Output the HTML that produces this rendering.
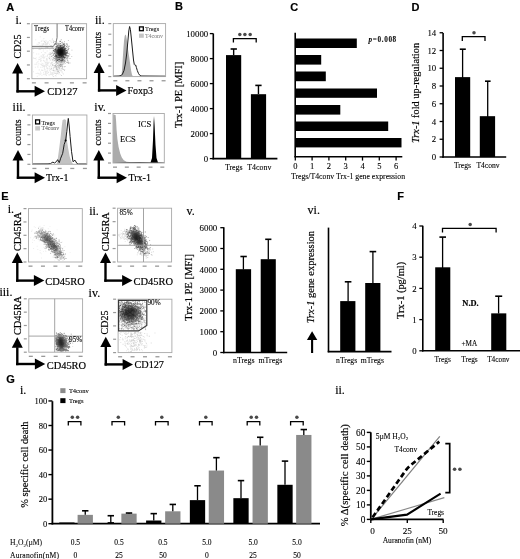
<!DOCTYPE html>
<html><head><meta charset="utf-8"><title>Figure</title>
<style>html,body{margin:0;padding:0;background:#fff;}body{width:520px;height:559px;overflow:hidden;font-family:"Liberation Serif",serif;}svg{display:block;will-change:transform;filter:blur(0.3px);}text{stroke:#000;stroke-width:0.18px;}</style>
</head><body>
<svg width="520" height="559" viewBox="0 0 520 559"><defs><filter id="b0_4" x="-50%" y="-50%" width="200%" height="200%"><feGaussianBlur stdDeviation="0.4"/></filter><filter id="b1_5" x="-50%" y="-50%" width="200%" height="200%"><feGaussianBlur stdDeviation="1.5"/></filter><filter id="b1_6" x="-50%" y="-50%" width="200%" height="200%"><feGaussianBlur stdDeviation="1.6"/></filter><filter id="b1_8" x="-50%" y="-50%" width="200%" height="200%"><feGaussianBlur stdDeviation="1.8"/></filter><filter id="b2_0" x="-50%" y="-50%" width="200%" height="200%"><feGaussianBlur stdDeviation="2.0"/></filter><filter id="b2_5" x="-50%" y="-50%" width="200%" height="200%"><feGaussianBlur stdDeviation="2.5"/></filter><filter id="b3" x="-50%" y="-50%" width="200%" height="200%"><feGaussianBlur stdDeviation="3"/></filter></defs><text x="6.3" y="10.8" font-family="Liberation Sans" font-size="11" text-anchor="start" font-weight="bold" font-style="normal" fill="#000">A</text>
<text x="15.4" y="24.4" font-family="Liberation Serif" font-size="12" text-anchor="start" font-weight="normal" font-style="normal" fill="#000">i.</text>
<text x="95" y="24.2" font-family="Liberation Serif" font-size="12" text-anchor="start" font-weight="normal" font-style="normal" fill="#000">ii.</text>
<text x="12.6" y="111" font-family="Liberation Serif" font-size="12" text-anchor="start" font-weight="normal" font-style="normal" fill="#000">iii.</text>
<text x="94.3" y="110.9" font-family="Liberation Serif" font-size="12" text-anchor="start" font-weight="normal" font-style="normal" fill="#000">iv.</text>
<rect x="26.9" y="23.1" width="3" height="1.2" fill="#999"/>
<rect x="26.9" y="36.85" width="3" height="1.2" fill="#999"/>
<rect x="26.9" y="50.6" width="3" height="1.2" fill="#999"/>
<rect x="26.9" y="64.35" width="3" height="1.2" fill="#999"/>
<rect x="26.9" y="78.1" width="3" height="1.2" fill="#999"/>
<rect x="31.9" y="82.2" width="4" height="1.3" fill="#999"/>
<rect x="44.57" y="82.2" width="4" height="1.3" fill="#999"/>
<rect x="57.25" y="82.2" width="4" height="1.3" fill="#999"/>
<rect x="69.92" y="82.2" width="4" height="1.3" fill="#999"/>
<rect x="82.6" y="82.2" width="4" height="1.3" fill="#999"/>
<path d="M59.98 53.44h0.9v0.9h-0.9zM60.07 50.79h0.9v0.9h-0.9zM58.1 51.12h0.9v0.9h-0.9zM63.81 53.16h0.9v0.9h-0.9zM63.6 52.6h0.9v0.9h-0.9zM61.81 52.39h0.9v0.9h-0.9zM56.04 54.54h0.9v0.9h-0.9zM62.12 53.4h0.9v0.9h-0.9zM55.96 46.22h0.9v0.9h-0.9zM58.21 50.3h0.9v0.9h-0.9zM61.56 51.65h0.9v0.9h-0.9zM62.16 49.74h0.9v0.9h-0.9zM61.56 53.06h0.9v0.9h-0.9zM58.85 57.3h0.9v0.9h-0.9zM62.26 55.63h0.9v0.9h-0.9zM58.96 49.43h0.9v0.9h-0.9zM59.74 51.46h0.9v0.9h-0.9zM62.47 52.59h0.9v0.9h-0.9zM59.45 48.74h0.9v0.9h-0.9zM59.24 55.71h0.9v0.9h-0.9zM58.44 52.58h0.9v0.9h-0.9zM61.89 47.03h0.9v0.9h-0.9zM60.84 55.98h0.9v0.9h-0.9zM55.06 50.77h0.9v0.9h-0.9zM60.4 49.18h0.9v0.9h-0.9zM62.09 51.6h0.9v0.9h-0.9zM56.6 54.45h0.9v0.9h-0.9zM62.57 54.83h0.9v0.9h-0.9zM64.73 52.96h0.9v0.9h-0.9zM61.03 47.64h0.9v0.9h-0.9zM62.42 49.84h0.9v0.9h-0.9zM59.43 47.75h0.9v0.9h-0.9zM57.99 50.1h0.9v0.9h-0.9zM64.31 45.3h0.9v0.9h-0.9zM56.62 52.57h0.9v0.9h-0.9zM64.74 53.65h0.9v0.9h-0.9zM55.38 43.74h0.9v0.9h-0.9zM61.7 49.44h0.9v0.9h-0.9zM57.56 54.93h0.9v0.9h-0.9zM63.79 52.3h0.9v0.9h-0.9zM61.39 53.19h0.9v0.9h-0.9zM65.16 53.78h0.9v0.9h-0.9zM62.15 53.55h0.9v0.9h-0.9zM56.31 55.9h0.9v0.9h-0.9zM63.37 53.49h0.9v0.9h-0.9zM55.17 49.77h0.9v0.9h-0.9zM63.06 46h0.9v0.9h-0.9zM60.18 55.06h0.9v0.9h-0.9zM57.03 56.95h0.9v0.9h-0.9zM62.25 51.32h0.9v0.9h-0.9zM61.61 53.88h0.9v0.9h-0.9zM61.04 55.47h0.9v0.9h-0.9zM58.85 50.47h0.9v0.9h-0.9zM63.62 51.89h0.9v0.9h-0.9zM58.23 54.83h0.9v0.9h-0.9zM64.8 50.38h0.9v0.9h-0.9zM56.84 51.37h0.9v0.9h-0.9zM60.28 50.85h0.9v0.9h-0.9zM64.63 48.51h0.9v0.9h-0.9zM64.23 47.74h0.9v0.9h-0.9zM58.5 53.82h0.9v0.9h-0.9zM63.86 54.55h0.9v0.9h-0.9zM61.67 52.26h0.9v0.9h-0.9zM61.13 53.64h0.9v0.9h-0.9zM60.21 52.69h0.9v0.9h-0.9zM62.3 51.8h0.9v0.9h-0.9zM62.84 53.61h0.9v0.9h-0.9zM66.33 52.84h0.9v0.9h-0.9zM59.5 50.61h0.9v0.9h-0.9zM60.66 54.76h0.9v0.9h-0.9zM59.76 53.03h0.9v0.9h-0.9zM65.84 43.59h0.9v0.9h-0.9zM57.55 52.58h0.9v0.9h-0.9zM61.82 52.56h0.9v0.9h-0.9zM59.49 53.9h0.9v0.9h-0.9zM61.49 50.13h0.9v0.9h-0.9zM67.5 52.94h0.9v0.9h-0.9zM59.15 51.48h0.9v0.9h-0.9zM60.07 51.6h0.9v0.9h-0.9zM53.06 50.24h0.9v0.9h-0.9zM63.52 48.06h0.9v0.9h-0.9zM60.51 54.85h0.9v0.9h-0.9zM63.1 56.57h0.9v0.9h-0.9zM55.94 50.67h0.9v0.9h-0.9zM59.75 53.79h0.9v0.9h-0.9zM63.76 43.21h0.9v0.9h-0.9zM63.75 47.17h0.9v0.9h-0.9zM62.61 47.03h0.9v0.9h-0.9zM61.19 55.62h0.9v0.9h-0.9zM60.28 52.41h0.9v0.9h-0.9zM62.93 52.25h0.9v0.9h-0.9zM60.45 56.71h0.9v0.9h-0.9zM63.64 50.86h0.9v0.9h-0.9zM68.39 48.13h0.9v0.9h-0.9zM63.26 50.95h0.9v0.9h-0.9zM61.07 54.06h0.9v0.9h-0.9zM61.32 53.84h0.9v0.9h-0.9zM56.42 46.97h0.9v0.9h-0.9zM62.42 48.72h0.9v0.9h-0.9zM57.83 47.1h0.9v0.9h-0.9zM64.25 54.19h0.9v0.9h-0.9zM64.82 48.8h0.9v0.9h-0.9zM60.7 48.15h0.9v0.9h-0.9zM62.84 56.89h0.9v0.9h-0.9zM58.21 56.79h0.9v0.9h-0.9zM63.47 51.23h0.9v0.9h-0.9zM55.18 56.3h0.9v0.9h-0.9zM60.43 49.87h0.9v0.9h-0.9zM61.82 53.11h0.9v0.9h-0.9zM64.89 48.54h0.9v0.9h-0.9zM63.88 56.56h0.9v0.9h-0.9zM64.77 51.22h0.9v0.9h-0.9zM58.62 55.06h0.9v0.9h-0.9zM61.02 52.2h0.9v0.9h-0.9zM64.69 50.96h0.9v0.9h-0.9zM54.27 50.56h0.9v0.9h-0.9zM55.51 54.42h0.9v0.9h-0.9zM61.59 49.84h0.9v0.9h-0.9zM60.67 54.46h0.9v0.9h-0.9zM60.92 56.04h0.9v0.9h-0.9zM60.53 55.13h0.9v0.9h-0.9zM64.88 56.95h0.9v0.9h-0.9zM58.82 54.62h0.9v0.9h-0.9zM55.45 48.33h0.9v0.9h-0.9zM55.2 55.22h0.9v0.9h-0.9zM57.25 51.76h0.9v0.9h-0.9zM60.16 51.71h0.9v0.9h-0.9zM59.04 52.55h0.9v0.9h-0.9zM65.72 51.94h0.9v0.9h-0.9zM62.19 55h0.9v0.9h-0.9zM60.15 47.77h0.9v0.9h-0.9zM59.14 55.24h0.9v0.9h-0.9zM56.09 49.89h0.9v0.9h-0.9zM63.52 54.34h0.9v0.9h-0.9zM60.72 54.38h0.9v0.9h-0.9zM61.16 48.03h0.9v0.9h-0.9zM56.32 49.76h0.9v0.9h-0.9zM63.28 49.99h0.9v0.9h-0.9zM58.17 49.33h0.9v0.9h-0.9zM56.41 51.42h0.9v0.9h-0.9zM57.4 52.97h0.9v0.9h-0.9zM54.09 52.85h0.9v0.9h-0.9zM58.9 45.59h0.9v0.9h-0.9zM62.73 50.92h0.9v0.9h-0.9zM54.46 49h0.9v0.9h-0.9zM61.51 50.33h0.9v0.9h-0.9zM62.88 54.19h0.9v0.9h-0.9zM62.57 52.85h0.9v0.9h-0.9zM64.43 53.91h0.9v0.9h-0.9zM61.96 45.13h0.9v0.9h-0.9zM63.21 55.99h0.9v0.9h-0.9zM59.87 50.3h0.9v0.9h-0.9zM66.13 46.17h0.9v0.9h-0.9zM62.01 59.56h0.9v0.9h-0.9zM58.1 54.01h0.9v0.9h-0.9zM65.98 51.42h0.9v0.9h-0.9zM62.27 54.69h0.9v0.9h-0.9zM58.16 51.51h0.9v0.9h-0.9zM61.52 54.44h0.9v0.9h-0.9zM60.6 51.17h0.9v0.9h-0.9zM57.85 50.65h0.9v0.9h-0.9zM63.2 52.13h0.9v0.9h-0.9zM58.31 49.11h0.9v0.9h-0.9zM68.17 55.45h0.9v0.9h-0.9zM62.48 43.5h0.9v0.9h-0.9zM62.44 53.34h0.9v0.9h-0.9zM65.42 53.17h0.9v0.9h-0.9zM60.51 53.47h0.9v0.9h-0.9zM55.26 55.11h0.9v0.9h-0.9zM61.61 49.55h0.9v0.9h-0.9zM64.41 57.59h0.9v0.9h-0.9zM56.77 49.67h0.9v0.9h-0.9zM61.52 52.39h0.9v0.9h-0.9zM59.58 48.68h0.9v0.9h-0.9zM66.64 55.12h0.9v0.9h-0.9zM57.36 47.5h0.9v0.9h-0.9zM65.47 54.97h0.9v0.9h-0.9zM65.8 54.39h0.9v0.9h-0.9zM58.26 52.63h0.9v0.9h-0.9zM54.65 49.41h0.9v0.9h-0.9zM60.54 53.47h0.9v0.9h-0.9zM58.66 51.4h0.9v0.9h-0.9zM61.98 53.01h0.9v0.9h-0.9zM62.49 52.47h0.9v0.9h-0.9zM59.79 54.33h0.9v0.9h-0.9zM60.84 49.16h0.9v0.9h-0.9zM58.95 51.8h0.9v0.9h-0.9zM60.39 52.3h0.9v0.9h-0.9zM60.7 52.36h0.9v0.9h-0.9zM60.32 47.77h0.9v0.9h-0.9zM61.88 55.17h0.9v0.9h-0.9zM61.92 51.19h0.9v0.9h-0.9zM61.95 48.71h0.9v0.9h-0.9zM55.39 51.99h0.9v0.9h-0.9zM58.09 54.17h0.9v0.9h-0.9zM57.66 43.39h0.9v0.9h-0.9zM57.79 56.85h0.9v0.9h-0.9zM59.63 47.42h0.9v0.9h-0.9zM58.56 53.47h0.9v0.9h-0.9zM62.09 52.37h0.9v0.9h-0.9zM64.85 54.06h0.9v0.9h-0.9zM60.64 53.71h0.9v0.9h-0.9zM65.33 54.91h0.9v0.9h-0.9zM63.57 48.33h0.9v0.9h-0.9zM60.28 54.14h0.9v0.9h-0.9zM59.87 55.22h0.9v0.9h-0.9zM62.37 54.71h0.9v0.9h-0.9zM60.11 59.95h0.9v0.9h-0.9zM64.17 51.11h0.9v0.9h-0.9zM60.95 60.1h0.9v0.9h-0.9zM59.74 54.6h0.9v0.9h-0.9zM63.45 51.82h0.9v0.9h-0.9zM57.43 52.4h0.9v0.9h-0.9zM61.71 55.41h0.9v0.9h-0.9zM62.89 51.88h0.9v0.9h-0.9zM63.09 53.53h0.9v0.9h-0.9zM61.28 51.98h0.9v0.9h-0.9zM60.02 54h0.9v0.9h-0.9zM57.75 49.79h0.9v0.9h-0.9zM60.71 47.12h0.9v0.9h-0.9zM59.48 45.37h0.9v0.9h-0.9zM58.79 53.62h0.9v0.9h-0.9zM62.29 51.63h0.9v0.9h-0.9zM60.05 47.27h0.9v0.9h-0.9zM65.82 53.45h0.9v0.9h-0.9zM63.76 48.98h0.9v0.9h-0.9zM60.18 45.98h0.9v0.9h-0.9zM62.89 54.79h0.9v0.9h-0.9zM55.39 51.63h0.9v0.9h-0.9zM62.46 46.16h0.9v0.9h-0.9zM55.59 48.39h0.9v0.9h-0.9zM58.94 47.31h0.9v0.9h-0.9zM60.79 52.6h0.9v0.9h-0.9zM62.48 54.05h0.9v0.9h-0.9zM64.91 55.53h0.9v0.9h-0.9zM57.03 50.18h0.9v0.9h-0.9zM57.73 48.35h0.9v0.9h-0.9zM60.47 51.82h0.9v0.9h-0.9zM62.07 46.72h0.9v0.9h-0.9zM57.23 51.73h0.9v0.9h-0.9zM60.14 50.8h0.9v0.9h-0.9zM60.52 49.37h0.9v0.9h-0.9zM62.66 52.93h0.9v0.9h-0.9zM60.45 49.65h0.9v0.9h-0.9zM60.21 43.09h0.9v0.9h-0.9zM57.95 51.92h0.9v0.9h-0.9zM56.49 52.44h0.9v0.9h-0.9zM61.11 47.39h0.9v0.9h-0.9zM60 50.8h0.9v0.9h-0.9zM61.99 53.76h0.9v0.9h-0.9zM60.6 49.08h0.9v0.9h-0.9zM60.3 51.59h0.9v0.9h-0.9zM62.76 52.74h0.9v0.9h-0.9zM58.68 47.47h0.9v0.9h-0.9zM59.66 49.43h0.9v0.9h-0.9zM57.59 51.43h0.9v0.9h-0.9zM59.33 52.14h0.9v0.9h-0.9zM62.17 50.48h0.9v0.9h-0.9zM67.21 50.77h0.9v0.9h-0.9zM63.78 52.19h0.9v0.9h-0.9zM63.83 44.2h0.9v0.9h-0.9zM58.6 52.59h0.9v0.9h-0.9zM62.39 59.28h0.9v0.9h-0.9zM61.6 55.9h0.9v0.9h-0.9zM62.85 54.83h0.9v0.9h-0.9zM62.13 51.3h0.9v0.9h-0.9zM62.13 48.35h0.9v0.9h-0.9zM64.01 48.54h0.9v0.9h-0.9zM61.4 58.59h0.9v0.9h-0.9zM60.07 51.86h0.9v0.9h-0.9zM63.96 51.88h0.9v0.9h-0.9zM58.44 52.63h0.9v0.9h-0.9zM62.33 54.07h0.9v0.9h-0.9zM58.54 57.41h0.9v0.9h-0.9zM65.37 51.86h0.9v0.9h-0.9zM61.45 50.43h0.9v0.9h-0.9zM64.66 49.54h0.9v0.9h-0.9zM62.59 50.26h0.9v0.9h-0.9zM58.76 54.1h0.9v0.9h-0.9zM64.43 51.77h0.9v0.9h-0.9zM58.8 54.4h0.9v0.9h-0.9zM60.56 52.79h0.9v0.9h-0.9zM64.96 55.42h0.9v0.9h-0.9zM59.24 59.11h0.9v0.9h-0.9zM60.71 54.32h0.9v0.9h-0.9zM58.89 51.66h0.9v0.9h-0.9zM55.8 57.52h0.9v0.9h-0.9zM64.52 47.91h0.9v0.9h-0.9zM56.49 46.61h0.9v0.9h-0.9zM63.99 50.33h0.9v0.9h-0.9zM60.53 50.8h0.9v0.9h-0.9zM60.36 48.32h0.9v0.9h-0.9zM60.77 47.2h0.9v0.9h-0.9zM60.5 52.79h0.9v0.9h-0.9zM62.01 51.06h0.9v0.9h-0.9zM58.17 52.31h0.9v0.9h-0.9zM59.34 56.81h0.9v0.9h-0.9zM62.85 51.43h0.9v0.9h-0.9zM59.38 49.55h0.9v0.9h-0.9zM58.08 50.67h0.9v0.9h-0.9zM61.53 53.45h0.9v0.9h-0.9zM62.29 58.52h0.9v0.9h-0.9zM58.73 51.84h0.9v0.9h-0.9zM68.52 45.83h0.9v0.9h-0.9zM59.24 52.34h0.9v0.9h-0.9zM61.13 53.11h0.9v0.9h-0.9zM60.03 52.97h0.9v0.9h-0.9zM60.85 54.27h0.9v0.9h-0.9zM55.4 48.97h0.9v0.9h-0.9zM60.69 48.5h0.9v0.9h-0.9zM57.77 53.81h0.9v0.9h-0.9zM58.88 53.83h0.9v0.9h-0.9zM62.79 52.78h0.9v0.9h-0.9zM62.12 51.47h0.9v0.9h-0.9zM56.75 51.7h0.9v0.9h-0.9zM61.97 50.11h0.9v0.9h-0.9zM60.42 54.2h0.9v0.9h-0.9zM58.24 53.85h0.9v0.9h-0.9zM65.92 50.03h0.9v0.9h-0.9zM61.11 51.32h0.9v0.9h-0.9zM65.01 52.81h0.9v0.9h-0.9zM63.21 49.59h0.9v0.9h-0.9zM60.65 51.77h0.9v0.9h-0.9zM55.73 56.41h0.9v0.9h-0.9zM63.22 46.2h0.9v0.9h-0.9zM62.78 51.38h0.9v0.9h-0.9zM61.96 52.97h0.9v0.9h-0.9zM56.5 51.12h0.9v0.9h-0.9zM64.88 49.96h0.9v0.9h-0.9zM57.84 47.45h0.9v0.9h-0.9zM57.28 52.87h0.9v0.9h-0.9zM65.44 53.17h0.9v0.9h-0.9zM61.39 58.95h0.9v0.9h-0.9zM59.25 49.64h0.9v0.9h-0.9zM62.18 53.56h0.9v0.9h-0.9zM57.86 48.06h0.9v0.9h-0.9zM61.51 52.59h0.9v0.9h-0.9zM57.04 51.15h0.9v0.9h-0.9zM59.18 53.27h0.9v0.9h-0.9zM60.37 51.52h0.9v0.9h-0.9zM59.71 55.17h0.9v0.9h-0.9zM64.59 50.63h0.9v0.9h-0.9zM63.07 49.38h0.9v0.9h-0.9zM60.9 54.2h0.9v0.9h-0.9zM64.94 50.58h0.9v0.9h-0.9zM60.49 52.43h0.9v0.9h-0.9zM56.51 51.85h0.9v0.9h-0.9zM58.81 52.99h0.9v0.9h-0.9zM57.54 45.47h0.9v0.9h-0.9zM60.81 52.63h0.9v0.9h-0.9zM59.16 54.64h0.9v0.9h-0.9zM59.94 49.86h0.9v0.9h-0.9zM62.04 46.78h0.9v0.9h-0.9zM58.8 51.73h0.9v0.9h-0.9zM63.08 51.28h0.9v0.9h-0.9zM61.56 49.7h0.9v0.9h-0.9zM61.54 57.12h0.9v0.9h-0.9zM58.78 59.37h0.9v0.9h-0.9zM58.9 51.85h0.9v0.9h-0.9zM61.19 55.08h0.9v0.9h-0.9zM57.24 45.08h0.9v0.9h-0.9zM62.4 54.35h0.9v0.9h-0.9zM62.45 60.22h0.9v0.9h-0.9zM61.27 52.61h0.9v0.9h-0.9zM63.3 52.98h0.9v0.9h-0.9zM65.36 47.84h0.9v0.9h-0.9zM59.65 40.78h0.9v0.9h-0.9zM62.97 50.61h0.9v0.9h-0.9zM63.29 58.69h0.9v0.9h-0.9zM60.68 50.99h0.9v0.9h-0.9zM59.3 49.12h0.9v0.9h-0.9zM58.93 53.85h0.9v0.9h-0.9zM60.8 52.01h0.9v0.9h-0.9zM60.21 54.73h0.9v0.9h-0.9zM62.08 51.35h0.9v0.9h-0.9zM62.56 51.31h0.9v0.9h-0.9zM57.47 56.46h0.9v0.9h-0.9zM62 48.74h0.9v0.9h-0.9zM63.72 52.9h0.9v0.9h-0.9zM56.32 56.95h0.9v0.9h-0.9zM61.63 54.65h0.9v0.9h-0.9zM61.25 51.32h0.9v0.9h-0.9zM56.37 54.91h0.9v0.9h-0.9zM60.78 50.88h0.9v0.9h-0.9zM61.68 52.05h0.9v0.9h-0.9zM62.59 50.61h0.9v0.9h-0.9zM60.6 44.96h0.9v0.9h-0.9zM59.51 53.96h0.9v0.9h-0.9zM64.44 50.64h0.9v0.9h-0.9zM60.36 56.87h0.9v0.9h-0.9zM59.79 54.15h0.9v0.9h-0.9zM65.4 51.93h0.9v0.9h-0.9zM64.14 49.53h0.9v0.9h-0.9zM61.28 51.55h0.9v0.9h-0.9zM61.02 55.42h0.9v0.9h-0.9zM67.39 49.67h0.9v0.9h-0.9zM59.09 53.39h0.9v0.9h-0.9zM57.75 53.39h0.9v0.9h-0.9zM62.3 50.91h0.9v0.9h-0.9zM62.19 46.84h0.9v0.9h-0.9zM62.83 46.86h0.9v0.9h-0.9zM58.75 50.02h0.9v0.9h-0.9zM59.58 54.55h0.9v0.9h-0.9zM60.93 50.53h0.9v0.9h-0.9zM62.22 56.86h0.9v0.9h-0.9zM60.72 52.97h0.9v0.9h-0.9zM64.17 52.66h0.9v0.9h-0.9zM57.11 59.77h0.9v0.9h-0.9zM66.88 45.45h0.9v0.9h-0.9zM60.59 53.14h0.9v0.9h-0.9zM63.4 53.94h0.9v0.9h-0.9zM59.94 48.43h0.9v0.9h-0.9zM60.99 55.11h0.9v0.9h-0.9zM57.65 48.51h0.9v0.9h-0.9zM60.63 45.6h0.9v0.9h-0.9zM59.97 50.4h0.9v0.9h-0.9zM61.96 49.55h0.9v0.9h-0.9zM58.23 50.54h0.9v0.9h-0.9zM60.56 49.67h0.9v0.9h-0.9zM60.73 54.2h0.9v0.9h-0.9zM64.02 57.26h0.9v0.9h-0.9zM58.51 50.46h0.9v0.9h-0.9zM53.75 57.88h0.9v0.9h-0.9zM58.67 51.69h0.9v0.9h-0.9zM62.16 47.45h0.9v0.9h-0.9zM62 51.72h0.9v0.9h-0.9zM55.59 52.73h0.9v0.9h-0.9zM64.04 45.82h0.9v0.9h-0.9zM62.96 52.47h0.9v0.9h-0.9zM62.03 53.21h0.9v0.9h-0.9zM64.35 51.08h0.9v0.9h-0.9zM63.15 50.49h0.9v0.9h-0.9zM62.74 49.2h0.9v0.9h-0.9zM60.4 57.34h0.9v0.9h-0.9zM61.95 51.29h0.9v0.9h-0.9zM57.49 49.27h0.9v0.9h-0.9zM61.24 54.81h0.9v0.9h-0.9zM61.89 53.48h0.9v0.9h-0.9zM60.58 56.13h0.9v0.9h-0.9zM59.61 50.04h0.9v0.9h-0.9zM63.19 52h0.9v0.9h-0.9zM59.92 49.96h0.9v0.9h-0.9zM59.98 53.8h0.9v0.9h-0.9zM61.69 47.93h0.9v0.9h-0.9zM61.89 52.37h0.9v0.9h-0.9zM57.9 54.27h0.9v0.9h-0.9zM59.91 50.73h0.9v0.9h-0.9zM62.93 56.03h0.9v0.9h-0.9zM58.77 53.2h0.9v0.9h-0.9zM58.25 59.21h0.9v0.9h-0.9zM59.32 55.62h0.9v0.9h-0.9zM58.89 54.4h0.9v0.9h-0.9zM66.91 43.67h0.9v0.9h-0.9zM59.48 53.4h0.9v0.9h-0.9zM60.44 49.66h0.9v0.9h-0.9zM66.73 52.05h0.9v0.9h-0.9zM56.1 54.53h0.9v0.9h-0.9zM55.88 55.48h0.9v0.9h-0.9zM59.08 52.26h0.9v0.9h-0.9zM64.23 52.18h0.9v0.9h-0.9zM56.8 46.37h0.9v0.9h-0.9zM64.01 54.17h0.9v0.9h-0.9zM58.42 54.55h0.9v0.9h-0.9zM62.09 53.87h0.9v0.9h-0.9zM54.38 50.83h0.9v0.9h-0.9zM63.22 54.15h0.9v0.9h-0.9zM63.17 43.94h0.9v0.9h-0.9zM61.17 53.38h0.9v0.9h-0.9zM67.85 48.75h0.9v0.9h-0.9zM59.78 51.91h0.9v0.9h-0.9zM63.18 50.38h0.9v0.9h-0.9zM63.91 49.28h0.9v0.9h-0.9zM61.45 50.11h0.9v0.9h-0.9zM61.14 49.59h0.9v0.9h-0.9zM56.23 55.3h0.9v0.9h-0.9zM61.55 50.01h0.9v0.9h-0.9zM61.26 54.97h0.9v0.9h-0.9zM57.96 51.45h0.9v0.9h-0.9zM62.21 53.48h0.9v0.9h-0.9zM59.76 45.06h0.9v0.9h-0.9z" fill="#000" fill-opacity="0.55"/>
<path d="M64.72 54.64h0.9v0.9h-0.9zM60.05 51.61h0.9v0.9h-0.9zM61 50.87h0.9v0.9h-0.9zM56.11 49.3h0.9v0.9h-0.9zM57.73 49.94h0.9v0.9h-0.9zM55.6 56.18h0.9v0.9h-0.9zM55.02 56.3h0.9v0.9h-0.9zM56.14 54.76h0.9v0.9h-0.9zM65.22 54.02h0.9v0.9h-0.9zM57.22 53.24h0.9v0.9h-0.9zM60.56 44.33h0.9v0.9h-0.9zM57.69 53.82h0.9v0.9h-0.9zM58.22 53.4h0.9v0.9h-0.9zM62.79 56.83h0.9v0.9h-0.9zM63.44 55.94h0.9v0.9h-0.9zM58.91 52.91h0.9v0.9h-0.9zM58.97 51.43h0.9v0.9h-0.9zM59.32 44.38h0.9v0.9h-0.9zM58.73 52.88h0.9v0.9h-0.9zM56.3 52.88h0.9v0.9h-0.9zM61.96 52.18h0.9v0.9h-0.9zM67.89 39.97h0.9v0.9h-0.9zM59.22 43.87h0.9v0.9h-0.9zM63.72 66.27h0.9v0.9h-0.9zM50.49 53.64h0.9v0.9h-0.9zM61.97 51.49h0.9v0.9h-0.9zM62.1 41.79h0.9v0.9h-0.9zM63.24 54.86h0.9v0.9h-0.9zM60.09 50.06h0.9v0.9h-0.9zM62.43 50.57h0.9v0.9h-0.9zM60.85 50.45h0.9v0.9h-0.9zM51.46 52.84h0.9v0.9h-0.9zM60.77 56.77h0.9v0.9h-0.9zM56.67 52.83h0.9v0.9h-0.9zM62.35 53.73h0.9v0.9h-0.9zM64.72 62.96h0.9v0.9h-0.9zM56.55 43.4h0.9v0.9h-0.9zM63.26 60.65h0.9v0.9h-0.9zM63.5 57.07h0.9v0.9h-0.9zM57.65 49.43h0.9v0.9h-0.9zM63.38 48.44h0.9v0.9h-0.9zM53.11 48.01h0.9v0.9h-0.9zM69.47 62.62h0.9v0.9h-0.9zM57.39 49.36h0.9v0.9h-0.9zM60.88 49.25h0.9v0.9h-0.9zM64.98 52.61h0.9v0.9h-0.9zM55.87 59.54h0.9v0.9h-0.9zM57.78 54.11h0.9v0.9h-0.9zM59.95 51.43h0.9v0.9h-0.9zM61.23 49.54h0.9v0.9h-0.9zM52.99 41.96h0.9v0.9h-0.9zM55.19 49.21h0.9v0.9h-0.9zM59.91 53.28h0.9v0.9h-0.9zM62.11 53.6h0.9v0.9h-0.9zM56.98 49.46h0.9v0.9h-0.9zM51.95 52.15h0.9v0.9h-0.9zM61.84 55.65h0.9v0.9h-0.9zM59.54 52.13h0.9v0.9h-0.9zM63.56 53.08h0.9v0.9h-0.9zM62.8 55.91h0.9v0.9h-0.9zM60.81 59.53h0.9v0.9h-0.9zM57.82 51.21h0.9v0.9h-0.9zM56.93 49.01h0.9v0.9h-0.9zM65.91 61.8h0.9v0.9h-0.9zM60.09 55.84h0.9v0.9h-0.9zM64.47 57.04h0.9v0.9h-0.9zM64.58 46.69h0.9v0.9h-0.9zM57.57 55.26h0.9v0.9h-0.9zM65.45 53.52h0.9v0.9h-0.9zM56.74 51.23h0.9v0.9h-0.9zM57.49 48.71h0.9v0.9h-0.9zM65.7 49.87h0.9v0.9h-0.9zM60.08 63.81h0.9v0.9h-0.9zM64.5 54.68h0.9v0.9h-0.9zM57.67 55.05h0.9v0.9h-0.9zM66.16 56.12h0.9v0.9h-0.9zM64.79 53.49h0.9v0.9h-0.9zM61.96 52h0.9v0.9h-0.9zM61.62 59.5h0.9v0.9h-0.9zM54.56 52.69h0.9v0.9h-0.9zM60.91 50.14h0.9v0.9h-0.9zM58.83 56.93h0.9v0.9h-0.9zM67.61 56.15h0.9v0.9h-0.9zM61.24 45.24h0.9v0.9h-0.9zM67.32 53.38h0.9v0.9h-0.9zM59.87 47.41h0.9v0.9h-0.9zM59.78 47.52h0.9v0.9h-0.9zM60.27 55.33h0.9v0.9h-0.9zM60.12 54.4h0.9v0.9h-0.9zM56.76 60.15h0.9v0.9h-0.9zM57.52 43.91h0.9v0.9h-0.9zM59.29 49.18h0.9v0.9h-0.9zM56.16 51.23h0.9v0.9h-0.9zM61.11 47.09h0.9v0.9h-0.9zM59.48 60.13h0.9v0.9h-0.9zM62.59 52.24h0.9v0.9h-0.9zM60.49 52.4h0.9v0.9h-0.9zM59.82 56.66h0.9v0.9h-0.9zM59.65 40.98h0.9v0.9h-0.9zM59.92 48.55h0.9v0.9h-0.9zM62.47 49.95h0.9v0.9h-0.9zM60.56 63.89h0.9v0.9h-0.9zM56.02 47.38h0.9v0.9h-0.9zM54.64 41.03h0.9v0.9h-0.9zM52.86 54.82h0.9v0.9h-0.9zM57.58 43.66h0.9v0.9h-0.9zM54.37 56.09h0.9v0.9h-0.9zM57.05 51.17h0.9v0.9h-0.9zM61.26 59.78h0.9v0.9h-0.9zM67.38 58.16h0.9v0.9h-0.9zM60.55 53.92h0.9v0.9h-0.9zM66.85 60.14h0.9v0.9h-0.9zM58.82 55.29h0.9v0.9h-0.9zM61.09 53.26h0.9v0.9h-0.9zM58.1 46.37h0.9v0.9h-0.9zM57.97 45.28h0.9v0.9h-0.9zM64.65 55.68h0.9v0.9h-0.9zM55.42 59.98h0.9v0.9h-0.9zM63.39 43.46h0.9v0.9h-0.9zM67 57.05h0.9v0.9h-0.9zM67.84 46.84h0.9v0.9h-0.9zM62.02 55.12h0.9v0.9h-0.9zM60.77 53.86h0.9v0.9h-0.9zM64 45.53h0.9v0.9h-0.9zM55.28 46.03h0.9v0.9h-0.9zM57.88 49.97h0.9v0.9h-0.9zM61.4 54.33h0.9v0.9h-0.9zM60.12 49.62h0.9v0.9h-0.9zM58.32 57.76h0.9v0.9h-0.9zM62.9 53.5h0.9v0.9h-0.9zM58.77 60.77h0.9v0.9h-0.9zM57.74 56.24h0.9v0.9h-0.9zM64.38 51.67h0.9v0.9h-0.9zM63.14 47.42h0.9v0.9h-0.9zM63.85 54h0.9v0.9h-0.9zM53.97 56.35h0.9v0.9h-0.9zM56.61 59.41h0.9v0.9h-0.9zM57.42 52.18h0.9v0.9h-0.9zM61.08 51.34h0.9v0.9h-0.9zM60.99 50.23h0.9v0.9h-0.9zM62.55 53.03h0.9v0.9h-0.9zM60.8 39.24h0.9v0.9h-0.9zM64.41 53.16h0.9v0.9h-0.9zM53.23 53.48h0.9v0.9h-0.9zM61.78 58.35h0.9v0.9h-0.9zM55.89 60.74h0.9v0.9h-0.9zM59.39 64.97h0.9v0.9h-0.9zM59.44 56.4h0.9v0.9h-0.9zM58.61 47.42h0.9v0.9h-0.9zM64.17 57.53h0.9v0.9h-0.9zM65.85 57.28h0.9v0.9h-0.9zM57.82 44.69h0.9v0.9h-0.9zM57.53 49.62h0.9v0.9h-0.9zM56.9 55.91h0.9v0.9h-0.9zM61.25 51.65h0.9v0.9h-0.9zM60.66 52.27h0.9v0.9h-0.9zM60.81 56.76h0.9v0.9h-0.9zM63.65 49.57h0.9v0.9h-0.9zM54.27 60.14h0.9v0.9h-0.9zM60.44 58.53h0.9v0.9h-0.9zM53.76 51.35h0.9v0.9h-0.9zM60.1 45.79h0.9v0.9h-0.9zM58.04 56.62h0.9v0.9h-0.9zM64.1 60.97h0.9v0.9h-0.9zM56.72 45.99h0.9v0.9h-0.9zM61.98 57.7h0.9v0.9h-0.9zM60.73 46.49h0.9v0.9h-0.9zM62.97 56.96h0.9v0.9h-0.9zM62.1 50.56h0.9v0.9h-0.9zM61.16 56.95h0.9v0.9h-0.9zM57.88 43.78h0.9v0.9h-0.9zM61.25 55.4h0.9v0.9h-0.9zM60.05 57.45h0.9v0.9h-0.9zM57.77 52.59h0.9v0.9h-0.9zM58.84 55.86h0.9v0.9h-0.9zM66.06 51.74h0.9v0.9h-0.9zM67.81 60.64h0.9v0.9h-0.9zM63 55.94h0.9v0.9h-0.9zM66.73 52.1h0.9v0.9h-0.9zM59.57 47.69h0.9v0.9h-0.9zM61.8 59.72h0.9v0.9h-0.9zM62.02 55.12h0.9v0.9h-0.9zM59.24 53.85h0.9v0.9h-0.9zM54.58 58.24h0.9v0.9h-0.9zM58.44 47.48h0.9v0.9h-0.9zM57.14 48.88h0.9v0.9h-0.9zM63.25 58.29h0.9v0.9h-0.9zM54.84 57.63h0.9v0.9h-0.9zM63.37 50.1h0.9v0.9h-0.9zM54.35 49.27h0.9v0.9h-0.9zM57.59 54.71h0.9v0.9h-0.9zM58.64 42.86h0.9v0.9h-0.9zM60.89 45.33h0.9v0.9h-0.9zM63.44 46.97h0.9v0.9h-0.9zM57.37 48.73h0.9v0.9h-0.9zM57.94 59.49h0.9v0.9h-0.9zM63.24 56.01h0.9v0.9h-0.9zM61.21 45.26h0.9v0.9h-0.9zM58.02 50.24h0.9v0.9h-0.9zM56.29 55.55h0.9v0.9h-0.9zM57.18 49.45h0.9v0.9h-0.9zM56.03 42.71h0.9v0.9h-0.9zM62.26 59.65h0.9v0.9h-0.9zM60.66 48.12h0.9v0.9h-0.9zM49.72 53.86h0.9v0.9h-0.9zM64.62 54.49h0.9v0.9h-0.9zM63.52 60.39h0.9v0.9h-0.9zM64.28 50.79h0.9v0.9h-0.9zM64 56.88h0.9v0.9h-0.9zM54.16 50.97h0.9v0.9h-0.9zM54.59 52.45h0.9v0.9h-0.9zM62.2 47.66h0.9v0.9h-0.9zM52.19 59.49h0.9v0.9h-0.9zM61.43 60.36h0.9v0.9h-0.9zM54.97 58.3h0.9v0.9h-0.9zM67.88 63.04h0.9v0.9h-0.9zM59.2 54.35h0.9v0.9h-0.9zM59.41 57.99h0.9v0.9h-0.9zM63.94 53.43h0.9v0.9h-0.9zM54.84 56.71h0.9v0.9h-0.9zM58.21 56.14h0.9v0.9h-0.9zM61 61.12h0.9v0.9h-0.9zM64.32 50.75h0.9v0.9h-0.9zM61.33 61.82h0.9v0.9h-0.9zM57.96 55.17h0.9v0.9h-0.9zM64.52 59.28h0.9v0.9h-0.9zM61.97 46.4h0.9v0.9h-0.9zM55.21 54.24h0.9v0.9h-0.9zM61.47 65.74h0.9v0.9h-0.9zM56.73 58.69h0.9v0.9h-0.9zM62.93 44.64h0.9v0.9h-0.9zM56.89 53.83h0.9v0.9h-0.9zM58.12 52.23h0.9v0.9h-0.9zM61.79 48.95h0.9v0.9h-0.9zM61.77 49.82h0.9v0.9h-0.9zM57.93 55.68h0.9v0.9h-0.9zM57.82 54.44h0.9v0.9h-0.9zM66.08 53.14h0.9v0.9h-0.9zM59.44 56.68h0.9v0.9h-0.9zM58.61 58.41h0.9v0.9h-0.9zM55.13 56.09h0.9v0.9h-0.9zM58.05 49.01h0.9v0.9h-0.9zM66.72 48.75h0.9v0.9h-0.9zM66.68 56.29h0.9v0.9h-0.9zM65.52 48.12h0.9v0.9h-0.9zM64.56 60.28h0.9v0.9h-0.9zM59.56 52.35h0.9v0.9h-0.9zM69.33 53.89h0.9v0.9h-0.9zM58.39 49.85h0.9v0.9h-0.9zM61.69 54.65h0.9v0.9h-0.9zM60.67 61.61h0.9v0.9h-0.9zM58.75 55.37h0.9v0.9h-0.9zM65.55 47.98h0.9v0.9h-0.9zM63.95 62.16h0.9v0.9h-0.9zM54.85 47.51h0.9v0.9h-0.9zM56.05 43.77h0.9v0.9h-0.9zM61.72 43.72h0.9v0.9h-0.9zM61.9 60.27h0.9v0.9h-0.9zM53.86 51.42h0.9v0.9h-0.9zM52.71 56.9h0.9v0.9h-0.9zM57.2 51.67h0.9v0.9h-0.9zM60.21 55.73h0.9v0.9h-0.9zM58.68 53.08h0.9v0.9h-0.9zM57.92 53.57h0.9v0.9h-0.9zM55.54 53.32h0.9v0.9h-0.9zM52.66 50.55h0.9v0.9h-0.9zM67.28 53.4h0.9v0.9h-0.9zM55.21 54.29h0.9v0.9h-0.9zM56.31 44.74h0.9v0.9h-0.9zM57.2 56.68h0.9v0.9h-0.9zM61.46 52.52h0.9v0.9h-0.9zM56.48 47.61h0.9v0.9h-0.9zM65.13 54.22h0.9v0.9h-0.9zM56.38 42.45h0.9v0.9h-0.9zM54.79 65.38h0.9v0.9h-0.9zM55.63 52.62h0.9v0.9h-0.9zM60.8 52.21h0.9v0.9h-0.9zM58.94 46.13h0.9v0.9h-0.9zM56.01 61.44h0.9v0.9h-0.9zM57.13 57.23h0.9v0.9h-0.9zM53.56 51.63h0.9v0.9h-0.9zM60.99 58.18h0.9v0.9h-0.9zM55.73 55.98h0.9v0.9h-0.9zM61.47 49.31h0.9v0.9h-0.9zM61.81 48.51h0.9v0.9h-0.9zM56.97 52.91h0.9v0.9h-0.9zM49.69 52.45h0.9v0.9h-0.9zM56.2 45.69h0.9v0.9h-0.9zM58.38 56.81h0.9v0.9h-0.9zM58.46 59.33h0.9v0.9h-0.9zM55.59 46.44h0.9v0.9h-0.9zM65.89 54.99h0.9v0.9h-0.9zM63.59 48.87h0.9v0.9h-0.9zM63.06 54.3h0.9v0.9h-0.9zM62.46 53.13h0.9v0.9h-0.9zM64.58 49.75h0.9v0.9h-0.9zM56.34 45.61h0.9v0.9h-0.9zM64.41 49.31h0.9v0.9h-0.9zM56.04 48.3h0.9v0.9h-0.9zM58.31 46.64h0.9v0.9h-0.9zM58.9 49.86h0.9v0.9h-0.9zM57.91 48.2h0.9v0.9h-0.9zM60.14 50.7h0.9v0.9h-0.9zM60.44 54.25h0.9v0.9h-0.9zM61.29 42.05h0.9v0.9h-0.9zM57.96 49.02h0.9v0.9h-0.9zM62.94 45.11h0.9v0.9h-0.9zM57.29 51.53h0.9v0.9h-0.9zM58.72 57.96h0.9v0.9h-0.9zM58.32 57.82h0.9v0.9h-0.9zM54.43 43.94h0.9v0.9h-0.9zM64.63 55.18h0.9v0.9h-0.9zM61.85 53.62h0.9v0.9h-0.9zM61.84 46.92h0.9v0.9h-0.9zM63.6 50.34h0.9v0.9h-0.9zM63.75 53.44h0.9v0.9h-0.9zM52.5 46.56h0.9v0.9h-0.9zM64.29 52.32h0.9v0.9h-0.9zM58.5 54.21h0.9v0.9h-0.9zM58.38 50.28h0.9v0.9h-0.9zM60.39 53.72h0.9v0.9h-0.9zM65.76 53.23h0.9v0.9h-0.9zM67.14 62.01h0.9v0.9h-0.9zM66.52 58.31h0.9v0.9h-0.9zM60.5 53.69h0.9v0.9h-0.9zM59.46 49.34h0.9v0.9h-0.9zM59.75 49.8h0.9v0.9h-0.9zM66.23 55.67h0.9v0.9h-0.9zM58.3 43.42h0.9v0.9h-0.9zM59.8 50.92h0.9v0.9h-0.9zM55.87 47.32h0.9v0.9h-0.9zM51.45 55.84h0.9v0.9h-0.9zM59.75 65.91h0.9v0.9h-0.9zM59.88 52.26h0.9v0.9h-0.9zM65.49 53.67h0.9v0.9h-0.9zM60.64 51.14h0.9v0.9h-0.9zM57.7 60.5h0.9v0.9h-0.9zM63.8 61.58h0.9v0.9h-0.9zM58.67 53.15h0.9v0.9h-0.9zM56.65 57.84h0.9v0.9h-0.9zM54.71 55.82h0.9v0.9h-0.9zM64.16 60.06h0.9v0.9h-0.9zM56.43 58.45h0.9v0.9h-0.9zM57.29 49.21h0.9v0.9h-0.9zM54.97 58.78h0.9v0.9h-0.9zM66.26 50.03h0.9v0.9h-0.9zM57.11 51.31h0.9v0.9h-0.9zM69.53 58.02h0.9v0.9h-0.9zM57.94 44.03h0.9v0.9h-0.9zM57.44 58.94h0.9v0.9h-0.9zM67.1 51.67h0.9v0.9h-0.9zM57.37 50.45h0.9v0.9h-0.9zM52.83 57.54h0.9v0.9h-0.9zM55.87 58.32h0.9v0.9h-0.9zM53.51 46.65h0.9v0.9h-0.9zM61.1 49.18h0.9v0.9h-0.9zM62.97 53.04h0.9v0.9h-0.9zM55.54 56.11h0.9v0.9h-0.9zM63.2 43.43h0.9v0.9h-0.9zM66.94 55.49h0.9v0.9h-0.9zM62.89 43.7h0.9v0.9h-0.9zM57.27 51.25h0.9v0.9h-0.9zM64.09 45.7h0.9v0.9h-0.9zM56.64 42.85h0.9v0.9h-0.9zM59.08 54.73h0.9v0.9h-0.9zM53.59 50.04h0.9v0.9h-0.9zM61.94 60.93h0.9v0.9h-0.9zM62.52 51.48h0.9v0.9h-0.9zM55.52 48.32h0.9v0.9h-0.9zM57.48 53.74h0.9v0.9h-0.9zM59.81 61.34h0.9v0.9h-0.9zM61.09 47.64h0.9v0.9h-0.9zM65.87 57.75h0.9v0.9h-0.9zM60.38 49.39h0.9v0.9h-0.9zM52.89 47.89h0.9v0.9h-0.9zM63.46 48.99h0.9v0.9h-0.9zM54.99 53.98h0.9v0.9h-0.9zM60.93 56.03h0.9v0.9h-0.9zM62.49 60.05h0.9v0.9h-0.9zM56.81 57.89h0.9v0.9h-0.9zM56.25 56.47h0.9v0.9h-0.9zM60.68 54.22h0.9v0.9h-0.9zM63.68 52.91h0.9v0.9h-0.9zM64.23 57.38h0.9v0.9h-0.9zM60.51 50.17h0.9v0.9h-0.9zM57.14 50.36h0.9v0.9h-0.9zM59.23 52.88h0.9v0.9h-0.9zM71.33 56.19h0.9v0.9h-0.9zM62.92 48.7h0.9v0.9h-0.9zM57.3 51.4h0.9v0.9h-0.9zM60.73 47.82h0.9v0.9h-0.9zM66.13 50.18h0.9v0.9h-0.9zM64.1 41.32h0.9v0.9h-0.9zM59.97 54.39h0.9v0.9h-0.9zM60.73 56.01h0.9v0.9h-0.9zM61.06 53.81h0.9v0.9h-0.9zM52.81 49.43h0.9v0.9h-0.9zM51.1 56.14h0.9v0.9h-0.9zM61.17 52.02h0.9v0.9h-0.9zM56.88 50.09h0.9v0.9h-0.9zM67.01 61.66h0.9v0.9h-0.9zM59.78 59.44h0.9v0.9h-0.9zM53.97 43.32h0.9v0.9h-0.9zM58.16 48.63h0.9v0.9h-0.9zM57.88 53.94h0.9v0.9h-0.9zM71.49 49.7h0.9v0.9h-0.9zM60.19 54.38h0.9v0.9h-0.9zM59.87 57.65h0.9v0.9h-0.9zM66.75 46.78h0.9v0.9h-0.9zM60.61 51.68h0.9v0.9h-0.9zM61.35 45.34h0.9v0.9h-0.9zM53.32 41.42h0.9v0.9h-0.9zM62 53.96h0.9v0.9h-0.9zM60.28 41.17h0.9v0.9h-0.9zM58.58 49.22h0.9v0.9h-0.9zM54.63 48.42h0.9v0.9h-0.9zM62.65 55.72h0.9v0.9h-0.9zM59.91 55.57h0.9v0.9h-0.9zM57.71 53.36h0.9v0.9h-0.9zM60.15 55.77h0.9v0.9h-0.9zM59.73 52.28h0.9v0.9h-0.9zM59.49 49.78h0.9v0.9h-0.9zM68.49 55.57h0.9v0.9h-0.9zM61.63 64.46h0.9v0.9h-0.9zM65.33 45.22h0.9v0.9h-0.9zM62.64 57.19h0.9v0.9h-0.9zM67.16 59.58h0.9v0.9h-0.9zM62.93 47.11h0.9v0.9h-0.9zM56.69 54.34h0.9v0.9h-0.9zM61.92 47.89h0.9v0.9h-0.9zM58.54 51h0.9v0.9h-0.9zM60.23 54.68h0.9v0.9h-0.9zM58.91 46.82h0.9v0.9h-0.9zM64.72 60.98h0.9v0.9h-0.9zM59.6 58.12h0.9v0.9h-0.9zM61.69 56.3h0.9v0.9h-0.9zM61.83 49.18h0.9v0.9h-0.9zM62.18 58.05h0.9v0.9h-0.9zM56.59 62.83h0.9v0.9h-0.9zM67.94 62.12h0.9v0.9h-0.9zM67.56 56.71h0.9v0.9h-0.9zM58.71 50h0.9v0.9h-0.9zM56.91 53.58h0.9v0.9h-0.9zM59.88 56.35h0.9v0.9h-0.9zM52.32 64.56h0.9v0.9h-0.9zM68.65 52.86h0.9v0.9h-0.9zM62.57 55.38h0.9v0.9h-0.9zM61.04 51.96h0.9v0.9h-0.9zM59.53 48.88h0.9v0.9h-0.9zM60.68 52.88h0.9v0.9h-0.9zM61.22 48.72h0.9v0.9h-0.9zM60.15 53.24h0.9v0.9h-0.9zM62.3 47.68h0.9v0.9h-0.9zM61.59 57.92h0.9v0.9h-0.9zM62.27 51.16h0.9v0.9h-0.9zM58.13 51.82h0.9v0.9h-0.9zM62.77 60.76h0.9v0.9h-0.9zM59.4 49.79h0.9v0.9h-0.9zM61.43 54.02h0.9v0.9h-0.9zM56.55 49.31h0.9v0.9h-0.9zM59.61 56.36h0.9v0.9h-0.9zM55.47 47.91h0.9v0.9h-0.9zM61.9 46.88h0.9v0.9h-0.9zM60.41 54.76h0.9v0.9h-0.9zM59.58 47.91h0.9v0.9h-0.9zM59.77 51.34h0.9v0.9h-0.9zM61.28 48.81h0.9v0.9h-0.9zM64.15 44.62h0.9v0.9h-0.9zM59.33 53.04h0.9v0.9h-0.9zM63.65 49.96h0.9v0.9h-0.9zM62.07 50.17h0.9v0.9h-0.9zM62.81 61.69h0.9v0.9h-0.9zM58.48 55.21h0.9v0.9h-0.9zM56.48 57.87h0.9v0.9h-0.9zM64.6 53.18h0.9v0.9h-0.9zM55.69 55.01h0.9v0.9h-0.9zM64.37 58.45h0.9v0.9h-0.9zM63.09 43.85h0.9v0.9h-0.9zM57.42 60.11h0.9v0.9h-0.9zM55.34 58.66h0.9v0.9h-0.9z" fill="#000" fill-opacity="0.3"/>
<path d="M64.65 66.19h0.9v0.9h-0.9zM62.36 60.17h0.9v0.9h-0.9zM55.32 61.43h0.9v0.9h-0.9zM58.4 61.74h0.9v0.9h-0.9zM61.09 61.2h0.9v0.9h-0.9zM59.58 64.33h0.9v0.9h-0.9zM58.98 72.14h0.9v0.9h-0.9zM60.33 62.47h0.9v0.9h-0.9zM58.38 58.56h0.9v0.9h-0.9zM63.03 62.83h0.9v0.9h-0.9zM55.76 58.91h0.9v0.9h-0.9zM58.59 59.55h0.9v0.9h-0.9zM62.25 55.61h0.9v0.9h-0.9zM60.48 62.79h0.9v0.9h-0.9zM55.47 62.26h0.9v0.9h-0.9zM58.72 64.76h0.9v0.9h-0.9zM57.65 63.67h0.9v0.9h-0.9zM54 56.04h0.9v0.9h-0.9zM61.35 67.73h0.9v0.9h-0.9zM58.96 58.71h0.9v0.9h-0.9zM62.25 50.5h0.9v0.9h-0.9zM56.6 65.7h0.9v0.9h-0.9zM60.96 56.32h0.9v0.9h-0.9zM53.34 69.99h0.9v0.9h-0.9zM59.46 57.07h0.9v0.9h-0.9zM59.16 66.96h0.9v0.9h-0.9zM51.22 68.11h0.9v0.9h-0.9zM61.22 50.55h0.9v0.9h-0.9zM61.31 52.21h0.9v0.9h-0.9zM62.42 64.19h0.9v0.9h-0.9zM65.76 58.64h0.9v0.9h-0.9zM59.01 67.76h0.9v0.9h-0.9zM57.08 58.12h0.9v0.9h-0.9zM57.88 61.6h0.9v0.9h-0.9zM55.75 64.66h0.9v0.9h-0.9zM60.63 62.39h0.9v0.9h-0.9zM64.1 60.2h0.9v0.9h-0.9zM62.92 58.99h0.9v0.9h-0.9zM61.27 51.36h0.9v0.9h-0.9zM59.59 61.04h0.9v0.9h-0.9zM57.51 58.64h0.9v0.9h-0.9zM57.96 58.04h0.9v0.9h-0.9zM52.42 58.72h0.9v0.9h-0.9zM57.35 59.12h0.9v0.9h-0.9zM55.83 61.25h0.9v0.9h-0.9zM61.35 60.62h0.9v0.9h-0.9zM57.52 69.47h0.9v0.9h-0.9zM61.93 67.07h0.9v0.9h-0.9zM62.47 60.2h0.9v0.9h-0.9zM58.61 68.12h0.9v0.9h-0.9zM57.34 61.34h0.9v0.9h-0.9zM60.13 64.05h0.9v0.9h-0.9zM58.17 67.41h0.9v0.9h-0.9zM58.47 65.99h0.9v0.9h-0.9zM62.21 65.63h0.9v0.9h-0.9zM61.2 55.62h0.9v0.9h-0.9zM55.07 58.6h0.9v0.9h-0.9zM60.43 70.25h0.9v0.9h-0.9zM55.33 63.69h0.9v0.9h-0.9zM56.44 57.97h0.9v0.9h-0.9zM58.17 65.8h0.9v0.9h-0.9zM59.64 68.49h0.9v0.9h-0.9zM56.04 66.89h0.9v0.9h-0.9zM61.79 62.38h0.9v0.9h-0.9zM60.43 58.9h0.9v0.9h-0.9zM55.73 59.77h0.9v0.9h-0.9zM57.54 71.08h0.9v0.9h-0.9zM59.61 63.72h0.9v0.9h-0.9zM61.23 57.72h0.9v0.9h-0.9zM61.75 64.07h0.9v0.9h-0.9zM54.45 65.31h0.9v0.9h-0.9zM60.66 64.49h0.9v0.9h-0.9zM63.75 59.72h0.9v0.9h-0.9zM60.54 66.12h0.9v0.9h-0.9zM56.3 68.6h0.9v0.9h-0.9zM54.65 54.85h0.9v0.9h-0.9zM60.57 56.01h0.9v0.9h-0.9zM58.65 52.95h0.9v0.9h-0.9zM59.21 55.77h0.9v0.9h-0.9zM60.03 53.57h0.9v0.9h-0.9zM60.35 60.53h0.9v0.9h-0.9zM59.19 61.63h0.9v0.9h-0.9zM59.39 54.73h0.9v0.9h-0.9zM51.31 62.19h0.9v0.9h-0.9zM56.19 59.5h0.9v0.9h-0.9zM60.28 51.08h0.9v0.9h-0.9zM56.71 58.64h0.9v0.9h-0.9zM55.83 63.8h0.9v0.9h-0.9zM58.58 57.49h0.9v0.9h-0.9zM56.05 66.44h0.9v0.9h-0.9zM57.02 65.22h0.9v0.9h-0.9zM60.35 51.58h0.9v0.9h-0.9zM55.75 62.02h0.9v0.9h-0.9zM60.03 66.29h0.9v0.9h-0.9zM61.41 67.69h0.9v0.9h-0.9zM57.88 60.84h0.9v0.9h-0.9zM61.33 59.66h0.9v0.9h-0.9zM62.17 53.26h0.9v0.9h-0.9zM60.96 61.05h0.9v0.9h-0.9zM53.1 67.39h0.9v0.9h-0.9zM59.93 62.12h0.9v0.9h-0.9zM55.77 59.44h0.9v0.9h-0.9zM63.54 57.45h0.9v0.9h-0.9zM48.58 57.29h0.9v0.9h-0.9zM55.4 61.27h0.9v0.9h-0.9zM57.82 56.98h0.9v0.9h-0.9zM56.47 67.76h0.9v0.9h-0.9zM54.67 72.76h0.9v0.9h-0.9zM57.37 55.99h0.9v0.9h-0.9zM61.36 65.1h0.9v0.9h-0.9zM55.87 66.12h0.9v0.9h-0.9zM53.48 56.92h0.9v0.9h-0.9zM62.38 60.59h0.9v0.9h-0.9zM55.09 64.83h0.9v0.9h-0.9zM61.75 61.88h0.9v0.9h-0.9zM53.58 60.1h0.9v0.9h-0.9zM60.25 66.23h0.9v0.9h-0.9zM64.56 60.61h0.9v0.9h-0.9zM57.55 61.79h0.9v0.9h-0.9zM62.62 56.82h0.9v0.9h-0.9zM62.92 46.88h0.9v0.9h-0.9zM61.39 58.28h0.9v0.9h-0.9zM60.38 65.79h0.9v0.9h-0.9zM55.45 61.52h0.9v0.9h-0.9zM59.72 65.23h0.9v0.9h-0.9zM56.21 56.55h0.9v0.9h-0.9zM53.23 75.97h0.9v0.9h-0.9zM58.42 60.78h0.9v0.9h-0.9zM54.52 67.11h0.9v0.9h-0.9zM57.4 69.9h0.9v0.9h-0.9zM61.56 62.12h0.9v0.9h-0.9zM61.18 55.88h0.9v0.9h-0.9zM58.02 58.83h0.9v0.9h-0.9zM55.19 62.09h0.9v0.9h-0.9zM58.57 69.89h0.9v0.9h-0.9zM48.94 58.3h0.9v0.9h-0.9zM56.24 59.45h0.9v0.9h-0.9zM60.27 64.22h0.9v0.9h-0.9zM59.08 59.39h0.9v0.9h-0.9zM60.48 63.98h0.9v0.9h-0.9zM53.47 60.56h0.9v0.9h-0.9zM54.88 55.5h0.9v0.9h-0.9zM59.44 62.33h0.9v0.9h-0.9zM59.34 57.18h0.9v0.9h-0.9zM58.4 56.98h0.9v0.9h-0.9zM60.15 65.79h0.9v0.9h-0.9zM64.27 68.96h0.9v0.9h-0.9zM56.58 59.48h0.9v0.9h-0.9zM56.18 63.68h0.9v0.9h-0.9zM64.94 65.9h0.9v0.9h-0.9zM52.4 55.08h0.9v0.9h-0.9zM55.12 64.83h0.9v0.9h-0.9zM59 63.65h0.9v0.9h-0.9zM64.34 57.45h0.9v0.9h-0.9zM56.46 72.81h0.9v0.9h-0.9zM60.03 57.72h0.9v0.9h-0.9zM52.91 53.62h0.9v0.9h-0.9zM51.67 62.38h0.9v0.9h-0.9zM59.13 67.46h0.9v0.9h-0.9zM58.58 58.19h0.9v0.9h-0.9zM56.78 72.46h0.9v0.9h-0.9zM53.7 62.96h0.9v0.9h-0.9zM59.08 65.39h0.9v0.9h-0.9zM57.79 64.75h0.9v0.9h-0.9zM61.45 61.19h0.9v0.9h-0.9zM57.63 60.98h0.9v0.9h-0.9zM56.11 60.86h0.9v0.9h-0.9zM58.09 63.16h0.9v0.9h-0.9zM63.01 69.19h0.9v0.9h-0.9zM57.66 65.32h0.9v0.9h-0.9zM59.88 66.19h0.9v0.9h-0.9zM59.06 63.46h0.9v0.9h-0.9zM57.59 57.68h0.9v0.9h-0.9zM61.62 69.14h0.9v0.9h-0.9zM60.99 64.4h0.9v0.9h-0.9zM59.8 59.52h0.9v0.9h-0.9zM53.65 65.65h0.9v0.9h-0.9zM59.6 58.95h0.9v0.9h-0.9zM56.11 69.03h0.9v0.9h-0.9zM53.59 71.69h0.9v0.9h-0.9zM60.92 75.04h0.9v0.9h-0.9zM56.85 61.88h0.9v0.9h-0.9zM57.48 62.85h0.9v0.9h-0.9zM58.37 57.88h0.9v0.9h-0.9zM62.22 57.68h0.9v0.9h-0.9zM57.48 65.05h0.9v0.9h-0.9zM57.39 59.61h0.9v0.9h-0.9zM60.07 59.98h0.9v0.9h-0.9zM55.26 61.44h0.9v0.9h-0.9zM58.34 71.38h0.9v0.9h-0.9zM55.71 67.33h0.9v0.9h-0.9zM56.64 60.04h0.9v0.9h-0.9zM58.02 63.49h0.9v0.9h-0.9zM61.59 71.62h0.9v0.9h-0.9zM57.09 69.31h0.9v0.9h-0.9zM61.99 66.47h0.9v0.9h-0.9zM56.72 66.95h0.9v0.9h-0.9zM58.68 63.94h0.9v0.9h-0.9zM58.19 65.65h0.9v0.9h-0.9zM62.35 68.22h0.9v0.9h-0.9zM58.38 67.47h0.9v0.9h-0.9zM63.36 56.86h0.9v0.9h-0.9zM63.42 54.66h0.9v0.9h-0.9zM60.63 65.27h0.9v0.9h-0.9zM63.45 63.53h0.9v0.9h-0.9zM57.56 57.62h0.9v0.9h-0.9zM55.25 66.21h0.9v0.9h-0.9zM58.29 58.05h0.9v0.9h-0.9zM60.6 57.79h0.9v0.9h-0.9zM57.69 59.48h0.9v0.9h-0.9zM63.96 70.05h0.9v0.9h-0.9zM58.53 53.36h0.9v0.9h-0.9zM59.83 62.4h0.9v0.9h-0.9zM60.05 65.11h0.9v0.9h-0.9zM58.04 67.09h0.9v0.9h-0.9zM61.51 63.16h0.9v0.9h-0.9zM57.78 59.36h0.9v0.9h-0.9zM61.08 55.95h0.9v0.9h-0.9zM58.52 57.88h0.9v0.9h-0.9z" fill="#000" fill-opacity="0.2"/>
<path d="M34.85 66.83h0.9v0.9h-0.9zM45.79 62.29h0.9v0.9h-0.9zM52.99 50.05h0.9v0.9h-0.9zM45.46 64.31h0.9v0.9h-0.9zM52.66 53.32h0.9v0.9h-0.9zM51.73 63.76h0.9v0.9h-0.9zM56.85 71.11h0.9v0.9h-0.9zM45.99 58.6h0.9v0.9h-0.9zM43.27 54.48h0.9v0.9h-0.9zM45.77 46.97h0.9v0.9h-0.9zM45.32 65.41h0.9v0.9h-0.9zM53.93 59.22h0.9v0.9h-0.9zM57.11 56.79h0.9v0.9h-0.9zM44.92 46.98h0.9v0.9h-0.9zM39.91 55.67h0.9v0.9h-0.9zM57.67 66.14h0.9v0.9h-0.9zM37.37 66.17h0.9v0.9h-0.9zM49.76 60.18h0.9v0.9h-0.9zM46.18 59.62h0.9v0.9h-0.9zM41.76 48.15h0.9v0.9h-0.9zM45.29 72.03h0.9v0.9h-0.9zM57.19 59.82h0.9v0.9h-0.9zM40.17 60.35h0.9v0.9h-0.9zM53.01 64.74h0.9v0.9h-0.9zM41.44 64.83h0.9v0.9h-0.9zM44.39 66.03h0.9v0.9h-0.9zM42.82 50.51h0.9v0.9h-0.9zM46.45 67.93h0.9v0.9h-0.9zM37.36 61.16h0.9v0.9h-0.9zM52.85 59.08h0.9v0.9h-0.9zM52.47 70.01h0.9v0.9h-0.9zM38.63 74.72h0.9v0.9h-0.9zM33.09 57.96h0.9v0.9h-0.9zM51.76 72.36h0.9v0.9h-0.9zM38.76 56.83h0.9v0.9h-0.9zM47.53 46.99h0.9v0.9h-0.9zM50.97 66.36h0.9v0.9h-0.9zM42.52 66.18h0.9v0.9h-0.9zM52.04 64.4h0.9v0.9h-0.9zM50.06 73.76h0.9v0.9h-0.9zM42.29 63.26h0.9v0.9h-0.9zM41.94 70.03h0.9v0.9h-0.9zM42.84 65.68h0.9v0.9h-0.9zM47.06 62.51h0.9v0.9h-0.9zM59.31 61.34h0.9v0.9h-0.9zM56.98 68.4h0.9v0.9h-0.9zM56.22 60.72h0.9v0.9h-0.9zM53.19 67.85h0.9v0.9h-0.9zM41.25 64.08h0.9v0.9h-0.9zM45 61.72h0.9v0.9h-0.9zM56.07 56.43h0.9v0.9h-0.9zM32.99 48.54h0.9v0.9h-0.9zM42.5 57.02h0.9v0.9h-0.9zM46.11 66.37h0.9v0.9h-0.9zM59.6 64.39h0.9v0.9h-0.9zM49.58 56.33h0.9v0.9h-0.9zM50.48 72.49h0.9v0.9h-0.9zM56.35 46.92h0.9v0.9h-0.9zM52.87 74.22h0.9v0.9h-0.9zM52.38 50.47h0.9v0.9h-0.9zM43.63 66.53h0.9v0.9h-0.9zM49.2 55.74h0.9v0.9h-0.9zM39.14 69.45h0.9v0.9h-0.9zM35.72 73.05h0.9v0.9h-0.9zM46.15 64.32h0.9v0.9h-0.9zM35.73 57.41h0.9v0.9h-0.9zM51.31 50.67h0.9v0.9h-0.9zM61.95 51.19h0.9v0.9h-0.9zM36.59 62.33h0.9v0.9h-0.9zM49.71 67.64h0.9v0.9h-0.9zM43.14 60.4h0.9v0.9h-0.9zM44.18 57.58h0.9v0.9h-0.9zM47.93 63.22h0.9v0.9h-0.9zM41.17 63.93h0.9v0.9h-0.9zM45.9 61.41h0.9v0.9h-0.9zM54.5 48.76h0.9v0.9h-0.9zM47.94 53.8h0.9v0.9h-0.9zM43.56 73.52h0.9v0.9h-0.9zM37.67 61.23h0.9v0.9h-0.9zM41.45 69.3h0.9v0.9h-0.9zM38.47 49.07h0.9v0.9h-0.9zM49.95 59.28h0.9v0.9h-0.9zM43.55 70.3h0.9v0.9h-0.9zM39.18 59.13h0.9v0.9h-0.9zM47.13 65.18h0.9v0.9h-0.9zM42.03 69.95h0.9v0.9h-0.9zM60.36 45.79h0.9v0.9h-0.9zM56.81 59.36h0.9v0.9h-0.9zM47.05 59.39h0.9v0.9h-0.9zM41.11 52.18h0.9v0.9h-0.9zM42.97 71.96h0.9v0.9h-0.9zM54.76 59.32h0.9v0.9h-0.9zM41.94 56.61h0.9v0.9h-0.9zM36.78 75.86h0.9v0.9h-0.9zM51.1 62.9h0.9v0.9h-0.9zM42.23 54.15h0.9v0.9h-0.9zM56.11 68h0.9v0.9h-0.9zM38.68 69.6h0.9v0.9h-0.9zM37.5 66.93h0.9v0.9h-0.9zM38.62 58.82h0.9v0.9h-0.9zM49.8 65.32h0.9v0.9h-0.9zM53.77 55.57h0.9v0.9h-0.9zM58.13 72.33h0.9v0.9h-0.9zM45.92 65.57h0.9v0.9h-0.9zM40.02 60.83h0.9v0.9h-0.9zM35.86 62.68h0.9v0.9h-0.9zM47.53 72.32h0.9v0.9h-0.9zM53.28 68.26h0.9v0.9h-0.9zM43.22 60.27h0.9v0.9h-0.9zM43.38 63.71h0.9v0.9h-0.9zM33.97 58.04h0.9v0.9h-0.9zM46.17 58.06h0.9v0.9h-0.9zM58.77 61.25h0.9v0.9h-0.9zM58.07 71.01h0.9v0.9h-0.9zM42.18 65.08h0.9v0.9h-0.9zM55.97 59.44h0.9v0.9h-0.9zM46.68 57.71h0.9v0.9h-0.9zM46.45 59.28h0.9v0.9h-0.9zM46.63 69.7h0.9v0.9h-0.9zM56.7 63.02h0.9v0.9h-0.9zM47.55 68.58h0.9v0.9h-0.9zM43.77 53.87h0.9v0.9h-0.9zM54.53 54.82h0.9v0.9h-0.9zM53.15 54.59h0.9v0.9h-0.9zM60.06 53.98h0.9v0.9h-0.9zM52.52 73.52h0.9v0.9h-0.9zM38.62 73.41h0.9v0.9h-0.9zM39.68 48.45h0.9v0.9h-0.9zM51.54 67.39h0.9v0.9h-0.9zM44.44 42.61h0.9v0.9h-0.9zM45.58 59.65h0.9v0.9h-0.9zM43.09 59.78h0.9v0.9h-0.9zM59.82 73.88h0.9v0.9h-0.9zM43.22 56.53h0.9v0.9h-0.9zM49.04 70.16h0.9v0.9h-0.9zM51.55 53.02h0.9v0.9h-0.9zM47.24 63.08h0.9v0.9h-0.9zM57.05 71.19h0.9v0.9h-0.9zM50.02 71.34h0.9v0.9h-0.9zM42.96 73.81h0.9v0.9h-0.9zM42.73 65.04h0.9v0.9h-0.9zM53.05 54.98h0.9v0.9h-0.9zM40.61 48.5h0.9v0.9h-0.9zM47.27 61.58h0.9v0.9h-0.9zM43.49 65.83h0.9v0.9h-0.9zM46.67 59.96h0.9v0.9h-0.9zM52.1 75.46h0.9v0.9h-0.9zM42.58 54.78h0.9v0.9h-0.9zM41.36 62.71h0.9v0.9h-0.9zM50.5 55.39h0.9v0.9h-0.9zM53.67 54.13h0.9v0.9h-0.9zM52.35 65.28h0.9v0.9h-0.9zM43.98 60.73h0.9v0.9h-0.9zM49.66 68.63h0.9v0.9h-0.9zM35.72 64.11h0.9v0.9h-0.9zM40.3 66.84h0.9v0.9h-0.9zM56.52 62.4h0.9v0.9h-0.9zM45.18 63.41h0.9v0.9h-0.9zM50.31 63.26h0.9v0.9h-0.9zM42.96 56.39h0.9v0.9h-0.9zM44.62 71.32h0.9v0.9h-0.9zM45.21 72.35h0.9v0.9h-0.9zM48.11 61.9h0.9v0.9h-0.9zM33.25 56.89h0.9v0.9h-0.9zM55.6 52.08h0.9v0.9h-0.9zM38.39 53.57h0.9v0.9h-0.9zM41.76 66.94h0.9v0.9h-0.9zM50.56 46.41h0.9v0.9h-0.9zM57.21 57.45h0.9v0.9h-0.9zM41.48 74.81h0.9v0.9h-0.9zM45.37 52.48h0.9v0.9h-0.9zM41.09 56.42h0.9v0.9h-0.9zM38.25 59.44h0.9v0.9h-0.9zM52.74 64.69h0.9v0.9h-0.9zM38.4 62.89h0.9v0.9h-0.9zM46.24 67.85h0.9v0.9h-0.9zM43.48 65.51h0.9v0.9h-0.9zM62.17 62.74h0.9v0.9h-0.9zM37.69 64.52h0.9v0.9h-0.9zM39.83 59.16h0.9v0.9h-0.9zM47.45 64.59h0.9v0.9h-0.9zM43.82 68.52h0.9v0.9h-0.9zM44.52 51.98h0.9v0.9h-0.9zM52.74 59.2h0.9v0.9h-0.9zM55.32 56.97h0.9v0.9h-0.9zM50.4 64.42h0.9v0.9h-0.9zM37.4 72.8h0.9v0.9h-0.9zM54.39 65.8h0.9v0.9h-0.9zM51.18 58.19h0.9v0.9h-0.9zM45.92 63.73h0.9v0.9h-0.9zM49.23 67.43h0.9v0.9h-0.9zM44.41 56.61h0.9v0.9h-0.9zM41.68 65.16h0.9v0.9h-0.9zM33.24 52.37h0.9v0.9h-0.9zM42.84 57.75h0.9v0.9h-0.9zM43.92 41.55h0.9v0.9h-0.9zM43.38 60.07h0.9v0.9h-0.9zM51.96 46.8h0.9v0.9h-0.9zM43.65 65.64h0.9v0.9h-0.9zM49.76 71.19h0.9v0.9h-0.9zM54.11 53.94h0.9v0.9h-0.9zM50.89 59.43h0.9v0.9h-0.9zM39.83 73.79h0.9v0.9h-0.9zM41.16 55.43h0.9v0.9h-0.9zM42.86 55.45h0.9v0.9h-0.9zM53.74 64.92h0.9v0.9h-0.9zM56.77 65.16h0.9v0.9h-0.9zM41.27 70.06h0.9v0.9h-0.9zM40.96 58.44h0.9v0.9h-0.9zM44.71 62.3h0.9v0.9h-0.9zM55.19 57.34h0.9v0.9h-0.9zM48.71 61.79h0.9v0.9h-0.9zM36.31 53.57h0.9v0.9h-0.9zM44.31 65.11h0.9v0.9h-0.9zM48.47 65.69h0.9v0.9h-0.9zM46.37 58.55h0.9v0.9h-0.9zM49.29 54.28h0.9v0.9h-0.9zM35.65 59.44h0.9v0.9h-0.9zM34.98 58.03h0.9v0.9h-0.9zM40.24 57.73h0.9v0.9h-0.9zM45.65 55.83h0.9v0.9h-0.9zM42.74 48.82h0.9v0.9h-0.9zM47.12 55.21h0.9v0.9h-0.9zM49.12 40.2h0.9v0.9h-0.9zM39.82 63.87h0.9v0.9h-0.9zM46.73 62.79h0.9v0.9h-0.9zM34.46 63.77h0.9v0.9h-0.9zM47.15 54.5h0.9v0.9h-0.9zM51.75 61.62h0.9v0.9h-0.9zM46.14 58.53h0.9v0.9h-0.9zM50.23 62.75h0.9v0.9h-0.9zM54.78 65.49h0.9v0.9h-0.9zM41.23 60.28h0.9v0.9h-0.9zM53.09 59.18h0.9v0.9h-0.9zM48.96 66.03h0.9v0.9h-0.9zM44.61 44.01h0.9v0.9h-0.9zM47.02 63.65h0.9v0.9h-0.9zM47.05 56.13h0.9v0.9h-0.9zM55.35 60.96h0.9v0.9h-0.9zM41.18 56.45h0.9v0.9h-0.9zM48.77 53.56h0.9v0.9h-0.9zM56.14 70.15h0.9v0.9h-0.9zM56.56 66.6h0.9v0.9h-0.9zM32.96 71.24h0.9v0.9h-0.9zM55.59 65.79h0.9v0.9h-0.9zM56.57 58.19h0.9v0.9h-0.9zM46.99 68.01h0.9v0.9h-0.9zM45.34 70.51h0.9v0.9h-0.9zM46.63 67.36h0.9v0.9h-0.9zM46.66 50.54h0.9v0.9h-0.9zM48.16 72.16h0.9v0.9h-0.9zM54.82 75.29h0.9v0.9h-0.9zM50.3 57.38h0.9v0.9h-0.9zM46.14 47.12h0.9v0.9h-0.9zM44.54 69.03h0.9v0.9h-0.9zM52.39 72.3h0.9v0.9h-0.9zM38.81 56.94h0.9v0.9h-0.9zM37.1 72.7h0.9v0.9h-0.9zM49.32 58.16h0.9v0.9h-0.9zM63.04 42.42h0.9v0.9h-0.9zM56.03 73.88h0.9v0.9h-0.9zM58.25 73.7h0.9v0.9h-0.9zM55.79 68.56h0.9v0.9h-0.9zM50.13 72.38h0.9v0.9h-0.9zM50.41 68.92h0.9v0.9h-0.9zM40.59 72.73h0.9v0.9h-0.9zM53.22 70.29h0.9v0.9h-0.9zM50.16 69.4h0.9v0.9h-0.9zM47.89 71.71h0.9v0.9h-0.9zM48.61 73.98h0.9v0.9h-0.9zM52.03 72.39h0.9v0.9h-0.9zM55.77 75.72h0.9v0.9h-0.9zM57.1 72.67h0.9v0.9h-0.9zM51.89 69.64h0.9v0.9h-0.9zM50.66 74h0.9v0.9h-0.9zM54.55 70.87h0.9v0.9h-0.9zM43.91 67.52h0.9v0.9h-0.9zM55.2 75h0.9v0.9h-0.9zM55.55 67.99h0.9v0.9h-0.9zM51.55 72.65h0.9v0.9h-0.9zM46.74 73.01h0.9v0.9h-0.9zM51.63 69.56h0.9v0.9h-0.9zM44.53 74.37h0.9v0.9h-0.9zM55.43 69.41h0.9v0.9h-0.9zM46.08 74.6h0.9v0.9h-0.9zM57.07 71.11h0.9v0.9h-0.9zM45.8 75.19h0.9v0.9h-0.9zM51.72 73.01h0.9v0.9h-0.9zM53.26 69.07h0.9v0.9h-0.9zM44.91 71.43h0.9v0.9h-0.9zM62.58 69.07h0.9v0.9h-0.9zM62.26 72.64h0.9v0.9h-0.9zM45.42 72.78h0.9v0.9h-0.9zM56.87 69.37h0.9v0.9h-0.9zM38.48 73.04h0.9v0.9h-0.9zM45.44 73.29h0.9v0.9h-0.9zM39.97 71.59h0.9v0.9h-0.9zM47.49 67.68h0.9v0.9h-0.9zM51.36 72.5h0.9v0.9h-0.9zM49.21 68.55h0.9v0.9h-0.9zM54.45 66.9h0.9v0.9h-0.9zM56.64 73.43h0.9v0.9h-0.9zM55.42 72.77h0.9v0.9h-0.9zM53.19 68.13h0.9v0.9h-0.9zM62.96 73.54h0.9v0.9h-0.9zM51.05 68.66h0.9v0.9h-0.9zM63.1 73.55h0.9v0.9h-0.9zM44.94 73.96h0.9v0.9h-0.9zM55.72 70.79h0.9v0.9h-0.9zM48.72 75.13h0.9v0.9h-0.9zM52.16 74.31h0.9v0.9h-0.9zM50.93 74.12h0.9v0.9h-0.9zM58.63 69.04h0.9v0.9h-0.9zM45.71 71.78h0.9v0.9h-0.9zM58.66 72.81h0.9v0.9h-0.9zM61.44 67.99h0.9v0.9h-0.9zM56.35 70.19h0.9v0.9h-0.9zM53.68 72.94h0.9v0.9h-0.9zM46.41 71.33h0.9v0.9h-0.9zM45.09 72.77h0.9v0.9h-0.9zM47.22 70.56h0.9v0.9h-0.9zM54.49 70.1h0.9v0.9h-0.9zM60.8 70.14h0.9v0.9h-0.9zM58.77 72.82h0.9v0.9h-0.9zM45.98 71.37h0.9v0.9h-0.9z" fill="#000" fill-opacity="0.1"/>
<path d="M45.61 43.53h0.9v0.9h-0.9zM58.41 47.36h0.9v0.9h-0.9zM59.19 43.33h0.9v0.9h-0.9zM51.72 46.31h0.9v0.9h-0.9zM48.98 43.87h0.9v0.9h-0.9zM44.93 42.01h0.9v0.9h-0.9zM38.83 47.74h0.9v0.9h-0.9zM43.4 37.95h0.9v0.9h-0.9zM47.54 42.92h0.9v0.9h-0.9zM47.03 47.41h0.9v0.9h-0.9zM45.38 42.35h0.9v0.9h-0.9zM41.65 42.95h0.9v0.9h-0.9zM43.44 43.5h0.9v0.9h-0.9zM41 47.69h0.9v0.9h-0.9zM51.04 44.98h0.9v0.9h-0.9zM50.17 44.99h0.9v0.9h-0.9zM49.94 46.43h0.9v0.9h-0.9zM51.88 46.28h0.9v0.9h-0.9zM43.07 42.99h0.9v0.9h-0.9zM41.74 45.33h0.9v0.9h-0.9zM50.85 41.87h0.9v0.9h-0.9zM49.41 49.39h0.9v0.9h-0.9zM53.22 40.28h0.9v0.9h-0.9zM45.46 44.55h0.9v0.9h-0.9zM45.79 43.94h0.9v0.9h-0.9zM52.89 43.8h0.9v0.9h-0.9zM39.59 44.74h0.9v0.9h-0.9zM45.43 43.28h0.9v0.9h-0.9zM42.69 39.63h0.9v0.9h-0.9zM38.72 42.14h0.9v0.9h-0.9zM39.75 36.39h0.9v0.9h-0.9zM52.71 40.17h0.9v0.9h-0.9zM41.76 44.29h0.9v0.9h-0.9zM41.51 44.61h0.9v0.9h-0.9zM43.19 43.74h0.9v0.9h-0.9zM46.62 43h0.9v0.9h-0.9zM35.32 39.42h0.9v0.9h-0.9zM45.76 46.43h0.9v0.9h-0.9zM42.81 44.3h0.9v0.9h-0.9zM46.95 44.18h0.9v0.9h-0.9zM51.8 39.35h0.9v0.9h-0.9zM47.6 42.57h0.9v0.9h-0.9zM44.17 40.92h0.9v0.9h-0.9zM41.41 40.49h0.9v0.9h-0.9zM39.58 49.11h0.9v0.9h-0.9zM55.94 43.02h0.9v0.9h-0.9zM50.34 40.62h0.9v0.9h-0.9zM46.83 46.51h0.9v0.9h-0.9zM45.75 40.56h0.9v0.9h-0.9zM44.59 40.57h0.9v0.9h-0.9zM37.85 42.43h0.9v0.9h-0.9zM43.66 41.02h0.9v0.9h-0.9zM40.82 40.73h0.9v0.9h-0.9zM47.38 46.39h0.9v0.9h-0.9zM44.77 48.45h0.9v0.9h-0.9zM36.54 43.67h0.9v0.9h-0.9zM39.24 42.61h0.9v0.9h-0.9zM46.6 44.36h0.9v0.9h-0.9zM52.61 41.65h0.9v0.9h-0.9zM38.74 42.54h0.9v0.9h-0.9zM47.72 41.3h0.9v0.9h-0.9zM51.22 47.1h0.9v0.9h-0.9zM37.68 43.88h0.9v0.9h-0.9zM51.94 38.32h0.9v0.9h-0.9zM47.2 42.45h0.9v0.9h-0.9zM37.68 46.21h0.9v0.9h-0.9zM47.27 41.83h0.9v0.9h-0.9z" fill="#000" fill-opacity="0.12"/>
<ellipse cx="60.7" cy="52" rx="4" ry="4.5" fill="#000" fill-opacity="0.85" transform="rotate(0 60.7 52)" filter="url(#b1_5)"/>
<rect x="31.9" y="23.7" width="54.7" height="55" fill="none" stroke="#a8a8a8" stroke-width="0.9"/>
<path d="M57.1 23.7 L57.1 37.5 Q56.8 43.5 53.3 46.4 L32 46.4" fill="none" stroke="#6a6a6a" stroke-width="0.9"/>
<path d="M32 48.2 L53 48.2" fill="none" stroke="#888" stroke-width="0.8"/>
<text x="34.1" y="31.4" font-family="Liberation Serif" font-size="7.6" text-anchor="start" font-weight="normal" font-style="normal" fill="#000" textLength="15" lengthAdjust="spacingAndGlyphs" style="stroke-width:0.1px">Tregs</text>
<text x="65.1" y="31.2" font-family="Liberation Serif" font-size="7.4" text-anchor="start" font-weight="normal" font-style="normal" fill="#000" textLength="19.2" lengthAdjust="spacingAndGlyphs" style="stroke-width:0.1px">T4conv</text>
<text x="20.7" y="46.5" font-family="Liberation Serif" font-size="10" text-anchor="middle" font-weight="normal" font-style="normal" fill="#000" transform="rotate(-90 20.7 46.5)">CD25</text>
<line x1="17.6" y1="92.5" x2="17.6" y2="73" stroke="#000" stroke-width="2.4"/>
<line x1="16.4" y1="91.3" x2="35.1" y2="91.3" stroke="#000" stroke-width="2.4"/>
<path d="M17.6 63.1 L12.1 73.5 L23.1 73.5 Z" fill="#000" stroke="none" stroke-width="1"/>
<path d="M45 91.3 L34.6 85.8 L34.6 96.8 Z" fill="#000" stroke="none" stroke-width="1"/>
<text x="47.2" y="94.5" font-family="Liberation Serif" font-size="10.5" text-anchor="start" font-weight="normal" font-style="normal" fill="#000">CD127</text>
<rect x="108.3" y="23" width="3" height="1.2" fill="#999"/>
<rect x="108.3" y="33.6" width="3" height="1.2" fill="#999"/>
<rect x="108.3" y="44.2" width="3" height="1.2" fill="#999"/>
<rect x="108.3" y="54.8" width="3" height="1.2" fill="#999"/>
<rect x="108.3" y="65.4" width="3" height="1.2" fill="#999"/>
<rect x="108.3" y="76" width="3" height="1.2" fill="#999"/>
<rect x="113.3" y="80.1" width="4" height="1.3" fill="#999"/>
<rect x="125.38" y="80.1" width="4" height="1.3" fill="#999"/>
<rect x="137.45" y="80.1" width="4" height="1.3" fill="#999"/>
<rect x="149.52" y="80.1" width="4" height="1.3" fill="#999"/>
<rect x="161.6" y="80.1" width="4" height="1.3" fill="#999"/>
<path d="M113.3 76.3 L120.8 76.2 L121.6 74.5 L122.2 68 L122.8 58 L123.4 49 L124 41 L124.7 36 L125.4 34.4 L126.1 35.5 L126.8 39.5 L127.5 45 L128.1 50 L129.2 57 L130.3 65 L131.2 71 L132.1 75.3 L133.2 76.2 L165.6 76.3 Z" fill="#adadad" stroke="none" stroke-width="1"/>
<path d="M113.3 76.2 L119 76 L121.2 75.5 L122.5 74 L124 70.5 L125.5 63 L126.8 53 L127.8 42 L128.8 31 L129.6 26.5 L130.4 29.5 L131.3 38 L132.4 49 L133.5 60 L134.3 64.5 L135 65.3 L135.7 65 L136.4 67.5 L137.3 70.5 L138.5 73.5 L139.8 75.3 L141 76 L165.6 76.2" fill="none" stroke="#1a1a1a" stroke-width="1"/>
<rect x="113.3" y="23.6" width="52.3" height="53" fill="none" stroke="#a8a8a8" stroke-width="0.9"/>
<rect x="139.5" y="26.9" width="3.8" height="3.8" fill="none" stroke="#000" stroke-width="1.3"/>
<rect x="139" y="33.6" width="4.8" height="4.2" fill="#c4c4c4"/>
<text x="145" y="31.2" font-family="Liberation Serif" font-size="7" text-anchor="start" font-weight="normal" font-style="normal" fill="#222" textLength="14.2" lengthAdjust="spacingAndGlyphs" style="stroke:#222;stroke-width:0.1px">Tregs</text>
<text x="145" y="37.9" font-family="Liberation Serif" font-size="7" text-anchor="start" font-weight="normal" font-style="normal" fill="#8a8a8a" textLength="18" lengthAdjust="spacingAndGlyphs" style="stroke:#8a8a8a;stroke-width:0.1px">T4conv</text>
<text x="101.2" y="45" font-family="Liberation Serif" font-size="10" text-anchor="middle" font-weight="normal" font-style="normal" fill="#000" transform="rotate(-90 101.2 45)">counts</text>
<line x1="99.1" y1="91.6" x2="99.1" y2="72.4" stroke="#000" stroke-width="2.4"/>
<line x1="97.9" y1="90.4" x2="116.6" y2="90.4" stroke="#000" stroke-width="2.4"/>
<path d="M99.1 62.5 L93.6 72.9 L104.6 72.9 Z" fill="#000" stroke="none" stroke-width="1"/>
<path d="M126.5 90.4 L116.1 84.9 L116.1 95.9 Z" fill="#000" stroke="none" stroke-width="1"/>
<text x="127.5" y="94.3" font-family="Liberation Serif" font-size="10" text-anchor="start" font-weight="normal" font-style="normal" fill="#000">Foxp3</text>
<rect x="27.4" y="114.4" width="3" height="1.2" fill="#999"/>
<rect x="27.4" y="124.26" width="3" height="1.2" fill="#999"/>
<rect x="27.4" y="134.12" width="3" height="1.2" fill="#999"/>
<rect x="27.4" y="143.98" width="3" height="1.2" fill="#999"/>
<rect x="27.4" y="153.84" width="3" height="1.2" fill="#999"/>
<rect x="27.4" y="163.7" width="3" height="1.2" fill="#999"/>
<rect x="32.4" y="167.8" width="4" height="1.3" fill="#999"/>
<rect x="45.02" y="167.8" width="4" height="1.3" fill="#999"/>
<rect x="57.65" y="167.8" width="4" height="1.3" fill="#999"/>
<rect x="70.28" y="167.8" width="4" height="1.3" fill="#999"/>
<rect x="82.9" y="167.8" width="4" height="1.3" fill="#999"/>
<path d="M32.4 164.1 L56.5 164 L57.3 162.1 L58.8 151.3 L60.7 136.6 L61.8 126 L62.6 120 L64.5 119.2 L66.1 120 L66.6 130 L67.1 141.5 L68.3 149 L69.6 156.2 L71 160.5 L72 162.6 L73 164 L86.9 164.1 Z" fill="#c2c2c2" stroke="none" stroke-width="1"/>
<path d="M32.4 164 L48 163.9 L50.4 163.6 L52.9 162.1 L54.5 163 L56.3 161.7 L57.6 159.7 L59.3 162.6 L60.7 158.2 L62.7 153.3 L64.2 144.4 L65.6 140.5 L66.8 131.7 L67.6 124 L68.3 118.4 L69.2 126 L70.1 136.6 L71.5 151.3 L73 161.7 L75 160.2 L77 163.6 L78.5 164 L86.9 164" fill="none" stroke="#1a1a1a" stroke-width="1"/>
<circle cx="65.6" cy="140.5" r="1" fill="#000"/>
<rect x="32.4" y="115" width="54.5" height="49.3" fill="none" stroke="#a8a8a8" stroke-width="0.9"/>
<rect x="35.6" y="119.9" width="4" height="4" fill="none" stroke="#000" stroke-width="1.3"/>
<rect x="35.2" y="126.2" width="4.8" height="4.3" fill="#c8c8c8"/>
<text x="41.4" y="124.7" font-family="Liberation Serif" font-size="7" text-anchor="start" font-weight="normal" font-style="normal" fill="#222" textLength="13.5" lengthAdjust="spacingAndGlyphs" style="stroke:#222;stroke-width:0.1px">Tregs</text>
<text x="41.4" y="130.1" font-family="Liberation Serif" font-size="7" text-anchor="start" font-weight="normal" font-style="normal" fill="#666" textLength="17.7" lengthAdjust="spacingAndGlyphs" style="stroke:#666;stroke-width:0.1px">T4conv</text>
<text x="20.7" y="132.5" font-family="Liberation Serif" font-size="10" text-anchor="middle" font-weight="normal" font-style="normal" fill="#000" transform="rotate(-90 20.7 132.5)">counts</text>
<line x1="18" y1="178.9" x2="18" y2="159.9" stroke="#000" stroke-width="2.4"/>
<line x1="16.8" y1="177.7" x2="35.1" y2="177.7" stroke="#000" stroke-width="2.4"/>
<path d="M18 150 L12.5 160.4 L23.5 160.4 Z" fill="#000" stroke="none" stroke-width="1"/>
<path d="M45 177.7 L34.6 172.2 L34.6 183.2 Z" fill="#000" stroke="none" stroke-width="1"/>
<text x="46" y="181" font-family="Liberation Serif" font-size="10" text-anchor="start" font-weight="normal" font-style="normal" fill="#000">Trx-1</text>
<rect x="108" y="112.9" width="3" height="1.2" fill="#999"/>
<rect x="108" y="122.8" width="3" height="1.2" fill="#999"/>
<rect x="108" y="132.7" width="3" height="1.2" fill="#999"/>
<rect x="108" y="142.6" width="3" height="1.2" fill="#999"/>
<rect x="108" y="152.5" width="3" height="1.2" fill="#999"/>
<rect x="108" y="162.4" width="3" height="1.2" fill="#999"/>
<rect x="113" y="166.5" width="4" height="1.3" fill="#999"/>
<rect x="124.83" y="166.5" width="4" height="1.3" fill="#999"/>
<rect x="136.65" y="166.5" width="4" height="1.3" fill="#999"/>
<rect x="148.48" y="166.5" width="4" height="1.3" fill="#999"/>
<rect x="160.3" y="166.5" width="4" height="1.3" fill="#999"/>
<path d="M113 163 L113.2 114.5 L115.6 115 L116.1 121 L116.6 130 L117.4 139 L118.6 147 L120.2 153.5 L121.8 157.5 L123.8 160.3 L126.5 161.8 L132 162.3 L164.3 162.6 L164.3 163 Z" fill="#ababab" stroke="none" stroke-width="1"/>
<path d="M113 163 L126 162.5 L140 162.3 L150.5 162.5 L152 158 L153 140 L153.6 122 L154 116 L154.6 125 L155.5 145 L156.5 158 L158 162.5 L164.3 162.8 L164.3 163 Z" fill="#000" stroke="none" stroke-width="1"/>
<rect x="113" y="113.5" width="51.3" height="49.5" fill="none" stroke="#a8a8a8" stroke-width="0.9"/>
<text x="120" y="141.9" font-family="Liberation Serif" font-size="8.6" text-anchor="start" font-weight="normal" font-style="normal" fill="#000" style="stroke-width:0.1px">ECS</text>
<text x="138" y="127.1" font-family="Liberation Serif" font-size="8.6" text-anchor="start" font-weight="normal" font-style="normal" fill="#000" style="stroke-width:0.1px">ICS</text>
<text x="101.2" y="132.5" font-family="Liberation Serif" font-size="10" text-anchor="middle" font-weight="normal" font-style="normal" fill="#000" transform="rotate(-90 101.2 132.5)">counts</text>
<line x1="98.8" y1="178.9" x2="98.8" y2="159.9" stroke="#000" stroke-width="2.4"/>
<line x1="97.6" y1="177.7" x2="117.1" y2="177.7" stroke="#000" stroke-width="2.4"/>
<path d="M98.8 150 L93.3 160.4 L104.3 160.4 Z" fill="#000" stroke="none" stroke-width="1"/>
<path d="M127 177.7 L116.6 172.2 L116.6 183.2 Z" fill="#000" stroke="none" stroke-width="1"/>
<text x="128.5" y="181" font-family="Liberation Serif" font-size="10" text-anchor="start" font-weight="normal" font-style="normal" fill="#000">Trx-1</text>
<text x="175.1" y="9.8" font-family="Liberation Sans" font-size="11" text-anchor="start" font-weight="bold" font-style="normal" fill="#000">B</text>
<line x1="213.3" y1="33.5" x2="213.3" y2="159.4" stroke="#000" stroke-width="1.6"/>
<line x1="212.5" y1="158.6" x2="277.4" y2="158.6" stroke="#000" stroke-width="1.6"/>
<line x1="209.8" y1="158.6" x2="213.3" y2="158.6" stroke="#000" stroke-width="1.3"/>
<text x="208.2" y="161.7" font-family="Liberation Serif" font-size="8.8" text-anchor="end" font-weight="normal" font-style="normal" fill="#000" style="stroke-width:0.1px">0</text>
<line x1="209.8" y1="133.6" x2="213.3" y2="133.6" stroke="#000" stroke-width="1.3"/>
<text x="208.2" y="136.7" font-family="Liberation Serif" font-size="8.8" text-anchor="end" font-weight="normal" font-style="normal" fill="#000" style="stroke-width:0.1px">2000</text>
<line x1="209.8" y1="108.6" x2="213.3" y2="108.6" stroke="#000" stroke-width="1.3"/>
<text x="208.2" y="111.7" font-family="Liberation Serif" font-size="8.8" text-anchor="end" font-weight="normal" font-style="normal" fill="#000" style="stroke-width:0.1px">4000</text>
<line x1="209.8" y1="83.6" x2="213.3" y2="83.6" stroke="#000" stroke-width="1.3"/>
<text x="208.2" y="86.7" font-family="Liberation Serif" font-size="8.8" text-anchor="end" font-weight="normal" font-style="normal" fill="#000" style="stroke-width:0.1px">6000</text>
<line x1="209.8" y1="58.6" x2="213.3" y2="58.6" stroke="#000" stroke-width="1.3"/>
<text x="208.2" y="61.7" font-family="Liberation Serif" font-size="8.8" text-anchor="end" font-weight="normal" font-style="normal" fill="#000" style="stroke-width:0.1px">8000</text>
<line x1="209.8" y1="33.6" x2="213.3" y2="33.6" stroke="#000" stroke-width="1.3"/>
<text x="208.2" y="36.7" font-family="Liberation Serif" font-size="8.8" text-anchor="end" font-weight="normal" font-style="normal" fill="#000" style="stroke-width:0.1px">10000</text>
<rect x="226" y="55.1" width="15.2" height="103.5" fill="#000"/>
<rect x="250.9" y="94.2" width="15.2" height="64.4" fill="#000"/>
<line x1="233.65" y1="55" x2="233.65" y2="49" stroke="#000" stroke-width="1.4"/>
<line x1="230.6" y1="49" x2="236.9" y2="49" stroke="#000" stroke-width="1.6"/>
<line x1="258.45" y1="94" x2="258.45" y2="85.4" stroke="#000" stroke-width="1.4"/>
<line x1="255.3" y1="85.4" x2="261.6" y2="85.4" stroke="#000" stroke-width="1.6"/>
<path d="M233.4 42.6 L233.4 38.6 L256.2 38.6 L256.2 42.6" fill="none" stroke="#000" stroke-width="1.3"/>
<circle cx="239.8" cy="34.5" r="1.75" fill="#4a4a4a" filter="url(#b0_4)"/>
<circle cx="244.9" cy="34.5" r="1.75" fill="#4a4a4a" filter="url(#b0_4)"/>
<circle cx="250.2" cy="34.5" r="1.75" fill="#4a4a4a" filter="url(#b0_4)"/>
<text x="233.8" y="170" font-family="Liberation Serif" font-size="7.9" text-anchor="middle" font-weight="normal" font-style="normal" fill="#000" style="stroke-width:0.1px">Tregs</text>
<text x="259.3" y="170" font-family="Liberation Serif" font-size="7.9" text-anchor="middle" font-weight="normal" font-style="normal" fill="#000" style="stroke-width:0.1px">T4conv</text>
<text x="181.9" y="94.9" font-family="Liberation Serif" font-size="10.45" text-anchor="middle" font-weight="normal" font-style="normal" fill="#000" transform="rotate(-90 181.9 94.9)">Trx-1 PE [MFI]</text>
<text x="290.3" y="10.5" font-family="Liberation Sans" font-size="11" text-anchor="start" font-weight="bold" font-style="normal" fill="#000">C</text>
<line x1="295.2" y1="32.8" x2="295.2" y2="157.2" stroke="#000" stroke-width="1.6"/>
<line x1="294.4" y1="156.8" x2="402.3" y2="156.8" stroke="#000" stroke-width="1.6"/>
<rect x="295.2" y="38.5" width="61.6" height="9.5" fill="#000"/>
<rect x="295.2" y="55" width="26" height="9.6" fill="#000"/>
<rect x="295.2" y="71.5" width="30.6" height="9.7" fill="#000"/>
<rect x="295.2" y="88.5" width="81.8" height="9.3" fill="#000"/>
<rect x="295.2" y="105" width="45.1" height="9.6" fill="#000"/>
<rect x="295.2" y="121.5" width="93" height="9.5" fill="#000"/>
<rect x="295.2" y="138" width="106.3" height="9.4" fill="#000"/>
<line x1="295.3" y1="156.8" x2="295.3" y2="160.6" stroke="#000" stroke-width="1.3"/>
<text x="295.3" y="169.2" font-family="Liberation Serif" font-size="8.5" text-anchor="middle" font-weight="normal" font-style="normal" fill="#000" style="stroke-width:0.1px">0</text>
<line x1="312.1" y1="156.8" x2="312.1" y2="160.6" stroke="#000" stroke-width="1.3"/>
<text x="312.1" y="169.2" font-family="Liberation Serif" font-size="8.5" text-anchor="middle" font-weight="normal" font-style="normal" fill="#000" style="stroke-width:0.1px">1</text>
<line x1="328.9" y1="156.8" x2="328.9" y2="160.6" stroke="#000" stroke-width="1.3"/>
<text x="328.9" y="169.2" font-family="Liberation Serif" font-size="8.5" text-anchor="middle" font-weight="normal" font-style="normal" fill="#000" style="stroke-width:0.1px">2</text>
<line x1="345.7" y1="156.8" x2="345.7" y2="160.6" stroke="#000" stroke-width="1.3"/>
<text x="345.7" y="169.2" font-family="Liberation Serif" font-size="8.5" text-anchor="middle" font-weight="normal" font-style="normal" fill="#000" style="stroke-width:0.1px">3</text>
<line x1="362.5" y1="156.8" x2="362.5" y2="160.6" stroke="#000" stroke-width="1.3"/>
<text x="362.5" y="169.2" font-family="Liberation Serif" font-size="8.5" text-anchor="middle" font-weight="normal" font-style="normal" fill="#000" style="stroke-width:0.1px">4</text>
<line x1="379.3" y1="156.8" x2="379.3" y2="160.6" stroke="#000" stroke-width="1.3"/>
<text x="379.3" y="169.2" font-family="Liberation Serif" font-size="8.5" text-anchor="middle" font-weight="normal" font-style="normal" fill="#000" style="stroke-width:0.1px">5</text>
<line x1="396.1" y1="156.8" x2="396.1" y2="160.6" stroke="#000" stroke-width="1.3"/>
<text x="396.1" y="169.2" font-family="Liberation Serif" font-size="8.5" text-anchor="middle" font-weight="normal" font-style="normal" fill="#000" style="stroke-width:0.1px">6</text>
<text x="348" y="178.6" font-family="Liberation Serif" font-size="7.75" text-anchor="middle" font-weight="normal" font-style="normal" fill="#000" style="stroke-width:0.1px">Tregs/T4conv Trx-1 gene expression</text>
<text x="368.6" y="42" font-family="Liberation Serif" font-size="7.2" font-weight="bold" textLength="27.6" lengthAdjust="spacing" style="stroke-width:0.05px"><tspan font-style="italic">p</tspan>=0.008</text>
<text x="411.5" y="10.5" font-family="Liberation Sans" font-size="11" text-anchor="start" font-weight="bold" font-style="normal" fill="#000">D</text>
<line x1="443.1" y1="33" x2="443.1" y2="157.8" stroke="#000" stroke-width="1.6"/>
<line x1="442.3" y1="157" x2="506.2" y2="157" stroke="#000" stroke-width="1.6"/>
<line x1="439.6" y1="157" x2="443.1" y2="157" stroke="#000" stroke-width="1.3"/>
<text x="436.2" y="160.1" font-family="Liberation Serif" font-size="8.8" text-anchor="end" font-weight="normal" font-style="normal" fill="#000" style="stroke-width:0.1px">0</text>
<line x1="439.6" y1="139.25" x2="443.1" y2="139.25" stroke="#000" stroke-width="1.3"/>
<text x="436.2" y="142.35" font-family="Liberation Serif" font-size="8.8" text-anchor="end" font-weight="normal" font-style="normal" fill="#000" style="stroke-width:0.1px">2</text>
<line x1="439.6" y1="121.5" x2="443.1" y2="121.5" stroke="#000" stroke-width="1.3"/>
<text x="436.2" y="124.6" font-family="Liberation Serif" font-size="8.8" text-anchor="end" font-weight="normal" font-style="normal" fill="#000" style="stroke-width:0.1px">4</text>
<line x1="439.6" y1="103.75" x2="443.1" y2="103.75" stroke="#000" stroke-width="1.3"/>
<text x="436.2" y="106.85" font-family="Liberation Serif" font-size="8.8" text-anchor="end" font-weight="normal" font-style="normal" fill="#000" style="stroke-width:0.1px">6</text>
<line x1="439.6" y1="86" x2="443.1" y2="86" stroke="#000" stroke-width="1.3"/>
<text x="436.2" y="89.1" font-family="Liberation Serif" font-size="8.8" text-anchor="end" font-weight="normal" font-style="normal" fill="#000" style="stroke-width:0.1px">8</text>
<line x1="439.6" y1="68.25" x2="443.1" y2="68.25" stroke="#000" stroke-width="1.3"/>
<text x="436.2" y="71.35" font-family="Liberation Serif" font-size="8.8" text-anchor="end" font-weight="normal" font-style="normal" fill="#000" style="stroke-width:0.1px">10</text>
<line x1="439.6" y1="50.5" x2="443.1" y2="50.5" stroke="#000" stroke-width="1.3"/>
<text x="436.2" y="53.6" font-family="Liberation Serif" font-size="8.8" text-anchor="end" font-weight="normal" font-style="normal" fill="#000" style="stroke-width:0.1px">12</text>
<line x1="439.6" y1="32.75" x2="443.1" y2="32.75" stroke="#000" stroke-width="1.3"/>
<text x="436.2" y="35.85" font-family="Liberation Serif" font-size="8.8" text-anchor="end" font-weight="normal" font-style="normal" fill="#000" style="stroke-width:0.1px">14</text>
<rect x="455" y="77.12" width="15.2" height="79.88" fill="#000"/>
<rect x="479.8" y="116.18" width="15.3" height="40.82" fill="#000"/>
<line x1="462.6" y1="78" x2="462.6" y2="49.2" stroke="#000" stroke-width="1.3"/>
<line x1="459.8" y1="49.2" x2="465.8" y2="49.2" stroke="#000" stroke-width="1.6"/>
<line x1="487.7" y1="117" x2="487.7" y2="81.2" stroke="#000" stroke-width="1.3"/>
<line x1="485" y1="81.2" x2="490.6" y2="81.2" stroke="#000" stroke-width="1.6"/>
<path d="M462.3 41 L462.3 36.7 L485 36.7 L485 41" fill="none" stroke="#000" stroke-width="1.3"/>
<circle cx="474" cy="32.7" r="1.75" fill="#4a4a4a" filter="url(#b0_4)"/>
<text x="462.4" y="167.7" font-family="Liberation Serif" font-size="7.6" text-anchor="middle" font-weight="normal" font-style="normal" fill="#000" style="stroke-width:0.1px">Tregs</text>
<text x="488" y="167.7" font-family="Liberation Serif" font-size="7.6" text-anchor="middle" font-weight="normal" font-style="normal" fill="#000" style="stroke-width:0.1px">T4conv</text>
<text x="419.5" y="92.9" font-family="Liberation Serif" font-size="10.35" text-anchor="middle" transform="rotate(-90 419.5 92.9)"><tspan font-style="italic">Trx-1</tspan> fold up-regulation</text>
<text x="1.3" y="199.7" font-family="Liberation Sans" font-size="11" text-anchor="start" font-weight="bold" font-style="normal" fill="#000">E</text>
<text x="7.7" y="213" font-family="Liberation Serif" font-size="12" text-anchor="start" font-weight="normal" font-style="normal" fill="#000">i.</text>
<text x="89.2" y="214.9" font-family="Liberation Serif" font-size="12" text-anchor="start" font-weight="normal" font-style="normal" fill="#000">ii.</text>
<text x="-0.6" y="295.8" font-family="Liberation Serif" font-size="12" text-anchor="start" font-weight="normal" font-style="normal" fill="#000">iii.</text>
<text x="88.6" y="297" font-family="Liberation Serif" font-size="12" text-anchor="start" font-weight="normal" font-style="normal" fill="#000">iv.</text>
<rect x="23.5" y="208" width="3" height="1.2" fill="#999"/>
<rect x="23.5" y="221.35" width="3" height="1.2" fill="#999"/>
<rect x="23.5" y="234.7" width="3" height="1.2" fill="#999"/>
<rect x="23.5" y="248.05" width="3" height="1.2" fill="#999"/>
<rect x="23.5" y="261.4" width="3" height="1.2" fill="#999"/>
<rect x="28.5" y="265.5" width="4" height="1.3" fill="#999"/>
<rect x="40.95" y="265.5" width="4" height="1.3" fill="#999"/>
<rect x="53.4" y="265.5" width="4" height="1.3" fill="#999"/>
<rect x="65.85" y="265.5" width="4" height="1.3" fill="#999"/>
<rect x="78.3" y="265.5" width="4" height="1.3" fill="#999"/>
<path d="M41.14 233.09h0.9v0.9h-0.9zM40.3 238.95h0.9v0.9h-0.9zM40.11 238.11h0.9v0.9h-0.9zM46.65 233.51h0.9v0.9h-0.9zM34.88 232.49h0.9v0.9h-0.9zM35.91 233.21h0.9v0.9h-0.9zM46.46 238.35h0.9v0.9h-0.9zM43.11 234.55h0.9v0.9h-0.9zM44.75 235.34h0.9v0.9h-0.9zM42.17 233.66h0.9v0.9h-0.9zM48.21 236.41h0.9v0.9h-0.9zM46.22 233.72h0.9v0.9h-0.9zM42.84 231.12h0.9v0.9h-0.9zM41.98 236.61h0.9v0.9h-0.9zM45.14 235.02h0.9v0.9h-0.9zM45.99 235.93h0.9v0.9h-0.9zM44.4 236.82h0.9v0.9h-0.9zM48.43 231.15h0.9v0.9h-0.9zM38.16 234.66h0.9v0.9h-0.9zM40.32 240.18h0.9v0.9h-0.9zM43.41 233.84h0.9v0.9h-0.9zM47.81 239.6h0.9v0.9h-0.9zM49.22 240.28h0.9v0.9h-0.9zM41.91 236.68h0.9v0.9h-0.9zM41.42 233h0.9v0.9h-0.9zM41.92 233.94h0.9v0.9h-0.9zM46.71 235.96h0.9v0.9h-0.9zM45.21 235.04h0.9v0.9h-0.9zM49.92 231.21h0.9v0.9h-0.9zM42.59 235.47h0.9v0.9h-0.9zM38.61 235.62h0.9v0.9h-0.9zM42.61 238.71h0.9v0.9h-0.9zM45.92 238.76h0.9v0.9h-0.9zM44.36 232.85h0.9v0.9h-0.9zM43.34 234.07h0.9v0.9h-0.9zM44.92 234.97h0.9v0.9h-0.9zM55.74 237.93h0.9v0.9h-0.9zM48.02 236.75h0.9v0.9h-0.9zM41.53 237.05h0.9v0.9h-0.9zM45.03 232.87h0.9v0.9h-0.9zM45.13 235.87h0.9v0.9h-0.9zM36.36 231.95h0.9v0.9h-0.9zM40.9 231.84h0.9v0.9h-0.9zM44.74 237.08h0.9v0.9h-0.9zM39.8 239.66h0.9v0.9h-0.9zM45.67 234.98h0.9v0.9h-0.9zM44.44 235.69h0.9v0.9h-0.9zM38.11 227.82h0.9v0.9h-0.9zM36.26 237.31h0.9v0.9h-0.9zM43.23 234.54h0.9v0.9h-0.9zM40.38 236.54h0.9v0.9h-0.9zM41.45 239.26h0.9v0.9h-0.9zM44.07 240.6h0.9v0.9h-0.9zM42.64 236.09h0.9v0.9h-0.9zM42.26 234.3h0.9v0.9h-0.9zM38.45 230.9h0.9v0.9h-0.9zM41.14 232.25h0.9v0.9h-0.9zM47.24 238.42h0.9v0.9h-0.9zM46.52 239.73h0.9v0.9h-0.9zM45.31 239.46h0.9v0.9h-0.9zM40.47 236.07h0.9v0.9h-0.9zM43.09 233.73h0.9v0.9h-0.9zM44.78 242.5h0.9v0.9h-0.9zM38.06 237.38h0.9v0.9h-0.9zM47.34 235.26h0.9v0.9h-0.9zM43.95 236.83h0.9v0.9h-0.9zM45.2 235.45h0.9v0.9h-0.9zM39.17 233.09h0.9v0.9h-0.9zM45.39 238.86h0.9v0.9h-0.9zM44.33 239.17h0.9v0.9h-0.9zM40.24 233.5h0.9v0.9h-0.9zM43.39 238.32h0.9v0.9h-0.9zM43.37 236.92h0.9v0.9h-0.9zM41.32 240.31h0.9v0.9h-0.9zM36.24 231.24h0.9v0.9h-0.9zM51.47 240.78h0.9v0.9h-0.9zM37.22 232.26h0.9v0.9h-0.9zM39.57 231.26h0.9v0.9h-0.9zM42.1 239.65h0.9v0.9h-0.9zM44.21 237.84h0.9v0.9h-0.9zM46.65 237.9h0.9v0.9h-0.9zM40.76 233.64h0.9v0.9h-0.9zM44.97 235.55h0.9v0.9h-0.9zM41.72 233.44h0.9v0.9h-0.9zM39.77 230.39h0.9v0.9h-0.9zM43.65 234.54h0.9v0.9h-0.9zM41.87 238.62h0.9v0.9h-0.9zM44.54 236.01h0.9v0.9h-0.9zM40.93 230.9h0.9v0.9h-0.9zM45.85 234.33h0.9v0.9h-0.9zM46.28 234h0.9v0.9h-0.9zM44.04 235.6h0.9v0.9h-0.9zM47.31 236.57h0.9v0.9h-0.9zM41.95 235.32h0.9v0.9h-0.9zM41.57 239.27h0.9v0.9h-0.9zM43.31 233.84h0.9v0.9h-0.9zM41.84 235.91h0.9v0.9h-0.9zM43.41 237.45h0.9v0.9h-0.9zM35.79 238.21h0.9v0.9h-0.9zM49.67 238.97h0.9v0.9h-0.9zM39.28 233.51h0.9v0.9h-0.9zM47.68 231.46h0.9v0.9h-0.9zM45.39 232.32h0.9v0.9h-0.9zM43.3 239.38h0.9v0.9h-0.9zM48.83 234.23h0.9v0.9h-0.9zM46.97 240.12h0.9v0.9h-0.9zM41.67 235.89h0.9v0.9h-0.9zM48.97 237.7h0.9v0.9h-0.9zM44.15 234.26h0.9v0.9h-0.9zM50.05 233.06h0.9v0.9h-0.9zM49.44 236.14h0.9v0.9h-0.9zM48.62 233.76h0.9v0.9h-0.9zM41.13 232.4h0.9v0.9h-0.9zM48.29 233.58h0.9v0.9h-0.9zM46.3 235.28h0.9v0.9h-0.9zM48.03 237.22h0.9v0.9h-0.9zM45.34 236.06h0.9v0.9h-0.9zM49.93 238.17h0.9v0.9h-0.9zM40.93 239.75h0.9v0.9h-0.9zM42.9 237.14h0.9v0.9h-0.9zM40.79 234.51h0.9v0.9h-0.9zM35.81 231.36h0.9v0.9h-0.9zM43.22 231h0.9v0.9h-0.9zM37.35 235.25h0.9v0.9h-0.9zM46.82 233.04h0.9v0.9h-0.9zM50.42 237.48h0.9v0.9h-0.9zM41.96 235.32h0.9v0.9h-0.9zM41.73 229.81h0.9v0.9h-0.9zM39.54 236.63h0.9v0.9h-0.9zM48.65 233.91h0.9v0.9h-0.9zM47.47 237.89h0.9v0.9h-0.9zM45.1 236.58h0.9v0.9h-0.9zM46.13 234.13h0.9v0.9h-0.9zM41.35 232.23h0.9v0.9h-0.9zM41.5 236.13h0.9v0.9h-0.9zM37.45 236.61h0.9v0.9h-0.9zM42.13 233.01h0.9v0.9h-0.9zM45.3 237.79h0.9v0.9h-0.9zM43.71 232.53h0.9v0.9h-0.9zM42.17 230.11h0.9v0.9h-0.9zM45.96 240.05h0.9v0.9h-0.9zM49.1 240.18h0.9v0.9h-0.9zM43.66 237.78h0.9v0.9h-0.9zM46.99 236.77h0.9v0.9h-0.9zM41.98 240.85h0.9v0.9h-0.9zM39.61 229.19h0.9v0.9h-0.9zM39.35 235.28h0.9v0.9h-0.9zM47.88 237.05h0.9v0.9h-0.9zM45.8 236.69h0.9v0.9h-0.9zM45.18 234.91h0.9v0.9h-0.9zM43.42 235.44h0.9v0.9h-0.9zM44.48 242.52h0.9v0.9h-0.9zM36.78 233.16h0.9v0.9h-0.9zM42.27 237.59h0.9v0.9h-0.9zM46.06 239.24h0.9v0.9h-0.9zM47.39 235h0.9v0.9h-0.9zM35.72 235.84h0.9v0.9h-0.9zM48.72 235.76h0.9v0.9h-0.9zM46.97 239.43h0.9v0.9h-0.9zM34.19 232.72h0.9v0.9h-0.9zM38.75 236.13h0.9v0.9h-0.9zM42.16 232.58h0.9v0.9h-0.9zM38.62 232.05h0.9v0.9h-0.9zM47.74 236h0.9v0.9h-0.9zM34.61 236.57h0.9v0.9h-0.9zM48.79 240.55h0.9v0.9h-0.9zM43.22 231.84h0.9v0.9h-0.9zM37.33 233.55h0.9v0.9h-0.9zM49.16 235.7h0.9v0.9h-0.9zM43.85 234.9h0.9v0.9h-0.9zM42.02 236.09h0.9v0.9h-0.9zM51.28 238.15h0.9v0.9h-0.9zM44.97 239.5h0.9v0.9h-0.9zM42.74 234.63h0.9v0.9h-0.9zM37.67 235.25h0.9v0.9h-0.9zM42.55 233.06h0.9v0.9h-0.9zM44.8 233.77h0.9v0.9h-0.9zM40.39 232.84h0.9v0.9h-0.9zM48.72 237.92h0.9v0.9h-0.9zM47.1 233.33h0.9v0.9h-0.9zM34.72 235.69h0.9v0.9h-0.9zM44.1 231.39h0.9v0.9h-0.9zM42.39 236.61h0.9v0.9h-0.9zM38.84 230.25h0.9v0.9h-0.9zM45.52 234h0.9v0.9h-0.9zM44.96 239.13h0.9v0.9h-0.9zM45.52 235.42h0.9v0.9h-0.9zM44.14 234.04h0.9v0.9h-0.9zM42.67 235.94h0.9v0.9h-0.9zM41.28 237.03h0.9v0.9h-0.9zM52.86 239.32h0.9v0.9h-0.9zM43.61 237.95h0.9v0.9h-0.9zM45.95 236.23h0.9v0.9h-0.9zM40.64 236.76h0.9v0.9h-0.9zM44.95 237.81h0.9v0.9h-0.9zM40.02 235.32h0.9v0.9h-0.9zM46.39 236.63h0.9v0.9h-0.9zM42.94 241.47h0.9v0.9h-0.9zM36.46 233.19h0.9v0.9h-0.9zM41.29 230.27h0.9v0.9h-0.9zM42.03 236.23h0.9v0.9h-0.9zM45.14 233.06h0.9v0.9h-0.9zM39.38 231.51h0.9v0.9h-0.9zM44.59 233.72h0.9v0.9h-0.9zM36.26 236.41h0.9v0.9h-0.9zM40.89 233.54h0.9v0.9h-0.9zM42.4 233.17h0.9v0.9h-0.9zM44.01 234.93h0.9v0.9h-0.9zM47.06 234.12h0.9v0.9h-0.9zM36.07 236.87h0.9v0.9h-0.9zM42.28 237.03h0.9v0.9h-0.9zM46.76 238.99h0.9v0.9h-0.9zM45.58 232.18h0.9v0.9h-0.9zM36.9 234.53h0.9v0.9h-0.9zM45.05 238.05h0.9v0.9h-0.9zM40.62 227.64h0.9v0.9h-0.9zM41.44 230.88h0.9v0.9h-0.9zM45.32 233.58h0.9v0.9h-0.9zM49.59 237.21h0.9v0.9h-0.9zM40.53 236.3h0.9v0.9h-0.9zM45.74 234.17h0.9v0.9h-0.9zM43.84 241.29h0.9v0.9h-0.9zM39.69 232.58h0.9v0.9h-0.9zM42.33 229.17h0.9v0.9h-0.9zM44.72 238.24h0.9v0.9h-0.9zM46.23 238.33h0.9v0.9h-0.9zM36.76 231.53h0.9v0.9h-0.9zM42.74 231.63h0.9v0.9h-0.9zM38.81 235.02h0.9v0.9h-0.9zM40.02 239.22h0.9v0.9h-0.9zM47.49 232.24h0.9v0.9h-0.9zM44.93 239.97h0.9v0.9h-0.9zM45.14 232.91h0.9v0.9h-0.9zM51.11 236.06h0.9v0.9h-0.9zM45.63 231.16h0.9v0.9h-0.9zM41.42 229.34h0.9v0.9h-0.9zM45.68 240.2h0.9v0.9h-0.9zM43.85 231.74h0.9v0.9h-0.9zM42.82 236.21h0.9v0.9h-0.9zM39.82 229.99h0.9v0.9h-0.9zM42.26 236.84h0.9v0.9h-0.9zM43.18 236.63h0.9v0.9h-0.9zM42.44 227.61h0.9v0.9h-0.9zM45.71 234.09h0.9v0.9h-0.9zM43.56 234.43h0.9v0.9h-0.9zM46.1 234.74h0.9v0.9h-0.9zM48.34 238.39h0.9v0.9h-0.9zM44.49 237.91h0.9v0.9h-0.9zM46.49 238.41h0.9v0.9h-0.9zM38.38 230.7h0.9v0.9h-0.9zM49.19 240.17h0.9v0.9h-0.9zM44.8 237.62h0.9v0.9h-0.9zM42.19 232.76h0.9v0.9h-0.9zM39.84 236.78h0.9v0.9h-0.9zM42.47 240.13h0.9v0.9h-0.9zM42.78 240.64h0.9v0.9h-0.9zM46.56 233.79h0.9v0.9h-0.9zM48.97 239.65h0.9v0.9h-0.9zM47.27 238.31h0.9v0.9h-0.9zM42.17 235.23h0.9v0.9h-0.9zM41.21 230.67h0.9v0.9h-0.9zM41.15 232.6h0.9v0.9h-0.9zM39.03 232.61h0.9v0.9h-0.9zM41.95 240.58h0.9v0.9h-0.9zM49.82 239h0.9v0.9h-0.9zM46.79 236.75h0.9v0.9h-0.9zM44.87 236.19h0.9v0.9h-0.9zM41.57 234.61h0.9v0.9h-0.9zM37.91 233.57h0.9v0.9h-0.9zM43.9 232.54h0.9v0.9h-0.9zM41.57 236.02h0.9v0.9h-0.9zM40.58 235.22h0.9v0.9h-0.9zM43.45 240.07h0.9v0.9h-0.9zM39.94 233.12h0.9v0.9h-0.9zM43.32 239.83h0.9v0.9h-0.9zM43.43 237.69h0.9v0.9h-0.9zM39.24 231.32h0.9v0.9h-0.9zM49.53 238.14h0.9v0.9h-0.9zM51.81 238.14h0.9v0.9h-0.9zM44.59 231.42h0.9v0.9h-0.9z" fill="#000" fill-opacity="0.3"/>
<path d="M51.22 244.21h0.9v0.9h-0.9zM56.22 248.84h0.9v0.9h-0.9zM51.28 237.98h0.9v0.9h-0.9zM47.43 243h0.9v0.9h-0.9zM49.77 246.39h0.9v0.9h-0.9zM52.6 244.43h0.9v0.9h-0.9zM51.28 243.94h0.9v0.9h-0.9zM41.62 240.08h0.9v0.9h-0.9zM52.79 240.83h0.9v0.9h-0.9zM50.3 243.39h0.9v0.9h-0.9zM50.26 247.71h0.9v0.9h-0.9zM37.83 231.92h0.9v0.9h-0.9zM56.64 245.06h0.9v0.9h-0.9zM42.48 235.53h0.9v0.9h-0.9zM50.01 243.34h0.9v0.9h-0.9zM46.5 236.74h0.9v0.9h-0.9zM48.77 243.59h0.9v0.9h-0.9zM56.61 249.73h0.9v0.9h-0.9zM51.85 234.93h0.9v0.9h-0.9zM53.51 245.01h0.9v0.9h-0.9zM50.98 239.25h0.9v0.9h-0.9zM55.46 240.68h0.9v0.9h-0.9zM49.65 242.11h0.9v0.9h-0.9zM48.08 245.02h0.9v0.9h-0.9zM48.98 241.33h0.9v0.9h-0.9zM55.44 241.57h0.9v0.9h-0.9zM48.35 240.6h0.9v0.9h-0.9zM54.37 243.33h0.9v0.9h-0.9zM51.59 245.05h0.9v0.9h-0.9zM47.09 233.48h0.9v0.9h-0.9zM44.21 236.74h0.9v0.9h-0.9zM48.85 243.6h0.9v0.9h-0.9zM53.43 243.34h0.9v0.9h-0.9zM51.7 246.81h0.9v0.9h-0.9zM50.25 244.07h0.9v0.9h-0.9zM44.3 237.67h0.9v0.9h-0.9zM48.13 235.61h0.9v0.9h-0.9zM48.01 240.54h0.9v0.9h-0.9zM49.94 240.69h0.9v0.9h-0.9zM45.63 238.34h0.9v0.9h-0.9zM49.57 236.22h0.9v0.9h-0.9zM47.07 244.59h0.9v0.9h-0.9zM50.09 238.06h0.9v0.9h-0.9zM51.12 249.62h0.9v0.9h-0.9zM48.87 240.07h0.9v0.9h-0.9zM44.64 247.85h0.9v0.9h-0.9zM48.08 243.86h0.9v0.9h-0.9zM54.52 239.6h0.9v0.9h-0.9zM47.96 235.28h0.9v0.9h-0.9zM50.82 243.23h0.9v0.9h-0.9zM56.31 247.29h0.9v0.9h-0.9zM50.44 242.73h0.9v0.9h-0.9zM45.59 246.39h0.9v0.9h-0.9zM47.7 245.3h0.9v0.9h-0.9zM55.22 244.91h0.9v0.9h-0.9zM52.64 243.19h0.9v0.9h-0.9zM49.59 242.19h0.9v0.9h-0.9zM50.47 240.68h0.9v0.9h-0.9zM55.49 246.48h0.9v0.9h-0.9zM48.78 247.17h0.9v0.9h-0.9zM49.75 245.66h0.9v0.9h-0.9zM52.32 248.46h0.9v0.9h-0.9zM58.28 244.84h0.9v0.9h-0.9zM56.35 248.46h0.9v0.9h-0.9zM44.56 234.12h0.9v0.9h-0.9zM44.62 236.54h0.9v0.9h-0.9zM46.16 234.33h0.9v0.9h-0.9zM50.24 242.84h0.9v0.9h-0.9zM47.13 238.24h0.9v0.9h-0.9zM49.01 241.29h0.9v0.9h-0.9zM49.9 241.05h0.9v0.9h-0.9zM55.66 241.54h0.9v0.9h-0.9zM47.5 240.01h0.9v0.9h-0.9zM49.14 239.03h0.9v0.9h-0.9zM47.56 240.36h0.9v0.9h-0.9zM54.25 245.54h0.9v0.9h-0.9zM47.88 241.23h0.9v0.9h-0.9zM52.33 236.96h0.9v0.9h-0.9zM51.17 241.73h0.9v0.9h-0.9zM46.28 240.68h0.9v0.9h-0.9zM50.73 240.58h0.9v0.9h-0.9zM45.09 230.53h0.9v0.9h-0.9zM49.77 241.33h0.9v0.9h-0.9zM50.62 243.47h0.9v0.9h-0.9zM50.22 237.4h0.9v0.9h-0.9zM45.9 237.37h0.9v0.9h-0.9zM44 238.88h0.9v0.9h-0.9zM48.23 233.39h0.9v0.9h-0.9zM52.2 237.43h0.9v0.9h-0.9zM57.15 245.36h0.9v0.9h-0.9zM49.78 240.85h0.9v0.9h-0.9zM49.98 235.23h0.9v0.9h-0.9zM41.27 236.57h0.9v0.9h-0.9zM48.98 249.24h0.9v0.9h-0.9zM43.26 237.4h0.9v0.9h-0.9zM47.84 243.06h0.9v0.9h-0.9zM46.31 241.06h0.9v0.9h-0.9zM51.51 245.82h0.9v0.9h-0.9zM54.95 246.28h0.9v0.9h-0.9zM56.3 245.62h0.9v0.9h-0.9zM60.64 242.15h0.9v0.9h-0.9zM51.08 240.02h0.9v0.9h-0.9zM47.54 243.47h0.9v0.9h-0.9zM51.86 244.22h0.9v0.9h-0.9zM58.33 244.7h0.9v0.9h-0.9zM43.74 241.5h0.9v0.9h-0.9zM54.62 238.7h0.9v0.9h-0.9zM52.97 240.44h0.9v0.9h-0.9zM52.54 248.91h0.9v0.9h-0.9zM45.1 242.04h0.9v0.9h-0.9zM44.8 240.31h0.9v0.9h-0.9zM51.79 243.3h0.9v0.9h-0.9zM45.01 235.94h0.9v0.9h-0.9zM42.48 232.33h0.9v0.9h-0.9zM40.64 237.28h0.9v0.9h-0.9zM50.73 233.44h0.9v0.9h-0.9zM50.86 244.27h0.9v0.9h-0.9zM43.67 243.75h0.9v0.9h-0.9zM52.11 244.36h0.9v0.9h-0.9zM52.86 233.58h0.9v0.9h-0.9zM49.36 245.03h0.9v0.9h-0.9zM50.11 236.71h0.9v0.9h-0.9zM52.54 238.16h0.9v0.9h-0.9zM48.05 243h0.9v0.9h-0.9zM54.33 247.34h0.9v0.9h-0.9zM48.76 243.63h0.9v0.9h-0.9zM55.06 245.84h0.9v0.9h-0.9zM46.67 235.65h0.9v0.9h-0.9zM46.75 235.35h0.9v0.9h-0.9zM48.42 241.73h0.9v0.9h-0.9zM49.92 242.19h0.9v0.9h-0.9zM47.43 241.05h0.9v0.9h-0.9zM51.18 246.08h0.9v0.9h-0.9zM55.35 246.24h0.9v0.9h-0.9zM45.38 243.85h0.9v0.9h-0.9zM49.42 243h0.9v0.9h-0.9zM46.46 242.16h0.9v0.9h-0.9zM50 238.15h0.9v0.9h-0.9zM50.13 240.44h0.9v0.9h-0.9zM53.17 243.73h0.9v0.9h-0.9zM50.35 241.52h0.9v0.9h-0.9zM51.91 241.5h0.9v0.9h-0.9zM56.12 242.69h0.9v0.9h-0.9zM49.49 238.78h0.9v0.9h-0.9zM51.71 243.87h0.9v0.9h-0.9zM51.84 242.58h0.9v0.9h-0.9zM49.1 236.82h0.9v0.9h-0.9zM49.34 239.3h0.9v0.9h-0.9zM49.81 243.17h0.9v0.9h-0.9zM53.16 244.75h0.9v0.9h-0.9zM48.88 236.83h0.9v0.9h-0.9zM49.03 242.41h0.9v0.9h-0.9zM56.04 248.74h0.9v0.9h-0.9zM52.14 251.29h0.9v0.9h-0.9zM43.48 240.1h0.9v0.9h-0.9zM50.95 248.09h0.9v0.9h-0.9zM47.64 243.29h0.9v0.9h-0.9zM47.93 239.67h0.9v0.9h-0.9zM46.16 244.97h0.9v0.9h-0.9zM46.92 242.56h0.9v0.9h-0.9zM51.09 240.38h0.9v0.9h-0.9zM49.1 243.62h0.9v0.9h-0.9zM45.77 240.19h0.9v0.9h-0.9zM48.66 237.31h0.9v0.9h-0.9zM50.73 241.83h0.9v0.9h-0.9zM49.14 234.91h0.9v0.9h-0.9zM49.12 242.05h0.9v0.9h-0.9zM47.52 240.23h0.9v0.9h-0.9zM43.35 236.85h0.9v0.9h-0.9zM50.44 243.5h0.9v0.9h-0.9zM47.18 239.48h0.9v0.9h-0.9zM47.92 244h0.9v0.9h-0.9zM49.99 242.96h0.9v0.9h-0.9zM45.3 240.59h0.9v0.9h-0.9zM54.59 244.7h0.9v0.9h-0.9zM51.17 244.35h0.9v0.9h-0.9zM51.79 238.88h0.9v0.9h-0.9zM59.27 244.15h0.9v0.9h-0.9zM51.29 241.85h0.9v0.9h-0.9zM54.35 244.74h0.9v0.9h-0.9zM48.47 242.8h0.9v0.9h-0.9zM52.1 242.12h0.9v0.9h-0.9zM51.16 244.65h0.9v0.9h-0.9zM53.97 244.02h0.9v0.9h-0.9zM50.08 240.59h0.9v0.9h-0.9zM46.06 239.03h0.9v0.9h-0.9zM48.24 245.65h0.9v0.9h-0.9zM47.61 241.09h0.9v0.9h-0.9zM53.75 245.32h0.9v0.9h-0.9zM49.47 241.98h0.9v0.9h-0.9zM48.95 237.18h0.9v0.9h-0.9zM53.11 245.77h0.9v0.9h-0.9zM51.6 238.87h0.9v0.9h-0.9zM47.68 244.15h0.9v0.9h-0.9zM47.14 235.75h0.9v0.9h-0.9zM50.69 248.13h0.9v0.9h-0.9zM56.02 245.92h0.9v0.9h-0.9zM53.04 242.19h0.9v0.9h-0.9zM52.03 242.64h0.9v0.9h-0.9zM47.64 244.74h0.9v0.9h-0.9zM51.15 242.23h0.9v0.9h-0.9zM49.19 242.2h0.9v0.9h-0.9zM47.3 240.09h0.9v0.9h-0.9zM48.65 246.57h0.9v0.9h-0.9zM44.51 231.99h0.9v0.9h-0.9zM43.49 238.81h0.9v0.9h-0.9zM57.71 250.45h0.9v0.9h-0.9zM47.76 244.09h0.9v0.9h-0.9zM41.26 232.58h0.9v0.9h-0.9zM38.25 230.84h0.9v0.9h-0.9zM48.63 238.79h0.9v0.9h-0.9zM51.8 241.59h0.9v0.9h-0.9zM53.41 245.4h0.9v0.9h-0.9zM46.02 247.65h0.9v0.9h-0.9zM46.17 241.68h0.9v0.9h-0.9zM44.23 240.96h0.9v0.9h-0.9zM52.62 245.15h0.9v0.9h-0.9zM49.93 248.03h0.9v0.9h-0.9zM54.33 246.34h0.9v0.9h-0.9zM47.21 243.41h0.9v0.9h-0.9zM45.48 235.2h0.9v0.9h-0.9zM50.12 244.28h0.9v0.9h-0.9zM52.69 251.36h0.9v0.9h-0.9zM49.8 243.47h0.9v0.9h-0.9zM45.23 236.53h0.9v0.9h-0.9zM50.84 241.99h0.9v0.9h-0.9zM48.56 242.86h0.9v0.9h-0.9zM47.24 237.09h0.9v0.9h-0.9zM41.11 237.44h0.9v0.9h-0.9zM49.02 234.59h0.9v0.9h-0.9zM52.6 243.79h0.9v0.9h-0.9zM53.58 244.18h0.9v0.9h-0.9zM55.59 250.29h0.9v0.9h-0.9zM49.81 242.25h0.9v0.9h-0.9zM47.25 242.31h0.9v0.9h-0.9zM57.29 247.7h0.9v0.9h-0.9zM44.57 238.82h0.9v0.9h-0.9zM56.05 242.41h0.9v0.9h-0.9zM48.96 237.2h0.9v0.9h-0.9zM50.51 244.42h0.9v0.9h-0.9zM49.06 236.81h0.9v0.9h-0.9zM55.76 240.01h0.9v0.9h-0.9zM52.04 243.46h0.9v0.9h-0.9zM54.33 250.08h0.9v0.9h-0.9zM47.99 238.96h0.9v0.9h-0.9zM49.9 239.16h0.9v0.9h-0.9zM47.97 243.6h0.9v0.9h-0.9zM44.67 235.81h0.9v0.9h-0.9zM53.31 248.1h0.9v0.9h-0.9zM48.18 237.14h0.9v0.9h-0.9zM49.54 235.5h0.9v0.9h-0.9zM53.38 245.64h0.9v0.9h-0.9zM49.77 236.37h0.9v0.9h-0.9zM49.12 239.2h0.9v0.9h-0.9zM56.36 246.63h0.9v0.9h-0.9zM47.89 243.92h0.9v0.9h-0.9zM52.17 243.49h0.9v0.9h-0.9zM39.27 236.54h0.9v0.9h-0.9zM52.4 242.77h0.9v0.9h-0.9zM50.99 239.4h0.9v0.9h-0.9zM49.16 235.59h0.9v0.9h-0.9zM50.27 244.22h0.9v0.9h-0.9zM48.64 243.57h0.9v0.9h-0.9zM51.13 243.59h0.9v0.9h-0.9zM45.32 239.54h0.9v0.9h-0.9zM52.44 246.81h0.9v0.9h-0.9zM54.72 244.95h0.9v0.9h-0.9zM43.75 240.45h0.9v0.9h-0.9zM47.02 239.93h0.9v0.9h-0.9zM48.8 240.88h0.9v0.9h-0.9zM49.57 239.55h0.9v0.9h-0.9zM39.74 238.88h0.9v0.9h-0.9zM53.81 238.6h0.9v0.9h-0.9zM48.46 236.24h0.9v0.9h-0.9zM51.7 234.15h0.9v0.9h-0.9zM48.42 246.57h0.9v0.9h-0.9zM47.25 242.04h0.9v0.9h-0.9zM53.91 241.25h0.9v0.9h-0.9zM56.88 242.57h0.9v0.9h-0.9zM48.18 238.83h0.9v0.9h-0.9zM53.63 246.08h0.9v0.9h-0.9zM50.57 239.56h0.9v0.9h-0.9zM49.73 241.89h0.9v0.9h-0.9zM49.42 246.64h0.9v0.9h-0.9zM52.02 244.09h0.9v0.9h-0.9zM45.98 243.97h0.9v0.9h-0.9zM50.23 242.17h0.9v0.9h-0.9zM52.79 250.65h0.9v0.9h-0.9zM51.67 243.27h0.9v0.9h-0.9zM45.31 241.3h0.9v0.9h-0.9zM46.14 241.73h0.9v0.9h-0.9zM46.59 238.99h0.9v0.9h-0.9zM50.62 243.16h0.9v0.9h-0.9zM49.6 243.02h0.9v0.9h-0.9zM47.69 235.54h0.9v0.9h-0.9zM45.62 244.36h0.9v0.9h-0.9zM50.8 239.34h0.9v0.9h-0.9zM47.16 239.28h0.9v0.9h-0.9zM54.65 244.53h0.9v0.9h-0.9zM51.09 243.79h0.9v0.9h-0.9zM50.03 238.51h0.9v0.9h-0.9zM50.32 239.63h0.9v0.9h-0.9zM54.64 240.07h0.9v0.9h-0.9zM51.98 246.81h0.9v0.9h-0.9zM48.71 246.29h0.9v0.9h-0.9zM54.77 240.4h0.9v0.9h-0.9zM48.84 242.52h0.9v0.9h-0.9zM49.25 237.03h0.9v0.9h-0.9zM50.04 243.95h0.9v0.9h-0.9zM48.48 239.58h0.9v0.9h-0.9zM48.81 238.69h0.9v0.9h-0.9zM47.3 243.3h0.9v0.9h-0.9zM44.58 235.31h0.9v0.9h-0.9zM54.48 247.66h0.9v0.9h-0.9zM48.47 243.59h0.9v0.9h-0.9zM48.29 235.79h0.9v0.9h-0.9zM46.49 233.06h0.9v0.9h-0.9zM48.78 243.94h0.9v0.9h-0.9zM49.33 238.8h0.9v0.9h-0.9zM49.75 244.03h0.9v0.9h-0.9zM53.93 238.84h0.9v0.9h-0.9zM52.34 234.91h0.9v0.9h-0.9zM51.92 240.76h0.9v0.9h-0.9zM44.44 242.04h0.9v0.9h-0.9zM53.16 246.95h0.9v0.9h-0.9zM50.13 242.77h0.9v0.9h-0.9zM47.58 239.39h0.9v0.9h-0.9zM57.71 246.46h0.9v0.9h-0.9zM46.92 239.52h0.9v0.9h-0.9zM51.02 246.12h0.9v0.9h-0.9zM46.41 237.93h0.9v0.9h-0.9zM50.88 238.3h0.9v0.9h-0.9zM50.66 240.87h0.9v0.9h-0.9zM51.86 245.47h0.9v0.9h-0.9zM46.67 238.97h0.9v0.9h-0.9zM49.45 239.09h0.9v0.9h-0.9zM45.85 241.8h0.9v0.9h-0.9zM51.26 236.89h0.9v0.9h-0.9zM45.34 240.34h0.9v0.9h-0.9zM58.86 246.95h0.9v0.9h-0.9zM48.89 239.67h0.9v0.9h-0.9zM43.92 237.41h0.9v0.9h-0.9zM48.81 241.84h0.9v0.9h-0.9zM57.69 248.7h0.9v0.9h-0.9zM50.68 245.78h0.9v0.9h-0.9zM48.41 238.22h0.9v0.9h-0.9zM53.53 248.18h0.9v0.9h-0.9zM52.02 239.96h0.9v0.9h-0.9zM51.56 245.52h0.9v0.9h-0.9zM54.32 251.79h0.9v0.9h-0.9zM51.77 244.76h0.9v0.9h-0.9zM50.74 240.69h0.9v0.9h-0.9zM50.11 243.01h0.9v0.9h-0.9zM49.72 245.76h0.9v0.9h-0.9zM51.58 241.57h0.9v0.9h-0.9zM49.39 247.16h0.9v0.9h-0.9zM45.85 239.41h0.9v0.9h-0.9zM50.39 244.38h0.9v0.9h-0.9zM51.4 243.07h0.9v0.9h-0.9zM46.02 244.28h0.9v0.9h-0.9zM58.06 244.85h0.9v0.9h-0.9zM39.97 233.59h0.9v0.9h-0.9zM48.14 238.22h0.9v0.9h-0.9zM43.37 236.68h0.9v0.9h-0.9zM50.31 240.31h0.9v0.9h-0.9zM48.08 249.1h0.9v0.9h-0.9zM52.39 248.75h0.9v0.9h-0.9zM46.86 241.31h0.9v0.9h-0.9zM47.22 243.52h0.9v0.9h-0.9zM51.57 243.44h0.9v0.9h-0.9zM52.73 242.07h0.9v0.9h-0.9zM49.43 247.02h0.9v0.9h-0.9zM47.23 241.29h0.9v0.9h-0.9zM42.04 237.52h0.9v0.9h-0.9zM54.41 242.62h0.9v0.9h-0.9zM55.28 247.7h0.9v0.9h-0.9zM46.1 233.02h0.9v0.9h-0.9zM53.01 244h0.9v0.9h-0.9zM56.17 242.42h0.9v0.9h-0.9zM47.35 242.97h0.9v0.9h-0.9zM45.91 240.43h0.9v0.9h-0.9zM47.63 240.91h0.9v0.9h-0.9zM46.47 246.75h0.9v0.9h-0.9zM43.8 238.69h0.9v0.9h-0.9zM56.09 243.92h0.9v0.9h-0.9zM45.5 246.06h0.9v0.9h-0.9zM58.61 239.61h0.9v0.9h-0.9zM51.86 237.51h0.9v0.9h-0.9zM51.89 241.2h0.9v0.9h-0.9zM49.12 238.02h0.9v0.9h-0.9zM51.38 241.65h0.9v0.9h-0.9zM46.82 237.97h0.9v0.9h-0.9zM52.48 241.31h0.9v0.9h-0.9zM56.4 242.24h0.9v0.9h-0.9zM51.62 242.18h0.9v0.9h-0.9zM56.1 245.71h0.9v0.9h-0.9zM49.71 236.73h0.9v0.9h-0.9zM55.18 249.47h0.9v0.9h-0.9zM46.4 237.15h0.9v0.9h-0.9zM43.39 241.04h0.9v0.9h-0.9z" fill="#000" fill-opacity="0.36"/>
<path d="M60.48 247.49h0.9v0.9h-0.9zM54.15 250.94h0.9v0.9h-0.9zM54.56 249.67h0.9v0.9h-0.9zM54.84 248.94h0.9v0.9h-0.9zM57.38 248.69h0.9v0.9h-0.9zM55.95 250.34h0.9v0.9h-0.9zM56.77 247.93h0.9v0.9h-0.9zM52.75 246.12h0.9v0.9h-0.9zM62.15 248.26h0.9v0.9h-0.9zM51.61 249.18h0.9v0.9h-0.9zM58.96 250.92h0.9v0.9h-0.9zM60.48 251.93h0.9v0.9h-0.9zM49.88 249.19h0.9v0.9h-0.9zM54.96 247.31h0.9v0.9h-0.9zM53.83 242.34h0.9v0.9h-0.9zM53.15 245.06h0.9v0.9h-0.9zM49.29 244.64h0.9v0.9h-0.9zM55.91 247.02h0.9v0.9h-0.9zM52.6 248.02h0.9v0.9h-0.9zM59.73 253.32h0.9v0.9h-0.9zM55.89 256.39h0.9v0.9h-0.9zM57.9 253.69h0.9v0.9h-0.9zM50.83 245.19h0.9v0.9h-0.9zM54.2 247.97h0.9v0.9h-0.9zM51.86 242.6h0.9v0.9h-0.9zM57.89 248.44h0.9v0.9h-0.9zM52.82 252.27h0.9v0.9h-0.9zM57.38 248.78h0.9v0.9h-0.9zM65.11 253.6h0.9v0.9h-0.9zM52.63 246.64h0.9v0.9h-0.9zM58.75 243.91h0.9v0.9h-0.9zM54.42 250.99h0.9v0.9h-0.9zM50.8 248.51h0.9v0.9h-0.9zM54.24 252.26h0.9v0.9h-0.9zM52.1 244.13h0.9v0.9h-0.9zM55.05 256.92h0.9v0.9h-0.9zM58.45 253.2h0.9v0.9h-0.9zM57.16 248.71h0.9v0.9h-0.9zM59.34 251.53h0.9v0.9h-0.9zM59.89 246.51h0.9v0.9h-0.9zM48.59 246.68h0.9v0.9h-0.9zM55.2 249.49h0.9v0.9h-0.9zM50.66 241.94h0.9v0.9h-0.9zM63.12 253.52h0.9v0.9h-0.9zM50.51 241.18h0.9v0.9h-0.9zM54.73 247.01h0.9v0.9h-0.9zM55.4 243.09h0.9v0.9h-0.9zM51.45 245.95h0.9v0.9h-0.9zM53.75 250h0.9v0.9h-0.9zM51.91 246.38h0.9v0.9h-0.9zM54.33 247.71h0.9v0.9h-0.9zM57.52 252.03h0.9v0.9h-0.9zM58.04 245.55h0.9v0.9h-0.9zM54.07 250.3h0.9v0.9h-0.9zM54.22 246.88h0.9v0.9h-0.9zM54.21 241.47h0.9v0.9h-0.9zM53.81 252.11h0.9v0.9h-0.9zM58.15 245.66h0.9v0.9h-0.9zM57.78 245.59h0.9v0.9h-0.9zM51.01 250.83h0.9v0.9h-0.9zM56.48 249.75h0.9v0.9h-0.9zM58.59 251.79h0.9v0.9h-0.9zM55.84 250.35h0.9v0.9h-0.9zM59.45 248.37h0.9v0.9h-0.9zM55.33 252.52h0.9v0.9h-0.9zM55.81 237.86h0.9v0.9h-0.9zM50.49 248.22h0.9v0.9h-0.9zM54.18 250.02h0.9v0.9h-0.9zM54.96 252.03h0.9v0.9h-0.9zM55.24 246.12h0.9v0.9h-0.9zM55.12 251.07h0.9v0.9h-0.9zM56.11 251.33h0.9v0.9h-0.9zM52.19 249h0.9v0.9h-0.9zM54.42 252.02h0.9v0.9h-0.9zM47.74 242.24h0.9v0.9h-0.9zM49.57 241.44h0.9v0.9h-0.9zM53.76 247.03h0.9v0.9h-0.9zM55.05 247.03h0.9v0.9h-0.9zM55.24 250.11h0.9v0.9h-0.9zM58.8 242.85h0.9v0.9h-0.9zM52.65 247.25h0.9v0.9h-0.9zM52.73 246.88h0.9v0.9h-0.9zM56.57 246.48h0.9v0.9h-0.9zM54.79 255.11h0.9v0.9h-0.9zM55.37 248.59h0.9v0.9h-0.9zM60.35 250.22h0.9v0.9h-0.9zM51.24 247.78h0.9v0.9h-0.9zM58.54 251.21h0.9v0.9h-0.9zM53.03 246.98h0.9v0.9h-0.9zM53.32 243.74h0.9v0.9h-0.9zM59.95 244.76h0.9v0.9h-0.9zM55.29 251.99h0.9v0.9h-0.9zM60.83 250.42h0.9v0.9h-0.9zM54.24 243.68h0.9v0.9h-0.9zM48.38 247.68h0.9v0.9h-0.9zM53.92 245.39h0.9v0.9h-0.9zM55.04 250.32h0.9v0.9h-0.9zM61 252.16h0.9v0.9h-0.9zM57.2 252.07h0.9v0.9h-0.9zM52.53 245.41h0.9v0.9h-0.9zM49.02 246.75h0.9v0.9h-0.9zM51.8 248.06h0.9v0.9h-0.9zM59.71 252.35h0.9v0.9h-0.9zM53.19 246.27h0.9v0.9h-0.9zM51.29 246.87h0.9v0.9h-0.9zM57.45 248.48h0.9v0.9h-0.9zM52.46 247.8h0.9v0.9h-0.9zM48.76 246.69h0.9v0.9h-0.9zM54.11 246.17h0.9v0.9h-0.9zM50.09 248.3h0.9v0.9h-0.9zM54.73 253.54h0.9v0.9h-0.9zM56.81 251.25h0.9v0.9h-0.9zM58.01 255.47h0.9v0.9h-0.9zM55.32 251.25h0.9v0.9h-0.9zM56.61 251.8h0.9v0.9h-0.9zM58.37 246.18h0.9v0.9h-0.9zM62.85 253.86h0.9v0.9h-0.9zM52.03 240.96h0.9v0.9h-0.9zM57.43 257.05h0.9v0.9h-0.9zM53.59 247.41h0.9v0.9h-0.9zM59.49 246.08h0.9v0.9h-0.9zM54.14 248.33h0.9v0.9h-0.9zM60.63 251.11h0.9v0.9h-0.9zM53.55 239.38h0.9v0.9h-0.9zM56.09 250.2h0.9v0.9h-0.9zM55.54 249.7h0.9v0.9h-0.9zM57.45 245.85h0.9v0.9h-0.9zM55.75 251.04h0.9v0.9h-0.9zM54.28 252.67h0.9v0.9h-0.9zM57.45 241.6h0.9v0.9h-0.9zM47.04 246.23h0.9v0.9h-0.9zM52.59 246.58h0.9v0.9h-0.9zM53.98 249.99h0.9v0.9h-0.9zM63.92 258.77h0.9v0.9h-0.9zM56.33 247.59h0.9v0.9h-0.9zM55 250.55h0.9v0.9h-0.9zM50.58 247.71h0.9v0.9h-0.9zM57.22 253.39h0.9v0.9h-0.9zM55.73 248.3h0.9v0.9h-0.9zM50.39 244.56h0.9v0.9h-0.9zM54.29 245.09h0.9v0.9h-0.9zM59.67 250.95h0.9v0.9h-0.9zM52.55 248.52h0.9v0.9h-0.9zM61.17 254.09h0.9v0.9h-0.9zM59.37 251.68h0.9v0.9h-0.9zM55.4 250.97h0.9v0.9h-0.9zM50.79 246.74h0.9v0.9h-0.9zM59.52 254.97h0.9v0.9h-0.9zM58.52 248.2h0.9v0.9h-0.9zM59.47 254.95h0.9v0.9h-0.9zM51.01 245.91h0.9v0.9h-0.9zM53.55 243.23h0.9v0.9h-0.9zM47.79 243.99h0.9v0.9h-0.9zM61.87 255.33h0.9v0.9h-0.9zM55.18 246.03h0.9v0.9h-0.9zM53.07 247.94h0.9v0.9h-0.9zM60.91 252.33h0.9v0.9h-0.9zM60.2 247.86h0.9v0.9h-0.9zM59.18 253.87h0.9v0.9h-0.9zM50.76 248.9h0.9v0.9h-0.9zM52.45 250.62h0.9v0.9h-0.9zM54.57 254.9h0.9v0.9h-0.9zM53.55 246.46h0.9v0.9h-0.9zM56.74 249.93h0.9v0.9h-0.9zM60.46 252.97h0.9v0.9h-0.9zM55.01 254.24h0.9v0.9h-0.9zM53 241.21h0.9v0.9h-0.9zM54.55 245.26h0.9v0.9h-0.9zM56.75 250.03h0.9v0.9h-0.9zM56.62 248.6h0.9v0.9h-0.9zM54.32 249.43h0.9v0.9h-0.9zM58.81 250.32h0.9v0.9h-0.9zM56.8 247.53h0.9v0.9h-0.9zM58.03 246.36h0.9v0.9h-0.9zM56.31 253.09h0.9v0.9h-0.9zM56.62 247.62h0.9v0.9h-0.9zM55.82 246.55h0.9v0.9h-0.9zM48.61 246.28h0.9v0.9h-0.9zM65.57 258.02h0.9v0.9h-0.9zM51.64 246.01h0.9v0.9h-0.9zM60.11 248.73h0.9v0.9h-0.9zM49.98 243.48h0.9v0.9h-0.9zM48.02 244.52h0.9v0.9h-0.9zM54.19 247.5h0.9v0.9h-0.9zM56.64 248.19h0.9v0.9h-0.9zM55.79 248.1h0.9v0.9h-0.9zM58.54 252.95h0.9v0.9h-0.9zM56.51 248.14h0.9v0.9h-0.9zM55.55 245.87h0.9v0.9h-0.9zM51.76 251.67h0.9v0.9h-0.9zM57.57 252.99h0.9v0.9h-0.9zM57.25 255.92h0.9v0.9h-0.9zM56.31 249.44h0.9v0.9h-0.9zM52.47 245.76h0.9v0.9h-0.9zM58.02 245.69h0.9v0.9h-0.9zM48.59 247.57h0.9v0.9h-0.9zM54.97 250.42h0.9v0.9h-0.9zM56.91 248.99h0.9v0.9h-0.9zM54.34 252.07h0.9v0.9h-0.9zM53.74 248.72h0.9v0.9h-0.9zM58.84 251.67h0.9v0.9h-0.9zM57.4 248.49h0.9v0.9h-0.9zM57.64 250.45h0.9v0.9h-0.9zM59.69 251.66h0.9v0.9h-0.9zM60.01 254.09h0.9v0.9h-0.9zM55.42 244.95h0.9v0.9h-0.9zM58.77 249.94h0.9v0.9h-0.9zM57.01 256.75h0.9v0.9h-0.9zM59.6 248.66h0.9v0.9h-0.9zM56.93 247.88h0.9v0.9h-0.9zM50.47 243.67h0.9v0.9h-0.9zM61.65 255.45h0.9v0.9h-0.9zM54.73 253.49h0.9v0.9h-0.9zM53.99 245.36h0.9v0.9h-0.9zM55.15 250.56h0.9v0.9h-0.9zM52.43 245.56h0.9v0.9h-0.9zM53.31 250.01h0.9v0.9h-0.9zM52.99 242.96h0.9v0.9h-0.9zM54.99 246.9h0.9v0.9h-0.9zM58.44 250.47h0.9v0.9h-0.9zM63.23 256.96h0.9v0.9h-0.9zM55.34 253.22h0.9v0.9h-0.9zM58.13 251.87h0.9v0.9h-0.9zM54.12 245.92h0.9v0.9h-0.9zM56.78 251.35h0.9v0.9h-0.9zM55.66 251.73h0.9v0.9h-0.9zM55.39 244.76h0.9v0.9h-0.9zM59.8 253.03h0.9v0.9h-0.9zM48.06 246.47h0.9v0.9h-0.9zM55.5 244.93h0.9v0.9h-0.9zM60.04 250.55h0.9v0.9h-0.9zM51.36 247.65h0.9v0.9h-0.9zM48.48 249.91h0.9v0.9h-0.9zM50.23 253.17h0.9v0.9h-0.9zM55.68 249.5h0.9v0.9h-0.9zM54.48 246.58h0.9v0.9h-0.9zM54.4 247.32h0.9v0.9h-0.9zM59.87 249.71h0.9v0.9h-0.9zM57.68 242.99h0.9v0.9h-0.9zM59.1 253.82h0.9v0.9h-0.9zM55.59 248.87h0.9v0.9h-0.9zM57.15 252.75h0.9v0.9h-0.9zM57.79 251.55h0.9v0.9h-0.9zM55.34 248.52h0.9v0.9h-0.9zM49 244.46h0.9v0.9h-0.9zM53.92 242.4h0.9v0.9h-0.9zM56.93 251.28h0.9v0.9h-0.9zM53.87 254.11h0.9v0.9h-0.9zM56.94 257.08h0.9v0.9h-0.9zM50.79 251.2h0.9v0.9h-0.9zM53.66 245.99h0.9v0.9h-0.9zM58.22 251.96h0.9v0.9h-0.9zM55.95 248.1h0.9v0.9h-0.9zM63.68 249.93h0.9v0.9h-0.9zM56.25 254.69h0.9v0.9h-0.9zM54.18 249.57h0.9v0.9h-0.9zM51.01 247.42h0.9v0.9h-0.9zM64.4 257.71h0.9v0.9h-0.9zM58.82 253.49h0.9v0.9h-0.9zM55.72 247.19h0.9v0.9h-0.9zM57.63 246.58h0.9v0.9h-0.9zM48.98 246.94h0.9v0.9h-0.9zM54.33 249.73h0.9v0.9h-0.9zM55.24 250.7h0.9v0.9h-0.9zM53.94 242.64h0.9v0.9h-0.9zM54.91 252.51h0.9v0.9h-0.9zM54.06 244.42h0.9v0.9h-0.9zM51.71 246.43h0.9v0.9h-0.9zM56.22 250.18h0.9v0.9h-0.9zM53.31 247.36h0.9v0.9h-0.9zM57.1 248.04h0.9v0.9h-0.9zM57.63 249.14h0.9v0.9h-0.9zM56.4 253.02h0.9v0.9h-0.9zM52.72 247.59h0.9v0.9h-0.9zM57.1 248.21h0.9v0.9h-0.9zM56.81 243.62h0.9v0.9h-0.9zM52.2 245.79h0.9v0.9h-0.9zM59.56 252.06h0.9v0.9h-0.9zM55.16 250.02h0.9v0.9h-0.9zM56.38 252.19h0.9v0.9h-0.9zM56.75 254.12h0.9v0.9h-0.9zM52.94 247.07h0.9v0.9h-0.9zM50.49 241.07h0.9v0.9h-0.9zM54.36 249.9h0.9v0.9h-0.9zM53.1 249.21h0.9v0.9h-0.9zM60.25 252.12h0.9v0.9h-0.9zM53.72 247.59h0.9v0.9h-0.9zM56.33 250.81h0.9v0.9h-0.9zM59.83 250.03h0.9v0.9h-0.9zM54.89 253.21h0.9v0.9h-0.9zM57.17 253.25h0.9v0.9h-0.9zM54.14 248.79h0.9v0.9h-0.9zM58.58 246.48h0.9v0.9h-0.9zM54.19 246.96h0.9v0.9h-0.9zM56.23 245.97h0.9v0.9h-0.9zM55.73 247.71h0.9v0.9h-0.9zM55.76 249.16h0.9v0.9h-0.9zM53.86 250.99h0.9v0.9h-0.9zM54.98 250.03h0.9v0.9h-0.9zM58.73 240.77h0.9v0.9h-0.9z" fill="#000" fill-opacity="0.34"/>
<path d="M57.71 254.88h0.9v0.9h-0.9zM60.26 253.58h0.9v0.9h-0.9zM56.25 253.3h0.9v0.9h-0.9zM58.37 254.13h0.9v0.9h-0.9zM59.89 258.04h0.9v0.9h-0.9zM62.56 259.71h0.9v0.9h-0.9zM59.37 257.83h0.9v0.9h-0.9zM58.59 253.63h0.9v0.9h-0.9zM60.75 252.65h0.9v0.9h-0.9zM61.35 254.8h0.9v0.9h-0.9zM63.01 257.82h0.9v0.9h-0.9zM58.65 253.92h0.9v0.9h-0.9zM58.75 253.94h0.9v0.9h-0.9zM61.45 252.12h0.9v0.9h-0.9zM58.94 248.36h0.9v0.9h-0.9zM60.56 258.78h0.9v0.9h-0.9zM60.58 254.82h0.9v0.9h-0.9zM58.75 255.01h0.9v0.9h-0.9zM59.28 251.11h0.9v0.9h-0.9zM55.99 254.46h0.9v0.9h-0.9zM55.95 254h0.9v0.9h-0.9zM53.72 256.99h0.9v0.9h-0.9zM59.34 254.87h0.9v0.9h-0.9zM59.52 258.89h0.9v0.9h-0.9zM62.71 255.86h0.9v0.9h-0.9zM57.72 259.31h0.9v0.9h-0.9zM60.29 254.25h0.9v0.9h-0.9zM56.2 253.76h0.9v0.9h-0.9zM59.85 255.64h0.9v0.9h-0.9zM54.87 254.11h0.9v0.9h-0.9zM60.63 256.87h0.9v0.9h-0.9zM63.16 257.15h0.9v0.9h-0.9zM62.5 255.81h0.9v0.9h-0.9zM61.79 257.75h0.9v0.9h-0.9zM61.82 257.19h0.9v0.9h-0.9zM57.82 257.12h0.9v0.9h-0.9zM58.19 253.15h0.9v0.9h-0.9zM56.83 254.12h0.9v0.9h-0.9zM59.46 253.28h0.9v0.9h-0.9zM57.03 255.84h0.9v0.9h-0.9zM58.25 252.72h0.9v0.9h-0.9zM60.14 253.68h0.9v0.9h-0.9zM58.82 253.12h0.9v0.9h-0.9zM62.69 253.72h0.9v0.9h-0.9zM62.05 254.2h0.9v0.9h-0.9zM55.18 257.54h0.9v0.9h-0.9zM58.42 252.83h0.9v0.9h-0.9zM57.31 255.53h0.9v0.9h-0.9zM62.31 252.01h0.9v0.9h-0.9zM57.15 251.71h0.9v0.9h-0.9zM57.78 256.72h0.9v0.9h-0.9zM57.56 254.57h0.9v0.9h-0.9zM55.7 254.12h0.9v0.9h-0.9zM60.7 254.1h0.9v0.9h-0.9zM56.4 257.3h0.9v0.9h-0.9zM60.8 251.8h0.9v0.9h-0.9zM60.43 251.53h0.9v0.9h-0.9zM58.77 255.28h0.9v0.9h-0.9zM58.92 254.86h0.9v0.9h-0.9zM61.53 257.25h0.9v0.9h-0.9zM62.29 249.77h0.9v0.9h-0.9zM61.1 254.78h0.9v0.9h-0.9zM58.41 254.91h0.9v0.9h-0.9zM63.07 254.28h0.9v0.9h-0.9zM58.16 253.01h0.9v0.9h-0.9zM57.14 255.95h0.9v0.9h-0.9zM62.81 251.64h0.9v0.9h-0.9zM64.08 255.73h0.9v0.9h-0.9zM57.54 253.33h0.9v0.9h-0.9zM53.43 255.44h0.9v0.9h-0.9zM58.78 256.1h0.9v0.9h-0.9zM54.73 256.49h0.9v0.9h-0.9zM61.54 255.38h0.9v0.9h-0.9zM64.29 255.86h0.9v0.9h-0.9zM58.22 254.05h0.9v0.9h-0.9zM61.5 254.24h0.9v0.9h-0.9zM58.67 260.04h0.9v0.9h-0.9zM57.62 253.39h0.9v0.9h-0.9zM59.53 253.15h0.9v0.9h-0.9zM60.49 257.27h0.9v0.9h-0.9zM59.17 254.88h0.9v0.9h-0.9zM55.71 253.8h0.9v0.9h-0.9zM56.07 254.81h0.9v0.9h-0.9zM59.8 253.51h0.9v0.9h-0.9zM60.99 258.43h0.9v0.9h-0.9zM59.72 253.03h0.9v0.9h-0.9zM56.69 258.37h0.9v0.9h-0.9zM61.02 255.9h0.9v0.9h-0.9zM59.38 251.83h0.9v0.9h-0.9zM58.88 255.01h0.9v0.9h-0.9zM56.24 254.99h0.9v0.9h-0.9zM59.66 252.14h0.9v0.9h-0.9zM59.21 256.61h0.9v0.9h-0.9zM57.18 255.21h0.9v0.9h-0.9zM54.63 253.75h0.9v0.9h-0.9zM55.9 257.42h0.9v0.9h-0.9zM57.03 256.58h0.9v0.9h-0.9zM58.88 254.78h0.9v0.9h-0.9zM63.48 254.21h0.9v0.9h-0.9zM55.97 256.44h0.9v0.9h-0.9zM55.11 249.1h0.9v0.9h-0.9zM60.03 257.36h0.9v0.9h-0.9zM57.1 256.95h0.9v0.9h-0.9zM63.52 253.64h0.9v0.9h-0.9zM58.88 252.63h0.9v0.9h-0.9zM60.53 254.82h0.9v0.9h-0.9zM56.19 256.61h0.9v0.9h-0.9zM53.64 249.92h0.9v0.9h-0.9zM59.52 257.69h0.9v0.9h-0.9z" fill="#000" fill-opacity="0.25"/>
<path d="M46.79 240.42h0.9v0.9h-0.9zM48.37 243.77h0.9v0.9h-0.9zM38.02 238.75h0.9v0.9h-0.9zM41.36 233.96h0.9v0.9h-0.9zM50.16 231.77h0.9v0.9h-0.9zM51.62 243.93h0.9v0.9h-0.9zM39.15 231.38h0.9v0.9h-0.9zM30.17 237.36h0.9v0.9h-0.9zM40.83 253.47h0.9v0.9h-0.9zM39.51 239.48h0.9v0.9h-0.9zM44.37 228.96h0.9v0.9h-0.9zM44.34 241.4h0.9v0.9h-0.9zM54.84 245.2h0.9v0.9h-0.9zM50.02 252.54h0.9v0.9h-0.9zM41.71 232.95h0.9v0.9h-0.9zM32.12 241.96h0.9v0.9h-0.9zM38.75 240.48h0.9v0.9h-0.9zM54.7 245.19h0.9v0.9h-0.9zM41.87 238.27h0.9v0.9h-0.9zM47.78 228.3h0.9v0.9h-0.9zM38.52 234.86h0.9v0.9h-0.9zM39.66 250.05h0.9v0.9h-0.9zM31.64 229.61h0.9v0.9h-0.9zM33.18 237.57h0.9v0.9h-0.9zM51.27 245.53h0.9v0.9h-0.9zM59.22 248.54h0.9v0.9h-0.9zM48.45 231.09h0.9v0.9h-0.9zM41.81 235.95h0.9v0.9h-0.9zM45.43 251.04h0.9v0.9h-0.9zM48.7 234.52h0.9v0.9h-0.9zM46.76 235.54h0.9v0.9h-0.9zM45.69 234.73h0.9v0.9h-0.9zM41.13 233.61h0.9v0.9h-0.9zM44.23 235.57h0.9v0.9h-0.9zM36.55 230.98h0.9v0.9h-0.9zM47.84 247.21h0.9v0.9h-0.9zM48.75 230.54h0.9v0.9h-0.9zM43.62 225.09h0.9v0.9h-0.9zM44.01 233.96h0.9v0.9h-0.9zM31.25 230.84h0.9v0.9h-0.9zM39.56 225.83h0.9v0.9h-0.9zM37.86 239.01h0.9v0.9h-0.9zM61.64 251.17h0.9v0.9h-0.9zM47 236.15h0.9v0.9h-0.9zM46.43 237.77h0.9v0.9h-0.9zM69.65 251.97h0.9v0.9h-0.9zM50.1 235.37h0.9v0.9h-0.9zM52.05 239.95h0.9v0.9h-0.9zM56.33 238.73h0.9v0.9h-0.9zM60.76 255.82h0.9v0.9h-0.9zM31.19 231.05h0.9v0.9h-0.9zM49.37 231.06h0.9v0.9h-0.9zM52.63 240.56h0.9v0.9h-0.9zM54.85 242.49h0.9v0.9h-0.9zM52.59 247.05h0.9v0.9h-0.9zM48.73 243.28h0.9v0.9h-0.9zM46.22 235.68h0.9v0.9h-0.9zM46.69 246.64h0.9v0.9h-0.9zM33.2 248.09h0.9v0.9h-0.9zM64.44 246.23h0.9v0.9h-0.9zM54.94 247.26h0.9v0.9h-0.9zM52.48 237.78h0.9v0.9h-0.9zM62.57 247.53h0.9v0.9h-0.9zM49.97 235.9h0.9v0.9h-0.9zM54.38 259.64h0.9v0.9h-0.9zM39.98 228.59h0.9v0.9h-0.9zM51.65 240.45h0.9v0.9h-0.9zM49.78 232.28h0.9v0.9h-0.9zM54.07 236.43h0.9v0.9h-0.9zM41.12 257.51h0.9v0.9h-0.9zM36.7 245.75h0.9v0.9h-0.9zM52.87 239.35h0.9v0.9h-0.9zM49.27 232.92h0.9v0.9h-0.9zM44.38 244.22h0.9v0.9h-0.9zM54.85 245.15h0.9v0.9h-0.9zM39.04 231.31h0.9v0.9h-0.9zM57.29 253.05h0.9v0.9h-0.9zM56.67 229.45h0.9v0.9h-0.9zM41.32 239.64h0.9v0.9h-0.9zM33.83 239.98h0.9v0.9h-0.9zM47.29 231.82h0.9v0.9h-0.9zM43.4 235.52h0.9v0.9h-0.9zM56.7 244.23h0.9v0.9h-0.9zM34.95 227.2h0.9v0.9h-0.9zM43.14 251.15h0.9v0.9h-0.9zM31.97 239.4h0.9v0.9h-0.9zM49.49 246.94h0.9v0.9h-0.9zM45.93 230.38h0.9v0.9h-0.9zM35.8 237.9h0.9v0.9h-0.9zM43.33 246.73h0.9v0.9h-0.9zM59.55 252.77h0.9v0.9h-0.9zM37.35 249h0.9v0.9h-0.9zM40.08 228.76h0.9v0.9h-0.9zM46.25 235.6h0.9v0.9h-0.9zM52.05 236.95h0.9v0.9h-0.9zM61.69 241.48h0.9v0.9h-0.9zM49.52 226.15h0.9v0.9h-0.9zM34.38 233.12h0.9v0.9h-0.9zM52.31 243.44h0.9v0.9h-0.9zM49.86 248.89h0.9v0.9h-0.9zM43.16 235.82h0.9v0.9h-0.9zM39.78 252.33h0.9v0.9h-0.9zM42.12 238.76h0.9v0.9h-0.9zM44.87 249.72h0.9v0.9h-0.9zM44.73 248.18h0.9v0.9h-0.9zM40.85 231.35h0.9v0.9h-0.9zM33.76 226.32h0.9v0.9h-0.9zM62.02 257.41h0.9v0.9h-0.9zM46.31 241.93h0.9v0.9h-0.9zM54.4 234.62h0.9v0.9h-0.9zM43 234.37h0.9v0.9h-0.9zM52.33 237.02h0.9v0.9h-0.9zM49.79 235.74h0.9v0.9h-0.9zM40.99 227.67h0.9v0.9h-0.9zM37.32 238.49h0.9v0.9h-0.9zM53.48 252.15h0.9v0.9h-0.9zM48.19 235.86h0.9v0.9h-0.9zM38.6 226.57h0.9v0.9h-0.9zM52.26 256.49h0.9v0.9h-0.9zM49.72 240.4h0.9v0.9h-0.9z" fill="#000" fill-opacity="0.08"/>
<ellipse cx="50" cy="242.5" rx="10" ry="2.8" fill="#000" fill-opacity="0.3" transform="rotate(47 50 242.5)" filter="url(#b1_5)"/>
<rect x="28.5" y="208.6" width="53.8" height="53.4" fill="none" stroke="#a8a8a8" stroke-width="0.9"/>
<text x="21.1" y="231.5" font-family="Liberation Serif" font-size="10.35" text-anchor="middle" font-weight="normal" font-style="normal" fill="#000" transform="rotate(-90 21.1 231.5)">CD45RA</text>
<line x1="17.3" y1="281.8" x2="17.3" y2="262.4" stroke="#000" stroke-width="2.4"/>
<line x1="16.1" y1="280.6" x2="34.4" y2="280.6" stroke="#000" stroke-width="2.4"/>
<path d="M17.3 252.5 L11.8 262.9 L22.8 262.9 Z" fill="#000" stroke="none" stroke-width="1"/>
<path d="M44.3 280.6 L33.9 275.1 L33.9 286.1 Z" fill="#000" stroke="none" stroke-width="1"/>
<text x="45.3" y="284.8" font-family="Liberation Serif" font-size="10.45" text-anchor="start" font-weight="normal" font-style="normal" fill="#000">CD45RO</text>
<rect x="112.6" y="207.6" width="3" height="1.2" fill="#999"/>
<rect x="112.6" y="221.05" width="3" height="1.2" fill="#999"/>
<rect x="112.6" y="234.5" width="3" height="1.2" fill="#999"/>
<rect x="112.6" y="247.95" width="3" height="1.2" fill="#999"/>
<rect x="112.6" y="261.4" width="3" height="1.2" fill="#999"/>
<rect x="117.6" y="265.5" width="4" height="1.3" fill="#999"/>
<rect x="130.1" y="265.5" width="4" height="1.3" fill="#999"/>
<rect x="142.6" y="265.5" width="4" height="1.3" fill="#999"/>
<rect x="155.1" y="265.5" width="4" height="1.3" fill="#999"/>
<rect x="167.6" y="265.5" width="4" height="1.3" fill="#999"/>
<path d="M132.79 234.54h0.9v0.9h-0.9zM132.75 234.53h0.9v0.9h-0.9zM131.24 232.1h0.9v0.9h-0.9zM130.69 235.41h0.9v0.9h-0.9zM127.81 234.18h0.9v0.9h-0.9zM134.09 232.14h0.9v0.9h-0.9zM133.34 233.86h0.9v0.9h-0.9zM132.12 234.07h0.9v0.9h-0.9zM134.71 228.32h0.9v0.9h-0.9zM135.49 234.83h0.9v0.9h-0.9zM137.53 237.73h0.9v0.9h-0.9zM125.77 232.55h0.9v0.9h-0.9zM130.63 233.47h0.9v0.9h-0.9zM137.91 240.51h0.9v0.9h-0.9zM130.56 231.14h0.9v0.9h-0.9zM127.84 231.95h0.9v0.9h-0.9zM136.79 232.17h0.9v0.9h-0.9zM133.2 236.65h0.9v0.9h-0.9zM136.89 233.51h0.9v0.9h-0.9zM133.42 229.47h0.9v0.9h-0.9zM129.32 231.72h0.9v0.9h-0.9zM131.42 236.71h0.9v0.9h-0.9zM134.8 233.29h0.9v0.9h-0.9zM126.88 234.4h0.9v0.9h-0.9zM134 233.77h0.9v0.9h-0.9zM132.41 229.03h0.9v0.9h-0.9zM136.9 232.44h0.9v0.9h-0.9zM134.08 236.18h0.9v0.9h-0.9zM135.13 228.89h0.9v0.9h-0.9zM132.29 237.69h0.9v0.9h-0.9zM133.28 228.88h0.9v0.9h-0.9zM136.31 236.01h0.9v0.9h-0.9zM129.68 235.22h0.9v0.9h-0.9zM131.95 234.06h0.9v0.9h-0.9zM133.61 230.93h0.9v0.9h-0.9zM135.54 231.9h0.9v0.9h-0.9zM129.39 228.73h0.9v0.9h-0.9zM135.12 238.58h0.9v0.9h-0.9zM137.94 240.18h0.9v0.9h-0.9zM137.61 237.3h0.9v0.9h-0.9zM131.48 233.78h0.9v0.9h-0.9zM129.58 233.41h0.9v0.9h-0.9zM131.79 233.26h0.9v0.9h-0.9zM131.31 231.53h0.9v0.9h-0.9zM136.6 234.94h0.9v0.9h-0.9zM131.12 232.87h0.9v0.9h-0.9zM136.27 234.81h0.9v0.9h-0.9zM132.8 227.5h0.9v0.9h-0.9zM127.94 233.43h0.9v0.9h-0.9zM132.44 234.49h0.9v0.9h-0.9zM136.03 236.32h0.9v0.9h-0.9zM135.68 233.27h0.9v0.9h-0.9zM127.91 231.85h0.9v0.9h-0.9zM132.25 234.71h0.9v0.9h-0.9zM130.72 231.09h0.9v0.9h-0.9zM140.55 235.49h0.9v0.9h-0.9zM131.57 236.84h0.9v0.9h-0.9zM132.62 233.37h0.9v0.9h-0.9zM126.2 231.18h0.9v0.9h-0.9zM130.1 235.72h0.9v0.9h-0.9zM133.85 232.46h0.9v0.9h-0.9zM135.1 233.82h0.9v0.9h-0.9zM129.46 236.18h0.9v0.9h-0.9zM136.06 235.72h0.9v0.9h-0.9zM134.38 237.08h0.9v0.9h-0.9zM135.04 234.78h0.9v0.9h-0.9zM133 234.64h0.9v0.9h-0.9zM134.48 235.48h0.9v0.9h-0.9zM132.06 232.27h0.9v0.9h-0.9zM136.4 232.1h0.9v0.9h-0.9zM132.2 235.31h0.9v0.9h-0.9zM134.43 233.19h0.9v0.9h-0.9zM134.22 232.34h0.9v0.9h-0.9zM136.86 234.57h0.9v0.9h-0.9zM130.8 227.4h0.9v0.9h-0.9zM133.97 234.62h0.9v0.9h-0.9zM134.32 229.5h0.9v0.9h-0.9zM134.45 231.26h0.9v0.9h-0.9zM131.64 232.24h0.9v0.9h-0.9zM130.81 232.76h0.9v0.9h-0.9zM132.17 230.98h0.9v0.9h-0.9zM130.42 236.53h0.9v0.9h-0.9zM136.34 238.86h0.9v0.9h-0.9zM131.4 232.1h0.9v0.9h-0.9zM134.71 237.23h0.9v0.9h-0.9zM129 230.2h0.9v0.9h-0.9zM130.16 233.85h0.9v0.9h-0.9zM136.15 233.53h0.9v0.9h-0.9zM139.94 237.09h0.9v0.9h-0.9zM140.61 237.94h0.9v0.9h-0.9zM130.11 237.84h0.9v0.9h-0.9zM132.77 231.39h0.9v0.9h-0.9zM137.68 236.34h0.9v0.9h-0.9zM136.89 231.52h0.9v0.9h-0.9zM136.88 239.36h0.9v0.9h-0.9zM133.31 235.9h0.9v0.9h-0.9zM132.85 231.44h0.9v0.9h-0.9zM128.46 231.32h0.9v0.9h-0.9zM135.54 237.98h0.9v0.9h-0.9zM134.89 237.01h0.9v0.9h-0.9zM133.04 228.67h0.9v0.9h-0.9zM135 235.19h0.9v0.9h-0.9zM136.69 234.83h0.9v0.9h-0.9zM130.27 232.85h0.9v0.9h-0.9zM134.6 228.6h0.9v0.9h-0.9zM133.21 230.29h0.9v0.9h-0.9zM131.25 230.06h0.9v0.9h-0.9zM132.28 240.92h0.9v0.9h-0.9zM139 235.96h0.9v0.9h-0.9zM136.8 235.62h0.9v0.9h-0.9zM135.71 232.75h0.9v0.9h-0.9zM136.02 229.47h0.9v0.9h-0.9zM139.75 235.27h0.9v0.9h-0.9zM136.08 233.32h0.9v0.9h-0.9zM136.16 231.32h0.9v0.9h-0.9zM130.92 234.94h0.9v0.9h-0.9zM138.32 230.16h0.9v0.9h-0.9zM138.01 232.14h0.9v0.9h-0.9zM133.42 235.31h0.9v0.9h-0.9zM132.19 231.54h0.9v0.9h-0.9zM132.13 233.99h0.9v0.9h-0.9zM133.81 238.52h0.9v0.9h-0.9zM131.12 238.85h0.9v0.9h-0.9zM127.9 235.84h0.9v0.9h-0.9zM131.48 234.82h0.9v0.9h-0.9zM132.98 233.49h0.9v0.9h-0.9zM130.26 232.64h0.9v0.9h-0.9zM138.91 237.87h0.9v0.9h-0.9zM133.41 233.51h0.9v0.9h-0.9zM135.81 234.46h0.9v0.9h-0.9zM133.11 234.04h0.9v0.9h-0.9zM135.57 238.32h0.9v0.9h-0.9zM131.55 230h0.9v0.9h-0.9zM132.14 235.56h0.9v0.9h-0.9zM136.53 234.96h0.9v0.9h-0.9zM139.71 237.34h0.9v0.9h-0.9zM135.09 239.63h0.9v0.9h-0.9zM137.62 237.15h0.9v0.9h-0.9zM137.59 231.11h0.9v0.9h-0.9zM129.48 228.62h0.9v0.9h-0.9zM133.75 237.44h0.9v0.9h-0.9zM131.48 235.77h0.9v0.9h-0.9zM132.6 238.23h0.9v0.9h-0.9zM130.36 228.48h0.9v0.9h-0.9zM132.49 229.22h0.9v0.9h-0.9zM139.61 234.62h0.9v0.9h-0.9zM131.8 230.98h0.9v0.9h-0.9zM136.71 234.2h0.9v0.9h-0.9zM134.64 236.27h0.9v0.9h-0.9zM135.54 226.77h0.9v0.9h-0.9zM132.94 228.83h0.9v0.9h-0.9zM139.24 235.08h0.9v0.9h-0.9zM129.85 232.31h0.9v0.9h-0.9zM135.15 231.46h0.9v0.9h-0.9zM135.05 237.83h0.9v0.9h-0.9zM135.5 232.32h0.9v0.9h-0.9zM134.37 227.04h0.9v0.9h-0.9zM133.91 235.21h0.9v0.9h-0.9zM130.85 231.79h0.9v0.9h-0.9zM144.53 237.35h0.9v0.9h-0.9zM127.68 231.6h0.9v0.9h-0.9zM133.08 231.54h0.9v0.9h-0.9zM135.44 234.46h0.9v0.9h-0.9zM135.43 236.7h0.9v0.9h-0.9zM136.54 236.1h0.9v0.9h-0.9zM125.19 232.46h0.9v0.9h-0.9zM126.99 232.62h0.9v0.9h-0.9zM136.45 230.79h0.9v0.9h-0.9zM132.22 235.72h0.9v0.9h-0.9zM130.54 231.62h0.9v0.9h-0.9zM133.04 229.74h0.9v0.9h-0.9zM129.66 235.3h0.9v0.9h-0.9zM135.45 234.81h0.9v0.9h-0.9zM133.04 233.67h0.9v0.9h-0.9zM133.98 234.53h0.9v0.9h-0.9zM127.15 232.3h0.9v0.9h-0.9zM135.33 225.76h0.9v0.9h-0.9zM137.43 232.1h0.9v0.9h-0.9zM133.23 233.03h0.9v0.9h-0.9zM130.94 233.62h0.9v0.9h-0.9zM133.17 232.34h0.9v0.9h-0.9zM131.25 230.99h0.9v0.9h-0.9zM130.5 231.58h0.9v0.9h-0.9zM135.55 238.49h0.9v0.9h-0.9zM136.91 231.19h0.9v0.9h-0.9zM134.85 237.74h0.9v0.9h-0.9zM142.97 232.33h0.9v0.9h-0.9zM134.07 232.78h0.9v0.9h-0.9zM138.32 233.13h0.9v0.9h-0.9zM128.62 238.2h0.9v0.9h-0.9zM139.55 230.83h0.9v0.9h-0.9zM131.3 236.76h0.9v0.9h-0.9zM130.77 233.7h0.9v0.9h-0.9zM136.16 230.3h0.9v0.9h-0.9zM129.86 234.94h0.9v0.9h-0.9zM137.81 234.45h0.9v0.9h-0.9zM137.82 234.08h0.9v0.9h-0.9zM134.22 233.96h0.9v0.9h-0.9zM129.44 231.81h0.9v0.9h-0.9zM136.89 226.33h0.9v0.9h-0.9zM132.54 229.9h0.9v0.9h-0.9zM132.73 229.59h0.9v0.9h-0.9zM135.56 226.42h0.9v0.9h-0.9zM135.88 235.45h0.9v0.9h-0.9zM134.64 233.4h0.9v0.9h-0.9zM134.1 233.03h0.9v0.9h-0.9zM132.91 227.81h0.9v0.9h-0.9zM132.03 236.05h0.9v0.9h-0.9zM131.5 237.76h0.9v0.9h-0.9zM130.08 230.2h0.9v0.9h-0.9zM129.72 235.19h0.9v0.9h-0.9zM139.12 235.64h0.9v0.9h-0.9zM135.95 234.39h0.9v0.9h-0.9zM130.85 231.28h0.9v0.9h-0.9zM128.01 235.09h0.9v0.9h-0.9zM133.2 237.47h0.9v0.9h-0.9zM138.49 228.52h0.9v0.9h-0.9zM135.6 235.31h0.9v0.9h-0.9zM126.6 229.04h0.9v0.9h-0.9zM133.53 239.52h0.9v0.9h-0.9zM129.31 233.34h0.9v0.9h-0.9zM134.71 233.77h0.9v0.9h-0.9zM131.82 234.2h0.9v0.9h-0.9zM134.04 236.2h0.9v0.9h-0.9zM134.51 229.61h0.9v0.9h-0.9zM135.07 239.16h0.9v0.9h-0.9zM131.95 232.32h0.9v0.9h-0.9zM138.66 230.98h0.9v0.9h-0.9zM130.92 240.18h0.9v0.9h-0.9zM135.42 232.39h0.9v0.9h-0.9zM139.24 237.57h0.9v0.9h-0.9zM134.79 232.93h0.9v0.9h-0.9zM136.96 229.65h0.9v0.9h-0.9zM132.31 227.51h0.9v0.9h-0.9zM136.19 235.07h0.9v0.9h-0.9zM140.1 230.99h0.9v0.9h-0.9zM129.4 235.75h0.9v0.9h-0.9zM134.33 227.56h0.9v0.9h-0.9zM131.96 231.22h0.9v0.9h-0.9zM131.31 236.55h0.9v0.9h-0.9zM134.69 239.78h0.9v0.9h-0.9zM135.96 233.47h0.9v0.9h-0.9zM134.54 229.05h0.9v0.9h-0.9zM135.02 238.97h0.9v0.9h-0.9zM135.22 231.59h0.9v0.9h-0.9zM134.59 235.99h0.9v0.9h-0.9zM135.85 231.07h0.9v0.9h-0.9zM135.11 232.64h0.9v0.9h-0.9zM134.59 236.37h0.9v0.9h-0.9zM135.44 233.37h0.9v0.9h-0.9zM136.51 238.33h0.9v0.9h-0.9zM135.69 237.98h0.9v0.9h-0.9zM134.72 235.73h0.9v0.9h-0.9zM133.48 227.11h0.9v0.9h-0.9zM129.85 233.1h0.9v0.9h-0.9zM135.76 235.73h0.9v0.9h-0.9zM130.72 238h0.9v0.9h-0.9zM135.32 228.52h0.9v0.9h-0.9zM129.67 229.69h0.9v0.9h-0.9zM134.25 236.62h0.9v0.9h-0.9zM131.53 234.99h0.9v0.9h-0.9zM134.56 231.7h0.9v0.9h-0.9zM131.19 234.54h0.9v0.9h-0.9zM138.04 232.74h0.9v0.9h-0.9zM130.51 231.84h0.9v0.9h-0.9zM141.41 234.94h0.9v0.9h-0.9zM129.28 232.02h0.9v0.9h-0.9zM135.94 233.07h0.9v0.9h-0.9zM132.63 234.59h0.9v0.9h-0.9zM128.63 230.01h0.9v0.9h-0.9zM133.67 236.86h0.9v0.9h-0.9zM136.89 235.63h0.9v0.9h-0.9zM127.23 233.83h0.9v0.9h-0.9zM136.72 233.52h0.9v0.9h-0.9zM134.7 237.99h0.9v0.9h-0.9zM137 227.67h0.9v0.9h-0.9zM133.43 230.8h0.9v0.9h-0.9zM131.28 231.66h0.9v0.9h-0.9zM129.82 232.29h0.9v0.9h-0.9zM140.77 234.42h0.9v0.9h-0.9zM137.3 234.3h0.9v0.9h-0.9zM135.24 234.27h0.9v0.9h-0.9zM138.28 234.35h0.9v0.9h-0.9zM136.84 233.12h0.9v0.9h-0.9zM134.17 233.92h0.9v0.9h-0.9zM139.16 231.93h0.9v0.9h-0.9zM127.41 234.13h0.9v0.9h-0.9zM131.78 238.26h0.9v0.9h-0.9zM130.26 231.97h0.9v0.9h-0.9zM132.28 238.85h0.9v0.9h-0.9zM134.09 232.34h0.9v0.9h-0.9zM135.68 234.67h0.9v0.9h-0.9zM130.14 233.82h0.9v0.9h-0.9zM129.83 227.37h0.9v0.9h-0.9zM138.15 235h0.9v0.9h-0.9zM131.98 233.74h0.9v0.9h-0.9zM135.78 236.95h0.9v0.9h-0.9zM131.73 230.27h0.9v0.9h-0.9zM136.64 235.28h0.9v0.9h-0.9zM130.29 234.32h0.9v0.9h-0.9zM133.11 240.87h0.9v0.9h-0.9zM131.65 229.72h0.9v0.9h-0.9zM130.97 232.98h0.9v0.9h-0.9zM130.32 235.19h0.9v0.9h-0.9zM124.38 230.49h0.9v0.9h-0.9zM132.15 231.59h0.9v0.9h-0.9zM134.76 235.09h0.9v0.9h-0.9zM128.19 235.05h0.9v0.9h-0.9zM135.93 233.47h0.9v0.9h-0.9zM135.91 231.3h0.9v0.9h-0.9zM130.56 230.38h0.9v0.9h-0.9zM134.36 234.46h0.9v0.9h-0.9zM133.61 228.72h0.9v0.9h-0.9zM126.17 233.97h0.9v0.9h-0.9zM135.85 232.34h0.9v0.9h-0.9zM135.93 237.1h0.9v0.9h-0.9zM133.36 231.25h0.9v0.9h-0.9zM136.15 236.5h0.9v0.9h-0.9zM137.48 237.56h0.9v0.9h-0.9zM132.85 230.94h0.9v0.9h-0.9zM131.11 232.72h0.9v0.9h-0.9zM133.21 235.43h0.9v0.9h-0.9zM136.5 231.91h0.9v0.9h-0.9zM134.48 230.88h0.9v0.9h-0.9zM137.02 231.35h0.9v0.9h-0.9zM133.29 230.34h0.9v0.9h-0.9zM132.2 231.69h0.9v0.9h-0.9zM138.15 235.86h0.9v0.9h-0.9zM129.99 229.98h0.9v0.9h-0.9zM134.68 236.27h0.9v0.9h-0.9zM130.88 238.66h0.9v0.9h-0.9zM136.45 235.89h0.9v0.9h-0.9zM139.11 232.72h0.9v0.9h-0.9zM134.46 231.13h0.9v0.9h-0.9zM131.33 237.66h0.9v0.9h-0.9zM129.49 236.29h0.9v0.9h-0.9zM128.3 234.87h0.9v0.9h-0.9zM130.18 228.19h0.9v0.9h-0.9zM136.44 235.23h0.9v0.9h-0.9zM133.92 233.75h0.9v0.9h-0.9zM134.3 233.43h0.9v0.9h-0.9zM131.25 230.91h0.9v0.9h-0.9zM135.3 231.6h0.9v0.9h-0.9zM131.89 238.57h0.9v0.9h-0.9zM129.82 229.01h0.9v0.9h-0.9zM132.69 233h0.9v0.9h-0.9zM134.96 231.98h0.9v0.9h-0.9zM133.4 233.45h0.9v0.9h-0.9zM130.72 236.96h0.9v0.9h-0.9zM136.3 230.27h0.9v0.9h-0.9z" fill="#000" fill-opacity="0.4"/>
<path d="M131.51 233.4h0.9v0.9h-0.9zM138.25 235.95h0.9v0.9h-0.9zM134.57 232.51h0.9v0.9h-0.9zM139.13 236.82h0.9v0.9h-0.9zM134.08 238.81h0.9v0.9h-0.9zM138.18 242.68h0.9v0.9h-0.9zM140.75 235.2h0.9v0.9h-0.9zM135.55 244.47h0.9v0.9h-0.9zM137.85 245.82h0.9v0.9h-0.9zM137.24 240.33h0.9v0.9h-0.9zM134.01 240.86h0.9v0.9h-0.9zM130.85 241.57h0.9v0.9h-0.9zM140.55 240.98h0.9v0.9h-0.9zM141.92 235.4h0.9v0.9h-0.9zM136.28 235.01h0.9v0.9h-0.9zM146.56 246.68h0.9v0.9h-0.9zM139.85 242.3h0.9v0.9h-0.9zM134.96 238.53h0.9v0.9h-0.9zM129.35 232.39h0.9v0.9h-0.9zM142.08 246.77h0.9v0.9h-0.9zM136.89 238.56h0.9v0.9h-0.9zM140.69 240.19h0.9v0.9h-0.9zM136.45 239.95h0.9v0.9h-0.9zM135.46 237.86h0.9v0.9h-0.9zM136.46 241.21h0.9v0.9h-0.9zM136.23 233.54h0.9v0.9h-0.9zM133.02 239.11h0.9v0.9h-0.9zM142.74 236.31h0.9v0.9h-0.9zM128.61 237.16h0.9v0.9h-0.9zM142 237.36h0.9v0.9h-0.9zM134.57 235.16h0.9v0.9h-0.9zM137.02 247.3h0.9v0.9h-0.9zM137.31 236.47h0.9v0.9h-0.9zM145.55 244.24h0.9v0.9h-0.9zM140.92 245.37h0.9v0.9h-0.9zM134.22 241.36h0.9v0.9h-0.9zM141.14 238.81h0.9v0.9h-0.9zM133.21 232.47h0.9v0.9h-0.9zM135.16 243.17h0.9v0.9h-0.9zM126.53 230.7h0.9v0.9h-0.9zM135.05 243.89h0.9v0.9h-0.9zM139.13 242.08h0.9v0.9h-0.9zM137.61 240.99h0.9v0.9h-0.9zM136.07 235.78h0.9v0.9h-0.9zM139.1 238.14h0.9v0.9h-0.9zM137.4 229.89h0.9v0.9h-0.9zM137.47 241.51h0.9v0.9h-0.9zM141.02 236.68h0.9v0.9h-0.9zM140.95 241.13h0.9v0.9h-0.9zM127.41 233.27h0.9v0.9h-0.9zM127.14 236.91h0.9v0.9h-0.9zM140.2 239.77h0.9v0.9h-0.9zM132.89 227.79h0.9v0.9h-0.9zM137.88 247.02h0.9v0.9h-0.9zM142.94 236.23h0.9v0.9h-0.9zM137.22 236.44h0.9v0.9h-0.9zM139.13 240.1h0.9v0.9h-0.9zM142.96 236.73h0.9v0.9h-0.9zM131.74 238.72h0.9v0.9h-0.9zM130.91 234.5h0.9v0.9h-0.9zM142.13 248.94h0.9v0.9h-0.9zM130.2 235.38h0.9v0.9h-0.9zM131.41 231.78h0.9v0.9h-0.9zM132.95 239.27h0.9v0.9h-0.9zM140.26 243.56h0.9v0.9h-0.9zM139.78 247.52h0.9v0.9h-0.9zM138.88 234.7h0.9v0.9h-0.9zM145.47 247.51h0.9v0.9h-0.9zM138.97 239.91h0.9v0.9h-0.9zM140.62 233.52h0.9v0.9h-0.9zM137.41 237.7h0.9v0.9h-0.9zM141.65 241.41h0.9v0.9h-0.9zM136.1 230.21h0.9v0.9h-0.9zM136.7 238.83h0.9v0.9h-0.9zM140.57 240.65h0.9v0.9h-0.9zM138.61 240.92h0.9v0.9h-0.9zM142.36 245.11h0.9v0.9h-0.9zM136.34 240.17h0.9v0.9h-0.9zM143.44 241.57h0.9v0.9h-0.9zM136.94 236.09h0.9v0.9h-0.9zM127.97 232.54h0.9v0.9h-0.9zM140.43 242.81h0.9v0.9h-0.9zM143.37 254.35h0.9v0.9h-0.9zM138.8 249.58h0.9v0.9h-0.9zM143.93 239.37h0.9v0.9h-0.9zM140.61 245.41h0.9v0.9h-0.9zM134.02 233.85h0.9v0.9h-0.9zM136.89 243.41h0.9v0.9h-0.9zM139.43 238.19h0.9v0.9h-0.9zM141.73 240.07h0.9v0.9h-0.9zM135.18 239.67h0.9v0.9h-0.9zM132.45 233.5h0.9v0.9h-0.9zM134.61 228.92h0.9v0.9h-0.9zM134.32 233.43h0.9v0.9h-0.9zM139.63 241.25h0.9v0.9h-0.9zM139.78 242.32h0.9v0.9h-0.9zM135.57 238.64h0.9v0.9h-0.9zM136.46 237.82h0.9v0.9h-0.9zM141.98 241.54h0.9v0.9h-0.9zM143.77 240.94h0.9v0.9h-0.9zM141.68 234.27h0.9v0.9h-0.9zM131.63 239.47h0.9v0.9h-0.9zM134.99 242.38h0.9v0.9h-0.9zM136.2 230.7h0.9v0.9h-0.9zM136.51 241.96h0.9v0.9h-0.9zM144.46 238.59h0.9v0.9h-0.9zM139.12 240.4h0.9v0.9h-0.9zM136.52 239.91h0.9v0.9h-0.9zM141.4 234.11h0.9v0.9h-0.9zM138.52 231.45h0.9v0.9h-0.9zM134.2 233h0.9v0.9h-0.9zM143.12 242.33h0.9v0.9h-0.9zM138.55 233.24h0.9v0.9h-0.9zM132.5 231.75h0.9v0.9h-0.9zM136.81 236.1h0.9v0.9h-0.9zM133.47 235.62h0.9v0.9h-0.9zM132.63 234.78h0.9v0.9h-0.9zM133.47 237.39h0.9v0.9h-0.9zM133.8 235.82h0.9v0.9h-0.9zM138.95 240.1h0.9v0.9h-0.9zM141.57 245.35h0.9v0.9h-0.9zM133.11 236.3h0.9v0.9h-0.9zM136.7 234.17h0.9v0.9h-0.9zM137.03 238.9h0.9v0.9h-0.9zM147.09 241.92h0.9v0.9h-0.9zM133.66 239.66h0.9v0.9h-0.9zM136.17 238.49h0.9v0.9h-0.9zM145.17 242.2h0.9v0.9h-0.9zM135.43 240.21h0.9v0.9h-0.9zM140.71 232.77h0.9v0.9h-0.9zM134.17 234.89h0.9v0.9h-0.9zM132.93 242.83h0.9v0.9h-0.9zM145.49 240.8h0.9v0.9h-0.9zM137.86 244.41h0.9v0.9h-0.9zM142.45 244.67h0.9v0.9h-0.9zM135.54 236.57h0.9v0.9h-0.9zM140.09 245.88h0.9v0.9h-0.9zM140.06 246.8h0.9v0.9h-0.9zM138.66 234.19h0.9v0.9h-0.9zM146.87 242.95h0.9v0.9h-0.9zM137.4 236.49h0.9v0.9h-0.9zM136.54 233.76h0.9v0.9h-0.9zM130.93 243.14h0.9v0.9h-0.9zM138.77 237.23h0.9v0.9h-0.9zM135.24 240.82h0.9v0.9h-0.9zM136.34 234.46h0.9v0.9h-0.9zM130.67 232.89h0.9v0.9h-0.9zM135.24 244.13h0.9v0.9h-0.9zM128.12 237.94h0.9v0.9h-0.9zM140.7 241.45h0.9v0.9h-0.9zM137.27 236.34h0.9v0.9h-0.9zM131.97 235.16h0.9v0.9h-0.9zM137.81 234.67h0.9v0.9h-0.9zM138.63 240.78h0.9v0.9h-0.9zM136.52 235.71h0.9v0.9h-0.9zM132.39 239.15h0.9v0.9h-0.9zM142.32 241.09h0.9v0.9h-0.9zM133.58 241.01h0.9v0.9h-0.9zM131.75 240.81h0.9v0.9h-0.9zM136.89 241.58h0.9v0.9h-0.9zM129.34 231.86h0.9v0.9h-0.9zM136.83 240.99h0.9v0.9h-0.9zM137.38 241.45h0.9v0.9h-0.9zM133.58 238.22h0.9v0.9h-0.9zM140.59 236.71h0.9v0.9h-0.9zM134.2 234.75h0.9v0.9h-0.9zM144.56 235.55h0.9v0.9h-0.9zM128.81 232.3h0.9v0.9h-0.9zM129.56 243.99h0.9v0.9h-0.9zM133.9 231.9h0.9v0.9h-0.9zM134.27 237.19h0.9v0.9h-0.9zM136.96 247.27h0.9v0.9h-0.9zM131.25 236.87h0.9v0.9h-0.9zM133.24 234.24h0.9v0.9h-0.9zM136.25 240.39h0.9v0.9h-0.9zM131.55 237.91h0.9v0.9h-0.9zM137.36 238.19h0.9v0.9h-0.9zM139.72 235.36h0.9v0.9h-0.9zM138.59 242.04h0.9v0.9h-0.9zM133.59 243.95h0.9v0.9h-0.9zM135.86 234.48h0.9v0.9h-0.9zM135.14 240.2h0.9v0.9h-0.9zM134.41 239.61h0.9v0.9h-0.9zM143.67 236.9h0.9v0.9h-0.9zM141.24 231.82h0.9v0.9h-0.9zM137.86 236.55h0.9v0.9h-0.9zM138.68 241.19h0.9v0.9h-0.9zM133.81 240.7h0.9v0.9h-0.9zM142.59 238.48h0.9v0.9h-0.9zM134.66 236.38h0.9v0.9h-0.9zM142.82 244.92h0.9v0.9h-0.9zM136.28 238.34h0.9v0.9h-0.9zM139.94 241.45h0.9v0.9h-0.9zM139.5 238.86h0.9v0.9h-0.9zM138.17 234.75h0.9v0.9h-0.9zM140.89 240.05h0.9v0.9h-0.9zM137.91 241.49h0.9v0.9h-0.9zM147.69 237.17h0.9v0.9h-0.9zM138.19 232.26h0.9v0.9h-0.9zM134.8 239.41h0.9v0.9h-0.9zM140.29 251.64h0.9v0.9h-0.9zM140.24 244.67h0.9v0.9h-0.9zM134.93 238h0.9v0.9h-0.9zM128.81 231.61h0.9v0.9h-0.9zM135.8 239.74h0.9v0.9h-0.9zM137.66 232.25h0.9v0.9h-0.9zM135.82 235.84h0.9v0.9h-0.9zM139.47 239.2h0.9v0.9h-0.9zM136.58 241.23h0.9v0.9h-0.9zM134.53 233.66h0.9v0.9h-0.9zM134.67 231.2h0.9v0.9h-0.9zM142.03 240.73h0.9v0.9h-0.9zM141.31 246.94h0.9v0.9h-0.9zM139.7 242.26h0.9v0.9h-0.9zM136.88 244.09h0.9v0.9h-0.9zM139.28 237.9h0.9v0.9h-0.9zM130.58 240.07h0.9v0.9h-0.9zM138.26 236.87h0.9v0.9h-0.9zM140.21 232.38h0.9v0.9h-0.9zM135.2 237.14h0.9v0.9h-0.9zM138.25 235.08h0.9v0.9h-0.9zM137.37 241.04h0.9v0.9h-0.9zM135.42 237.36h0.9v0.9h-0.9zM132.38 236.29h0.9v0.9h-0.9zM135.68 233.9h0.9v0.9h-0.9zM139.05 238.23h0.9v0.9h-0.9zM128.44 238.02h0.9v0.9h-0.9zM146.61 241.16h0.9v0.9h-0.9zM141.38 236.51h0.9v0.9h-0.9zM142.01 237.2h0.9v0.9h-0.9zM137.65 241.86h0.9v0.9h-0.9zM138.93 247.69h0.9v0.9h-0.9zM133.58 238.51h0.9v0.9h-0.9zM136.53 236.45h0.9v0.9h-0.9zM141.01 233.06h0.9v0.9h-0.9zM144.86 236.95h0.9v0.9h-0.9zM135.37 238.58h0.9v0.9h-0.9zM142.22 235.88h0.9v0.9h-0.9zM133.78 237.23h0.9v0.9h-0.9zM136.13 246.02h0.9v0.9h-0.9zM131.13 232.14h0.9v0.9h-0.9zM134.02 238.07h0.9v0.9h-0.9zM133.17 231.47h0.9v0.9h-0.9zM141.28 240.07h0.9v0.9h-0.9zM139.22 235.14h0.9v0.9h-0.9zM144.33 240.37h0.9v0.9h-0.9zM135.87 234.2h0.9v0.9h-0.9zM130.72 241.36h0.9v0.9h-0.9zM140.59 237.97h0.9v0.9h-0.9zM138.17 241.5h0.9v0.9h-0.9zM138.47 239.5h0.9v0.9h-0.9zM142.07 238.06h0.9v0.9h-0.9zM135.32 232.86h0.9v0.9h-0.9zM132.45 235.45h0.9v0.9h-0.9zM139.49 248.69h0.9v0.9h-0.9zM137.81 240.95h0.9v0.9h-0.9zM139.21 233.22h0.9v0.9h-0.9zM143.16 237.8h0.9v0.9h-0.9zM138.74 239.43h0.9v0.9h-0.9zM139.46 241.6h0.9v0.9h-0.9zM139.42 237.79h0.9v0.9h-0.9zM133.63 230.94h0.9v0.9h-0.9zM136.53 243.33h0.9v0.9h-0.9zM144.14 242.07h0.9v0.9h-0.9zM132.92 236.12h0.9v0.9h-0.9zM129.05 241.71h0.9v0.9h-0.9zM142.62 236.79h0.9v0.9h-0.9zM131.56 239.35h0.9v0.9h-0.9zM131.96 231.5h0.9v0.9h-0.9zM129.14 236.08h0.9v0.9h-0.9zM139.12 234.7h0.9v0.9h-0.9zM134.7 230.27h0.9v0.9h-0.9zM131.66 227.34h0.9v0.9h-0.9zM143.33 247.42h0.9v0.9h-0.9zM140 235.17h0.9v0.9h-0.9zM139.77 238.94h0.9v0.9h-0.9zM131.26 237.82h0.9v0.9h-0.9zM141.21 238.52h0.9v0.9h-0.9zM141.8 244.31h0.9v0.9h-0.9zM138.5 240.8h0.9v0.9h-0.9zM139.09 244.42h0.9v0.9h-0.9zM134.52 238.51h0.9v0.9h-0.9zM136.03 237.2h0.9v0.9h-0.9zM145.07 243h0.9v0.9h-0.9zM135.72 233.57h0.9v0.9h-0.9zM132.47 239.05h0.9v0.9h-0.9zM126.63 236.61h0.9v0.9h-0.9zM143.2 243.97h0.9v0.9h-0.9zM139.03 238.54h0.9v0.9h-0.9zM137.53 242.49h0.9v0.9h-0.9zM137.47 243.01h0.9v0.9h-0.9zM143.39 245.91h0.9v0.9h-0.9zM139.98 240.94h0.9v0.9h-0.9zM137 239.09h0.9v0.9h-0.9zM136.39 238.97h0.9v0.9h-0.9zM135.54 234.79h0.9v0.9h-0.9zM139.07 233.79h0.9v0.9h-0.9zM136.91 234.7h0.9v0.9h-0.9zM141.45 234.85h0.9v0.9h-0.9zM139.93 235.26h0.9v0.9h-0.9zM134.68 235.6h0.9v0.9h-0.9zM139.81 243.5h0.9v0.9h-0.9zM137.36 235.68h0.9v0.9h-0.9zM145.8 240.69h0.9v0.9h-0.9zM144.9 240.13h0.9v0.9h-0.9zM135.59 236.05h0.9v0.9h-0.9zM132.23 240.87h0.9v0.9h-0.9zM139.02 240.39h0.9v0.9h-0.9zM140.07 242.39h0.9v0.9h-0.9zM132.1 237.47h0.9v0.9h-0.9zM138.12 247.02h0.9v0.9h-0.9zM128.87 237.53h0.9v0.9h-0.9zM134.18 238.34h0.9v0.9h-0.9zM134.19 247.94h0.9v0.9h-0.9zM135.82 230.02h0.9v0.9h-0.9zM139.43 244.2h0.9v0.9h-0.9zM144.81 231.51h0.9v0.9h-0.9zM139.26 239.9h0.9v0.9h-0.9zM122.67 233.28h0.9v0.9h-0.9zM132.04 227.38h0.9v0.9h-0.9zM136.83 238.94h0.9v0.9h-0.9zM140.36 241h0.9v0.9h-0.9zM135.99 234.2h0.9v0.9h-0.9zM134.72 227.88h0.9v0.9h-0.9zM144.97 245.08h0.9v0.9h-0.9zM131.96 241.9h0.9v0.9h-0.9zM140.11 242.96h0.9v0.9h-0.9zM140.32 240.92h0.9v0.9h-0.9zM132.15 236.83h0.9v0.9h-0.9zM133.39 242.18h0.9v0.9h-0.9zM137.81 236.71h0.9v0.9h-0.9zM139 239.51h0.9v0.9h-0.9zM139.13 235.5h0.9v0.9h-0.9zM137.31 240.16h0.9v0.9h-0.9zM142.72 245.79h0.9v0.9h-0.9zM131.26 232.37h0.9v0.9h-0.9zM145.17 246.82h0.9v0.9h-0.9zM135.71 234.96h0.9v0.9h-0.9zM130.4 226.36h0.9v0.9h-0.9zM141.21 234.78h0.9v0.9h-0.9zM141.57 239.1h0.9v0.9h-0.9zM134.32 229.67h0.9v0.9h-0.9zM133.9 244.82h0.9v0.9h-0.9zM140.47 243.91h0.9v0.9h-0.9zM136.79 235.93h0.9v0.9h-0.9zM141.67 241.37h0.9v0.9h-0.9zM135.96 242.07h0.9v0.9h-0.9zM136.6 233.7h0.9v0.9h-0.9zM138.74 240.32h0.9v0.9h-0.9zM138.63 236.96h0.9v0.9h-0.9zM132.12 241.89h0.9v0.9h-0.9zM145.85 240.79h0.9v0.9h-0.9zM137.37 238.87h0.9v0.9h-0.9zM141.48 235.94h0.9v0.9h-0.9zM136.72 238.27h0.9v0.9h-0.9zM134.7 236.38h0.9v0.9h-0.9zM134.87 225.75h0.9v0.9h-0.9zM136.69 239.68h0.9v0.9h-0.9zM138.32 236.93h0.9v0.9h-0.9zM134.98 241.37h0.9v0.9h-0.9zM140.25 241.96h0.9v0.9h-0.9zM133.21 238.72h0.9v0.9h-0.9zM136.54 242.41h0.9v0.9h-0.9zM139.13 235.7h0.9v0.9h-0.9zM139.78 238.02h0.9v0.9h-0.9zM138.34 244.8h0.9v0.9h-0.9zM129.49 231.04h0.9v0.9h-0.9zM138.34 245.9h0.9v0.9h-0.9zM138.58 234.91h0.9v0.9h-0.9zM137.38 244.39h0.9v0.9h-0.9zM140.91 236.47h0.9v0.9h-0.9zM132.45 232.89h0.9v0.9h-0.9zM137.08 233.84h0.9v0.9h-0.9zM135.81 242.35h0.9v0.9h-0.9zM133.57 228.88h0.9v0.9h-0.9zM141.28 243.64h0.9v0.9h-0.9zM134.74 238.38h0.9v0.9h-0.9zM137.73 231.52h0.9v0.9h-0.9zM133.17 241.66h0.9v0.9h-0.9zM140.37 242.57h0.9v0.9h-0.9zM141.5 241.76h0.9v0.9h-0.9zM138.88 230.47h0.9v0.9h-0.9zM135.74 241.36h0.9v0.9h-0.9zM138.65 239.92h0.9v0.9h-0.9zM133.31 239.03h0.9v0.9h-0.9zM141.41 235.48h0.9v0.9h-0.9zM143.18 242.74h0.9v0.9h-0.9zM138.59 240.08h0.9v0.9h-0.9zM139.77 243.23h0.9v0.9h-0.9zM140.36 243.85h0.9v0.9h-0.9zM137.63 235.65h0.9v0.9h-0.9zM141.66 239.49h0.9v0.9h-0.9zM140.79 241.76h0.9v0.9h-0.9zM137.34 233.05h0.9v0.9h-0.9zM132.12 241.4h0.9v0.9h-0.9zM139.62 241.64h0.9v0.9h-0.9zM129.6 238.61h0.9v0.9h-0.9zM136.72 237.38h0.9v0.9h-0.9zM132.56 239.42h0.9v0.9h-0.9zM139.28 238.31h0.9v0.9h-0.9zM140.83 237.28h0.9v0.9h-0.9zM134.99 233.95h0.9v0.9h-0.9zM126.09 229.24h0.9v0.9h-0.9zM146.22 244.31h0.9v0.9h-0.9zM141.53 234.83h0.9v0.9h-0.9zM137.39 239.61h0.9v0.9h-0.9zM143.33 238.86h0.9v0.9h-0.9zM137.62 234.81h0.9v0.9h-0.9zM130.39 242.01h0.9v0.9h-0.9zM137.05 237.62h0.9v0.9h-0.9zM133.83 238.02h0.9v0.9h-0.9zM141.46 251.1h0.9v0.9h-0.9zM144.83 242.55h0.9v0.9h-0.9zM140.4 242.81h0.9v0.9h-0.9zM138.05 245.62h0.9v0.9h-0.9zM144.06 237.84h0.9v0.9h-0.9zM139.28 238.05h0.9v0.9h-0.9zM138.66 240.38h0.9v0.9h-0.9zM144.96 239.57h0.9v0.9h-0.9zM135.63 235.37h0.9v0.9h-0.9zM139.54 239h0.9v0.9h-0.9zM137.26 238.5h0.9v0.9h-0.9zM140.77 242.49h0.9v0.9h-0.9zM143.29 235.9h0.9v0.9h-0.9zM134.24 225.08h0.9v0.9h-0.9zM144.99 235.4h0.9v0.9h-0.9zM138.93 239.96h0.9v0.9h-0.9zM139.56 237.07h0.9v0.9h-0.9zM133.98 238.45h0.9v0.9h-0.9zM138.58 239.89h0.9v0.9h-0.9zM135.53 236.95h0.9v0.9h-0.9zM140.91 243.26h0.9v0.9h-0.9zM139.78 234.7h0.9v0.9h-0.9zM140.36 237.09h0.9v0.9h-0.9zM131 234.43h0.9v0.9h-0.9zM141.47 231.98h0.9v0.9h-0.9zM130.29 239.24h0.9v0.9h-0.9zM140.93 235.46h0.9v0.9h-0.9zM132.37 235.48h0.9v0.9h-0.9zM138.05 240.56h0.9v0.9h-0.9zM135.58 238.66h0.9v0.9h-0.9zM140.47 245.66h0.9v0.9h-0.9zM140.98 235.08h0.9v0.9h-0.9zM134.34 243.38h0.9v0.9h-0.9zM142.87 238.63h0.9v0.9h-0.9zM134.36 241.81h0.9v0.9h-0.9zM134.31 236.92h0.9v0.9h-0.9zM136.3 246.6h0.9v0.9h-0.9zM137.93 228.64h0.9v0.9h-0.9zM136.57 241.4h0.9v0.9h-0.9zM136.56 237.03h0.9v0.9h-0.9zM132.97 239.22h0.9v0.9h-0.9zM130.54 230.08h0.9v0.9h-0.9zM135.8 232h0.9v0.9h-0.9zM135.74 230.52h0.9v0.9h-0.9zM137.36 238.46h0.9v0.9h-0.9zM143.17 245.27h0.9v0.9h-0.9zM137.48 240.59h0.9v0.9h-0.9zM134.09 242.44h0.9v0.9h-0.9zM137.47 239.35h0.9v0.9h-0.9zM137.17 238.05h0.9v0.9h-0.9zM134.53 240.24h0.9v0.9h-0.9zM137.36 238.72h0.9v0.9h-0.9zM135.23 239.81h0.9v0.9h-0.9zM133.52 238.45h0.9v0.9h-0.9zM133.93 237.56h0.9v0.9h-0.9zM142.27 246.71h0.9v0.9h-0.9zM140.59 235.81h0.9v0.9h-0.9zM139.55 241.51h0.9v0.9h-0.9zM141.93 240.87h0.9v0.9h-0.9zM133.87 244.17h0.9v0.9h-0.9zM139.56 239.48h0.9v0.9h-0.9zM133.84 233.23h0.9v0.9h-0.9zM137.67 242.34h0.9v0.9h-0.9zM137.24 231.95h0.9v0.9h-0.9zM137.62 232.54h0.9v0.9h-0.9zM135.97 237.91h0.9v0.9h-0.9zM142.39 246.66h0.9v0.9h-0.9zM146.28 241.1h0.9v0.9h-0.9zM139.61 246.31h0.9v0.9h-0.9zM136.42 241.91h0.9v0.9h-0.9zM133.84 244.78h0.9v0.9h-0.9zM144.7 238.31h0.9v0.9h-0.9zM128 234.63h0.9v0.9h-0.9zM133.52 240.78h0.9v0.9h-0.9zM138.38 235.82h0.9v0.9h-0.9zM135.64 237.74h0.9v0.9h-0.9zM139.78 238.03h0.9v0.9h-0.9zM137.27 241.89h0.9v0.9h-0.9zM138.05 232.58h0.9v0.9h-0.9zM132.81 229.96h0.9v0.9h-0.9zM139.5 237.17h0.9v0.9h-0.9zM136.17 235.8h0.9v0.9h-0.9zM135.97 239.75h0.9v0.9h-0.9zM138.62 242.73h0.9v0.9h-0.9zM143.41 241.11h0.9v0.9h-0.9zM138.16 241.69h0.9v0.9h-0.9zM136.46 232.94h0.9v0.9h-0.9zM138.54 240.44h0.9v0.9h-0.9zM135.51 232.32h0.9v0.9h-0.9zM139.43 246.34h0.9v0.9h-0.9zM133.91 241.5h0.9v0.9h-0.9zM135.41 234.49h0.9v0.9h-0.9zM141.17 241.71h0.9v0.9h-0.9zM132.67 235.14h0.9v0.9h-0.9zM149.22 239.95h0.9v0.9h-0.9zM141.48 236.65h0.9v0.9h-0.9zM140.65 234.49h0.9v0.9h-0.9zM146.8 247.68h0.9v0.9h-0.9zM139.62 237.28h0.9v0.9h-0.9zM135.98 233.59h0.9v0.9h-0.9zM133.12 242.82h0.9v0.9h-0.9zM133.88 242.77h0.9v0.9h-0.9zM134.28 234.33h0.9v0.9h-0.9zM140.7 233.62h0.9v0.9h-0.9zM148.75 253.11h0.9v0.9h-0.9zM140.33 237.99h0.9v0.9h-0.9zM138.8 234.12h0.9v0.9h-0.9zM141.55 241.85h0.9v0.9h-0.9zM136.58 238.27h0.9v0.9h-0.9zM133.37 234h0.9v0.9h-0.9zM135.75 238.69h0.9v0.9h-0.9zM136.3 237.02h0.9v0.9h-0.9zM136.23 242.51h0.9v0.9h-0.9zM132.79 237.64h0.9v0.9h-0.9zM135.24 234.14h0.9v0.9h-0.9zM137.46 239.32h0.9v0.9h-0.9zM133.19 226.45h0.9v0.9h-0.9zM134.36 239.59h0.9v0.9h-0.9zM131.22 238.65h0.9v0.9h-0.9zM132.17 231.36h0.9v0.9h-0.9zM138.98 240.72h0.9v0.9h-0.9zM135.6 241.42h0.9v0.9h-0.9zM133.55 236.41h0.9v0.9h-0.9zM141.17 242.34h0.9v0.9h-0.9zM134.31 226.77h0.9v0.9h-0.9zM138.08 232.94h0.9v0.9h-0.9zM141 238.65h0.9v0.9h-0.9zM142.91 249.67h0.9v0.9h-0.9zM134.61 232.65h0.9v0.9h-0.9zM139.9 246.04h0.9v0.9h-0.9zM131.68 236.43h0.9v0.9h-0.9zM129.88 240.97h0.9v0.9h-0.9zM134.25 237.45h0.9v0.9h-0.9zM140.36 239.9h0.9v0.9h-0.9zM133.78 240.18h0.9v0.9h-0.9zM139.08 240.4h0.9v0.9h-0.9zM133.81 243.77h0.9v0.9h-0.9zM138.79 243.22h0.9v0.9h-0.9zM142.86 236.73h0.9v0.9h-0.9zM139.26 238.08h0.9v0.9h-0.9zM141.29 240.26h0.9v0.9h-0.9zM141.75 238.23h0.9v0.9h-0.9zM142.1 240.68h0.9v0.9h-0.9zM135.78 239.53h0.9v0.9h-0.9zM136.56 237.21h0.9v0.9h-0.9zM135.5 246.3h0.9v0.9h-0.9zM134.94 229.4h0.9v0.9h-0.9zM136.75 243.1h0.9v0.9h-0.9zM135.89 236.77h0.9v0.9h-0.9zM130.5 242.24h0.9v0.9h-0.9zM140.31 235.33h0.9v0.9h-0.9zM136.72 229.68h0.9v0.9h-0.9zM142.3 243h0.9v0.9h-0.9zM141.22 247.66h0.9v0.9h-0.9zM136.76 241.33h0.9v0.9h-0.9zM137.13 243.52h0.9v0.9h-0.9zM136.31 233.44h0.9v0.9h-0.9zM135.65 236.49h0.9v0.9h-0.9zM140.28 235.04h0.9v0.9h-0.9zM130.47 239.24h0.9v0.9h-0.9zM145.94 245.39h0.9v0.9h-0.9zM138.68 239.97h0.9v0.9h-0.9zM133.08 236.49h0.9v0.9h-0.9zM132.58 241.53h0.9v0.9h-0.9zM139.68 239.73h0.9v0.9h-0.9zM130.29 227.58h0.9v0.9h-0.9zM141.92 240.52h0.9v0.9h-0.9zM138.07 243.43h0.9v0.9h-0.9zM133.05 230.97h0.9v0.9h-0.9zM136.27 241.29h0.9v0.9h-0.9zM137.98 239.1h0.9v0.9h-0.9zM137.34 236.52h0.9v0.9h-0.9zM140.52 236.41h0.9v0.9h-0.9zM140.24 240.45h0.9v0.9h-0.9zM140.41 239.61h0.9v0.9h-0.9zM138.3 240.41h0.9v0.9h-0.9zM138.72 243.02h0.9v0.9h-0.9zM140.61 241.95h0.9v0.9h-0.9zM138.08 237.76h0.9v0.9h-0.9zM134.3 233.18h0.9v0.9h-0.9zM138.4 244.43h0.9v0.9h-0.9zM134.24 235.65h0.9v0.9h-0.9zM143.48 238.85h0.9v0.9h-0.9zM137.56 240.56h0.9v0.9h-0.9zM138.9 242.04h0.9v0.9h-0.9zM138.27 227.47h0.9v0.9h-0.9zM144.24 245.75h0.9v0.9h-0.9zM137.53 246.16h0.9v0.9h-0.9zM140.98 236.59h0.9v0.9h-0.9zM141.48 243.96h0.9v0.9h-0.9zM137.62 241.55h0.9v0.9h-0.9zM137.34 244.36h0.9v0.9h-0.9zM137.46 229.96h0.9v0.9h-0.9zM137.88 239.09h0.9v0.9h-0.9zM140.08 241.38h0.9v0.9h-0.9zM131.25 241.78h0.9v0.9h-0.9zM138.12 246.35h0.9v0.9h-0.9zM142.66 241.14h0.9v0.9h-0.9zM137.45 238.02h0.9v0.9h-0.9zM136.85 232.35h0.9v0.9h-0.9zM141.39 236.75h0.9v0.9h-0.9zM137.7 241.63h0.9v0.9h-0.9zM137.79 236.88h0.9v0.9h-0.9zM137.85 241.89h0.9v0.9h-0.9zM141.99 237.56h0.9v0.9h-0.9zM127.12 235.98h0.9v0.9h-0.9zM136.68 235.14h0.9v0.9h-0.9zM134.58 229.54h0.9v0.9h-0.9zM133.17 237.11h0.9v0.9h-0.9zM133.97 225.04h0.9v0.9h-0.9zM137.72 235.86h0.9v0.9h-0.9zM136.55 234.49h0.9v0.9h-0.9zM132.28 232.65h0.9v0.9h-0.9zM140.45 243.64h0.9v0.9h-0.9zM132.41 238.83h0.9v0.9h-0.9zM141.79 238.44h0.9v0.9h-0.9zM137.6 234.98h0.9v0.9h-0.9zM133.95 240.71h0.9v0.9h-0.9zM135.92 235.36h0.9v0.9h-0.9zM141.18 236.6h0.9v0.9h-0.9zM134.42 237.78h0.9v0.9h-0.9zM145.99 239.38h0.9v0.9h-0.9zM140.32 240.79h0.9v0.9h-0.9zM139.4 244.95h0.9v0.9h-0.9zM142.21 247.08h0.9v0.9h-0.9zM138.72 235.26h0.9v0.9h-0.9zM131.88 233.8h0.9v0.9h-0.9zM136.65 242.2h0.9v0.9h-0.9zM142.71 236.97h0.9v0.9h-0.9zM137.03 236.38h0.9v0.9h-0.9zM135.79 240.66h0.9v0.9h-0.9zM140.71 244.8h0.9v0.9h-0.9zM134.53 228.14h0.9v0.9h-0.9zM133.6 228.35h0.9v0.9h-0.9zM133.43 234.12h0.9v0.9h-0.9zM133.73 239.81h0.9v0.9h-0.9zM141.84 241.97h0.9v0.9h-0.9zM140.14 242.35h0.9v0.9h-0.9zM135 243h0.9v0.9h-0.9zM134.44 233.72h0.9v0.9h-0.9zM144.01 243.22h0.9v0.9h-0.9zM137.74 239.63h0.9v0.9h-0.9zM140 234.24h0.9v0.9h-0.9zM138.32 233.79h0.9v0.9h-0.9zM139.86 243.37h0.9v0.9h-0.9zM142.83 239h0.9v0.9h-0.9zM138.52 240.81h0.9v0.9h-0.9zM142.5 241.33h0.9v0.9h-0.9zM135.94 244.48h0.9v0.9h-0.9zM145.22 243.97h0.9v0.9h-0.9zM138.44 231.07h0.9v0.9h-0.9zM138.55 243.57h0.9v0.9h-0.9zM140.9 238.18h0.9v0.9h-0.9zM136.54 246.74h0.9v0.9h-0.9zM137.74 238.12h0.9v0.9h-0.9zM139.45 244.31h0.9v0.9h-0.9zM142.45 243.15h0.9v0.9h-0.9zM139.41 239.21h0.9v0.9h-0.9zM136.72 235.61h0.9v0.9h-0.9zM135.28 238.35h0.9v0.9h-0.9zM136.44 237.41h0.9v0.9h-0.9zM138.65 232.82h0.9v0.9h-0.9zM144.31 242.35h0.9v0.9h-0.9zM140 247.69h0.9v0.9h-0.9zM132.81 227.98h0.9v0.9h-0.9zM136.26 236.86h0.9v0.9h-0.9zM138.69 236.59h0.9v0.9h-0.9zM141.41 243.32h0.9v0.9h-0.9zM142.15 241.05h0.9v0.9h-0.9zM131.8 238.33h0.9v0.9h-0.9zM139.79 235.21h0.9v0.9h-0.9zM134.07 239.89h0.9v0.9h-0.9zM139.06 236.44h0.9v0.9h-0.9zM136.54 243.01h0.9v0.9h-0.9zM137.81 237.04h0.9v0.9h-0.9zM128.89 242.34h0.9v0.9h-0.9zM132.07 241.17h0.9v0.9h-0.9zM135.94 238.7h0.9v0.9h-0.9zM131.23 230.61h0.9v0.9h-0.9zM138.54 238.1h0.9v0.9h-0.9zM140.17 234.18h0.9v0.9h-0.9zM132.82 232.81h0.9v0.9h-0.9zM135.94 235.75h0.9v0.9h-0.9zM138.41 236.78h0.9v0.9h-0.9zM130.23 239.21h0.9v0.9h-0.9zM135.8 233.04h0.9v0.9h-0.9zM139.9 235.05h0.9v0.9h-0.9zM132.37 236.32h0.9v0.9h-0.9zM139.77 242.54h0.9v0.9h-0.9zM144.36 253.25h0.9v0.9h-0.9zM143.28 241.89h0.9v0.9h-0.9zM135.85 246.2h0.9v0.9h-0.9zM131.36 240.53h0.9v0.9h-0.9zM138.4 233.03h0.9v0.9h-0.9zM139.64 236.74h0.9v0.9h-0.9zM142.41 238.92h0.9v0.9h-0.9zM143.22 235.01h0.9v0.9h-0.9zM134.47 240.44h0.9v0.9h-0.9zM135.88 238.06h0.9v0.9h-0.9zM143.67 240.77h0.9v0.9h-0.9zM133.68 233.53h0.9v0.9h-0.9zM139.04 239.11h0.9v0.9h-0.9zM131.36 236.97h0.9v0.9h-0.9zM134.94 233.3h0.9v0.9h-0.9zM135.35 239.76h0.9v0.9h-0.9zM138.54 235.1h0.9v0.9h-0.9zM145.57 245h0.9v0.9h-0.9zM140.2 241.44h0.9v0.9h-0.9zM136.28 236.5h0.9v0.9h-0.9zM135.91 238.09h0.9v0.9h-0.9zM130.38 228.18h0.9v0.9h-0.9zM140.43 236.9h0.9v0.9h-0.9zM129.86 241.53h0.9v0.9h-0.9zM140.94 247.24h0.9v0.9h-0.9zM139.02 238.86h0.9v0.9h-0.9zM142.69 243.25h0.9v0.9h-0.9zM133.25 236.55h0.9v0.9h-0.9zM136.99 233.06h0.9v0.9h-0.9zM146.1 241.22h0.9v0.9h-0.9zM136.99 238.48h0.9v0.9h-0.9zM142.32 236.71h0.9v0.9h-0.9zM137.8 236.94h0.9v0.9h-0.9zM140.14 248.26h0.9v0.9h-0.9zM132.92 237.17h0.9v0.9h-0.9zM139.68 240.94h0.9v0.9h-0.9zM137.59 237h0.9v0.9h-0.9zM134.9 231.05h0.9v0.9h-0.9zM136.11 245.13h0.9v0.9h-0.9zM143.81 245.28h0.9v0.9h-0.9zM145.99 236.29h0.9v0.9h-0.9zM140.28 234.96h0.9v0.9h-0.9zM144.48 238.6h0.9v0.9h-0.9zM137.65 232.14h0.9v0.9h-0.9zM136.29 241.76h0.9v0.9h-0.9zM129.86 238.34h0.9v0.9h-0.9zM140.3 237.54h0.9v0.9h-0.9zM138.54 239.9h0.9v0.9h-0.9zM138.9 242.56h0.9v0.9h-0.9zM140.44 249.66h0.9v0.9h-0.9z" fill="#000" fill-opacity="0.45"/>
<path d="M138.67 244.1h0.9v0.9h-0.9zM145.02 246.02h0.9v0.9h-0.9zM141.99 241.75h0.9v0.9h-0.9zM135.84 238.44h0.9v0.9h-0.9zM138.43 245.93h0.9v0.9h-0.9zM140.38 243.44h0.9v0.9h-0.9zM140.63 248.41h0.9v0.9h-0.9zM144.34 244.65h0.9v0.9h-0.9zM143.4 252.71h0.9v0.9h-0.9zM140.3 251.14h0.9v0.9h-0.9zM143.02 249.74h0.9v0.9h-0.9zM140.94 247.23h0.9v0.9h-0.9zM137.12 241.55h0.9v0.9h-0.9zM138.9 242.64h0.9v0.9h-0.9zM138.19 242.9h0.9v0.9h-0.9zM135.2 246.72h0.9v0.9h-0.9zM140.72 246.24h0.9v0.9h-0.9zM140.58 241.95h0.9v0.9h-0.9zM142.04 244.48h0.9v0.9h-0.9zM142.68 242.61h0.9v0.9h-0.9zM143.67 246.81h0.9v0.9h-0.9zM139.3 243.05h0.9v0.9h-0.9zM140.49 242.37h0.9v0.9h-0.9zM142.66 242.32h0.9v0.9h-0.9zM142.93 243.3h0.9v0.9h-0.9zM138.57 241.72h0.9v0.9h-0.9zM144.21 242.28h0.9v0.9h-0.9zM140.42 244.08h0.9v0.9h-0.9zM141.43 246.77h0.9v0.9h-0.9zM140.64 246.54h0.9v0.9h-0.9zM142.41 242.54h0.9v0.9h-0.9zM143.47 246.34h0.9v0.9h-0.9zM140.1 245.88h0.9v0.9h-0.9zM140.45 249.38h0.9v0.9h-0.9zM141.14 242.5h0.9v0.9h-0.9zM145.61 244.87h0.9v0.9h-0.9zM138.01 242.03h0.9v0.9h-0.9zM142.48 242.02h0.9v0.9h-0.9zM141.73 248.09h0.9v0.9h-0.9zM143.82 247.35h0.9v0.9h-0.9zM141.76 243.73h0.9v0.9h-0.9zM146.47 243.34h0.9v0.9h-0.9zM138.77 243.85h0.9v0.9h-0.9zM140.31 242.62h0.9v0.9h-0.9zM140.59 246.06h0.9v0.9h-0.9zM143.17 242.17h0.9v0.9h-0.9zM147.38 251.57h0.9v0.9h-0.9zM148.31 247.91h0.9v0.9h-0.9zM142.13 245.11h0.9v0.9h-0.9zM140.31 253.26h0.9v0.9h-0.9zM145.42 246.66h0.9v0.9h-0.9zM141.78 241.68h0.9v0.9h-0.9zM140.05 243.82h0.9v0.9h-0.9zM140.7 242.37h0.9v0.9h-0.9zM140.89 251.24h0.9v0.9h-0.9zM140.39 238.27h0.9v0.9h-0.9zM138.03 245.56h0.9v0.9h-0.9zM136.76 246.46h0.9v0.9h-0.9zM139 247.93h0.9v0.9h-0.9zM140.71 242.08h0.9v0.9h-0.9zM142.02 248.79h0.9v0.9h-0.9zM138.9 239.12h0.9v0.9h-0.9zM140.45 246.36h0.9v0.9h-0.9zM136.61 245.34h0.9v0.9h-0.9zM138.61 247.31h0.9v0.9h-0.9zM142.02 246.34h0.9v0.9h-0.9zM143.52 242.61h0.9v0.9h-0.9zM141.35 248.56h0.9v0.9h-0.9zM143.94 247.34h0.9v0.9h-0.9zM140.61 241.56h0.9v0.9h-0.9zM141 244.09h0.9v0.9h-0.9zM145.2 246.81h0.9v0.9h-0.9zM139.17 244.45h0.9v0.9h-0.9zM138.23 250.52h0.9v0.9h-0.9zM144.27 245.53h0.9v0.9h-0.9zM141.45 240.94h0.9v0.9h-0.9zM141.08 245.56h0.9v0.9h-0.9zM142.74 244.06h0.9v0.9h-0.9zM141.37 244.39h0.9v0.9h-0.9zM142.35 246.9h0.9v0.9h-0.9zM142.68 241.15h0.9v0.9h-0.9zM144.25 249.34h0.9v0.9h-0.9zM141.27 244.48h0.9v0.9h-0.9zM144.14 248h0.9v0.9h-0.9zM142.34 245.26h0.9v0.9h-0.9zM144.72 245.48h0.9v0.9h-0.9zM139.62 246.94h0.9v0.9h-0.9zM142.21 249.34h0.9v0.9h-0.9zM138.59 247.89h0.9v0.9h-0.9zM139.68 248.9h0.9v0.9h-0.9zM141.85 240.08h0.9v0.9h-0.9zM143.47 247.08h0.9v0.9h-0.9zM142.85 242.56h0.9v0.9h-0.9zM146.67 247.95h0.9v0.9h-0.9zM144.74 243.6h0.9v0.9h-0.9zM136.32 247.35h0.9v0.9h-0.9zM146.77 251.66h0.9v0.9h-0.9zM136.23 244.09h0.9v0.9h-0.9zM143.94 240.25h0.9v0.9h-0.9zM144.47 244.72h0.9v0.9h-0.9zM136.58 242.15h0.9v0.9h-0.9zM142.59 241.53h0.9v0.9h-0.9zM142.22 245.3h0.9v0.9h-0.9zM143.24 248.5h0.9v0.9h-0.9zM141.77 251.2h0.9v0.9h-0.9zM142.13 251.74h0.9v0.9h-0.9zM140.45 245.94h0.9v0.9h-0.9zM144.95 243.15h0.9v0.9h-0.9zM137.89 242.48h0.9v0.9h-0.9zM139.27 236.99h0.9v0.9h-0.9zM139.46 241.15h0.9v0.9h-0.9zM139.2 242.28h0.9v0.9h-0.9zM142.2 243.87h0.9v0.9h-0.9zM144.91 239.74h0.9v0.9h-0.9zM144.46 243.64h0.9v0.9h-0.9zM140.21 244.64h0.9v0.9h-0.9zM141.79 249.04h0.9v0.9h-0.9zM147.15 247.65h0.9v0.9h-0.9zM139.26 249.03h0.9v0.9h-0.9zM144.61 244.83h0.9v0.9h-0.9zM143.33 245.58h0.9v0.9h-0.9zM138.1 244.48h0.9v0.9h-0.9zM143.65 243.11h0.9v0.9h-0.9zM136.09 245.51h0.9v0.9h-0.9zM138.6 243.39h0.9v0.9h-0.9zM139.28 247.05h0.9v0.9h-0.9zM143.1 243.03h0.9v0.9h-0.9zM142.67 241.86h0.9v0.9h-0.9zM145.54 252.99h0.9v0.9h-0.9zM138.23 245.68h0.9v0.9h-0.9zM143.04 246.77h0.9v0.9h-0.9zM142 247.24h0.9v0.9h-0.9zM139.85 250.47h0.9v0.9h-0.9zM141.06 244.08h0.9v0.9h-0.9zM138.55 246.05h0.9v0.9h-0.9zM140.47 247.18h0.9v0.9h-0.9zM144.44 246.92h0.9v0.9h-0.9zM138.73 247.17h0.9v0.9h-0.9zM141.33 248.81h0.9v0.9h-0.9zM141.83 243.77h0.9v0.9h-0.9zM140.65 242.18h0.9v0.9h-0.9zM144.53 243.06h0.9v0.9h-0.9zM145.17 247.53h0.9v0.9h-0.9zM140.64 246.55h0.9v0.9h-0.9zM144.52 241.14h0.9v0.9h-0.9zM142.28 248.43h0.9v0.9h-0.9zM138.62 245.73h0.9v0.9h-0.9zM145.13 246.5h0.9v0.9h-0.9zM145.22 242.6h0.9v0.9h-0.9zM138 246.05h0.9v0.9h-0.9zM138.29 243.61h0.9v0.9h-0.9zM139.59 240.22h0.9v0.9h-0.9zM139.39 250h0.9v0.9h-0.9zM140.65 247.35h0.9v0.9h-0.9zM149.77 247.07h0.9v0.9h-0.9zM134.49 242.38h0.9v0.9h-0.9zM144.43 253.1h0.9v0.9h-0.9zM141.07 245.58h0.9v0.9h-0.9zM142.91 244.37h0.9v0.9h-0.9zM141.77 244.85h0.9v0.9h-0.9zM141.18 247.89h0.9v0.9h-0.9zM141.92 248.69h0.9v0.9h-0.9zM136.84 243.93h0.9v0.9h-0.9zM136.71 237.3h0.9v0.9h-0.9zM143.24 245.37h0.9v0.9h-0.9zM147.1 249.22h0.9v0.9h-0.9zM140.63 240.96h0.9v0.9h-0.9zM140.51 247.29h0.9v0.9h-0.9zM140.25 246.22h0.9v0.9h-0.9zM141.64 242.22h0.9v0.9h-0.9zM144.67 243.75h0.9v0.9h-0.9zM142.7 245.11h0.9v0.9h-0.9zM144.89 245.8h0.9v0.9h-0.9zM141.86 242.78h0.9v0.9h-0.9zM143.07 242.72h0.9v0.9h-0.9zM144.02 242.59h0.9v0.9h-0.9zM140.97 247.48h0.9v0.9h-0.9zM141.91 244.77h0.9v0.9h-0.9zM142.1 241.22h0.9v0.9h-0.9zM143.12 243.27h0.9v0.9h-0.9zM139.16 241.8h0.9v0.9h-0.9zM142.37 244.49h0.9v0.9h-0.9zM140.26 242.59h0.9v0.9h-0.9zM141.28 242.47h0.9v0.9h-0.9zM140.27 246.51h0.9v0.9h-0.9zM144.13 246.52h0.9v0.9h-0.9zM146.09 247.16h0.9v0.9h-0.9zM138.4 246.18h0.9v0.9h-0.9zM145.27 252.2h0.9v0.9h-0.9zM141.72 243.53h0.9v0.9h-0.9zM139.78 241.3h0.9v0.9h-0.9zM142.44 242.86h0.9v0.9h-0.9zM145.25 247.6h0.9v0.9h-0.9zM142.57 251.09h0.9v0.9h-0.9zM143.89 246.2h0.9v0.9h-0.9zM145 241.05h0.9v0.9h-0.9zM142.57 245.52h0.9v0.9h-0.9zM143.64 245.35h0.9v0.9h-0.9zM145.6 244.6h0.9v0.9h-0.9zM136.78 239.22h0.9v0.9h-0.9zM150.19 244.26h0.9v0.9h-0.9zM144.46 248.39h0.9v0.9h-0.9zM144.59 242.64h0.9v0.9h-0.9zM138.28 243.01h0.9v0.9h-0.9zM140.36 242.84h0.9v0.9h-0.9zM136.93 247.1h0.9v0.9h-0.9zM145.9 246.01h0.9v0.9h-0.9zM143.2 242.2h0.9v0.9h-0.9zM140.66 240.12h0.9v0.9h-0.9zM143.28 248.34h0.9v0.9h-0.9zM142.96 246.85h0.9v0.9h-0.9zM140.63 243.91h0.9v0.9h-0.9zM137.2 247.25h0.9v0.9h-0.9zM143.74 250.79h0.9v0.9h-0.9zM146.87 244.31h0.9v0.9h-0.9zM136.11 247.69h0.9v0.9h-0.9zM138.4 243.73h0.9v0.9h-0.9zM144.45 248.12h0.9v0.9h-0.9zM142.13 243.81h0.9v0.9h-0.9zM142.82 247.41h0.9v0.9h-0.9zM141.48 250.94h0.9v0.9h-0.9zM135.85 248.28h0.9v0.9h-0.9zM142.33 243.38h0.9v0.9h-0.9zM143.04 243.25h0.9v0.9h-0.9zM140.97 243.73h0.9v0.9h-0.9zM146.47 245.67h0.9v0.9h-0.9zM140.84 239.97h0.9v0.9h-0.9zM140.02 244.73h0.9v0.9h-0.9zM136.9 244.64h0.9v0.9h-0.9zM141.1 243.23h0.9v0.9h-0.9zM139.06 246.67h0.9v0.9h-0.9zM141.97 245.95h0.9v0.9h-0.9zM140.23 243.67h0.9v0.9h-0.9zM142.96 245.78h0.9v0.9h-0.9zM145.49 242.66h0.9v0.9h-0.9zM138.05 244.98h0.9v0.9h-0.9zM144.08 249.11h0.9v0.9h-0.9zM133.87 241.03h0.9v0.9h-0.9zM135.63 247.78h0.9v0.9h-0.9zM138.64 245.1h0.9v0.9h-0.9zM137.48 244.96h0.9v0.9h-0.9zM145.8 247.09h0.9v0.9h-0.9zM137.47 252.43h0.9v0.9h-0.9zM143.78 242.86h0.9v0.9h-0.9zM142.86 245.34h0.9v0.9h-0.9zM141.28 239.34h0.9v0.9h-0.9zM145.25 243.84h0.9v0.9h-0.9zM142.36 248.76h0.9v0.9h-0.9zM138.16 246.28h0.9v0.9h-0.9zM138.46 243.2h0.9v0.9h-0.9zM139.94 240.67h0.9v0.9h-0.9zM143.77 246.23h0.9v0.9h-0.9zM139.91 245.52h0.9v0.9h-0.9zM141.24 251.13h0.9v0.9h-0.9zM142.86 246.05h0.9v0.9h-0.9zM135.33 242.97h0.9v0.9h-0.9zM149.39 247.79h0.9v0.9h-0.9zM143.08 247.52h0.9v0.9h-0.9zM142.02 247.5h0.9v0.9h-0.9zM141.2 244.46h0.9v0.9h-0.9zM138.91 246.39h0.9v0.9h-0.9zM142.26 243.58h0.9v0.9h-0.9zM141.21 247.75h0.9v0.9h-0.9zM141.63 246.66h0.9v0.9h-0.9zM141.56 250.74h0.9v0.9h-0.9zM142.33 245.39h0.9v0.9h-0.9zM146.72 244.6h0.9v0.9h-0.9zM142.18 242.62h0.9v0.9h-0.9zM142.65 245.05h0.9v0.9h-0.9zM144.05 253.15h0.9v0.9h-0.9zM137.27 249.05h0.9v0.9h-0.9zM142.21 244.62h0.9v0.9h-0.9zM141.78 249.67h0.9v0.9h-0.9zM140.43 249.26h0.9v0.9h-0.9zM142.35 243.14h0.9v0.9h-0.9zM140.08 243.06h0.9v0.9h-0.9zM145.5 246.63h0.9v0.9h-0.9zM143.54 241.78h0.9v0.9h-0.9zM143.13 251.87h0.9v0.9h-0.9zM144.55 244.13h0.9v0.9h-0.9zM141.2 241.21h0.9v0.9h-0.9zM144.35 243.52h0.9v0.9h-0.9zM138.46 245.91h0.9v0.9h-0.9zM141.32 245.19h0.9v0.9h-0.9zM138.59 238.58h0.9v0.9h-0.9zM142.79 243.73h0.9v0.9h-0.9zM139.34 240.9h0.9v0.9h-0.9zM140.99 241.35h0.9v0.9h-0.9zM139.04 240.26h0.9v0.9h-0.9zM144.89 246.62h0.9v0.9h-0.9zM145.38 244.06h0.9v0.9h-0.9zM141.3 247.4h0.9v0.9h-0.9zM138.92 245.02h0.9v0.9h-0.9zM139.94 242.53h0.9v0.9h-0.9zM144.4 249.9h0.9v0.9h-0.9zM137.1 243.22h0.9v0.9h-0.9zM143.02 246.24h0.9v0.9h-0.9zM142.58 237.35h0.9v0.9h-0.9zM135.7 242.48h0.9v0.9h-0.9zM143.87 244.8h0.9v0.9h-0.9z" fill="#000" fill-opacity="0.36"/>
<path d="M130.2 241.09h0.9v0.9h-0.9zM122.21 236.76h0.9v0.9h-0.9zM118.84 235.85h0.9v0.9h-0.9zM134.49 233.31h0.9v0.9h-0.9zM126.61 234.22h0.9v0.9h-0.9zM125.6 236.19h0.9v0.9h-0.9zM126.78 238.78h0.9v0.9h-0.9zM127.69 239.41h0.9v0.9h-0.9zM129.8 239.94h0.9v0.9h-0.9zM122.96 236.68h0.9v0.9h-0.9zM124.88 233.3h0.9v0.9h-0.9zM134.22 238.32h0.9v0.9h-0.9zM127.3 229.98h0.9v0.9h-0.9zM124.66 238.06h0.9v0.9h-0.9zM125.45 234.29h0.9v0.9h-0.9zM132.47 236.22h0.9v0.9h-0.9zM124.67 235.47h0.9v0.9h-0.9zM124.5 238.86h0.9v0.9h-0.9zM128.5 236.23h0.9v0.9h-0.9zM124.62 235.09h0.9v0.9h-0.9zM133.38 236.39h0.9v0.9h-0.9zM129.62 231.96h0.9v0.9h-0.9zM127.06 238.23h0.9v0.9h-0.9zM131.28 237.87h0.9v0.9h-0.9zM128.33 237.37h0.9v0.9h-0.9zM129.53 242.71h0.9v0.9h-0.9zM127.31 233.81h0.9v0.9h-0.9zM128.62 236.14h0.9v0.9h-0.9zM128.36 238.72h0.9v0.9h-0.9zM126.91 234.86h0.9v0.9h-0.9zM127.98 232.64h0.9v0.9h-0.9zM127.65 233.66h0.9v0.9h-0.9zM127.89 236.7h0.9v0.9h-0.9zM125.73 232.38h0.9v0.9h-0.9zM126.6 234.09h0.9v0.9h-0.9zM125.09 237.9h0.9v0.9h-0.9zM130.74 233.01h0.9v0.9h-0.9zM129.32 240.63h0.9v0.9h-0.9zM130.68 237.65h0.9v0.9h-0.9zM124.78 240.96h0.9v0.9h-0.9zM125.46 231.37h0.9v0.9h-0.9zM126.28 236.9h0.9v0.9h-0.9zM122.27 231.73h0.9v0.9h-0.9zM134.39 237.82h0.9v0.9h-0.9zM129.65 234.91h0.9v0.9h-0.9zM119.71 234.36h0.9v0.9h-0.9zM132.07 235.09h0.9v0.9h-0.9zM118.54 234.17h0.9v0.9h-0.9zM124.85 235.85h0.9v0.9h-0.9zM121.78 234.33h0.9v0.9h-0.9zM123.29 238.15h0.9v0.9h-0.9zM126.25 238.63h0.9v0.9h-0.9zM126.91 229.82h0.9v0.9h-0.9zM129.32 239.19h0.9v0.9h-0.9zM126.64 230.81h0.9v0.9h-0.9zM123.75 236.81h0.9v0.9h-0.9zM132.07 236.05h0.9v0.9h-0.9zM124.06 233.35h0.9v0.9h-0.9zM129.92 239.27h0.9v0.9h-0.9zM122.89 231.08h0.9v0.9h-0.9zM119.66 232.72h0.9v0.9h-0.9zM134.58 245.11h0.9v0.9h-0.9zM121.12 233.14h0.9v0.9h-0.9zM126.51 237.33h0.9v0.9h-0.9zM124.83 231.08h0.9v0.9h-0.9zM124.65 233.74h0.9v0.9h-0.9zM118.38 235.09h0.9v0.9h-0.9zM120.72 229.91h0.9v0.9h-0.9zM132 239.86h0.9v0.9h-0.9zM132.13 237.43h0.9v0.9h-0.9zM124.34 235.45h0.9v0.9h-0.9zM119.88 237.13h0.9v0.9h-0.9zM127.35 235.33h0.9v0.9h-0.9zM118.18 234.29h0.9v0.9h-0.9zM132.21 241.41h0.9v0.9h-0.9zM129.94 235.65h0.9v0.9h-0.9zM126.35 237.71h0.9v0.9h-0.9zM126.34 239.18h0.9v0.9h-0.9zM124.41 228.82h0.9v0.9h-0.9zM119.85 236.89h0.9v0.9h-0.9zM130.62 236.82h0.9v0.9h-0.9zM128.3 236.64h0.9v0.9h-0.9zM127.03 234.78h0.9v0.9h-0.9zM123.73 239.14h0.9v0.9h-0.9zM124.93 235.69h0.9v0.9h-0.9zM130.62 239.74h0.9v0.9h-0.9zM124.26 236.45h0.9v0.9h-0.9zM121.69 235.64h0.9v0.9h-0.9zM127.39 236.24h0.9v0.9h-0.9zM126.56 237.18h0.9v0.9h-0.9zM126.62 234.65h0.9v0.9h-0.9zM122.08 234.6h0.9v0.9h-0.9zM132.99 236.55h0.9v0.9h-0.9zM123.54 234.14h0.9v0.9h-0.9zM120.76 236.52h0.9v0.9h-0.9zM121.41 237.9h0.9v0.9h-0.9zM129.62 238.34h0.9v0.9h-0.9zM130.5 236.54h0.9v0.9h-0.9zM118.62 234.51h0.9v0.9h-0.9zM129.55 232.03h0.9v0.9h-0.9zM120.31 238.26h0.9v0.9h-0.9zM127.23 240.23h0.9v0.9h-0.9zM128.85 236.7h0.9v0.9h-0.9zM127.44 238.78h0.9v0.9h-0.9zM126.04 235.38h0.9v0.9h-0.9zM127.55 235.34h0.9v0.9h-0.9z" fill="#000" fill-opacity="0.14"/>
<path d="M151.19 254.02h0.9v0.9h-0.9zM145.63 246.27h0.9v0.9h-0.9zM148.13 252.46h0.9v0.9h-0.9zM146.23 251.35h0.9v0.9h-0.9zM149 248.98h0.9v0.9h-0.9zM146.86 250.48h0.9v0.9h-0.9zM146.07 254.65h0.9v0.9h-0.9zM145.39 247.38h0.9v0.9h-0.9zM144.01 254.97h0.9v0.9h-0.9zM147.14 252.51h0.9v0.9h-0.9zM152.3 248.52h0.9v0.9h-0.9zM146.63 248.59h0.9v0.9h-0.9zM142.6 250.94h0.9v0.9h-0.9zM145.4 252.58h0.9v0.9h-0.9zM144.01 252.58h0.9v0.9h-0.9zM148.04 251.67h0.9v0.9h-0.9zM149.04 251.19h0.9v0.9h-0.9zM151.22 251.82h0.9v0.9h-0.9zM147.28 248.79h0.9v0.9h-0.9zM142.86 254.32h0.9v0.9h-0.9zM140.56 253.93h0.9v0.9h-0.9zM147.12 254.73h0.9v0.9h-0.9zM142.64 252.4h0.9v0.9h-0.9zM142.24 245.07h0.9v0.9h-0.9zM147.24 253.08h0.9v0.9h-0.9zM151.16 254.35h0.9v0.9h-0.9zM143.7 248.81h0.9v0.9h-0.9zM142.97 256.05h0.9v0.9h-0.9zM142.19 248.85h0.9v0.9h-0.9zM149.08 252.28h0.9v0.9h-0.9zM147.26 248.23h0.9v0.9h-0.9zM145.11 254.56h0.9v0.9h-0.9zM146.02 253.04h0.9v0.9h-0.9zM147.47 252.96h0.9v0.9h-0.9zM145.05 254.45h0.9v0.9h-0.9zM146.68 254.81h0.9v0.9h-0.9zM144.2 253.14h0.9v0.9h-0.9zM146.54 245.21h0.9v0.9h-0.9zM148 254.58h0.9v0.9h-0.9zM144.93 248.52h0.9v0.9h-0.9zM145.12 251.42h0.9v0.9h-0.9zM142.14 252.29h0.9v0.9h-0.9zM136.77 254.44h0.9v0.9h-0.9zM140.21 253.13h0.9v0.9h-0.9zM150.17 249.16h0.9v0.9h-0.9zM143.3 249.55h0.9v0.9h-0.9zM146.87 251.11h0.9v0.9h-0.9zM145.21 251.88h0.9v0.9h-0.9zM143.43 249.69h0.9v0.9h-0.9zM150.77 254.08h0.9v0.9h-0.9zM142.4 251.17h0.9v0.9h-0.9zM145.66 256.01h0.9v0.9h-0.9zM144.59 250.28h0.9v0.9h-0.9zM146.31 251.44h0.9v0.9h-0.9zM143.95 254.47h0.9v0.9h-0.9zM146.49 252.44h0.9v0.9h-0.9zM141.44 254.91h0.9v0.9h-0.9zM139.22 253.59h0.9v0.9h-0.9zM146.61 252.98h0.9v0.9h-0.9zM140.41 254.07h0.9v0.9h-0.9zM145.72 255.52h0.9v0.9h-0.9zM152.87 251.37h0.9v0.9h-0.9zM146.34 251.05h0.9v0.9h-0.9zM144.11 250.42h0.9v0.9h-0.9zM145.35 253.55h0.9v0.9h-0.9zM148.05 248.52h0.9v0.9h-0.9zM145.22 253.76h0.9v0.9h-0.9zM147.24 257.14h0.9v0.9h-0.9zM147.95 249.15h0.9v0.9h-0.9zM151.65 254.83h0.9v0.9h-0.9zM144.3 253.43h0.9v0.9h-0.9zM143.61 255.18h0.9v0.9h-0.9zM145.17 248.29h0.9v0.9h-0.9zM148.4 249.25h0.9v0.9h-0.9zM141.57 253.36h0.9v0.9h-0.9zM146.25 251.82h0.9v0.9h-0.9zM144.43 250.64h0.9v0.9h-0.9zM147.72 249.21h0.9v0.9h-0.9zM149.57 250.22h0.9v0.9h-0.9zM148.46 253.04h0.9v0.9h-0.9zM144.8 244.31h0.9v0.9h-0.9zM147.85 250.21h0.9v0.9h-0.9zM145.78 257.57h0.9v0.9h-0.9zM147.32 257.06h0.9v0.9h-0.9zM149.15 252.61h0.9v0.9h-0.9zM148.71 252.88h0.9v0.9h-0.9zM148.29 248.58h0.9v0.9h-0.9zM144.78 252.47h0.9v0.9h-0.9zM147.74 249.09h0.9v0.9h-0.9zM145.19 255.02h0.9v0.9h-0.9z" fill="#000" fill-opacity="0.18"/>
<ellipse cx="137.5" cy="238.5" rx="6" ry="3.8" fill="#000" fill-opacity="0.6" transform="rotate(55 137.5 238.5)" filter="url(#b1_5)"/>
<rect x="117.6" y="208.2" width="54" height="53.8" fill="none" stroke="#a8a8a8" stroke-width="0.9"/>
<line x1="143.5" y1="208.2" x2="143.5" y2="262" stroke="#9a9a9a" stroke-width="0.9"/>
<line x1="117.6" y1="245.3" x2="171.6" y2="245.3" stroke="#9a9a9a" stroke-width="0.9"/>
<text x="119.5" y="215" font-family="Liberation Serif" font-size="7.2" text-anchor="start" font-weight="normal" font-style="normal" fill="#000" style="stroke-width:0.1px">85%</text>
<text x="109" y="231.7" font-family="Liberation Serif" font-size="10.35" text-anchor="middle" font-weight="normal" font-style="normal" fill="#000" transform="rotate(-90 109 231.7)">CD45RA</text>
<line x1="105.5" y1="281.8" x2="105.5" y2="262.4" stroke="#000" stroke-width="2.4"/>
<line x1="104.3" y1="280.6" x2="122.6" y2="280.6" stroke="#000" stroke-width="2.4"/>
<path d="M105.5 252.5 L100 262.9 L111 262.9 Z" fill="#000" stroke="none" stroke-width="1"/>
<path d="M132.5 280.6 L122.1 275.1 L122.1 286.1 Z" fill="#000" stroke="none" stroke-width="1"/>
<text x="133.5" y="284.8" font-family="Liberation Serif" font-size="10.45" text-anchor="start" font-weight="normal" font-style="normal" fill="#000">CD45RO</text>
<rect x="23.8" y="298.2" width="3" height="1.2" fill="#999"/>
<rect x="23.8" y="311.55" width="3" height="1.2" fill="#999"/>
<rect x="23.8" y="324.9" width="3" height="1.2" fill="#999"/>
<rect x="23.8" y="338.25" width="3" height="1.2" fill="#999"/>
<rect x="23.8" y="351.6" width="3" height="1.2" fill="#999"/>
<rect x="28.8" y="355.7" width="4" height="1.3" fill="#999"/>
<rect x="41.25" y="355.7" width="4" height="1.3" fill="#999"/>
<rect x="53.7" y="355.7" width="4" height="1.3" fill="#999"/>
<rect x="66.15" y="355.7" width="4" height="1.3" fill="#999"/>
<rect x="78.6" y="355.7" width="4" height="1.3" fill="#999"/>
<path d="M59.74 341.83h0.9v0.9h-0.9zM63.56 336.58h0.9v0.9h-0.9zM59.92 333.97h0.9v0.9h-0.9zM56.36 340.77h0.9v0.9h-0.9zM56.92 340.67h0.9v0.9h-0.9zM61.34 333.37h0.9v0.9h-0.9zM58.31 344.02h0.9v0.9h-0.9zM60.1 339.87h0.9v0.9h-0.9zM57.53 334.73h0.9v0.9h-0.9zM59.39 336.91h0.9v0.9h-0.9zM60.44 333.73h0.9v0.9h-0.9zM65.05 344.6h0.9v0.9h-0.9zM57.36 340.46h0.9v0.9h-0.9zM56.83 342.06h0.9v0.9h-0.9zM57.04 339.07h0.9v0.9h-0.9zM64.72 341.06h0.9v0.9h-0.9zM58.88 334.97h0.9v0.9h-0.9zM61.88 339.67h0.9v0.9h-0.9zM64.55 339.94h0.9v0.9h-0.9zM57.44 339.19h0.9v0.9h-0.9zM59.7 339.46h0.9v0.9h-0.9zM68.99 341.23h0.9v0.9h-0.9zM61.03 338.75h0.9v0.9h-0.9zM57.61 336.53h0.9v0.9h-0.9zM56.67 333.44h0.9v0.9h-0.9zM64.98 343.23h0.9v0.9h-0.9zM56.57 345.62h0.9v0.9h-0.9zM60.12 336.51h0.9v0.9h-0.9zM64.19 340.83h0.9v0.9h-0.9zM57.31 342.93h0.9v0.9h-0.9zM59.69 336.57h0.9v0.9h-0.9zM56.76 333.6h0.9v0.9h-0.9zM57 342.18h0.9v0.9h-0.9zM59.63 341.94h0.9v0.9h-0.9zM55.92 342.23h0.9v0.9h-0.9zM65.63 346.36h0.9v0.9h-0.9zM59.28 339.87h0.9v0.9h-0.9zM56.47 342.07h0.9v0.9h-0.9zM68.49 344.01h0.9v0.9h-0.9zM56.59 337.77h0.9v0.9h-0.9zM62.66 339.91h0.9v0.9h-0.9zM57.28 343.21h0.9v0.9h-0.9zM61.9 342.57h0.9v0.9h-0.9zM59.4 343.34h0.9v0.9h-0.9zM58.35 336.15h0.9v0.9h-0.9zM60.01 335.31h0.9v0.9h-0.9zM64.55 341.7h0.9v0.9h-0.9zM63.09 338.42h0.9v0.9h-0.9zM61.53 337.75h0.9v0.9h-0.9zM59.78 339.24h0.9v0.9h-0.9zM61.77 336.59h0.9v0.9h-0.9zM55.95 340.49h0.9v0.9h-0.9zM58.19 341.06h0.9v0.9h-0.9zM58.2 335.56h0.9v0.9h-0.9zM62.69 340.3h0.9v0.9h-0.9zM62.67 338.48h0.9v0.9h-0.9zM58.72 343.3h0.9v0.9h-0.9zM61.88 339.33h0.9v0.9h-0.9zM60.35 341.31h0.9v0.9h-0.9zM57.23 340.33h0.9v0.9h-0.9zM56.57 333.95h0.9v0.9h-0.9zM60.75 339.8h0.9v0.9h-0.9zM62.36 341.17h0.9v0.9h-0.9zM62.55 341.88h0.9v0.9h-0.9zM56.2 343.16h0.9v0.9h-0.9zM69.71 337.8h0.9v0.9h-0.9zM55.46 341.56h0.9v0.9h-0.9zM63.33 342.54h0.9v0.9h-0.9zM65.57 335.33h0.9v0.9h-0.9zM61.38 340.89h0.9v0.9h-0.9zM64.54 336.82h0.9v0.9h-0.9zM60.1 338.38h0.9v0.9h-0.9zM59.43 339.06h0.9v0.9h-0.9zM59.47 334.18h0.9v0.9h-0.9zM59.88 339.7h0.9v0.9h-0.9zM57.5 337.53h0.9v0.9h-0.9zM56.87 344.32h0.9v0.9h-0.9zM63.36 338.94h0.9v0.9h-0.9zM62.19 349.41h0.9v0.9h-0.9zM56.5 340.93h0.9v0.9h-0.9zM57.84 343.97h0.9v0.9h-0.9zM64.03 339.13h0.9v0.9h-0.9zM62.23 337.1h0.9v0.9h-0.9zM65.94 338.58h0.9v0.9h-0.9zM58.11 334.1h0.9v0.9h-0.9zM67.79 335.89h0.9v0.9h-0.9zM56.5 338.91h0.9v0.9h-0.9zM64.4 339.66h0.9v0.9h-0.9zM59.94 339.56h0.9v0.9h-0.9zM63.08 339.39h0.9v0.9h-0.9zM60.58 339.28h0.9v0.9h-0.9zM55.99 343.55h0.9v0.9h-0.9zM57.5 335.53h0.9v0.9h-0.9zM58.43 339.6h0.9v0.9h-0.9zM62.98 335.07h0.9v0.9h-0.9zM55.42 340.04h0.9v0.9h-0.9zM61.4 336.2h0.9v0.9h-0.9zM55.9 340.03h0.9v0.9h-0.9zM59.49 334.63h0.9v0.9h-0.9zM56.84 343.97h0.9v0.9h-0.9zM56.18 342.66h0.9v0.9h-0.9zM65.81 337.59h0.9v0.9h-0.9zM57.54 341.4h0.9v0.9h-0.9zM55.52 341.16h0.9v0.9h-0.9zM64.42 340.29h0.9v0.9h-0.9zM61.18 339.03h0.9v0.9h-0.9zM63.64 337.03h0.9v0.9h-0.9zM65.77 339.43h0.9v0.9h-0.9zM58.83 334.58h0.9v0.9h-0.9zM58.41 340.21h0.9v0.9h-0.9zM64.51 334.64h0.9v0.9h-0.9zM59.55 337.43h0.9v0.9h-0.9zM55.67 339.51h0.9v0.9h-0.9zM57.26 342.12h0.9v0.9h-0.9zM61.89 338.48h0.9v0.9h-0.9zM60.47 336.59h0.9v0.9h-0.9zM56.21 337.28h0.9v0.9h-0.9zM59.8 336.97h0.9v0.9h-0.9zM58.49 336.91h0.9v0.9h-0.9zM60.85 336.07h0.9v0.9h-0.9zM59.93 339.79h0.9v0.9h-0.9zM63.48 337.27h0.9v0.9h-0.9zM55.88 335.01h0.9v0.9h-0.9zM62.75 337.62h0.9v0.9h-0.9zM63.57 339.26h0.9v0.9h-0.9zM59.01 333.9h0.9v0.9h-0.9zM57.56 341.88h0.9v0.9h-0.9zM57.8 341.54h0.9v0.9h-0.9zM70.07 342.86h0.9v0.9h-0.9zM61.16 335.78h0.9v0.9h-0.9zM58.1 337.53h0.9v0.9h-0.9zM60.67 333.42h0.9v0.9h-0.9zM56.88 341.88h0.9v0.9h-0.9zM60.53 341.74h0.9v0.9h-0.9zM63.09 336.05h0.9v0.9h-0.9zM55.13 340.9h0.9v0.9h-0.9zM60.12 339.74h0.9v0.9h-0.9zM57.06 342.57h0.9v0.9h-0.9zM61.8 342.94h0.9v0.9h-0.9zM58.72 341.59h0.9v0.9h-0.9zM59.79 336.67h0.9v0.9h-0.9zM59.71 334.51h0.9v0.9h-0.9zM59.35 340.04h0.9v0.9h-0.9zM62.51 336.33h0.9v0.9h-0.9zM55.2 337.3h0.9v0.9h-0.9zM69.45 339.93h0.9v0.9h-0.9zM57.26 337.45h0.9v0.9h-0.9zM66.39 335.99h0.9v0.9h-0.9zM59.59 339.26h0.9v0.9h-0.9zM57.35 337.33h0.9v0.9h-0.9zM64.7 343.76h0.9v0.9h-0.9zM58.98 341.62h0.9v0.9h-0.9zM61.66 339.83h0.9v0.9h-0.9zM59.51 343.16h0.9v0.9h-0.9zM62.06 338.82h0.9v0.9h-0.9zM59.16 342.31h0.9v0.9h-0.9zM57.86 337.34h0.9v0.9h-0.9zM59.01 338h0.9v0.9h-0.9zM64.56 340.57h0.9v0.9h-0.9zM59.68 337.91h0.9v0.9h-0.9zM65.11 340.83h0.9v0.9h-0.9zM67.52 342.24h0.9v0.9h-0.9zM59.22 337.85h0.9v0.9h-0.9zM58.97 340.05h0.9v0.9h-0.9zM62.86 340.96h0.9v0.9h-0.9zM65.67 334.92h0.9v0.9h-0.9zM60.1 335.23h0.9v0.9h-0.9zM56.28 337.69h0.9v0.9h-0.9zM57.65 336.58h0.9v0.9h-0.9zM58.84 342.41h0.9v0.9h-0.9zM56.01 332.52h0.9v0.9h-0.9zM57.85 342.15h0.9v0.9h-0.9zM57.98 340.69h0.9v0.9h-0.9zM56.11 343.69h0.9v0.9h-0.9zM61.56 342.66h0.9v0.9h-0.9zM59 343.35h0.9v0.9h-0.9zM60.26 338.03h0.9v0.9h-0.9zM57.69 339.66h0.9v0.9h-0.9zM56.72 335.91h0.9v0.9h-0.9zM60.47 341.64h0.9v0.9h-0.9zM58.95 342.03h0.9v0.9h-0.9zM65.72 335.69h0.9v0.9h-0.9zM60.93 336.6h0.9v0.9h-0.9zM57.67 340.03h0.9v0.9h-0.9zM63.03 341.13h0.9v0.9h-0.9zM62.34 344.96h0.9v0.9h-0.9zM58.68 342.79h0.9v0.9h-0.9zM65.22 340.98h0.9v0.9h-0.9zM58.94 334.63h0.9v0.9h-0.9zM59.78 341.77h0.9v0.9h-0.9zM59.06 338.95h0.9v0.9h-0.9zM65.3 337.65h0.9v0.9h-0.9zM56.59 339.62h0.9v0.9h-0.9zM64.05 341.28h0.9v0.9h-0.9zM60.26 338.02h0.9v0.9h-0.9zM64.45 342.16h0.9v0.9h-0.9zM62.21 337.6h0.9v0.9h-0.9zM55.34 338.59h0.9v0.9h-0.9zM58.15 334.18h0.9v0.9h-0.9zM59.92 343.06h0.9v0.9h-0.9zM55.41 338.43h0.9v0.9h-0.9zM66.55 340.05h0.9v0.9h-0.9zM57.99 340.07h0.9v0.9h-0.9zM62.81 336.48h0.9v0.9h-0.9zM59.64 334.59h0.9v0.9h-0.9zM63.04 340.43h0.9v0.9h-0.9zM62.64 343.15h0.9v0.9h-0.9zM60.16 340.21h0.9v0.9h-0.9zM61.46 340.9h0.9v0.9h-0.9zM56.16 338.67h0.9v0.9h-0.9zM59.45 339.6h0.9v0.9h-0.9zM57.29 339.1h0.9v0.9h-0.9zM61.03 340.06h0.9v0.9h-0.9zM62.12 341.97h0.9v0.9h-0.9zM62.01 342.4h0.9v0.9h-0.9zM63.03 343.69h0.9v0.9h-0.9zM62.26 337.63h0.9v0.9h-0.9zM68.4 342.89h0.9v0.9h-0.9zM64.5 341.69h0.9v0.9h-0.9zM60.17 336.06h0.9v0.9h-0.9zM61.57 338.43h0.9v0.9h-0.9zM58.55 333.07h0.9v0.9h-0.9zM65.59 335.98h0.9v0.9h-0.9zM56.03 340.9h0.9v0.9h-0.9zM62.04 337.11h0.9v0.9h-0.9zM59.97 340.26h0.9v0.9h-0.9zM60.56 341.08h0.9v0.9h-0.9zM62.8 338.39h0.9v0.9h-0.9zM58.61 336.52h0.9v0.9h-0.9zM62.71 341.26h0.9v0.9h-0.9zM57.77 346.57h0.9v0.9h-0.9zM59.86 340.43h0.9v0.9h-0.9zM61.15 338.8h0.9v0.9h-0.9zM61.15 335.58h0.9v0.9h-0.9zM58.56 345.06h0.9v0.9h-0.9zM63.17 338.27h0.9v0.9h-0.9zM57.91 334.98h0.9v0.9h-0.9zM59.56 338.96h0.9v0.9h-0.9zM57.69 334.8h0.9v0.9h-0.9zM60.56 340.76h0.9v0.9h-0.9zM64.11 341.05h0.9v0.9h-0.9zM65.49 343.1h0.9v0.9h-0.9zM59.62 336.34h0.9v0.9h-0.9zM61.56 342.38h0.9v0.9h-0.9zM62.48 337.83h0.9v0.9h-0.9zM65.26 340.15h0.9v0.9h-0.9zM58.01 335.5h0.9v0.9h-0.9zM62.16 334.32h0.9v0.9h-0.9zM55.29 335.55h0.9v0.9h-0.9zM66.15 344.63h0.9v0.9h-0.9zM59.2 338.34h0.9v0.9h-0.9zM62.53 343.24h0.9v0.9h-0.9zM57.08 346.12h0.9v0.9h-0.9zM59.25 342.9h0.9v0.9h-0.9zM57.48 345.47h0.9v0.9h-0.9zM59.22 335.66h0.9v0.9h-0.9zM67.04 337.43h0.9v0.9h-0.9zM59.98 335.73h0.9v0.9h-0.9zM62.45 340.08h0.9v0.9h-0.9zM58.95 338.29h0.9v0.9h-0.9zM57.93 337.33h0.9v0.9h-0.9zM63.22 335.31h0.9v0.9h-0.9zM55.79 340.72h0.9v0.9h-0.9zM68.18 338.88h0.9v0.9h-0.9zM58.86 338.74h0.9v0.9h-0.9zM60.9 338.97h0.9v0.9h-0.9zM63.91 342.45h0.9v0.9h-0.9zM61.99 344.24h0.9v0.9h-0.9zM59.16 337.84h0.9v0.9h-0.9zM70.76 333.68h0.9v0.9h-0.9zM61.29 336.28h0.9v0.9h-0.9zM63.83 333.18h0.9v0.9h-0.9zM59.5 338.32h0.9v0.9h-0.9zM56.09 342.86h0.9v0.9h-0.9zM58.55 340.85h0.9v0.9h-0.9zM58.09 339.95h0.9v0.9h-0.9zM58.38 339.72h0.9v0.9h-0.9zM59.64 337.45h0.9v0.9h-0.9zM61.58 338.94h0.9v0.9h-0.9zM56.49 336.34h0.9v0.9h-0.9zM61.6 343.5h0.9v0.9h-0.9zM55.26 338.24h0.9v0.9h-0.9zM61.63 342.63h0.9v0.9h-0.9zM62.57 335.93h0.9v0.9h-0.9zM60.13 342.2h0.9v0.9h-0.9zM60.86 338.82h0.9v0.9h-0.9zM55.72 339.99h0.9v0.9h-0.9zM59.76 339.59h0.9v0.9h-0.9zM65.43 343.07h0.9v0.9h-0.9zM57.13 340.19h0.9v0.9h-0.9zM58.87 339.8h0.9v0.9h-0.9zM65.9 342.25h0.9v0.9h-0.9zM60.14 337.52h0.9v0.9h-0.9zM59.41 340.59h0.9v0.9h-0.9zM58.19 342.81h0.9v0.9h-0.9zM60.07 335.94h0.9v0.9h-0.9zM59.02 339.13h0.9v0.9h-0.9zM63.57 342.85h0.9v0.9h-0.9zM65.27 344.19h0.9v0.9h-0.9zM61.15 339.84h0.9v0.9h-0.9zM63.68 339.42h0.9v0.9h-0.9zM55.44 338.13h0.9v0.9h-0.9zM62.39 341.34h0.9v0.9h-0.9zM56 343.1h0.9v0.9h-0.9zM61.12 334.97h0.9v0.9h-0.9zM61.69 342.53h0.9v0.9h-0.9zM61.92 338.56h0.9v0.9h-0.9zM57.1 342.87h0.9v0.9h-0.9zM60.81 339.48h0.9v0.9h-0.9zM58.55 336.39h0.9v0.9h-0.9zM64.01 341.8h0.9v0.9h-0.9zM57.53 344.1h0.9v0.9h-0.9zM59.17 336.47h0.9v0.9h-0.9zM63.54 343.67h0.9v0.9h-0.9zM58.59 335.82h0.9v0.9h-0.9zM59.77 332.18h0.9v0.9h-0.9zM60.19 344.09h0.9v0.9h-0.9zM60.99 337.29h0.9v0.9h-0.9zM62.56 338.01h0.9v0.9h-0.9zM64.58 338.42h0.9v0.9h-0.9zM67.37 338.44h0.9v0.9h-0.9zM60.69 336.67h0.9v0.9h-0.9zM55.38 340.54h0.9v0.9h-0.9zM61.27 336.57h0.9v0.9h-0.9zM62.03 338.26h0.9v0.9h-0.9zM58 339.28h0.9v0.9h-0.9zM61.42 341.69h0.9v0.9h-0.9zM64.47 340.65h0.9v0.9h-0.9zM57.37 337.44h0.9v0.9h-0.9zM61.33 335.9h0.9v0.9h-0.9zM59.38 338.34h0.9v0.9h-0.9zM59.64 340.04h0.9v0.9h-0.9zM63.76 344.43h0.9v0.9h-0.9zM63.19 342.54h0.9v0.9h-0.9zM56.14 342.62h0.9v0.9h-0.9zM64.68 335.42h0.9v0.9h-0.9zM69.13 337.79h0.9v0.9h-0.9zM60.23 337.09h0.9v0.9h-0.9zM57.93 342.72h0.9v0.9h-0.9zM60.93 338.37h0.9v0.9h-0.9zM64.16 336.68h0.9v0.9h-0.9zM59.07 343.61h0.9v0.9h-0.9zM60.29 348.75h0.9v0.9h-0.9zM60.55 341.25h0.9v0.9h-0.9zM59.18 337.5h0.9v0.9h-0.9zM62.57 345.83h0.9v0.9h-0.9zM63.63 344.2h0.9v0.9h-0.9zM62.5 341.42h0.9v0.9h-0.9zM62.19 346.13h0.9v0.9h-0.9zM58.83 348.56h0.9v0.9h-0.9zM62.46 345.64h0.9v0.9h-0.9zM61.44 342.32h0.9v0.9h-0.9zM59.91 348.39h0.9v0.9h-0.9zM60.8 342.34h0.9v0.9h-0.9zM60.54 349.74h0.9v0.9h-0.9zM63.02 349.82h0.9v0.9h-0.9zM61.09 340.61h0.9v0.9h-0.9zM64.8 346.37h0.9v0.9h-0.9zM59.83 344.56h0.9v0.9h-0.9zM59.73 349.44h0.9v0.9h-0.9zM61.11 347.7h0.9v0.9h-0.9zM62.58 344.29h0.9v0.9h-0.9zM62.92 344.28h0.9v0.9h-0.9zM58.2 344.39h0.9v0.9h-0.9zM59.06 349.24h0.9v0.9h-0.9zM63.5 342.74h0.9v0.9h-0.9zM64.01 346.19h0.9v0.9h-0.9zM64.2 341.12h0.9v0.9h-0.9zM61.35 341.38h0.9v0.9h-0.9zM55.39 342.76h0.9v0.9h-0.9zM64.01 348.46h0.9v0.9h-0.9zM58.2 337.5h0.9v0.9h-0.9zM57.18 347.91h0.9v0.9h-0.9zM65.92 348.68h0.9v0.9h-0.9zM61.89 348.14h0.9v0.9h-0.9zM58.9 336.89h0.9v0.9h-0.9zM61.21 346.45h0.9v0.9h-0.9zM62.3 342.39h0.9v0.9h-0.9zM60.49 340.92h0.9v0.9h-0.9zM61.37 345.98h0.9v0.9h-0.9zM56.47 348.68h0.9v0.9h-0.9zM62.43 340.49h0.9v0.9h-0.9zM62.2 345.43h0.9v0.9h-0.9zM59.56 349h0.9v0.9h-0.9zM68.13 347.29h0.9v0.9h-0.9zM65.07 349.5h0.9v0.9h-0.9zM62.33 349.59h0.9v0.9h-0.9zM59.74 346.66h0.9v0.9h-0.9zM65.03 350.53h0.9v0.9h-0.9zM60.94 344.44h0.9v0.9h-0.9zM63.32 344.93h0.9v0.9h-0.9zM62.99 348.74h0.9v0.9h-0.9zM60.38 349.51h0.9v0.9h-0.9zM62.93 344.21h0.9v0.9h-0.9zM57.85 343.55h0.9v0.9h-0.9zM62.55 349.39h0.9v0.9h-0.9zM56.71 349.46h0.9v0.9h-0.9zM61.74 340.74h0.9v0.9h-0.9zM64.81 346.69h0.9v0.9h-0.9zM62.57 341.24h0.9v0.9h-0.9zM59.4 349.82h0.9v0.9h-0.9zM66.4 346.27h0.9v0.9h-0.9zM61.1 343.74h0.9v0.9h-0.9zM57.67 350.44h0.9v0.9h-0.9zM62.61 350.62h0.9v0.9h-0.9zM60.64 350.2h0.9v0.9h-0.9zM60.32 348.28h0.9v0.9h-0.9zM65.53 341.89h0.9v0.9h-0.9zM64.66 345h0.9v0.9h-0.9zM59.39 346.81h0.9v0.9h-0.9zM63.38 342.23h0.9v0.9h-0.9zM60.8 343.3h0.9v0.9h-0.9zM59.59 345.04h0.9v0.9h-0.9zM64.06 343.03h0.9v0.9h-0.9zM65.38 343.29h0.9v0.9h-0.9zM60.75 350.26h0.9v0.9h-0.9zM65.65 342.1h0.9v0.9h-0.9zM62.88 340.42h0.9v0.9h-0.9zM60.54 344.17h0.9v0.9h-0.9zM63.17 339.98h0.9v0.9h-0.9zM60 342.94h0.9v0.9h-0.9zM61.41 340.4h0.9v0.9h-0.9zM61.54 339.22h0.9v0.9h-0.9zM63.49 339.68h0.9v0.9h-0.9zM65.05 341.41h0.9v0.9h-0.9zM59.15 348h0.9v0.9h-0.9zM68.38 346.91h0.9v0.9h-0.9zM63.07 340.3h0.9v0.9h-0.9zM57.07 348h0.9v0.9h-0.9zM65.06 345.54h0.9v0.9h-0.9zM60.33 350.42h0.9v0.9h-0.9zM63.98 342.52h0.9v0.9h-0.9zM62.44 345.88h0.9v0.9h-0.9zM62.99 341.2h0.9v0.9h-0.9zM61.38 345.99h0.9v0.9h-0.9zM62.1 345.57h0.9v0.9h-0.9zM62.59 344.59h0.9v0.9h-0.9zM61.29 349.97h0.9v0.9h-0.9zM59.89 344.53h0.9v0.9h-0.9zM58.6 341.27h0.9v0.9h-0.9zM63.27 345.09h0.9v0.9h-0.9zM61.93 347.42h0.9v0.9h-0.9zM61.99 348.37h0.9v0.9h-0.9zM67.51 345.99h0.9v0.9h-0.9zM62.86 338.34h0.9v0.9h-0.9zM66.03 345.67h0.9v0.9h-0.9zM63.65 340.35h0.9v0.9h-0.9zM59.06 343.29h0.9v0.9h-0.9zM62.8 340.63h0.9v0.9h-0.9zM60.62 349.75h0.9v0.9h-0.9zM60.21 346.31h0.9v0.9h-0.9zM58.16 339.03h0.9v0.9h-0.9zM61.67 345.05h0.9v0.9h-0.9zM58.53 350.2h0.9v0.9h-0.9zM65.02 348.68h0.9v0.9h-0.9zM59.69 341.09h0.9v0.9h-0.9zM61.85 346.22h0.9v0.9h-0.9zM61.07 343.2h0.9v0.9h-0.9zM58.57 343.01h0.9v0.9h-0.9zM61.41 343.56h0.9v0.9h-0.9zM66.64 343.52h0.9v0.9h-0.9zM62.98 343.37h0.9v0.9h-0.9zM60.77 341.63h0.9v0.9h-0.9zM59.52 339.66h0.9v0.9h-0.9zM59.24 347.8h0.9v0.9h-0.9zM61.22 343.25h0.9v0.9h-0.9zM63.71 342.87h0.9v0.9h-0.9zM62.99 343.77h0.9v0.9h-0.9zM65.5 348.88h0.9v0.9h-0.9zM62.97 349.91h0.9v0.9h-0.9zM60.54 339.29h0.9v0.9h-0.9zM62.78 346.35h0.9v0.9h-0.9zM60.79 344.84h0.9v0.9h-0.9zM60.32 340.55h0.9v0.9h-0.9zM66.41 341.47h0.9v0.9h-0.9zM57.76 339.63h0.9v0.9h-0.9zM59.53 345.77h0.9v0.9h-0.9zM66.7 347.17h0.9v0.9h-0.9zM59 340.82h0.9v0.9h-0.9zM58.69 345.73h0.9v0.9h-0.9zM64.16 343.1h0.9v0.9h-0.9zM60.9 336.64h0.9v0.9h-0.9zM65.08 344.54h0.9v0.9h-0.9zM64.63 349.15h0.9v0.9h-0.9zM59.13 346.27h0.9v0.9h-0.9zM61.97 342.35h0.9v0.9h-0.9zM63.91 344.62h0.9v0.9h-0.9zM62.29 349.78h0.9v0.9h-0.9zM59.92 346.47h0.9v0.9h-0.9zM63.57 336.14h0.9v0.9h-0.9zM63.35 344.12h0.9v0.9h-0.9zM65.27 345.66h0.9v0.9h-0.9zM60.86 340.34h0.9v0.9h-0.9zM69.96 341.01h0.9v0.9h-0.9zM60.54 342.73h0.9v0.9h-0.9zM61.27 346.54h0.9v0.9h-0.9zM58.88 350.45h0.9v0.9h-0.9zM61.66 348.06h0.9v0.9h-0.9zM55.53 344.45h0.9v0.9h-0.9zM60.85 344.07h0.9v0.9h-0.9zM60.28 347.08h0.9v0.9h-0.9zM62.47 341.31h0.9v0.9h-0.9zM56.84 349.44h0.9v0.9h-0.9zM61.83 349.98h0.9v0.9h-0.9zM64.43 344.62h0.9v0.9h-0.9zM57.6 344.76h0.9v0.9h-0.9zM60.77 350.89h0.9v0.9h-0.9zM57.74 350.06h0.9v0.9h-0.9zM57.13 343.96h0.9v0.9h-0.9zM57.41 343.39h0.9v0.9h-0.9zM60.98 347.22h0.9v0.9h-0.9zM60.77 348.58h0.9v0.9h-0.9zM67.15 345.25h0.9v0.9h-0.9zM58.53 345.36h0.9v0.9h-0.9zM61.43 344.08h0.9v0.9h-0.9zM66.13 349.58h0.9v0.9h-0.9zM68.13 346.59h0.9v0.9h-0.9zM63.34 341.88h0.9v0.9h-0.9zM60.9 349.48h0.9v0.9h-0.9zM61.59 340.86h0.9v0.9h-0.9zM58.1 333.3h0.9v0.9h-0.9zM61.1 340.54h0.9v0.9h-0.9zM60.98 340.71h0.9v0.9h-0.9zM58.93 343.87h0.9v0.9h-0.9zM69.16 339.27h0.9v0.9h-0.9zM58.17 343.91h0.9v0.9h-0.9zM65.61 348.19h0.9v0.9h-0.9zM63.75 343.82h0.9v0.9h-0.9zM61.8 342.31h0.9v0.9h-0.9zM60.88 342.32h0.9v0.9h-0.9zM57.08 342.21h0.9v0.9h-0.9zM67.82 346.12h0.9v0.9h-0.9zM59.73 345.43h0.9v0.9h-0.9zM61.55 350.66h0.9v0.9h-0.9zM61.44 342.93h0.9v0.9h-0.9zM64.16 346.44h0.9v0.9h-0.9zM59.45 342.71h0.9v0.9h-0.9zM61.21 338.79h0.9v0.9h-0.9zM60.06 350.04h0.9v0.9h-0.9zM65.26 349.56h0.9v0.9h-0.9zM60.27 343.3h0.9v0.9h-0.9zM60.85 343.69h0.9v0.9h-0.9zM65.5 343.94h0.9v0.9h-0.9zM65.37 341.93h0.9v0.9h-0.9zM59.36 343.22h0.9v0.9h-0.9zM59.09 339.27h0.9v0.9h-0.9zM60.65 343.03h0.9v0.9h-0.9zM67.98 342.43h0.9v0.9h-0.9zM56.49 350.4h0.9v0.9h-0.9zM64.69 344.87h0.9v0.9h-0.9zM63.31 348.24h0.9v0.9h-0.9zM60.38 345.94h0.9v0.9h-0.9zM66.15 345.45h0.9v0.9h-0.9zM58.74 349.75h0.9v0.9h-0.9zM62.65 350.25h0.9v0.9h-0.9zM62.25 346.2h0.9v0.9h-0.9zM63.33 342.2h0.9v0.9h-0.9zM60.14 349.71h0.9v0.9h-0.9zM64.51 348.45h0.9v0.9h-0.9zM64.94 339.37h0.9v0.9h-0.9zM63.24 336.67h0.9v0.9h-0.9zM62.35 346.83h0.9v0.9h-0.9zM65.7 349.36h0.9v0.9h-0.9zM59.08 344.86h0.9v0.9h-0.9zM61.01 342.75h0.9v0.9h-0.9zM59.13 343.22h0.9v0.9h-0.9zM66.24 350.42h0.9v0.9h-0.9zM61.44 341.04h0.9v0.9h-0.9zM60.23 346.65h0.9v0.9h-0.9zM65.79 349.89h0.9v0.9h-0.9zM60.07 349.82h0.9v0.9h-0.9zM60.85 348.18h0.9v0.9h-0.9zM60.62 346.75h0.9v0.9h-0.9zM62.89 343.58h0.9v0.9h-0.9zM62.65 347.86h0.9v0.9h-0.9zM56.77 343.72h0.9v0.9h-0.9zM68.92 346.16h0.9v0.9h-0.9zM59.05 338.33h0.9v0.9h-0.9zM59.58 348.08h0.9v0.9h-0.9zM64.23 346.96h0.9v0.9h-0.9zM63.23 342.75h0.9v0.9h-0.9zM65.74 340.13h0.9v0.9h-0.9zM63.24 344.16h0.9v0.9h-0.9zM57.69 350.02h0.9v0.9h-0.9zM61.67 348.52h0.9v0.9h-0.9zM65.73 345.52h0.9v0.9h-0.9zM59.91 344.96h0.9v0.9h-0.9zM63.6 342.02h0.9v0.9h-0.9zM65.32 348.96h0.9v0.9h-0.9zM61.94 347.44h0.9v0.9h-0.9zM60.14 340.55h0.9v0.9h-0.9zM62.25 348.64h0.9v0.9h-0.9zM59.32 336.59h0.9v0.9h-0.9zM60.44 350.32h0.9v0.9h-0.9zM63.41 349.94h0.9v0.9h-0.9zM59.49 344.18h0.9v0.9h-0.9zM58.52 342.85h0.9v0.9h-0.9zM63.53 345.81h0.9v0.9h-0.9zM60.78 346.95h0.9v0.9h-0.9zM57.92 344.58h0.9v0.9h-0.9zM56.58 340.17h0.9v0.9h-0.9zM57.26 341.73h0.9v0.9h-0.9zM67.47 350.28h0.9v0.9h-0.9zM65.16 342.5h0.9v0.9h-0.9zM62.94 340.57h0.9v0.9h-0.9zM60.57 346.76h0.9v0.9h-0.9zM57.5 347.11h0.9v0.9h-0.9zM62.24 336.77h0.9v0.9h-0.9zM61.7 346.15h0.9v0.9h-0.9zM59.11 348.39h0.9v0.9h-0.9zM61.78 342.46h0.9v0.9h-0.9zM66.86 345.72h0.9v0.9h-0.9zM60.38 344.86h0.9v0.9h-0.9zM56.8 345.46h0.9v0.9h-0.9zM63.71 346.04h0.9v0.9h-0.9zM57.71 342.67h0.9v0.9h-0.9zM55.65 340.83h0.9v0.9h-0.9zM62.49 346.66h0.9v0.9h-0.9zM59.17 345.08h0.9v0.9h-0.9zM60.09 348.43h0.9v0.9h-0.9zM63.39 342.9h0.9v0.9h-0.9zM59.76 340.74h0.9v0.9h-0.9zM62.53 349.01h0.9v0.9h-0.9zM60.36 341.98h0.9v0.9h-0.9zM65.6 348.73h0.9v0.9h-0.9zM60.84 350.31h0.9v0.9h-0.9zM61.88 345.34h0.9v0.9h-0.9zM67.62 346.74h0.9v0.9h-0.9zM62.62 344.04h0.9v0.9h-0.9zM63.28 349.71h0.9v0.9h-0.9zM62.72 342.19h0.9v0.9h-0.9zM63.16 344.79h0.9v0.9h-0.9zM62.7 344.56h0.9v0.9h-0.9zM59.26 336.69h0.9v0.9h-0.9zM63.61 343.27h0.9v0.9h-0.9zM61.28 336.18h0.9v0.9h-0.9zM63.37 349.4h0.9v0.9h-0.9zM61.55 340.06h0.9v0.9h-0.9zM64.35 342.84h0.9v0.9h-0.9zM60.45 346.6h0.9v0.9h-0.9zM62.36 340.2h0.9v0.9h-0.9zM61.99 345.72h0.9v0.9h-0.9zM67.02 350.02h0.9v0.9h-0.9zM68.83 341.49h0.9v0.9h-0.9zM59.62 347.42h0.9v0.9h-0.9zM65.86 340.54h0.9v0.9h-0.9zM60.41 342.63h0.9v0.9h-0.9zM63.76 346.88h0.9v0.9h-0.9zM62.31 348.22h0.9v0.9h-0.9zM59.41 344.36h0.9v0.9h-0.9zM61.88 345.77h0.9v0.9h-0.9zM65.79 345.15h0.9v0.9h-0.9zM65.88 345.83h0.9v0.9h-0.9zM65.41 345.67h0.9v0.9h-0.9zM58.68 342.48h0.9v0.9h-0.9zM67.11 343.25h0.9v0.9h-0.9zM68.37 339.66h0.9v0.9h-0.9zM60.18 349.76h0.9v0.9h-0.9zM58.21 350.03h0.9v0.9h-0.9zM63.5 347.9h0.9v0.9h-0.9zM58.75 347.69h0.9v0.9h-0.9zM64.63 344.81h0.9v0.9h-0.9zM64.94 345.08h0.9v0.9h-0.9zM62.72 344.04h0.9v0.9h-0.9zM57.91 345.55h0.9v0.9h-0.9zM62.85 342.13h0.9v0.9h-0.9zM55.18 340.13h0.9v0.9h-0.9zM65.59 343.92h0.9v0.9h-0.9zM60.36 339.4h0.9v0.9h-0.9zM60.04 342.1h0.9v0.9h-0.9zM60.76 341.84h0.9v0.9h-0.9zM62.48 347.36h0.9v0.9h-0.9zM60.15 344.97h0.9v0.9h-0.9zM62.1 348.99h0.9v0.9h-0.9zM60.42 348.97h0.9v0.9h-0.9zM65.43 344.07h0.9v0.9h-0.9zM58.93 344.73h0.9v0.9h-0.9zM56.43 344.18h0.9v0.9h-0.9zM58.37 345.41h0.9v0.9h-0.9zM61.25 347.83h0.9v0.9h-0.9zM62.6 347.19h0.9v0.9h-0.9zM62.02 346.69h0.9v0.9h-0.9zM59.16 348.81h0.9v0.9h-0.9zM66.54 349.42h0.9v0.9h-0.9zM58.36 347.92h0.9v0.9h-0.9zM57.79 349.46h0.9v0.9h-0.9zM61.02 343.72h0.9v0.9h-0.9zM59.62 344.91h0.9v0.9h-0.9zM61.24 341.53h0.9v0.9h-0.9zM62.31 346.55h0.9v0.9h-0.9zM63.45 345.06h0.9v0.9h-0.9zM65.12 346.33h0.9v0.9h-0.9zM58.38 348.78h0.9v0.9h-0.9zM61.68 334.24h0.9v0.9h-0.9zM61.76 347.17h0.9v0.9h-0.9zM62.13 345.89h0.9v0.9h-0.9zM62.86 344.15h0.9v0.9h-0.9zM59.07 343.77h0.9v0.9h-0.9zM63.01 345.96h0.9v0.9h-0.9zM65.57 346.67h0.9v0.9h-0.9zM62.04 345.23h0.9v0.9h-0.9zM62.02 349.78h0.9v0.9h-0.9zM57.53 341.86h0.9v0.9h-0.9zM59.93 341.76h0.9v0.9h-0.9zM60.69 350.82h0.9v0.9h-0.9zM55.84 349.04h0.9v0.9h-0.9zM57.97 345.18h0.9v0.9h-0.9zM59.57 341.7h0.9v0.9h-0.9zM57.7 346.57h0.9v0.9h-0.9zM61.63 350.25h0.9v0.9h-0.9zM67.14 343.35h0.9v0.9h-0.9zM59.42 344.74h0.9v0.9h-0.9zM64.01 349.13h0.9v0.9h-0.9zM59.53 347.96h0.9v0.9h-0.9zM62.71 350.25h0.9v0.9h-0.9zM60.62 344.86h0.9v0.9h-0.9zM58.52 340.47h0.9v0.9h-0.9zM63.27 348.31h0.9v0.9h-0.9zM65.44 346.04h0.9v0.9h-0.9zM59.95 341.95h0.9v0.9h-0.9zM58.06 343.11h0.9v0.9h-0.9zM63.01 345.71h0.9v0.9h-0.9zM55.21 346.26h0.9v0.9h-0.9zM60.36 341.33h0.9v0.9h-0.9zM62.29 347.71h0.9v0.9h-0.9zM57.96 340.45h0.9v0.9h-0.9zM61.22 346.76h0.9v0.9h-0.9zM61.66 341.28h0.9v0.9h-0.9zM63.76 342.43h0.9v0.9h-0.9zM64.05 345.56h0.9v0.9h-0.9zM64.84 340.75h0.9v0.9h-0.9zM64.39 346.89h0.9v0.9h-0.9zM59.84 348.88h0.9v0.9h-0.9zM68.85 345.82h0.9v0.9h-0.9zM59.62 345.27h0.9v0.9h-0.9zM65.96 345.89h0.9v0.9h-0.9zM65.82 342.04h0.9v0.9h-0.9zM64.64 338.31h0.9v0.9h-0.9zM61.27 344.37h0.9v0.9h-0.9zM61.43 350.82h0.9v0.9h-0.9zM60.47 347.27h0.9v0.9h-0.9zM67.99 347.97h0.9v0.9h-0.9zM60.23 342.7h0.9v0.9h-0.9zM56.39 348.11h0.9v0.9h-0.9zM65.38 349.63h0.9v0.9h-0.9zM62.55 335.55h0.9v0.9h-0.9zM59.98 349.26h0.9v0.9h-0.9zM61.42 349.18h0.9v0.9h-0.9zM68.92 341.03h0.9v0.9h-0.9zM68.39 344.03h0.9v0.9h-0.9zM57.74 346.67h0.9v0.9h-0.9zM64.2 342.64h0.9v0.9h-0.9zM65.97 341.08h0.9v0.9h-0.9zM62.08 349.42h0.9v0.9h-0.9zM60.95 343.31h0.9v0.9h-0.9zM62.41 348.22h0.9v0.9h-0.9zM68.05 350.23h0.9v0.9h-0.9zM67.45 344.42h0.9v0.9h-0.9zM57.08 346.19h0.9v0.9h-0.9zM60.05 341.6h0.9v0.9h-0.9zM60.42 345.49h0.9v0.9h-0.9zM62.81 349.27h0.9v0.9h-0.9zM60.14 350.72h0.9v0.9h-0.9zM62.65 348.52h0.9v0.9h-0.9zM64.73 339.74h0.9v0.9h-0.9zM66.15 341.71h0.9v0.9h-0.9zM63.95 349.8h0.9v0.9h-0.9zM63.55 338.55h0.9v0.9h-0.9zM63.29 350.12h0.9v0.9h-0.9zM61.57 345.24h0.9v0.9h-0.9zM59.7 341.88h0.9v0.9h-0.9zM58.35 343.89h0.9v0.9h-0.9zM61.55 347.06h0.9v0.9h-0.9zM60.49 338.44h0.9v0.9h-0.9zM57.85 349.14h0.9v0.9h-0.9zM63.13 339.52h0.9v0.9h-0.9zM62.97 334.95h0.9v0.9h-0.9zM69.26 346.74h0.9v0.9h-0.9z" fill="#000" fill-opacity="0.5"/>
<path d="M60.81 340.28h0.9v0.9h-0.9zM59.15 341.66h0.9v0.9h-0.9zM60.48 337.58h0.9v0.9h-0.9zM58.15 346.36h0.9v0.9h-0.9zM63.62 335.01h0.9v0.9h-0.9zM59.11 336.69h0.9v0.9h-0.9zM55.55 338.82h0.9v0.9h-0.9zM60.06 348h0.9v0.9h-0.9zM63.79 332.44h0.9v0.9h-0.9zM68.43 341.02h0.9v0.9h-0.9zM55.99 342.82h0.9v0.9h-0.9zM58.99 334.66h0.9v0.9h-0.9zM68.78 339.52h0.9v0.9h-0.9zM57.99 346.23h0.9v0.9h-0.9zM69.36 345.91h0.9v0.9h-0.9zM56.5 345.63h0.9v0.9h-0.9zM66.53 345.29h0.9v0.9h-0.9zM64.23 340.12h0.9v0.9h-0.9zM60.65 332.89h0.9v0.9h-0.9zM57.4 336.17h0.9v0.9h-0.9zM56.34 342.46h0.9v0.9h-0.9zM66.82 338.33h0.9v0.9h-0.9zM57.07 350.3h0.9v0.9h-0.9zM62.86 346.17h0.9v0.9h-0.9zM65.16 338.55h0.9v0.9h-0.9zM62.11 339.05h0.9v0.9h-0.9zM57.38 343.81h0.9v0.9h-0.9zM63.17 335.34h0.9v0.9h-0.9zM57.14 346.67h0.9v0.9h-0.9zM61.83 347h0.9v0.9h-0.9zM59.42 338.17h0.9v0.9h-0.9zM64.91 346.62h0.9v0.9h-0.9zM57.18 347.02h0.9v0.9h-0.9zM68.87 341.32h0.9v0.9h-0.9zM56.13 344.55h0.9v0.9h-0.9zM61.45 346.41h0.9v0.9h-0.9zM65.48 347.21h0.9v0.9h-0.9zM64.15 350.21h0.9v0.9h-0.9zM56.86 350.36h0.9v0.9h-0.9zM62.04 337.02h0.9v0.9h-0.9zM59.5 344.64h0.9v0.9h-0.9zM61.96 339.93h0.9v0.9h-0.9zM71.96 341.01h0.9v0.9h-0.9zM56.86 348.58h0.9v0.9h-0.9zM58.91 338.26h0.9v0.9h-0.9zM55.66 350.15h0.9v0.9h-0.9zM55.67 343.62h0.9v0.9h-0.9zM58.71 341.85h0.9v0.9h-0.9zM56.89 343.92h0.9v0.9h-0.9zM64.03 349.35h0.9v0.9h-0.9zM59.2 336h0.9v0.9h-0.9zM61.14 343.75h0.9v0.9h-0.9zM57.27 347.08h0.9v0.9h-0.9zM58.94 346.74h0.9v0.9h-0.9zM59.83 350.61h0.9v0.9h-0.9zM58.43 343.8h0.9v0.9h-0.9zM60.36 335.65h0.9v0.9h-0.9zM71.95 342.23h0.9v0.9h-0.9zM64.2 340.33h0.9v0.9h-0.9zM68.03 349.96h0.9v0.9h-0.9zM66.93 348.75h0.9v0.9h-0.9zM63.02 343.85h0.9v0.9h-0.9zM65.06 337.67h0.9v0.9h-0.9zM61.76 338.81h0.9v0.9h-0.9zM59.65 337.3h0.9v0.9h-0.9zM56.78 344.17h0.9v0.9h-0.9zM61.61 348.04h0.9v0.9h-0.9zM60.54 346.84h0.9v0.9h-0.9zM64.43 338.83h0.9v0.9h-0.9zM59.73 339.85h0.9v0.9h-0.9zM72.08 338.95h0.9v0.9h-0.9zM63.38 338.46h0.9v0.9h-0.9zM64.46 335.47h0.9v0.9h-0.9zM65.77 344.14h0.9v0.9h-0.9zM58.99 335.88h0.9v0.9h-0.9zM69.37 339.58h0.9v0.9h-0.9zM69.95 343.17h0.9v0.9h-0.9zM66.01 346.7h0.9v0.9h-0.9zM59.2 343.84h0.9v0.9h-0.9zM55.24 335.01h0.9v0.9h-0.9zM61.62 347.44h0.9v0.9h-0.9zM61.8 335.7h0.9v0.9h-0.9zM65.25 343.59h0.9v0.9h-0.9zM64.77 341.33h0.9v0.9h-0.9zM59.66 349.37h0.9v0.9h-0.9zM67.88 335.85h0.9v0.9h-0.9zM55.44 348.87h0.9v0.9h-0.9zM62.8 343.38h0.9v0.9h-0.9zM56.08 349.13h0.9v0.9h-0.9zM61.94 344.37h0.9v0.9h-0.9zM62.94 339.93h0.9v0.9h-0.9zM62.99 343.86h0.9v0.9h-0.9zM64.61 345.35h0.9v0.9h-0.9zM59.66 350.04h0.9v0.9h-0.9zM57.74 349.86h0.9v0.9h-0.9zM66.41 348.31h0.9v0.9h-0.9zM72.32 343.02h0.9v0.9h-0.9zM62.61 350.38h0.9v0.9h-0.9zM63.04 349.03h0.9v0.9h-0.9zM66.44 341.93h0.9v0.9h-0.9zM56.57 341.29h0.9v0.9h-0.9zM59.58 349.94h0.9v0.9h-0.9zM62.67 342.66h0.9v0.9h-0.9zM60.93 337.7h0.9v0.9h-0.9zM57.79 340.29h0.9v0.9h-0.9zM59.86 336.11h0.9v0.9h-0.9zM58.99 349.08h0.9v0.9h-0.9zM63.27 343.08h0.9v0.9h-0.9zM62.73 341.64h0.9v0.9h-0.9zM55.05 348.36h0.9v0.9h-0.9zM72.27 346.14h0.9v0.9h-0.9zM59.28 341.43h0.9v0.9h-0.9zM63 333.53h0.9v0.9h-0.9zM59.89 340.16h0.9v0.9h-0.9zM55.98 346.87h0.9v0.9h-0.9z" fill="#000" fill-opacity="0.15"/>
<ellipse cx="61" cy="342.5" rx="3.2" ry="5.5" fill="#000" fill-opacity="0.7" transform="rotate(-12 61 342.5)" filter="url(#b1_5)"/>
<rect x="28.8" y="298.8" width="53.8" height="53.4" fill="none" stroke="#a8a8a8" stroke-width="0.9"/>
<line x1="54.7" y1="298.8" x2="54.7" y2="352.2" stroke="#9a9a9a" stroke-width="0.9"/>
<line x1="28.8" y1="336.1" x2="82.6" y2="336.1" stroke="#9a9a9a" stroke-width="0.9"/>
<text x="69.1" y="341.8" font-family="Liberation Serif" font-size="7.2" text-anchor="start" font-weight="normal" font-style="normal" fill="#000" style="stroke-width:0.1px">95%</text>
<text x="21.1" y="315.5" font-family="Liberation Serif" font-size="10.35" text-anchor="middle" font-weight="normal" font-style="normal" fill="#000" transform="rotate(-90 21.1 315.5)">CD45RA</text>
<line x1="17.3" y1="365.2" x2="17.3" y2="347.2" stroke="#000" stroke-width="2.4"/>
<line x1="16.1" y1="364" x2="35.4" y2="364" stroke="#000" stroke-width="2.4"/>
<path d="M17.3 337.3 L11.8 347.7 L22.8 347.7 Z" fill="#000" stroke="none" stroke-width="1"/>
<path d="M45.3 364 L34.9 358.5 L34.9 369.5 Z" fill="#000" stroke="none" stroke-width="1"/>
<text x="46.7" y="368.5" font-family="Liberation Serif" font-size="10.45" text-anchor="start" font-weight="normal" font-style="normal" fill="#000">CD45RO</text>
<rect x="113.1" y="298.6" width="3" height="1.2" fill="#999"/>
<rect x="113.1" y="311.95" width="3" height="1.2" fill="#999"/>
<rect x="113.1" y="325.3" width="3" height="1.2" fill="#999"/>
<rect x="113.1" y="338.65" width="3" height="1.2" fill="#999"/>
<rect x="113.1" y="352" width="3" height="1.2" fill="#999"/>
<rect x="118.1" y="356.1" width="4" height="1.3" fill="#999"/>
<rect x="130.55" y="356.1" width="4" height="1.3" fill="#999"/>
<rect x="143" y="356.1" width="4" height="1.3" fill="#999"/>
<rect x="155.45" y="356.1" width="4" height="1.3" fill="#999"/>
<rect x="167.9" y="356.1" width="4" height="1.3" fill="#999"/>
<path d="M140.72 314.87h0.9v0.9h-0.9zM136.71 316.74h0.9v0.9h-0.9zM129.59 315.76h0.9v0.9h-0.9zM138.65 310.25h0.9v0.9h-0.9zM129.04 305.03h0.9v0.9h-0.9zM135.85 314.58h0.9v0.9h-0.9zM131.7 319.77h0.9v0.9h-0.9zM130.54 316.83h0.9v0.9h-0.9zM139.01 308.14h0.9v0.9h-0.9zM124.33 314.79h0.9v0.9h-0.9zM129.63 309.4h0.9v0.9h-0.9zM129.18 308.62h0.9v0.9h-0.9zM130.88 310.48h0.9v0.9h-0.9zM141.1 306.88h0.9v0.9h-0.9zM133.79 313h0.9v0.9h-0.9zM140.32 307.29h0.9v0.9h-0.9zM126.96 322.04h0.9v0.9h-0.9zM125.71 310.5h0.9v0.9h-0.9zM127.44 307.24h0.9v0.9h-0.9zM137.97 320.86h0.9v0.9h-0.9zM129.01 308.47h0.9v0.9h-0.9zM121.17 316.19h0.9v0.9h-0.9zM126.54 315.57h0.9v0.9h-0.9zM134.09 314.85h0.9v0.9h-0.9zM130.84 312.47h0.9v0.9h-0.9zM127.77 310.17h0.9v0.9h-0.9zM130.94 315.36h0.9v0.9h-0.9zM136.08 311.38h0.9v0.9h-0.9zM137.97 307.48h0.9v0.9h-0.9zM142.48 317.82h0.9v0.9h-0.9zM127.35 327.58h0.9v0.9h-0.9zM139.41 321.21h0.9v0.9h-0.9zM122.2 311.97h0.9v0.9h-0.9zM133.08 318.31h0.9v0.9h-0.9zM130.49 305.5h0.9v0.9h-0.9zM137.98 311.66h0.9v0.9h-0.9zM132.87 310.83h0.9v0.9h-0.9zM129.27 305.08h0.9v0.9h-0.9zM134.36 309.16h0.9v0.9h-0.9zM129.78 317.8h0.9v0.9h-0.9zM135.35 305.96h0.9v0.9h-0.9zM128.85 312.56h0.9v0.9h-0.9zM130.58 306.83h0.9v0.9h-0.9zM130.5 317.92h0.9v0.9h-0.9zM138.1 320.51h0.9v0.9h-0.9zM128.23 309.6h0.9v0.9h-0.9zM135.95 312.53h0.9v0.9h-0.9zM132.35 315.21h0.9v0.9h-0.9zM128.58 320.05h0.9v0.9h-0.9zM141.91 317.04h0.9v0.9h-0.9zM126.37 313.94h0.9v0.9h-0.9zM136.38 316.48h0.9v0.9h-0.9zM125.53 317.77h0.9v0.9h-0.9zM134.74 315.73h0.9v0.9h-0.9zM127.27 312.42h0.9v0.9h-0.9zM127.11 310.95h0.9v0.9h-0.9zM128.17 310.82h0.9v0.9h-0.9zM130.56 313.09h0.9v0.9h-0.9zM126.01 311.85h0.9v0.9h-0.9zM129.41 315.24h0.9v0.9h-0.9zM132.88 310.61h0.9v0.9h-0.9zM124.61 303.64h0.9v0.9h-0.9zM121.84 314.78h0.9v0.9h-0.9zM124 321.3h0.9v0.9h-0.9zM128.97 310.46h0.9v0.9h-0.9zM128.98 309.6h0.9v0.9h-0.9zM125.89 312.92h0.9v0.9h-0.9zM120.56 313.29h0.9v0.9h-0.9zM129.4 307.65h0.9v0.9h-0.9zM136.7 314.53h0.9v0.9h-0.9zM137.08 308.93h0.9v0.9h-0.9zM121.9 306.11h0.9v0.9h-0.9zM119.75 302.27h0.9v0.9h-0.9zM140.22 309.97h0.9v0.9h-0.9zM131.26 309.65h0.9v0.9h-0.9zM129.06 321.13h0.9v0.9h-0.9zM118.68 307.2h0.9v0.9h-0.9zM130.88 307.62h0.9v0.9h-0.9zM134.52 319.59h0.9v0.9h-0.9zM135.82 316.63h0.9v0.9h-0.9zM128.94 318h0.9v0.9h-0.9zM124.78 306.08h0.9v0.9h-0.9zM128.3 311.19h0.9v0.9h-0.9zM137.98 307.19h0.9v0.9h-0.9zM137.47 308.32h0.9v0.9h-0.9zM121.76 303.34h0.9v0.9h-0.9zM129.78 304.7h0.9v0.9h-0.9zM131.39 312.8h0.9v0.9h-0.9zM127.4 302.07h0.9v0.9h-0.9zM126.62 314.97h0.9v0.9h-0.9zM130.12 309.59h0.9v0.9h-0.9zM131.33 316.08h0.9v0.9h-0.9zM129.86 308.32h0.9v0.9h-0.9zM135.12 308.85h0.9v0.9h-0.9zM132.36 317.84h0.9v0.9h-0.9zM138.53 321.21h0.9v0.9h-0.9zM136.68 313.33h0.9v0.9h-0.9zM128.68 313.56h0.9v0.9h-0.9zM133.44 328.78h0.9v0.9h-0.9zM134.3 308.05h0.9v0.9h-0.9zM139.93 303.9h0.9v0.9h-0.9zM136.54 305.59h0.9v0.9h-0.9zM122.9 309.81h0.9v0.9h-0.9zM128.15 305.21h0.9v0.9h-0.9zM134.04 311.92h0.9v0.9h-0.9zM138.76 307.01h0.9v0.9h-0.9zM128.54 317.84h0.9v0.9h-0.9zM130.59 323.15h0.9v0.9h-0.9zM121.97 302.17h0.9v0.9h-0.9zM127.04 320.22h0.9v0.9h-0.9zM140.31 305.14h0.9v0.9h-0.9zM126.03 302.53h0.9v0.9h-0.9zM124.51 307.3h0.9v0.9h-0.9zM132.79 318.72h0.9v0.9h-0.9zM145.54 310.58h0.9v0.9h-0.9zM135.34 313.72h0.9v0.9h-0.9zM130.83 323.04h0.9v0.9h-0.9zM134.59 321.03h0.9v0.9h-0.9zM131.96 317.23h0.9v0.9h-0.9zM133.31 312.01h0.9v0.9h-0.9zM125.46 310.34h0.9v0.9h-0.9zM130.09 310.45h0.9v0.9h-0.9zM127.78 308.69h0.9v0.9h-0.9zM135.6 311.2h0.9v0.9h-0.9zM129.24 311.34h0.9v0.9h-0.9zM138.55 309.61h0.9v0.9h-0.9zM139.21 307.84h0.9v0.9h-0.9zM139.97 315.85h0.9v0.9h-0.9zM126.81 315.01h0.9v0.9h-0.9zM137.42 307.34h0.9v0.9h-0.9zM128.53 314.23h0.9v0.9h-0.9zM128.65 310.95h0.9v0.9h-0.9zM130.14 314.23h0.9v0.9h-0.9zM135.06 320.56h0.9v0.9h-0.9zM127.91 328.5h0.9v0.9h-0.9zM127.88 322.19h0.9v0.9h-0.9zM129.18 304.63h0.9v0.9h-0.9zM127.18 310.65h0.9v0.9h-0.9zM136.98 301.55h0.9v0.9h-0.9zM125.89 311.81h0.9v0.9h-0.9zM134.29 314.68h0.9v0.9h-0.9zM135.59 311.66h0.9v0.9h-0.9zM128.49 319.09h0.9v0.9h-0.9zM141.21 314.6h0.9v0.9h-0.9zM131.03 307.87h0.9v0.9h-0.9zM143.7 314.7h0.9v0.9h-0.9zM134.04 303.8h0.9v0.9h-0.9zM133.95 325.74h0.9v0.9h-0.9zM128.95 311.42h0.9v0.9h-0.9zM139.99 311.51h0.9v0.9h-0.9zM135.5 323.09h0.9v0.9h-0.9zM122.42 308.02h0.9v0.9h-0.9zM134.44 313.16h0.9v0.9h-0.9zM130.28 311.62h0.9v0.9h-0.9zM130.85 314.46h0.9v0.9h-0.9zM126.93 311.01h0.9v0.9h-0.9zM131.53 306.61h0.9v0.9h-0.9zM132.9 300.59h0.9v0.9h-0.9zM134.17 311.87h0.9v0.9h-0.9zM122.39 319.86h0.9v0.9h-0.9zM122.41 323.77h0.9v0.9h-0.9zM125.3 319.12h0.9v0.9h-0.9zM129.61 321.31h0.9v0.9h-0.9zM128.58 318.13h0.9v0.9h-0.9zM127.95 302.32h0.9v0.9h-0.9zM132.55 315.11h0.9v0.9h-0.9zM132.62 321.63h0.9v0.9h-0.9zM125.25 304.74h0.9v0.9h-0.9zM131.68 308.75h0.9v0.9h-0.9zM129.35 312.51h0.9v0.9h-0.9zM124.72 318.47h0.9v0.9h-0.9zM129.25 322.27h0.9v0.9h-0.9zM131.65 318.28h0.9v0.9h-0.9zM128.15 308.94h0.9v0.9h-0.9zM126.61 307.74h0.9v0.9h-0.9zM132.93 313.28h0.9v0.9h-0.9zM123.04 304.14h0.9v0.9h-0.9zM124.47 302.58h0.9v0.9h-0.9zM124.3 304.26h0.9v0.9h-0.9zM134.6 306.21h0.9v0.9h-0.9zM126.22 311.86h0.9v0.9h-0.9zM130.24 314.82h0.9v0.9h-0.9zM134.97 316.03h0.9v0.9h-0.9zM127.8 319.33h0.9v0.9h-0.9zM132.43 308.66h0.9v0.9h-0.9zM139.7 306.08h0.9v0.9h-0.9zM133.09 319.36h0.9v0.9h-0.9zM130.77 314.4h0.9v0.9h-0.9zM130.82 316.15h0.9v0.9h-0.9zM131.48 312.56h0.9v0.9h-0.9zM134.58 302.19h0.9v0.9h-0.9zM131.66 310.88h0.9v0.9h-0.9zM142.69 314.1h0.9v0.9h-0.9zM125.78 316.09h0.9v0.9h-0.9zM127.56 306.06h0.9v0.9h-0.9zM128.23 315.26h0.9v0.9h-0.9zM137.7 318.24h0.9v0.9h-0.9zM131.51 311.64h0.9v0.9h-0.9zM131.32 319.12h0.9v0.9h-0.9zM129.22 318.84h0.9v0.9h-0.9zM124.91 312.45h0.9v0.9h-0.9zM135.02 316.35h0.9v0.9h-0.9zM131.33 309.72h0.9v0.9h-0.9zM124.58 310.32h0.9v0.9h-0.9zM140.2 308.32h0.9v0.9h-0.9zM135.49 312.41h0.9v0.9h-0.9zM122.93 313.11h0.9v0.9h-0.9zM134.86 306.05h0.9v0.9h-0.9zM122.57 310.45h0.9v0.9h-0.9zM134.7 309.25h0.9v0.9h-0.9zM132.75 315.01h0.9v0.9h-0.9zM130.11 314.97h0.9v0.9h-0.9zM138.18 311.47h0.9v0.9h-0.9zM132.12 306.72h0.9v0.9h-0.9zM125.4 311.98h0.9v0.9h-0.9zM135.25 308.86h0.9v0.9h-0.9zM121.11 317.55h0.9v0.9h-0.9zM123.22 313.18h0.9v0.9h-0.9zM133.14 307.36h0.9v0.9h-0.9zM132.18 318.49h0.9v0.9h-0.9zM128.27 316.48h0.9v0.9h-0.9zM130.85 307.45h0.9v0.9h-0.9zM126.1 309.19h0.9v0.9h-0.9zM138.54 318.8h0.9v0.9h-0.9zM131.58 304.01h0.9v0.9h-0.9zM126.9 310.33h0.9v0.9h-0.9zM131.86 305.32h0.9v0.9h-0.9zM127.3 310.03h0.9v0.9h-0.9zM141.82 316.12h0.9v0.9h-0.9zM134.94 312.98h0.9v0.9h-0.9zM121.85 317.53h0.9v0.9h-0.9zM125.72 302.07h0.9v0.9h-0.9zM134.68 310.63h0.9v0.9h-0.9zM130.02 315.31h0.9v0.9h-0.9zM128.54 314.74h0.9v0.9h-0.9zM138.25 310.76h0.9v0.9h-0.9zM127.77 312.61h0.9v0.9h-0.9zM134.15 310.34h0.9v0.9h-0.9zM130.54 308.81h0.9v0.9h-0.9zM129.54 315.46h0.9v0.9h-0.9zM124.81 311.52h0.9v0.9h-0.9zM120.72 308.71h0.9v0.9h-0.9zM130.52 315.39h0.9v0.9h-0.9zM123.46 311.96h0.9v0.9h-0.9zM124.11 314.23h0.9v0.9h-0.9zM131.7 314.92h0.9v0.9h-0.9zM128.68 304.78h0.9v0.9h-0.9zM126.46 305.25h0.9v0.9h-0.9zM125.71 312.2h0.9v0.9h-0.9zM136.88 309.01h0.9v0.9h-0.9zM125.12 313.61h0.9v0.9h-0.9zM120.24 318.02h0.9v0.9h-0.9zM136.24 317.74h0.9v0.9h-0.9zM129.35 316.48h0.9v0.9h-0.9zM127.84 317.72h0.9v0.9h-0.9zM125.88 308.08h0.9v0.9h-0.9zM132.43 310.06h0.9v0.9h-0.9zM134.28 307.85h0.9v0.9h-0.9zM131.72 307.18h0.9v0.9h-0.9zM129.37 324.15h0.9v0.9h-0.9zM123.2 305.84h0.9v0.9h-0.9zM119.87 311.28h0.9v0.9h-0.9zM140.28 310.06h0.9v0.9h-0.9zM135.91 311.51h0.9v0.9h-0.9zM126.01 323.39h0.9v0.9h-0.9zM136.85 302.54h0.9v0.9h-0.9zM123.83 314.74h0.9v0.9h-0.9zM134.14 311.3h0.9v0.9h-0.9zM132 315.42h0.9v0.9h-0.9zM127.8 317.91h0.9v0.9h-0.9zM124.65 316.6h0.9v0.9h-0.9zM135.8 313.61h0.9v0.9h-0.9zM127.83 312.41h0.9v0.9h-0.9zM121.03 301.59h0.9v0.9h-0.9zM134.84 307.55h0.9v0.9h-0.9zM132.26 312.76h0.9v0.9h-0.9zM118.9 307.63h0.9v0.9h-0.9zM128.3 315.05h0.9v0.9h-0.9zM130.46 305.67h0.9v0.9h-0.9zM126.67 313.07h0.9v0.9h-0.9zM121.99 310.12h0.9v0.9h-0.9zM126.56 301h0.9v0.9h-0.9zM140.89 317.26h0.9v0.9h-0.9zM127.08 317.64h0.9v0.9h-0.9zM123.43 320.79h0.9v0.9h-0.9zM127.67 313.27h0.9v0.9h-0.9zM126.37 313.01h0.9v0.9h-0.9zM132.09 312.68h0.9v0.9h-0.9zM124.79 316.6h0.9v0.9h-0.9zM133.53 312.51h0.9v0.9h-0.9zM136.64 308.51h0.9v0.9h-0.9zM138.06 311.64h0.9v0.9h-0.9zM139.56 310.11h0.9v0.9h-0.9zM128.42 313.65h0.9v0.9h-0.9zM136.91 320.31h0.9v0.9h-0.9zM127.14 308.57h0.9v0.9h-0.9zM134.82 319.22h0.9v0.9h-0.9zM134.44 310.73h0.9v0.9h-0.9zM138.03 312.37h0.9v0.9h-0.9zM131.07 315.87h0.9v0.9h-0.9zM131.39 316.38h0.9v0.9h-0.9zM132.77 315.44h0.9v0.9h-0.9zM131.03 318.15h0.9v0.9h-0.9zM130.74 320.59h0.9v0.9h-0.9zM130.33 316.82h0.9v0.9h-0.9zM126.55 314.14h0.9v0.9h-0.9zM132.69 313.26h0.9v0.9h-0.9zM139.73 312.75h0.9v0.9h-0.9zM137.08 314.41h0.9v0.9h-0.9zM136.88 307.63h0.9v0.9h-0.9zM127.72 317.73h0.9v0.9h-0.9zM124.87 314.63h0.9v0.9h-0.9zM133.58 313.56h0.9v0.9h-0.9zM132.76 315.44h0.9v0.9h-0.9zM128.53 314.74h0.9v0.9h-0.9zM126.76 310.06h0.9v0.9h-0.9zM120.03 311.95h0.9v0.9h-0.9zM119.32 312.66h0.9v0.9h-0.9zM131.33 306.61h0.9v0.9h-0.9zM130.45 314.08h0.9v0.9h-0.9zM127.81 307.57h0.9v0.9h-0.9zM129.31 314.72h0.9v0.9h-0.9zM135.83 322.99h0.9v0.9h-0.9zM132.74 309.05h0.9v0.9h-0.9zM132.04 323.85h0.9v0.9h-0.9zM130.73 319.9h0.9v0.9h-0.9zM136.71 310.11h0.9v0.9h-0.9zM139.7 302.96h0.9v0.9h-0.9zM128.76 308.72h0.9v0.9h-0.9zM131.3 312.84h0.9v0.9h-0.9zM137.2 309.3h0.9v0.9h-0.9zM142.14 303.24h0.9v0.9h-0.9zM131.37 327.03h0.9v0.9h-0.9zM129.39 315.92h0.9v0.9h-0.9zM135.63 310.6h0.9v0.9h-0.9zM134.62 301.43h0.9v0.9h-0.9zM126.93 315.54h0.9v0.9h-0.9zM120.01 305.22h0.9v0.9h-0.9zM132.56 318.67h0.9v0.9h-0.9zM137.33 308.94h0.9v0.9h-0.9zM133.21 302.89h0.9v0.9h-0.9zM120.7 315.46h0.9v0.9h-0.9zM127.5 306.97h0.9v0.9h-0.9zM144.06 301.55h0.9v0.9h-0.9zM123.43 318.61h0.9v0.9h-0.9zM130.44 318.66h0.9v0.9h-0.9zM129.54 322.41h0.9v0.9h-0.9zM129.82 311.9h0.9v0.9h-0.9zM132.79 314.41h0.9v0.9h-0.9zM120.56 307.35h0.9v0.9h-0.9zM128.53 314.36h0.9v0.9h-0.9zM122.29 308.62h0.9v0.9h-0.9zM125.32 314.35h0.9v0.9h-0.9zM127.3 315.78h0.9v0.9h-0.9zM132.45 307.52h0.9v0.9h-0.9zM128.13 305.74h0.9v0.9h-0.9zM130.69 316.92h0.9v0.9h-0.9zM123.79 302.87h0.9v0.9h-0.9zM133.26 310.92h0.9v0.9h-0.9zM129.83 315.01h0.9v0.9h-0.9zM132.39 317.55h0.9v0.9h-0.9zM127.12 300.5h0.9v0.9h-0.9zM126.93 310.83h0.9v0.9h-0.9zM127.42 314.65h0.9v0.9h-0.9zM128.43 319.57h0.9v0.9h-0.9zM126.01 312.46h0.9v0.9h-0.9zM127.74 324.05h0.9v0.9h-0.9zM123.98 307.05h0.9v0.9h-0.9zM127.6 316.67h0.9v0.9h-0.9zM130.08 311.54h0.9v0.9h-0.9zM120.76 301.18h0.9v0.9h-0.9zM128.65 311.2h0.9v0.9h-0.9zM141.14 314.53h0.9v0.9h-0.9zM132.7 317.79h0.9v0.9h-0.9zM124.34 305.78h0.9v0.9h-0.9zM127.68 320.59h0.9v0.9h-0.9zM136.26 309.31h0.9v0.9h-0.9zM122.14 317.57h0.9v0.9h-0.9zM136.93 306.51h0.9v0.9h-0.9zM140.18 308.27h0.9v0.9h-0.9zM134.75 311.38h0.9v0.9h-0.9zM127.93 309.16h0.9v0.9h-0.9zM134.4 315.88h0.9v0.9h-0.9zM135.12 310.97h0.9v0.9h-0.9zM124.63 324.23h0.9v0.9h-0.9zM140.87 311.45h0.9v0.9h-0.9zM122.73 320.69h0.9v0.9h-0.9zM130.85 312.81h0.9v0.9h-0.9zM135.41 314.42h0.9v0.9h-0.9zM130.71 323.37h0.9v0.9h-0.9zM123.75 312.9h0.9v0.9h-0.9zM128.92 313.95h0.9v0.9h-0.9zM144.82 310.24h0.9v0.9h-0.9zM135.74 315.93h0.9v0.9h-0.9zM131.89 309.75h0.9v0.9h-0.9zM134.05 313.99h0.9v0.9h-0.9zM139.21 317.05h0.9v0.9h-0.9zM139.62 315.18h0.9v0.9h-0.9zM131.1 309.18h0.9v0.9h-0.9zM130.62 310.49h0.9v0.9h-0.9zM133.67 319.94h0.9v0.9h-0.9zM133.32 317.67h0.9v0.9h-0.9zM131.68 314.45h0.9v0.9h-0.9zM121.91 313.17h0.9v0.9h-0.9zM130.33 312.1h0.9v0.9h-0.9zM128.46 314.18h0.9v0.9h-0.9zM126.3 311.43h0.9v0.9h-0.9zM121.63 325.17h0.9v0.9h-0.9zM124.3 305.9h0.9v0.9h-0.9zM126.57 310.23h0.9v0.9h-0.9zM140.52 318.09h0.9v0.9h-0.9zM127.57 315.56h0.9v0.9h-0.9zM122.88 303.62h0.9v0.9h-0.9zM132.15 315.66h0.9v0.9h-0.9zM125.6 312.48h0.9v0.9h-0.9zM136.78 313.43h0.9v0.9h-0.9zM131.16 315.67h0.9v0.9h-0.9zM121.84 313.83h0.9v0.9h-0.9zM125.97 302.16h0.9v0.9h-0.9zM135.72 311.47h0.9v0.9h-0.9zM136.39 323.5h0.9v0.9h-0.9zM119.37 305.51h0.9v0.9h-0.9zM136.93 320.23h0.9v0.9h-0.9zM132.55 314.48h0.9v0.9h-0.9zM134.46 316.1h0.9v0.9h-0.9zM121.8 316.59h0.9v0.9h-0.9zM136.37 310.28h0.9v0.9h-0.9zM124.11 309.82h0.9v0.9h-0.9zM126.22 315.4h0.9v0.9h-0.9zM134.99 312.64h0.9v0.9h-0.9zM128.03 302.79h0.9v0.9h-0.9zM127.26 307.04h0.9v0.9h-0.9zM126.43 314.39h0.9v0.9h-0.9zM124.36 309.57h0.9v0.9h-0.9zM122.61 311.1h0.9v0.9h-0.9zM128.16 318h0.9v0.9h-0.9zM134.15 309.63h0.9v0.9h-0.9zM125.57 313.58h0.9v0.9h-0.9zM133.36 311.63h0.9v0.9h-0.9zM128.99 312.6h0.9v0.9h-0.9zM123 313.99h0.9v0.9h-0.9zM133.71 312.78h0.9v0.9h-0.9zM122.63 312.51h0.9v0.9h-0.9zM129.29 314.23h0.9v0.9h-0.9zM127.3 317.04h0.9v0.9h-0.9zM136.99 317.01h0.9v0.9h-0.9zM131.5 319.16h0.9v0.9h-0.9zM129.72 311.6h0.9v0.9h-0.9zM120.75 312.61h0.9v0.9h-0.9zM137.83 307.3h0.9v0.9h-0.9zM135.02 305.59h0.9v0.9h-0.9zM131.91 322.45h0.9v0.9h-0.9zM130.28 306.15h0.9v0.9h-0.9zM131.83 311.71h0.9v0.9h-0.9zM135.12 309.67h0.9v0.9h-0.9zM118.8 309.91h0.9v0.9h-0.9zM133.78 318.09h0.9v0.9h-0.9zM131.76 312.64h0.9v0.9h-0.9zM134.4 311.44h0.9v0.9h-0.9zM127.05 313.74h0.9v0.9h-0.9zM137.04 309.79h0.9v0.9h-0.9zM133.18 309.04h0.9v0.9h-0.9zM125.23 313.45h0.9v0.9h-0.9zM121.39 307.9h0.9v0.9h-0.9zM122.29 309.26h0.9v0.9h-0.9zM124.09 325.12h0.9v0.9h-0.9zM133.89 312.91h0.9v0.9h-0.9zM132.81 309.12h0.9v0.9h-0.9zM136.73 310.38h0.9v0.9h-0.9zM121.53 309.07h0.9v0.9h-0.9zM120.11 304.88h0.9v0.9h-0.9zM134.56 309.65h0.9v0.9h-0.9zM134.41 309.5h0.9v0.9h-0.9zM128.46 309.55h0.9v0.9h-0.9zM126.44 308.96h0.9v0.9h-0.9zM139.61 312.22h0.9v0.9h-0.9zM138.06 318.55h0.9v0.9h-0.9zM129.28 311.68h0.9v0.9h-0.9zM126.87 313.18h0.9v0.9h-0.9zM132.98 312.5h0.9v0.9h-0.9zM124.64 307.32h0.9v0.9h-0.9zM140.71 321.59h0.9v0.9h-0.9zM121.94 309.08h0.9v0.9h-0.9zM129.69 315.67h0.9v0.9h-0.9zM129.21 313.8h0.9v0.9h-0.9zM132.29 318.64h0.9v0.9h-0.9zM121.51 318.4h0.9v0.9h-0.9zM132.78 315.41h0.9v0.9h-0.9zM120.2 311.28h0.9v0.9h-0.9zM128.26 315.94h0.9v0.9h-0.9zM134.37 316.2h0.9v0.9h-0.9zM121.58 319.26h0.9v0.9h-0.9zM130.37 317.51h0.9v0.9h-0.9zM129.87 308.76h0.9v0.9h-0.9zM134.87 310.05h0.9v0.9h-0.9zM128.5 318.47h0.9v0.9h-0.9zM132.82 321.87h0.9v0.9h-0.9zM137.7 306.77h0.9v0.9h-0.9zM119.96 318.72h0.9v0.9h-0.9zM133.82 311.14h0.9v0.9h-0.9zM128.04 309.55h0.9v0.9h-0.9zM141.54 311.65h0.9v0.9h-0.9zM120.99 317.36h0.9v0.9h-0.9zM129.37 314.42h0.9v0.9h-0.9zM127.44 312.31h0.9v0.9h-0.9zM125.48 310.49h0.9v0.9h-0.9zM131.96 319.33h0.9v0.9h-0.9zM133.45 317.93h0.9v0.9h-0.9zM124.02 314.23h0.9v0.9h-0.9zM132.49 317.48h0.9v0.9h-0.9zM125.88 311.54h0.9v0.9h-0.9zM126.59 318.58h0.9v0.9h-0.9zM136.94 310.18h0.9v0.9h-0.9zM129.02 313.7h0.9v0.9h-0.9zM124.07 311.93h0.9v0.9h-0.9zM135.5 316.65h0.9v0.9h-0.9zM125.49 309.09h0.9v0.9h-0.9zM129.14 304.76h0.9v0.9h-0.9zM131.91 313.17h0.9v0.9h-0.9zM121.25 311.3h0.9v0.9h-0.9zM125.61 311.11h0.9v0.9h-0.9zM124.22 319.75h0.9v0.9h-0.9zM123.64 316.57h0.9v0.9h-0.9zM131.24 320.17h0.9v0.9h-0.9zM129.51 312.55h0.9v0.9h-0.9zM130.33 302.59h0.9v0.9h-0.9zM145.47 311.42h0.9v0.9h-0.9zM127.85 306.61h0.9v0.9h-0.9zM129 321.04h0.9v0.9h-0.9zM124.99 314.87h0.9v0.9h-0.9zM136.58 317.53h0.9v0.9h-0.9zM127.27 303.37h0.9v0.9h-0.9zM132.53 315.55h0.9v0.9h-0.9zM127.77 310.3h0.9v0.9h-0.9zM141.25 304.25h0.9v0.9h-0.9zM126.56 309.36h0.9v0.9h-0.9zM119.76 308.92h0.9v0.9h-0.9zM124.71 319.09h0.9v0.9h-0.9zM118.57 305.34h0.9v0.9h-0.9zM131.58 304.43h0.9v0.9h-0.9zM122.06 307.45h0.9v0.9h-0.9zM128.85 314.93h0.9v0.9h-0.9zM125.69 311.11h0.9v0.9h-0.9zM134.51 311.76h0.9v0.9h-0.9zM134.64 309.48h0.9v0.9h-0.9zM133.05 319.24h0.9v0.9h-0.9zM120.92 328.24h0.9v0.9h-0.9zM127.78 310.79h0.9v0.9h-0.9zM128.83 314.99h0.9v0.9h-0.9zM122.04 312.77h0.9v0.9h-0.9zM126.09 320.03h0.9v0.9h-0.9zM118.68 315.96h0.9v0.9h-0.9zM127.83 308.66h0.9v0.9h-0.9zM130.77 311.32h0.9v0.9h-0.9zM130.14 313.81h0.9v0.9h-0.9zM137.68 310.46h0.9v0.9h-0.9zM141.71 318.92h0.9v0.9h-0.9zM140.01 313.61h0.9v0.9h-0.9zM131.72 307.28h0.9v0.9h-0.9zM138.55 306.52h0.9v0.9h-0.9zM124.72 312.57h0.9v0.9h-0.9zM131.4 314.34h0.9v0.9h-0.9zM122.34 310.77h0.9v0.9h-0.9zM133.05 318.75h0.9v0.9h-0.9zM134.84 314.73h0.9v0.9h-0.9zM128.19 309.75h0.9v0.9h-0.9zM126.55 312.08h0.9v0.9h-0.9zM133.3 309.94h0.9v0.9h-0.9zM143.22 307.36h0.9v0.9h-0.9zM135.16 311.52h0.9v0.9h-0.9zM128.97 310.6h0.9v0.9h-0.9zM139.83 311.02h0.9v0.9h-0.9zM133.45 313.19h0.9v0.9h-0.9zM134.74 315.63h0.9v0.9h-0.9zM140.59 308.77h0.9v0.9h-0.9zM124.55 321.39h0.9v0.9h-0.9zM138.14 312.96h0.9v0.9h-0.9zM128.02 313.9h0.9v0.9h-0.9zM138.32 308.59h0.9v0.9h-0.9zM139.29 312.29h0.9v0.9h-0.9zM127.54 310.52h0.9v0.9h-0.9zM121.35 309.67h0.9v0.9h-0.9zM124.07 313.8h0.9v0.9h-0.9zM134.55 312.78h0.9v0.9h-0.9zM131.11 314.72h0.9v0.9h-0.9zM140.29 315.58h0.9v0.9h-0.9zM140.05 312.25h0.9v0.9h-0.9zM132.16 309.2h0.9v0.9h-0.9zM133.73 308.14h0.9v0.9h-0.9zM132.93 309.29h0.9v0.9h-0.9zM127.59 318.91h0.9v0.9h-0.9zM130.83 316.7h0.9v0.9h-0.9zM128.33 302.9h0.9v0.9h-0.9zM139.42 311.65h0.9v0.9h-0.9zM125.68 317.49h0.9v0.9h-0.9zM122.53 308.72h0.9v0.9h-0.9zM137.3 308.97h0.9v0.9h-0.9zM137.19 311h0.9v0.9h-0.9zM128.51 312.94h0.9v0.9h-0.9zM126.65 318.14h0.9v0.9h-0.9zM136.98 312.93h0.9v0.9h-0.9zM133.83 315.39h0.9v0.9h-0.9zM140.78 304.36h0.9v0.9h-0.9zM136.51 317.32h0.9v0.9h-0.9zM127.85 312.66h0.9v0.9h-0.9zM127.64 319h0.9v0.9h-0.9zM122.47 315.73h0.9v0.9h-0.9zM138.2 315.56h0.9v0.9h-0.9zM126.78 310.2h0.9v0.9h-0.9zM136.98 307.69h0.9v0.9h-0.9zM119.27 311.31h0.9v0.9h-0.9zM120.24 314.96h0.9v0.9h-0.9zM124.23 317.52h0.9v0.9h-0.9zM129.12 305.24h0.9v0.9h-0.9zM124.89 309.24h0.9v0.9h-0.9zM124.42 318.99h0.9v0.9h-0.9zM123.39 314.48h0.9v0.9h-0.9zM126.1 315.64h0.9v0.9h-0.9zM120.63 304.48h0.9v0.9h-0.9zM133.19 319.99h0.9v0.9h-0.9zM120.92 310.96h0.9v0.9h-0.9zM126.6 307.74h0.9v0.9h-0.9zM136.16 312.84h0.9v0.9h-0.9zM120.92 311.47h0.9v0.9h-0.9zM138.53 308.92h0.9v0.9h-0.9zM126.55 308.31h0.9v0.9h-0.9zM130.94 309.71h0.9v0.9h-0.9zM135.66 308.29h0.9v0.9h-0.9zM120.45 314.93h0.9v0.9h-0.9zM131.71 313.87h0.9v0.9h-0.9zM126.15 310.29h0.9v0.9h-0.9zM124.68 311.67h0.9v0.9h-0.9zM126.93 315.45h0.9v0.9h-0.9zM129.95 315.46h0.9v0.9h-0.9zM140.48 311.18h0.9v0.9h-0.9zM128.02 314.54h0.9v0.9h-0.9zM143.49 310.73h0.9v0.9h-0.9zM140.84 318.73h0.9v0.9h-0.9zM123.53 314.65h0.9v0.9h-0.9zM138.51 312.88h0.9v0.9h-0.9zM130.95 323.82h0.9v0.9h-0.9zM132.21 323.74h0.9v0.9h-0.9zM124.09 321.13h0.9v0.9h-0.9zM124.53 310.14h0.9v0.9h-0.9zM129.62 316.51h0.9v0.9h-0.9zM134.37 315.3h0.9v0.9h-0.9zM125.05 321.84h0.9v0.9h-0.9zM137.67 312.78h0.9v0.9h-0.9zM126.19 312.35h0.9v0.9h-0.9zM128.46 308.99h0.9v0.9h-0.9zM129.83 309.15h0.9v0.9h-0.9zM134.06 309.21h0.9v0.9h-0.9zM133.08 314.25h0.9v0.9h-0.9zM130.98 315.31h0.9v0.9h-0.9zM123.24 325.95h0.9v0.9h-0.9zM125.41 316.4h0.9v0.9h-0.9zM130.05 310.34h0.9v0.9h-0.9zM141.19 318.31h0.9v0.9h-0.9zM128.12 315.52h0.9v0.9h-0.9zM134.34 320.8h0.9v0.9h-0.9zM136.49 311.72h0.9v0.9h-0.9zM128.27 306.56h0.9v0.9h-0.9zM131.62 317.08h0.9v0.9h-0.9zM127.38 316.04h0.9v0.9h-0.9zM130.77 310.19h0.9v0.9h-0.9zM122 318.37h0.9v0.9h-0.9zM122.91 307.22h0.9v0.9h-0.9zM131.55 315.97h0.9v0.9h-0.9zM141.93 313.45h0.9v0.9h-0.9zM130.8 314.59h0.9v0.9h-0.9zM127.61 311.09h0.9v0.9h-0.9zM136.77 303.57h0.9v0.9h-0.9zM129.18 315.5h0.9v0.9h-0.9zM119.22 311.75h0.9v0.9h-0.9zM139.86 314.52h0.9v0.9h-0.9zM134.52 316.26h0.9v0.9h-0.9zM131.36 314.45h0.9v0.9h-0.9zM124.65 311.49h0.9v0.9h-0.9zM141.93 306.19h0.9v0.9h-0.9zM128.84 305.99h0.9v0.9h-0.9zM126.47 308.56h0.9v0.9h-0.9zM121.97 313.84h0.9v0.9h-0.9zM123.8 315.34h0.9v0.9h-0.9zM128.86 301.67h0.9v0.9h-0.9zM129.13 314.53h0.9v0.9h-0.9zM131.31 318.88h0.9v0.9h-0.9zM130.97 303.59h0.9v0.9h-0.9zM139.72 307.64h0.9v0.9h-0.9zM129.34 314.27h0.9v0.9h-0.9zM124.22 313.05h0.9v0.9h-0.9zM139.66 303.78h0.9v0.9h-0.9zM119.11 310.25h0.9v0.9h-0.9zM128.86 305.91h0.9v0.9h-0.9zM132.49 305.66h0.9v0.9h-0.9zM133.68 312.24h0.9v0.9h-0.9zM131 305.6h0.9v0.9h-0.9zM128.53 315.08h0.9v0.9h-0.9zM118.56 307.09h0.9v0.9h-0.9zM136.25 323.01h0.9v0.9h-0.9zM134.25 312.2h0.9v0.9h-0.9zM122.91 310.45h0.9v0.9h-0.9zM128.32 314.88h0.9v0.9h-0.9zM128.3 325.53h0.9v0.9h-0.9zM138.57 301.08h0.9v0.9h-0.9zM122.36 312.56h0.9v0.9h-0.9zM136.35 314.69h0.9v0.9h-0.9zM138.74 315.66h0.9v0.9h-0.9zM132.97 320.58h0.9v0.9h-0.9zM127.07 309.71h0.9v0.9h-0.9zM123.38 313.87h0.9v0.9h-0.9zM132.83 317.48h0.9v0.9h-0.9zM139.4 315.84h0.9v0.9h-0.9zM137.99 311.26h0.9v0.9h-0.9zM123.7 316.4h0.9v0.9h-0.9zM136.57 319.59h0.9v0.9h-0.9zM128.9 310.1h0.9v0.9h-0.9zM127.61 314.45h0.9v0.9h-0.9zM129.66 311.59h0.9v0.9h-0.9zM131.63 311.04h0.9v0.9h-0.9zM132.17 309.41h0.9v0.9h-0.9zM119.92 310.93h0.9v0.9h-0.9zM142.29 308.3h0.9v0.9h-0.9zM135.94 319.63h0.9v0.9h-0.9zM126.44 313.92h0.9v0.9h-0.9zM140 313.53h0.9v0.9h-0.9zM125.14 313.14h0.9v0.9h-0.9zM131.85 310.38h0.9v0.9h-0.9zM127.96 308.25h0.9v0.9h-0.9zM133.72 313.61h0.9v0.9h-0.9zM132.24 309.9h0.9v0.9h-0.9zM133.2 310.98h0.9v0.9h-0.9zM131.92 311.71h0.9v0.9h-0.9zM125.66 306.78h0.9v0.9h-0.9zM119.29 308.25h0.9v0.9h-0.9zM128.65 306.4h0.9v0.9h-0.9zM132.72 323.56h0.9v0.9h-0.9zM138.05 306.41h0.9v0.9h-0.9zM129.31 309.22h0.9v0.9h-0.9zM134.96 304.87h0.9v0.9h-0.9zM132.01 313.7h0.9v0.9h-0.9zM133.67 314.8h0.9v0.9h-0.9zM130.99 303.14h0.9v0.9h-0.9zM127.88 307.54h0.9v0.9h-0.9zM133.45 311.3h0.9v0.9h-0.9zM130.98 318.37h0.9v0.9h-0.9zM129.29 321.46h0.9v0.9h-0.9zM135.43 304.68h0.9v0.9h-0.9zM126.19 318.99h0.9v0.9h-0.9zM126.74 318.87h0.9v0.9h-0.9zM126.33 311.89h0.9v0.9h-0.9zM136.69 304.18h0.9v0.9h-0.9zM130.49 310.13h0.9v0.9h-0.9zM131.1 321.6h0.9v0.9h-0.9zM133.19 305.37h0.9v0.9h-0.9zM136.25 310.13h0.9v0.9h-0.9zM131.07 318.67h0.9v0.9h-0.9zM127.98 317.61h0.9v0.9h-0.9zM131.16 307.74h0.9v0.9h-0.9zM127.98 305.32h0.9v0.9h-0.9zM137.7 313.39h0.9v0.9h-0.9zM136.3 306.61h0.9v0.9h-0.9zM135.51 306.18h0.9v0.9h-0.9zM131.83 312.45h0.9v0.9h-0.9zM126.15 314.15h0.9v0.9h-0.9zM130.22 307.91h0.9v0.9h-0.9zM125.16 305.59h0.9v0.9h-0.9zM138.92 313.32h0.9v0.9h-0.9zM127.63 316.19h0.9v0.9h-0.9zM124.39 306.34h0.9v0.9h-0.9zM132.32 320.94h0.9v0.9h-0.9zM131.95 313.34h0.9v0.9h-0.9zM141.35 304.3h0.9v0.9h-0.9zM129.52 305.38h0.9v0.9h-0.9zM122.09 311.24h0.9v0.9h-0.9zM125.99 313.95h0.9v0.9h-0.9zM123.37 311.14h0.9v0.9h-0.9zM135.33 300.92h0.9v0.9h-0.9zM128.04 310.94h0.9v0.9h-0.9zM126.67 311.88h0.9v0.9h-0.9zM126.61 307.03h0.9v0.9h-0.9zM138.22 323.16h0.9v0.9h-0.9zM135.2 307.9h0.9v0.9h-0.9zM139.24 315.17h0.9v0.9h-0.9zM124.68 315.73h0.9v0.9h-0.9zM126.24 315.55h0.9v0.9h-0.9zM135.99 318.66h0.9v0.9h-0.9zM123.14 311.83h0.9v0.9h-0.9zM130.02 306h0.9v0.9h-0.9zM132.7 316.19h0.9v0.9h-0.9zM121.02 309.57h0.9v0.9h-0.9zM122.81 305.73h0.9v0.9h-0.9zM123.06 319.82h0.9v0.9h-0.9zM125.68 310.4h0.9v0.9h-0.9zM136.43 317.97h0.9v0.9h-0.9zM139.15 301.44h0.9v0.9h-0.9zM134.91 303.15h0.9v0.9h-0.9zM125.88 310.29h0.9v0.9h-0.9zM126.29 322.98h0.9v0.9h-0.9zM128.91 318.76h0.9v0.9h-0.9zM128.83 312.18h0.9v0.9h-0.9zM133.32 314.86h0.9v0.9h-0.9zM133.25 303.25h0.9v0.9h-0.9zM133.3 314.21h0.9v0.9h-0.9zM133.9 312.22h0.9v0.9h-0.9zM132.66 305.55h0.9v0.9h-0.9zM137.37 306.03h0.9v0.9h-0.9zM139.12 317.91h0.9v0.9h-0.9zM129.59 310.93h0.9v0.9h-0.9zM135.05 310.88h0.9v0.9h-0.9zM122.27 313.99h0.9v0.9h-0.9zM122.06 310.07h0.9v0.9h-0.9zM141.67 316.82h0.9v0.9h-0.9zM127.07 312.13h0.9v0.9h-0.9zM125.79 312.44h0.9v0.9h-0.9zM120.58 316.15h0.9v0.9h-0.9zM130.09 309.24h0.9v0.9h-0.9zM126 326.56h0.9v0.9h-0.9zM127.12 309.95h0.9v0.9h-0.9zM126.21 309.86h0.9v0.9h-0.9zM138.51 316.12h0.9v0.9h-0.9zM132.72 314.46h0.9v0.9h-0.9zM139.82 316.33h0.9v0.9h-0.9zM131.41 313.99h0.9v0.9h-0.9zM131.3 312.62h0.9v0.9h-0.9zM128.3 300.59h0.9v0.9h-0.9zM133.7 312.76h0.9v0.9h-0.9zM136.36 314.15h0.9v0.9h-0.9zM128.14 315.73h0.9v0.9h-0.9zM131.22 310.13h0.9v0.9h-0.9zM127.56 310.24h0.9v0.9h-0.9zM128.06 310.12h0.9v0.9h-0.9zM136.39 328.11h0.9v0.9h-0.9zM129.26 318.49h0.9v0.9h-0.9zM126.92 311.67h0.9v0.9h-0.9zM125.18 305.22h0.9v0.9h-0.9zM124.47 309.76h0.9v0.9h-0.9zM131 310.7h0.9v0.9h-0.9zM122.2 310.52h0.9v0.9h-0.9zM139.83 307.79h0.9v0.9h-0.9zM130.42 317.89h0.9v0.9h-0.9zM124.77 309.45h0.9v0.9h-0.9zM126.57 313.35h0.9v0.9h-0.9zM130.65 313.29h0.9v0.9h-0.9zM133.02 310.9h0.9v0.9h-0.9zM130.98 305.19h0.9v0.9h-0.9zM127.9 320.54h0.9v0.9h-0.9zM131.55 308.99h0.9v0.9h-0.9zM130.9 318.11h0.9v0.9h-0.9zM118.87 305.81h0.9v0.9h-0.9zM125.69 310.15h0.9v0.9h-0.9zM129.43 309.4h0.9v0.9h-0.9zM130.7 312.97h0.9v0.9h-0.9zM122.42 309.16h0.9v0.9h-0.9zM121.95 314.04h0.9v0.9h-0.9zM131.7 316h0.9v0.9h-0.9zM124.31 309.65h0.9v0.9h-0.9zM119.5 314.35h0.9v0.9h-0.9zM137.01 314.88h0.9v0.9h-0.9zM134.08 313.71h0.9v0.9h-0.9zM132.41 317.52h0.9v0.9h-0.9zM138.2 323.29h0.9v0.9h-0.9zM128.27 316.95h0.9v0.9h-0.9zM135.63 314.78h0.9v0.9h-0.9zM131.74 305.74h0.9v0.9h-0.9zM137.07 307.78h0.9v0.9h-0.9zM125.76 307.94h0.9v0.9h-0.9zM133.63 307.33h0.9v0.9h-0.9zM132.97 315.51h0.9v0.9h-0.9zM130.66 310.68h0.9v0.9h-0.9zM133.87 319.5h0.9v0.9h-0.9zM127 306.89h0.9v0.9h-0.9zM126.1 307.81h0.9v0.9h-0.9zM128.46 311.67h0.9v0.9h-0.9zM124.72 310.22h0.9v0.9h-0.9zM123.41 313.72h0.9v0.9h-0.9zM135.51 302.84h0.9v0.9h-0.9zM131.44 320.58h0.9v0.9h-0.9zM128.17 317.4h0.9v0.9h-0.9zM132.02 307.57h0.9v0.9h-0.9zM136.44 309.25h0.9v0.9h-0.9zM132.3 310.36h0.9v0.9h-0.9zM128.59 313.32h0.9v0.9h-0.9zM138.57 303.52h0.9v0.9h-0.9zM122.76 313.04h0.9v0.9h-0.9zM136.32 311.5h0.9v0.9h-0.9zM128.78 315.31h0.9v0.9h-0.9zM140.22 307.67h0.9v0.9h-0.9zM119.64 311h0.9v0.9h-0.9zM134.96 305.48h0.9v0.9h-0.9zM137.31 317.51h0.9v0.9h-0.9zM135.11 307.99h0.9v0.9h-0.9zM121.61 315.99h0.9v0.9h-0.9zM131.69 316.16h0.9v0.9h-0.9zM137.26 317.83h0.9v0.9h-0.9zM128.2 312.47h0.9v0.9h-0.9zM132.93 316.48h0.9v0.9h-0.9zM128.77 309.76h0.9v0.9h-0.9zM123.67 317.97h0.9v0.9h-0.9zM132.22 309.45h0.9v0.9h-0.9zM121.74 309.77h0.9v0.9h-0.9zM121.71 310.1h0.9v0.9h-0.9zM126.45 315.22h0.9v0.9h-0.9zM123.43 302.8h0.9v0.9h-0.9zM126.07 305.16h0.9v0.9h-0.9zM134.8 311.4h0.9v0.9h-0.9zM119.15 307.83h0.9v0.9h-0.9zM129.82 312.28h0.9v0.9h-0.9zM131.91 317.76h0.9v0.9h-0.9zM137.11 311.84h0.9v0.9h-0.9zM121.56 310.5h0.9v0.9h-0.9zM134.21 307.59h0.9v0.9h-0.9zM138.16 307.38h0.9v0.9h-0.9zM122.69 316.92h0.9v0.9h-0.9zM129.34 314.2h0.9v0.9h-0.9zM128.02 312.66h0.9v0.9h-0.9zM126.21 322.59h0.9v0.9h-0.9zM134.24 311.83h0.9v0.9h-0.9zM133.06 316.93h0.9v0.9h-0.9zM126.58 313.43h0.9v0.9h-0.9zM131.33 309.48h0.9v0.9h-0.9zM124.98 311.43h0.9v0.9h-0.9zM128.05 310.32h0.9v0.9h-0.9zM134.24 312.88h0.9v0.9h-0.9zM141.11 317.08h0.9v0.9h-0.9zM127.69 308.9h0.9v0.9h-0.9zM133.24 310.51h0.9v0.9h-0.9zM119.51 313.14h0.9v0.9h-0.9z" fill="#000" fill-opacity="0.45"/>
<path d="M124.81 308.12h0.9v0.9h-0.9zM128.44 309.75h0.9v0.9h-0.9zM134.07 306.13h0.9v0.9h-0.9zM125.61 310.19h0.9v0.9h-0.9zM124.24 307.01h0.9v0.9h-0.9zM132.98 303.38h0.9v0.9h-0.9zM127.38 302.21h0.9v0.9h-0.9zM127.35 301.57h0.9v0.9h-0.9zM121.34 313.39h0.9v0.9h-0.9zM132.14 309.49h0.9v0.9h-0.9zM126.97 304.72h0.9v0.9h-0.9zM124.58 303.89h0.9v0.9h-0.9zM125.62 308.66h0.9v0.9h-0.9zM126.49 312.05h0.9v0.9h-0.9zM121.34 304.13h0.9v0.9h-0.9zM124.53 307.3h0.9v0.9h-0.9zM125.83 314.28h0.9v0.9h-0.9zM126.1 304.83h0.9v0.9h-0.9zM124.78 305.61h0.9v0.9h-0.9zM125.04 311.23h0.9v0.9h-0.9zM121.49 311.71h0.9v0.9h-0.9zM133.12 314.87h0.9v0.9h-0.9zM132.48 309.34h0.9v0.9h-0.9zM120.61 316.74h0.9v0.9h-0.9zM125.79 309.89h0.9v0.9h-0.9zM124.58 305.37h0.9v0.9h-0.9zM128.46 303.61h0.9v0.9h-0.9zM120.52 311.13h0.9v0.9h-0.9zM124.51 305.76h0.9v0.9h-0.9zM127.98 314.48h0.9v0.9h-0.9zM124.87 308.47h0.9v0.9h-0.9zM128.23 312.61h0.9v0.9h-0.9zM130.12 311.61h0.9v0.9h-0.9zM123.35 311.05h0.9v0.9h-0.9zM126.03 302.45h0.9v0.9h-0.9zM130.92 311.2h0.9v0.9h-0.9zM131.46 308.75h0.9v0.9h-0.9zM128.9 308.72h0.9v0.9h-0.9zM126.65 312.5h0.9v0.9h-0.9zM126.23 311.35h0.9v0.9h-0.9zM125.86 313.71h0.9v0.9h-0.9zM128.6 302.63h0.9v0.9h-0.9zM132.61 310.69h0.9v0.9h-0.9zM123.97 306.6h0.9v0.9h-0.9zM133.92 309.34h0.9v0.9h-0.9zM128.03 311.29h0.9v0.9h-0.9zM123.62 315.73h0.9v0.9h-0.9zM134.37 306h0.9v0.9h-0.9zM130.52 302.73h0.9v0.9h-0.9zM124.66 309.24h0.9v0.9h-0.9zM126.21 311.19h0.9v0.9h-0.9zM127.61 310.43h0.9v0.9h-0.9zM125.46 310.17h0.9v0.9h-0.9zM123.79 316.55h0.9v0.9h-0.9zM126.25 313.76h0.9v0.9h-0.9zM126.42 308.43h0.9v0.9h-0.9zM125.28 304.05h0.9v0.9h-0.9zM134.26 310.59h0.9v0.9h-0.9zM126.52 307.22h0.9v0.9h-0.9zM131.09 307.74h0.9v0.9h-0.9zM124.17 306.93h0.9v0.9h-0.9zM132.14 310.19h0.9v0.9h-0.9zM125.42 306.54h0.9v0.9h-0.9zM131.11 310.11h0.9v0.9h-0.9zM124.69 312.44h0.9v0.9h-0.9zM129.49 305.19h0.9v0.9h-0.9zM130.57 313.18h0.9v0.9h-0.9zM125.05 303.91h0.9v0.9h-0.9zM130.35 307.69h0.9v0.9h-0.9zM125.2 307.9h0.9v0.9h-0.9zM124.94 312.21h0.9v0.9h-0.9zM121.67 311.05h0.9v0.9h-0.9zM130.61 313.05h0.9v0.9h-0.9zM128.87 310.02h0.9v0.9h-0.9zM125.24 308.55h0.9v0.9h-0.9zM122.54 315.41h0.9v0.9h-0.9zM125.55 305.14h0.9v0.9h-0.9zM129.32 314.78h0.9v0.9h-0.9zM127.12 307.79h0.9v0.9h-0.9zM121.61 311.47h0.9v0.9h-0.9zM125.06 306.48h0.9v0.9h-0.9zM128.4 304.07h0.9v0.9h-0.9zM123.58 303.55h0.9v0.9h-0.9zM125.06 312.05h0.9v0.9h-0.9zM120.88 314.2h0.9v0.9h-0.9zM123.34 307.17h0.9v0.9h-0.9zM129.95 306.23h0.9v0.9h-0.9zM131.77 308.23h0.9v0.9h-0.9zM125.65 305.34h0.9v0.9h-0.9zM130.57 308.76h0.9v0.9h-0.9zM124.12 305.39h0.9v0.9h-0.9zM123.53 308.64h0.9v0.9h-0.9zM123.2 312.04h0.9v0.9h-0.9zM125.89 306.65h0.9v0.9h-0.9zM127.85 314.44h0.9v0.9h-0.9zM130.29 309.53h0.9v0.9h-0.9zM129.28 303.15h0.9v0.9h-0.9zM123.1 312.85h0.9v0.9h-0.9zM125.68 309.24h0.9v0.9h-0.9zM128.51 310.41h0.9v0.9h-0.9zM127.81 307.12h0.9v0.9h-0.9zM124.87 313.98h0.9v0.9h-0.9zM124.11 303.53h0.9v0.9h-0.9zM124.67 312.41h0.9v0.9h-0.9zM133.09 309.58h0.9v0.9h-0.9zM123.62 311.32h0.9v0.9h-0.9zM127.24 313.5h0.9v0.9h-0.9zM128.09 311.87h0.9v0.9h-0.9zM128.05 310.6h0.9v0.9h-0.9zM122.49 308.39h0.9v0.9h-0.9zM132.33 314.06h0.9v0.9h-0.9zM129.84 310.51h0.9v0.9h-0.9zM125.63 310.33h0.9v0.9h-0.9zM124.78 313.14h0.9v0.9h-0.9zM124.84 306.13h0.9v0.9h-0.9zM119.76 314.91h0.9v0.9h-0.9zM123.12 305.75h0.9v0.9h-0.9zM127.65 315.82h0.9v0.9h-0.9zM128.68 307.75h0.9v0.9h-0.9zM128.29 305.88h0.9v0.9h-0.9zM125.1 309.12h0.9v0.9h-0.9zM126.14 311.96h0.9v0.9h-0.9zM128.19 316.15h0.9v0.9h-0.9zM129.34 307.94h0.9v0.9h-0.9zM127.09 305.79h0.9v0.9h-0.9zM123.7 307.72h0.9v0.9h-0.9zM130.05 306.4h0.9v0.9h-0.9zM120 305.18h0.9v0.9h-0.9zM121.41 308.31h0.9v0.9h-0.9zM124.92 304.59h0.9v0.9h-0.9zM123.01 307.44h0.9v0.9h-0.9zM127.63 311.33h0.9v0.9h-0.9zM131.26 308.04h0.9v0.9h-0.9zM128.56 309.3h0.9v0.9h-0.9zM121.85 306.61h0.9v0.9h-0.9zM134.63 308.41h0.9v0.9h-0.9zM132.53 312.14h0.9v0.9h-0.9zM132.58 308.3h0.9v0.9h-0.9zM129.75 307.87h0.9v0.9h-0.9zM121.81 304.59h0.9v0.9h-0.9zM127.83 302.92h0.9v0.9h-0.9zM127.55 305.72h0.9v0.9h-0.9zM127.51 303.82h0.9v0.9h-0.9zM129.43 308.14h0.9v0.9h-0.9zM120.2 303.57h0.9v0.9h-0.9zM126.39 302.83h0.9v0.9h-0.9zM127.42 310.84h0.9v0.9h-0.9zM123.59 314.29h0.9v0.9h-0.9zM131.75 310.2h0.9v0.9h-0.9zM127.91 310.8h0.9v0.9h-0.9zM125.13 313.97h0.9v0.9h-0.9zM126.23 310.68h0.9v0.9h-0.9zM129.34 304.84h0.9v0.9h-0.9zM131.54 305.91h0.9v0.9h-0.9zM128.59 311.77h0.9v0.9h-0.9zM126.84 313.29h0.9v0.9h-0.9zM124.24 316.76h0.9v0.9h-0.9zM128.06 307.42h0.9v0.9h-0.9zM136.24 308.99h0.9v0.9h-0.9zM119.88 314.37h0.9v0.9h-0.9zM132.14 306.83h0.9v0.9h-0.9zM122.33 313.27h0.9v0.9h-0.9zM126.38 305.38h0.9v0.9h-0.9zM124.29 309.27h0.9v0.9h-0.9zM129.96 314.93h0.9v0.9h-0.9zM123.76 314.81h0.9v0.9h-0.9zM120.31 311.71h0.9v0.9h-0.9zM125.62 310.66h0.9v0.9h-0.9zM124.47 306.32h0.9v0.9h-0.9zM127.26 313.28h0.9v0.9h-0.9zM124.6 304.96h0.9v0.9h-0.9zM120.96 310.97h0.9v0.9h-0.9zM128.31 311.45h0.9v0.9h-0.9zM123.79 307.37h0.9v0.9h-0.9zM132.99 307.55h0.9v0.9h-0.9zM126.65 312.78h0.9v0.9h-0.9zM132.63 310.42h0.9v0.9h-0.9zM127.49 316.34h0.9v0.9h-0.9zM124.61 302.22h0.9v0.9h-0.9zM123.26 307.82h0.9v0.9h-0.9zM131.24 310.21h0.9v0.9h-0.9zM130.82 309.4h0.9v0.9h-0.9zM126.33 306.83h0.9v0.9h-0.9zM121.39 310.93h0.9v0.9h-0.9zM127.57 311.18h0.9v0.9h-0.9zM124.1 307.42h0.9v0.9h-0.9zM127.63 311.31h0.9v0.9h-0.9zM133.87 305.7h0.9v0.9h-0.9zM129.99 312.36h0.9v0.9h-0.9zM125.15 309.53h0.9v0.9h-0.9zM125.95 314.8h0.9v0.9h-0.9zM136.01 310.23h0.9v0.9h-0.9zM125.18 312.61h0.9v0.9h-0.9zM128.08 308.31h0.9v0.9h-0.9zM129.08 312.31h0.9v0.9h-0.9zM124.64 312.23h0.9v0.9h-0.9zM124.97 309.61h0.9v0.9h-0.9zM120.53 314.61h0.9v0.9h-0.9zM124.71 309.58h0.9v0.9h-0.9zM126.01 311.87h0.9v0.9h-0.9zM123.93 311.82h0.9v0.9h-0.9zM122.96 303.4h0.9v0.9h-0.9zM128.16 309.62h0.9v0.9h-0.9zM129.58 301.66h0.9v0.9h-0.9zM126.6 306.57h0.9v0.9h-0.9zM125.44 307.52h0.9v0.9h-0.9zM124.72 306.48h0.9v0.9h-0.9zM130.12 302.49h0.9v0.9h-0.9zM119.7 310.32h0.9v0.9h-0.9zM133.95 306.12h0.9v0.9h-0.9zM122.67 304.58h0.9v0.9h-0.9zM122.22 313.75h0.9v0.9h-0.9zM128.81 312.42h0.9v0.9h-0.9zM127.51 309.9h0.9v0.9h-0.9zM123.92 305.33h0.9v0.9h-0.9zM128.57 318.41h0.9v0.9h-0.9zM124.75 313.82h0.9v0.9h-0.9zM123.45 309.16h0.9v0.9h-0.9zM132.74 308.73h0.9v0.9h-0.9zM128.63 306.88h0.9v0.9h-0.9zM133.44 304.34h0.9v0.9h-0.9zM128.34 308.1h0.9v0.9h-0.9zM126.93 310.38h0.9v0.9h-0.9zM131.25 312.33h0.9v0.9h-0.9zM130.25 310.4h0.9v0.9h-0.9zM122.04 314.1h0.9v0.9h-0.9zM132.12 310.84h0.9v0.9h-0.9zM129.24 308.13h0.9v0.9h-0.9zM120.6 312.74h0.9v0.9h-0.9zM123.36 316.28h0.9v0.9h-0.9zM128.84 308.94h0.9v0.9h-0.9zM123.79 309.42h0.9v0.9h-0.9zM122.26 307.58h0.9v0.9h-0.9zM132.35 307.89h0.9v0.9h-0.9zM133.28 308.64h0.9v0.9h-0.9zM127.78 305.5h0.9v0.9h-0.9zM125 307.31h0.9v0.9h-0.9zM120.79 316.36h0.9v0.9h-0.9zM128.45 308.69h0.9v0.9h-0.9zM121.93 309.13h0.9v0.9h-0.9zM122.09 305.32h0.9v0.9h-0.9zM125.43 317.22h0.9v0.9h-0.9z" fill="#000" fill-opacity="0.35"/>
<path d="M119.05 314.99h0.9v0.9h-0.9zM131.89 310.28h0.9v0.9h-0.9zM125.85 303.49h0.9v0.9h-0.9zM132.87 310.91h0.9v0.9h-0.9zM140.26 308.06h0.9v0.9h-0.9zM141.78 312.51h0.9v0.9h-0.9zM133.04 313.95h0.9v0.9h-0.9zM136.78 324.76h0.9v0.9h-0.9zM126.6 309.13h0.9v0.9h-0.9zM132.5 328.45h0.9v0.9h-0.9zM125.49 312.76h0.9v0.9h-0.9zM127.84 321.24h0.9v0.9h-0.9zM123.89 314.67h0.9v0.9h-0.9zM123.95 314.23h0.9v0.9h-0.9zM141.11 324.48h0.9v0.9h-0.9zM125.19 319.5h0.9v0.9h-0.9zM120.96 325.47h0.9v0.9h-0.9zM130.24 318.08h0.9v0.9h-0.9zM142.26 316.24h0.9v0.9h-0.9zM125.76 311.36h0.9v0.9h-0.9zM123.09 320.22h0.9v0.9h-0.9zM127.19 319.93h0.9v0.9h-0.9zM130.4 325.07h0.9v0.9h-0.9zM133.71 327.72h0.9v0.9h-0.9zM121.14 321.88h0.9v0.9h-0.9zM122.02 321.21h0.9v0.9h-0.9zM123.79 319.23h0.9v0.9h-0.9zM135.29 310.51h0.9v0.9h-0.9zM133.42 307.87h0.9v0.9h-0.9zM139.74 322.99h0.9v0.9h-0.9zM129.86 321.27h0.9v0.9h-0.9zM127.31 310.05h0.9v0.9h-0.9zM139.16 323.67h0.9v0.9h-0.9zM136.49 328.5h0.9v0.9h-0.9zM125.75 312.83h0.9v0.9h-0.9zM129.39 316.47h0.9v0.9h-0.9zM122.84 317.75h0.9v0.9h-0.9zM140.51 311.18h0.9v0.9h-0.9zM136.2 314.84h0.9v0.9h-0.9zM129.87 316.91h0.9v0.9h-0.9zM144.45 320h0.9v0.9h-0.9zM137.24 317.17h0.9v0.9h-0.9zM131.07 316.75h0.9v0.9h-0.9zM126.81 304.22h0.9v0.9h-0.9zM145 301.94h0.9v0.9h-0.9zM136.06 307h0.9v0.9h-0.9zM129.6 312.08h0.9v0.9h-0.9zM125.79 310.12h0.9v0.9h-0.9zM127 321.95h0.9v0.9h-0.9zM145.33 323.11h0.9v0.9h-0.9zM131.11 314.91h0.9v0.9h-0.9zM129.07 315.86h0.9v0.9h-0.9zM125.78 314.65h0.9v0.9h-0.9zM138.65 314.29h0.9v0.9h-0.9zM124.06 315.08h0.9v0.9h-0.9zM131.96 315.41h0.9v0.9h-0.9zM128.9 321.41h0.9v0.9h-0.9zM130.8 308.29h0.9v0.9h-0.9zM136.18 310.56h0.9v0.9h-0.9zM137.97 322.27h0.9v0.9h-0.9zM135.43 318.37h0.9v0.9h-0.9zM119.36 314.5h0.9v0.9h-0.9zM132.28 320.9h0.9v0.9h-0.9zM121.32 314.83h0.9v0.9h-0.9zM131.88 316.95h0.9v0.9h-0.9zM129.48 311.59h0.9v0.9h-0.9zM127.26 322.01h0.9v0.9h-0.9zM139.21 312.16h0.9v0.9h-0.9zM130.15 312.69h0.9v0.9h-0.9zM137.21 317.47h0.9v0.9h-0.9zM124.83 309.24h0.9v0.9h-0.9zM142.62 305.3h0.9v0.9h-0.9zM138.7 320.3h0.9v0.9h-0.9zM138.57 324.71h0.9v0.9h-0.9zM127.04 315.89h0.9v0.9h-0.9zM139.84 320.28h0.9v0.9h-0.9zM124.5 310.23h0.9v0.9h-0.9zM126.47 304.11h0.9v0.9h-0.9zM126.24 318.5h0.9v0.9h-0.9zM132.77 314.32h0.9v0.9h-0.9zM132.61 321h0.9v0.9h-0.9zM120.59 309.77h0.9v0.9h-0.9zM139.76 321.64h0.9v0.9h-0.9zM118.78 310.48h0.9v0.9h-0.9zM143.97 321.77h0.9v0.9h-0.9zM129.88 323.82h0.9v0.9h-0.9zM143.27 326.83h0.9v0.9h-0.9zM118.86 306.11h0.9v0.9h-0.9zM126.67 315.64h0.9v0.9h-0.9zM128.04 317.88h0.9v0.9h-0.9zM144.27 324.43h0.9v0.9h-0.9zM139.94 316h0.9v0.9h-0.9zM133.32 315.88h0.9v0.9h-0.9zM130.96 322.89h0.9v0.9h-0.9zM120.87 323.81h0.9v0.9h-0.9zM133.3 308.8h0.9v0.9h-0.9zM139.71 316.11h0.9v0.9h-0.9zM122.36 318.95h0.9v0.9h-0.9zM121.99 323.45h0.9v0.9h-0.9zM133.17 315.43h0.9v0.9h-0.9zM138.81 316.27h0.9v0.9h-0.9zM140.38 326.88h0.9v0.9h-0.9zM138.74 308.67h0.9v0.9h-0.9zM137.08 314.01h0.9v0.9h-0.9zM133.95 323.42h0.9v0.9h-0.9zM125.3 317.6h0.9v0.9h-0.9zM144.2 309.65h0.9v0.9h-0.9zM129.47 321.57h0.9v0.9h-0.9zM129.11 323.85h0.9v0.9h-0.9zM122.2 304.58h0.9v0.9h-0.9zM134.52 314.98h0.9v0.9h-0.9zM133.95 323.37h0.9v0.9h-0.9zM140.5 313.37h0.9v0.9h-0.9zM127.73 301.24h0.9v0.9h-0.9zM122.51 317.9h0.9v0.9h-0.9zM133.1 304.71h0.9v0.9h-0.9zM138.14 315.72h0.9v0.9h-0.9zM140.95 313.33h0.9v0.9h-0.9zM139.75 307.59h0.9v0.9h-0.9zM137.39 319.15h0.9v0.9h-0.9zM137.12 328.81h0.9v0.9h-0.9zM138.11 319.91h0.9v0.9h-0.9zM127.88 308.63h0.9v0.9h-0.9zM122.14 314.96h0.9v0.9h-0.9zM136.33 311.11h0.9v0.9h-0.9zM133.84 321.43h0.9v0.9h-0.9zM128.39 310.46h0.9v0.9h-0.9zM137.2 314.62h0.9v0.9h-0.9zM133.93 315.04h0.9v0.9h-0.9zM138.92 315.94h0.9v0.9h-0.9zM133.18 315.43h0.9v0.9h-0.9zM136 306.57h0.9v0.9h-0.9zM134.7 320.88h0.9v0.9h-0.9zM132.49 323.22h0.9v0.9h-0.9zM125.2 311.56h0.9v0.9h-0.9zM140.76 323.28h0.9v0.9h-0.9zM122.58 321.03h0.9v0.9h-0.9zM141.3 306.44h0.9v0.9h-0.9zM131.25 314.56h0.9v0.9h-0.9zM136.9 302.81h0.9v0.9h-0.9zM137.44 316.02h0.9v0.9h-0.9zM136.95 319.25h0.9v0.9h-0.9zM137.83 303.15h0.9v0.9h-0.9zM132.96 326.24h0.9v0.9h-0.9zM124.67 320.18h0.9v0.9h-0.9zM132.04 303.69h0.9v0.9h-0.9zM121.8 325.67h0.9v0.9h-0.9zM130.18 325.4h0.9v0.9h-0.9zM134.15 322.79h0.9v0.9h-0.9zM127.63 317.69h0.9v0.9h-0.9zM127.83 322.89h0.9v0.9h-0.9zM126.02 324.42h0.9v0.9h-0.9zM145.14 306.81h0.9v0.9h-0.9zM129.63 320.13h0.9v0.9h-0.9zM131.91 302.92h0.9v0.9h-0.9zM138.63 311.57h0.9v0.9h-0.9zM132.87 319.08h0.9v0.9h-0.9zM118.58 324.08h0.9v0.9h-0.9zM139.31 320.38h0.9v0.9h-0.9zM136.45 318.72h0.9v0.9h-0.9zM118.69 312.18h0.9v0.9h-0.9zM138.4 313.52h0.9v0.9h-0.9zM131.36 318.84h0.9v0.9h-0.9zM131.91 317.97h0.9v0.9h-0.9zM135.45 316.03h0.9v0.9h-0.9zM121.32 313.99h0.9v0.9h-0.9zM139.65 310.9h0.9v0.9h-0.9zM135.32 318.33h0.9v0.9h-0.9zM130.97 310.15h0.9v0.9h-0.9zM125.55 323.08h0.9v0.9h-0.9zM124.3 318.65h0.9v0.9h-0.9zM132.17 317.53h0.9v0.9h-0.9zM139.72 314.93h0.9v0.9h-0.9zM128.65 310.97h0.9v0.9h-0.9zM131.49 316.37h0.9v0.9h-0.9zM122.98 328.4h0.9v0.9h-0.9zM124.53 314.99h0.9v0.9h-0.9zM119.85 317.16h0.9v0.9h-0.9zM134.3 324.21h0.9v0.9h-0.9zM139.85 312.24h0.9v0.9h-0.9zM145.4 315.21h0.9v0.9h-0.9zM144.93 328.95h0.9v0.9h-0.9zM127.55 307.91h0.9v0.9h-0.9zM135.95 326.87h0.9v0.9h-0.9zM134.67 324.28h0.9v0.9h-0.9zM136.41 322.72h0.9v0.9h-0.9zM142.89 313.79h0.9v0.9h-0.9zM118.55 315.12h0.9v0.9h-0.9zM124.11 307.03h0.9v0.9h-0.9zM129.64 321.4h0.9v0.9h-0.9zM138.22 309.32h0.9v0.9h-0.9zM127.65 326.22h0.9v0.9h-0.9zM141.1 318.71h0.9v0.9h-0.9zM136.06 318.9h0.9v0.9h-0.9zM118.77 317.39h0.9v0.9h-0.9zM135.18 315.14h0.9v0.9h-0.9zM138.15 322.67h0.9v0.9h-0.9zM131.58 314.14h0.9v0.9h-0.9zM120.64 324.61h0.9v0.9h-0.9zM126.03 318.41h0.9v0.9h-0.9zM144.73 321.85h0.9v0.9h-0.9zM119.84 315.36h0.9v0.9h-0.9zM124.79 303.6h0.9v0.9h-0.9zM124 320.41h0.9v0.9h-0.9zM134.12 314.45h0.9v0.9h-0.9zM132.67 307.23h0.9v0.9h-0.9zM124.31 314.76h0.9v0.9h-0.9zM138.17 313.6h0.9v0.9h-0.9zM129.65 318.53h0.9v0.9h-0.9zM144.15 306.51h0.9v0.9h-0.9zM135.84 317.41h0.9v0.9h-0.9zM130.48 317.87h0.9v0.9h-0.9zM129.01 306.71h0.9v0.9h-0.9zM138.6 315.11h0.9v0.9h-0.9zM128.07 321.73h0.9v0.9h-0.9zM122.94 310.61h0.9v0.9h-0.9zM138.43 322.57h0.9v0.9h-0.9zM120.49 316.8h0.9v0.9h-0.9zM128.99 310.93h0.9v0.9h-0.9zM122.15 310.77h0.9v0.9h-0.9zM127.87 324.96h0.9v0.9h-0.9zM136.65 326.32h0.9v0.9h-0.9zM138.36 321.74h0.9v0.9h-0.9zM141.54 319.41h0.9v0.9h-0.9zM144.76 324.53h0.9v0.9h-0.9zM128.61 319.93h0.9v0.9h-0.9zM127.74 310.77h0.9v0.9h-0.9zM134.96 307.59h0.9v0.9h-0.9zM129.69 326.63h0.9v0.9h-0.9zM132.19 322.19h0.9v0.9h-0.9zM136.77 318.91h0.9v0.9h-0.9zM132.03 320.62h0.9v0.9h-0.9zM122.51 320.4h0.9v0.9h-0.9zM121.56 310.33h0.9v0.9h-0.9zM125.88 305.95h0.9v0.9h-0.9zM135.55 320.98h0.9v0.9h-0.9zM137.72 310.4h0.9v0.9h-0.9zM137.36 307.42h0.9v0.9h-0.9zM127.44 321.64h0.9v0.9h-0.9zM122.64 317.51h0.9v0.9h-0.9zM139.77 317.18h0.9v0.9h-0.9zM139.36 312.22h0.9v0.9h-0.9zM144.5 311.01h0.9v0.9h-0.9zM123.4 316.13h0.9v0.9h-0.9zM130.87 313.29h0.9v0.9h-0.9zM122.79 306.17h0.9v0.9h-0.9zM136.3 321.33h0.9v0.9h-0.9zM124.4 317.72h0.9v0.9h-0.9zM135.04 318.87h0.9v0.9h-0.9zM129.58 316.35h0.9v0.9h-0.9zM133.51 307.99h0.9v0.9h-0.9zM129.77 321.99h0.9v0.9h-0.9zM126.08 325.89h0.9v0.9h-0.9zM128.92 307.72h0.9v0.9h-0.9zM128.44 305.82h0.9v0.9h-0.9zM136.46 304.02h0.9v0.9h-0.9zM131.19 314.23h0.9v0.9h-0.9zM128.35 319.19h0.9v0.9h-0.9zM133.6 311.81h0.9v0.9h-0.9zM138.32 312.62h0.9v0.9h-0.9zM139.01 326.11h0.9v0.9h-0.9zM134.38 322.98h0.9v0.9h-0.9zM119.18 320.25h0.9v0.9h-0.9zM124.12 310.19h0.9v0.9h-0.9zM122.69 316.17h0.9v0.9h-0.9zM136.69 307.3h0.9v0.9h-0.9zM125.51 302.03h0.9v0.9h-0.9zM138.81 309.88h0.9v0.9h-0.9zM134.14 310.16h0.9v0.9h-0.9zM140.51 329.17h0.9v0.9h-0.9zM125.34 312.42h0.9v0.9h-0.9zM144.9 327.84h0.9v0.9h-0.9zM130.9 320.81h0.9v0.9h-0.9zM128.48 314.88h0.9v0.9h-0.9zM133.66 304.24h0.9v0.9h-0.9zM137.49 319.71h0.9v0.9h-0.9zM131.52 303.86h0.9v0.9h-0.9zM126.86 304.26h0.9v0.9h-0.9zM137.48 317.54h0.9v0.9h-0.9zM127.56 324.9h0.9v0.9h-0.9zM138.85 320.79h0.9v0.9h-0.9zM136.19 321.57h0.9v0.9h-0.9zM128.53 319.25h0.9v0.9h-0.9zM131.73 314.12h0.9v0.9h-0.9zM127.15 325.05h0.9v0.9h-0.9zM121.96 314.61h0.9v0.9h-0.9zM140.11 315.47h0.9v0.9h-0.9zM134.12 306.9h0.9v0.9h-0.9zM120.84 328.56h0.9v0.9h-0.9zM132.41 315.35h0.9v0.9h-0.9zM118.74 308.2h0.9v0.9h-0.9zM121.85 315.63h0.9v0.9h-0.9zM129.99 311.41h0.9v0.9h-0.9zM125.06 316.84h0.9v0.9h-0.9zM141.4 305.43h0.9v0.9h-0.9zM130.29 324.09h0.9v0.9h-0.9zM132.27 309.91h0.9v0.9h-0.9zM138.31 327.15h0.9v0.9h-0.9zM129.19 322.18h0.9v0.9h-0.9zM121.65 327.13h0.9v0.9h-0.9zM125.28 309.99h0.9v0.9h-0.9zM124.24 302.68h0.9v0.9h-0.9zM134.99 311.74h0.9v0.9h-0.9zM139.92 316.8h0.9v0.9h-0.9zM121.51 313.74h0.9v0.9h-0.9zM141.83 324.38h0.9v0.9h-0.9zM130.24 319.28h0.9v0.9h-0.9zM126.4 316.99h0.9v0.9h-0.9zM125.71 317.24h0.9v0.9h-0.9zM126.41 317.48h0.9v0.9h-0.9zM137.17 315.87h0.9v0.9h-0.9zM119.51 319.78h0.9v0.9h-0.9zM128.82 312.26h0.9v0.9h-0.9zM136 309.7h0.9v0.9h-0.9zM139.28 320.22h0.9v0.9h-0.9zM124.87 310.74h0.9v0.9h-0.9zM129.93 309.16h0.9v0.9h-0.9zM132.32 313.38h0.9v0.9h-0.9zM121.28 320.76h0.9v0.9h-0.9zM126.72 319.44h0.9v0.9h-0.9zM127.15 313.88h0.9v0.9h-0.9zM135.65 323.23h0.9v0.9h-0.9zM139.85 315.84h0.9v0.9h-0.9zM144.15 313.45h0.9v0.9h-0.9zM118.94 301.9h0.9v0.9h-0.9zM131.3 315.73h0.9v0.9h-0.9zM133.11 315.18h0.9v0.9h-0.9zM128.77 313.6h0.9v0.9h-0.9zM131.37 307.49h0.9v0.9h-0.9zM142.33 327.64h0.9v0.9h-0.9zM122.42 322.82h0.9v0.9h-0.9zM124.41 323.61h0.9v0.9h-0.9zM132.02 323.2h0.9v0.9h-0.9zM136.39 319.98h0.9v0.9h-0.9zM128.59 328.05h0.9v0.9h-0.9zM134.18 319.66h0.9v0.9h-0.9zM143.71 314.06h0.9v0.9h-0.9zM131.71 305.05h0.9v0.9h-0.9zM141.8 313.66h0.9v0.9h-0.9zM131.88 316.94h0.9v0.9h-0.9zM139.47 320.8h0.9v0.9h-0.9zM134.12 317.32h0.9v0.9h-0.9zM138.06 320.3h0.9v0.9h-0.9zM145.43 310.55h0.9v0.9h-0.9zM142.58 318.9h0.9v0.9h-0.9zM133.7 321.18h0.9v0.9h-0.9zM128.06 321.42h0.9v0.9h-0.9zM129.18 321.47h0.9v0.9h-0.9zM124.31 324.89h0.9v0.9h-0.9zM130.61 317.84h0.9v0.9h-0.9zM123.99 312.98h0.9v0.9h-0.9zM133.3 323.95h0.9v0.9h-0.9zM142.48 312.42h0.9v0.9h-0.9zM130.45 313.65h0.9v0.9h-0.9zM141.04 305.84h0.9v0.9h-0.9zM145.11 311.66h0.9v0.9h-0.9zM142.26 321.75h0.9v0.9h-0.9zM137.98 321.68h0.9v0.9h-0.9zM136.23 320.93h0.9v0.9h-0.9zM141.61 319.22h0.9v0.9h-0.9zM136.64 319.26h0.9v0.9h-0.9zM132.29 309.44h0.9v0.9h-0.9zM120.09 304.83h0.9v0.9h-0.9zM137.15 313.53h0.9v0.9h-0.9zM137.9 312.51h0.9v0.9h-0.9zM134.42 314.48h0.9v0.9h-0.9zM145.19 325.7h0.9v0.9h-0.9zM133.6 329.52h0.9v0.9h-0.9zM138.39 322.77h0.9v0.9h-0.9zM120.73 311.38h0.9v0.9h-0.9zM132.57 314.38h0.9v0.9h-0.9zM126.46 300.87h0.9v0.9h-0.9zM124.46 315.2h0.9v0.9h-0.9zM133.8 307.89h0.9v0.9h-0.9zM132.48 301.14h0.9v0.9h-0.9zM129.43 316.05h0.9v0.9h-0.9zM142.28 317.5h0.9v0.9h-0.9zM143.22 318.54h0.9v0.9h-0.9zM141.43 326.28h0.9v0.9h-0.9zM144.67 317.53h0.9v0.9h-0.9zM120.28 317.54h0.9v0.9h-0.9zM135.29 310.7h0.9v0.9h-0.9zM138.4 314.81h0.9v0.9h-0.9zM138.1 317.49h0.9v0.9h-0.9zM122.84 323.99h0.9v0.9h-0.9zM133.58 302.96h0.9v0.9h-0.9zM133.94 315.81h0.9v0.9h-0.9zM124.09 301.5h0.9v0.9h-0.9zM135.04 323.42h0.9v0.9h-0.9zM130.83 326.85h0.9v0.9h-0.9zM130.8 308.68h0.9v0.9h-0.9zM130.58 319.35h0.9v0.9h-0.9zM124.6 310.07h0.9v0.9h-0.9zM133.44 322.69h0.9v0.9h-0.9zM129.04 319.75h0.9v0.9h-0.9zM126.65 313.44h0.9v0.9h-0.9zM132.79 323.4h0.9v0.9h-0.9zM145.11 315.09h0.9v0.9h-0.9zM138.47 313.31h0.9v0.9h-0.9zM134.72 305.22h0.9v0.9h-0.9zM124.79 305.84h0.9v0.9h-0.9zM140.16 312.59h0.9v0.9h-0.9zM131.87 316.6h0.9v0.9h-0.9zM129.3 307.12h0.9v0.9h-0.9zM130.82 321.33h0.9v0.9h-0.9zM129.33 315.26h0.9v0.9h-0.9zM133.85 317.86h0.9v0.9h-0.9zM128.15 324.25h0.9v0.9h-0.9zM135.58 327.5h0.9v0.9h-0.9zM131.94 300.9h0.9v0.9h-0.9zM135.14 303.62h0.9v0.9h-0.9zM126.16 325.54h0.9v0.9h-0.9zM134.07 310.63h0.9v0.9h-0.9zM130.16 316.92h0.9v0.9h-0.9zM127.43 313.66h0.9v0.9h-0.9zM125.54 317.74h0.9v0.9h-0.9zM145.06 327.13h0.9v0.9h-0.9zM130.1 305.38h0.9v0.9h-0.9zM133.18 311.18h0.9v0.9h-0.9zM124.1 314.4h0.9v0.9h-0.9zM133.43 321.18h0.9v0.9h-0.9zM125.92 318.04h0.9v0.9h-0.9zM134.42 322.14h0.9v0.9h-0.9zM120.68 314.51h0.9v0.9h-0.9zM127.06 312.44h0.9v0.9h-0.9zM124.34 322.26h0.9v0.9h-0.9zM138.05 318.73h0.9v0.9h-0.9zM119.99 311.26h0.9v0.9h-0.9zM130.65 319.09h0.9v0.9h-0.9zM126.29 314h0.9v0.9h-0.9zM124.56 328.47h0.9v0.9h-0.9zM138.56 306.97h0.9v0.9h-0.9zM138.05 317.35h0.9v0.9h-0.9zM124.19 322.1h0.9v0.9h-0.9zM125.82 313.74h0.9v0.9h-0.9zM131.34 317.67h0.9v0.9h-0.9zM127.33 318.31h0.9v0.9h-0.9zM131.18 317.54h0.9v0.9h-0.9zM134.56 311.2h0.9v0.9h-0.9zM119.19 315.49h0.9v0.9h-0.9zM141.94 318.57h0.9v0.9h-0.9zM133.13 310.4h0.9v0.9h-0.9zM121.17 306.58h0.9v0.9h-0.9zM123.14 313.2h0.9v0.9h-0.9zM130.93 302.65h0.9v0.9h-0.9zM126.37 317.82h0.9v0.9h-0.9zM134.48 321.95h0.9v0.9h-0.9zM128.09 314.94h0.9v0.9h-0.9zM129.11 320.2h0.9v0.9h-0.9zM125.12 314.82h0.9v0.9h-0.9zM132.43 313.41h0.9v0.9h-0.9zM121.72 326.39h0.9v0.9h-0.9zM135.51 309.11h0.9v0.9h-0.9zM123.56 313.26h0.9v0.9h-0.9zM135.83 327.45h0.9v0.9h-0.9zM143.11 320.26h0.9v0.9h-0.9zM131.75 321.11h0.9v0.9h-0.9zM124.31 310.7h0.9v0.9h-0.9zM135.78 317.58h0.9v0.9h-0.9zM133.21 308.31h0.9v0.9h-0.9zM133.32 305.1h0.9v0.9h-0.9zM139.24 316.14h0.9v0.9h-0.9zM125.55 312.48h0.9v0.9h-0.9zM125.06 326.47h0.9v0.9h-0.9zM131.33 318h0.9v0.9h-0.9zM122.82 306.07h0.9v0.9h-0.9zM133.22 312.67h0.9v0.9h-0.9zM135.56 324.12h0.9v0.9h-0.9zM130.16 320.14h0.9v0.9h-0.9zM132.7 317.85h0.9v0.9h-0.9zM126.65 317.88h0.9v0.9h-0.9zM134.96 316.64h0.9v0.9h-0.9zM127.22 304.97h0.9v0.9h-0.9zM121.88 327.97h0.9v0.9h-0.9zM140 318.31h0.9v0.9h-0.9zM133.71 314.92h0.9v0.9h-0.9zM137.1 323.37h0.9v0.9h-0.9zM129 318.42h0.9v0.9h-0.9zM139.49 304.03h0.9v0.9h-0.9zM123 311.71h0.9v0.9h-0.9zM121.07 312.72h0.9v0.9h-0.9zM123.82 313.04h0.9v0.9h-0.9zM135.33 307.11h0.9v0.9h-0.9zM132.03 326.57h0.9v0.9h-0.9zM132.83 306.75h0.9v0.9h-0.9zM125.92 324.95h0.9v0.9h-0.9zM128.9 311.28h0.9v0.9h-0.9zM137.98 310.62h0.9v0.9h-0.9zM121.5 320.73h0.9v0.9h-0.9zM131.33 311.11h0.9v0.9h-0.9zM135.22 324.47h0.9v0.9h-0.9zM140.57 316.85h0.9v0.9h-0.9zM135.15 319.84h0.9v0.9h-0.9zM125.43 311.81h0.9v0.9h-0.9zM124.04 308.72h0.9v0.9h-0.9zM140.69 316.11h0.9v0.9h-0.9zM126.17 302.14h0.9v0.9h-0.9zM132.63 315.68h0.9v0.9h-0.9zM122.23 315.32h0.9v0.9h-0.9zM120.61 319.86h0.9v0.9h-0.9zM121.47 311.08h0.9v0.9h-0.9zM138.04 320.61h0.9v0.9h-0.9zM136.65 328.82h0.9v0.9h-0.9zM128.69 312.19h0.9v0.9h-0.9zM136.06 309.66h0.9v0.9h-0.9zM123.61 323.32h0.9v0.9h-0.9zM142.37 302.41h0.9v0.9h-0.9zM135.25 316h0.9v0.9h-0.9zM139.04 313.49h0.9v0.9h-0.9zM130.14 326.82h0.9v0.9h-0.9zM126.04 319.26h0.9v0.9h-0.9zM136.65 315.2h0.9v0.9h-0.9zM138.77 320.03h0.9v0.9h-0.9zM138.37 303.1h0.9v0.9h-0.9zM122.22 318.32h0.9v0.9h-0.9zM141.29 326.99h0.9v0.9h-0.9zM131.31 310.4h0.9v0.9h-0.9zM121.72 301.25h0.9v0.9h-0.9zM126.86 320.49h0.9v0.9h-0.9zM130.57 304.83h0.9v0.9h-0.9zM130.33 316.46h0.9v0.9h-0.9zM124.72 327.17h0.9v0.9h-0.9zM134.97 324.46h0.9v0.9h-0.9zM132.06 308.66h0.9v0.9h-0.9zM140.54 324.5h0.9v0.9h-0.9zM126.13 305.94h0.9v0.9h-0.9zM138.25 311.76h0.9v0.9h-0.9zM121.14 315.44h0.9v0.9h-0.9zM135.96 310.36h0.9v0.9h-0.9zM131.5 323.65h0.9v0.9h-0.9zM137.65 304.21h0.9v0.9h-0.9zM139.13 315.42h0.9v0.9h-0.9zM134.38 304.08h0.9v0.9h-0.9zM126.13 312.12h0.9v0.9h-0.9zM122.78 328.98h0.9v0.9h-0.9zM141.82 303.5h0.9v0.9h-0.9zM129.46 303.2h0.9v0.9h-0.9zM135.82 318.78h0.9v0.9h-0.9zM138.6 308.53h0.9v0.9h-0.9zM138.74 313.95h0.9v0.9h-0.9zM135.69 317.84h0.9v0.9h-0.9zM143.15 306.26h0.9v0.9h-0.9zM119.19 321.07h0.9v0.9h-0.9zM129.76 321.22h0.9v0.9h-0.9zM120.77 316.77h0.9v0.9h-0.9zM137.44 329.05h0.9v0.9h-0.9zM126.85 323.19h0.9v0.9h-0.9zM142.77 308.09h0.9v0.9h-0.9zM128.83 301.92h0.9v0.9h-0.9zM123.65 319.43h0.9v0.9h-0.9zM137.42 327.05h0.9v0.9h-0.9zM122.43 320.61h0.9v0.9h-0.9zM131.02 321.46h0.9v0.9h-0.9zM128.59 321.12h0.9v0.9h-0.9zM122.79 308.62h0.9v0.9h-0.9zM129.79 302.71h0.9v0.9h-0.9zM141.83 314.18h0.9v0.9h-0.9zM122.75 309.47h0.9v0.9h-0.9zM122.87 317.03h0.9v0.9h-0.9zM128.03 322.69h0.9v0.9h-0.9zM121.25 315.53h0.9v0.9h-0.9zM142.87 315.16h0.9v0.9h-0.9zM138.84 315.61h0.9v0.9h-0.9zM121.78 309.34h0.9v0.9h-0.9zM121.49 318.7h0.9v0.9h-0.9zM145.53 322.58h0.9v0.9h-0.9zM122.77 316.96h0.9v0.9h-0.9zM124.96 325.04h0.9v0.9h-0.9zM119.56 321.94h0.9v0.9h-0.9zM120.63 312.51h0.9v0.9h-0.9zM132.64 317.14h0.9v0.9h-0.9zM130.66 315.58h0.9v0.9h-0.9zM123.77 315.24h0.9v0.9h-0.9zM130.57 308.92h0.9v0.9h-0.9zM136.05 317.42h0.9v0.9h-0.9zM124.67 326.06h0.9v0.9h-0.9zM126.24 301.49h0.9v0.9h-0.9zM142.04 313.19h0.9v0.9h-0.9zM143.76 319.4h0.9v0.9h-0.9zM123.51 324.65h0.9v0.9h-0.9zM135.12 323.17h0.9v0.9h-0.9zM131.51 328.04h0.9v0.9h-0.9zM139.15 313.51h0.9v0.9h-0.9zM131.75 308.5h0.9v0.9h-0.9zM129.51 327.59h0.9v0.9h-0.9zM127.09 324.71h0.9v0.9h-0.9zM123.11 308.6h0.9v0.9h-0.9zM139.21 314.76h0.9v0.9h-0.9zM133.03 323.97h0.9v0.9h-0.9zM145.17 306.56h0.9v0.9h-0.9zM136.16 317.82h0.9v0.9h-0.9zM129.06 311.51h0.9v0.9h-0.9zM134.31 309.21h0.9v0.9h-0.9zM133.94 310.36h0.9v0.9h-0.9zM135.51 314.17h0.9v0.9h-0.9zM124.98 320.23h0.9v0.9h-0.9zM137.58 303.72h0.9v0.9h-0.9zM120.04 314.04h0.9v0.9h-0.9zM127.86 326.27h0.9v0.9h-0.9zM144.78 319.74h0.9v0.9h-0.9zM140.55 313.56h0.9v0.9h-0.9zM119.37 318.4h0.9v0.9h-0.9zM133.33 325.01h0.9v0.9h-0.9zM125.62 303.64h0.9v0.9h-0.9zM129.39 319.82h0.9v0.9h-0.9zM129.27 312.15h0.9v0.9h-0.9zM131.8 314.59h0.9v0.9h-0.9zM143.11 305.99h0.9v0.9h-0.9zM133.45 304.25h0.9v0.9h-0.9zM130.77 319.46h0.9v0.9h-0.9zM134.01 318.4h0.9v0.9h-0.9zM124.64 304.92h0.9v0.9h-0.9zM139.33 313.36h0.9v0.9h-0.9zM119.31 328.02h0.9v0.9h-0.9zM133.94 325.64h0.9v0.9h-0.9zM131.22 303.24h0.9v0.9h-0.9zM129.69 312.75h0.9v0.9h-0.9zM133.6 314.63h0.9v0.9h-0.9zM135.94 306.65h0.9v0.9h-0.9zM126.4 312.07h0.9v0.9h-0.9zM134.67 302.89h0.9v0.9h-0.9zM131.96 323.69h0.9v0.9h-0.9zM131.56 318.05h0.9v0.9h-0.9zM134.25 319.59h0.9v0.9h-0.9zM120.73 315.03h0.9v0.9h-0.9zM123.81 308.75h0.9v0.9h-0.9zM129.61 324.23h0.9v0.9h-0.9zM139 311.52h0.9v0.9h-0.9zM143.86 321.21h0.9v0.9h-0.9zM136.21 320.4h0.9v0.9h-0.9zM143.53 307.18h0.9v0.9h-0.9zM126.62 316.03h0.9v0.9h-0.9zM130.9 315.53h0.9v0.9h-0.9zM129.38 315.11h0.9v0.9h-0.9zM128.13 305.1h0.9v0.9h-0.9zM140.75 316.22h0.9v0.9h-0.9zM134.2 316.31h0.9v0.9h-0.9zM124.37 303.72h0.9v0.9h-0.9zM128.61 320.16h0.9v0.9h-0.9zM130.03 321.69h0.9v0.9h-0.9zM124.26 313.77h0.9v0.9h-0.9zM132.36 315.26h0.9v0.9h-0.9zM132.58 327.11h0.9v0.9h-0.9zM127.46 317.07h0.9v0.9h-0.9zM125.46 320.23h0.9v0.9h-0.9zM133 310.35h0.9v0.9h-0.9zM122.37 306.78h0.9v0.9h-0.9zM128.62 317.21h0.9v0.9h-0.9zM126.8 315.17h0.9v0.9h-0.9zM132.23 317.71h0.9v0.9h-0.9zM136.7 312.13h0.9v0.9h-0.9zM126.37 322.04h0.9v0.9h-0.9zM125.88 310.93h0.9v0.9h-0.9zM130.24 320.24h0.9v0.9h-0.9zM123.56 306.45h0.9v0.9h-0.9zM140.58 316.21h0.9v0.9h-0.9zM137.86 307.17h0.9v0.9h-0.9zM133.63 323.67h0.9v0.9h-0.9zM126.49 309.91h0.9v0.9h-0.9zM129.22 309.84h0.9v0.9h-0.9zM132.11 310.08h0.9v0.9h-0.9zM131.31 305.99h0.9v0.9h-0.9zM128.2 313.42h0.9v0.9h-0.9zM127.09 315.43h0.9v0.9h-0.9zM120.08 305.66h0.9v0.9h-0.9zM123.86 321.69h0.9v0.9h-0.9zM122.82 308.8h0.9v0.9h-0.9zM127.72 309.18h0.9v0.9h-0.9zM143.73 320.08h0.9v0.9h-0.9zM133.3 328.32h0.9v0.9h-0.9zM120.72 303.02h0.9v0.9h-0.9zM140.61 319.36h0.9v0.9h-0.9zM126.58 322.17h0.9v0.9h-0.9zM120.07 318.79h0.9v0.9h-0.9zM139.48 322.87h0.9v0.9h-0.9zM127.9 312.94h0.9v0.9h-0.9zM127.25 321.35h0.9v0.9h-0.9zM127.53 314.94h0.9v0.9h-0.9zM139.88 315.15h0.9v0.9h-0.9zM133.13 315.05h0.9v0.9h-0.9zM122.9 318.86h0.9v0.9h-0.9zM125.48 311.25h0.9v0.9h-0.9zM124.44 308.63h0.9v0.9h-0.9zM130.52 309.51h0.9v0.9h-0.9zM127.46 323.59h0.9v0.9h-0.9zM139.82 318.85h0.9v0.9h-0.9zM141 323.84h0.9v0.9h-0.9zM127.03 322.17h0.9v0.9h-0.9zM132.36 321.95h0.9v0.9h-0.9zM120.14 318.81h0.9v0.9h-0.9zM126.53 313.16h0.9v0.9h-0.9zM130.82 315.67h0.9v0.9h-0.9zM133.16 324.25h0.9v0.9h-0.9zM144.07 308.57h0.9v0.9h-0.9zM133.63 305.73h0.9v0.9h-0.9zM135.27 326.98h0.9v0.9h-0.9zM126.47 313.84h0.9v0.9h-0.9zM141.3 319.41h0.9v0.9h-0.9zM137.97 312.46h0.9v0.9h-0.9zM128.26 313.14h0.9v0.9h-0.9zM144.57 304.42h0.9v0.9h-0.9zM126.51 328.1h0.9v0.9h-0.9zM130.39 307.52h0.9v0.9h-0.9zM133.04 314.31h0.9v0.9h-0.9zM129.94 319.88h0.9v0.9h-0.9zM137.83 304.39h0.9v0.9h-0.9zM132.73 327.64h0.9v0.9h-0.9zM119.38 315.26h0.9v0.9h-0.9zM120.93 321.18h0.9v0.9h-0.9zM123.66 313.41h0.9v0.9h-0.9zM127.4 319.54h0.9v0.9h-0.9zM119.65 305.13h0.9v0.9h-0.9zM132.62 326.57h0.9v0.9h-0.9zM126.61 319.22h0.9v0.9h-0.9zM133.28 316.84h0.9v0.9h-0.9zM130.81 311.71h0.9v0.9h-0.9zM128.86 325.37h0.9v0.9h-0.9zM134.84 325.98h0.9v0.9h-0.9zM124.69 316.92h0.9v0.9h-0.9zM125.42 305.7h0.9v0.9h-0.9zM138.76 313.8h0.9v0.9h-0.9zM133.07 304.97h0.9v0.9h-0.9zM128.79 315.05h0.9v0.9h-0.9zM127.62 323.92h0.9v0.9h-0.9zM134.94 317.04h0.9v0.9h-0.9zM132.96 312.53h0.9v0.9h-0.9zM124.83 313.81h0.9v0.9h-0.9zM122.15 314.68h0.9v0.9h-0.9zM130 324.79h0.9v0.9h-0.9zM126.46 317.03h0.9v0.9h-0.9zM130.73 311.21h0.9v0.9h-0.9zM130.42 302.19h0.9v0.9h-0.9zM140.63 311.49h0.9v0.9h-0.9zM130.72 301.84h0.9v0.9h-0.9zM135.87 305.99h0.9v0.9h-0.9zM142.71 307.84h0.9v0.9h-0.9zM124.62 321.17h0.9v0.9h-0.9zM142.02 300.54h0.9v0.9h-0.9z" fill="#000" fill-opacity="0.26"/>
<path d="M137.52 326.64h0.9v0.9h-0.9zM143.65 321.45h0.9v0.9h-0.9zM145.3 329.41h0.9v0.9h-0.9zM136.05 328.35h0.9v0.9h-0.9zM135.3 316.92h0.9v0.9h-0.9zM137.18 316.76h0.9v0.9h-0.9zM144.13 326.32h0.9v0.9h-0.9zM129.33 325.9h0.9v0.9h-0.9zM138.83 328.02h0.9v0.9h-0.9zM135.83 328.6h0.9v0.9h-0.9zM131.65 328.43h0.9v0.9h-0.9zM134.77 323.34h0.9v0.9h-0.9zM135.76 325.52h0.9v0.9h-0.9zM133.37 326.39h0.9v0.9h-0.9zM133.93 323.86h0.9v0.9h-0.9zM143.58 322.53h0.9v0.9h-0.9zM129.43 323.37h0.9v0.9h-0.9zM137.37 327.2h0.9v0.9h-0.9zM135.87 320.23h0.9v0.9h-0.9zM141.86 322.58h0.9v0.9h-0.9zM133.45 322.01h0.9v0.9h-0.9zM137.4 326.02h0.9v0.9h-0.9zM127.36 326.79h0.9v0.9h-0.9zM134.24 325.87h0.9v0.9h-0.9zM131.02 329.38h0.9v0.9h-0.9zM144.92 328.63h0.9v0.9h-0.9zM135.25 320h0.9v0.9h-0.9zM141.26 326.38h0.9v0.9h-0.9zM133.91 328.1h0.9v0.9h-0.9zM138.95 325.6h0.9v0.9h-0.9zM127.03 328.67h0.9v0.9h-0.9zM140.57 327.28h0.9v0.9h-0.9z" fill="#000" fill-opacity="0.16"/>
<path d="M134.59 338.06h0.9v0.9h-0.9zM134.34 343.2h0.9v0.9h-0.9zM139.29 331.66h0.9v0.9h-0.9zM149.08 335.66h0.9v0.9h-0.9zM134.98 343.93h0.9v0.9h-0.9zM133.92 337.98h0.9v0.9h-0.9zM136.49 334.15h0.9v0.9h-0.9zM133.04 339.52h0.9v0.9h-0.9zM124.46 344.91h0.9v0.9h-0.9zM136.17 344.42h0.9v0.9h-0.9zM131.58 345.89h0.9v0.9h-0.9zM132.34 346.12h0.9v0.9h-0.9zM142.76 344.95h0.9v0.9h-0.9zM126.76 340.59h0.9v0.9h-0.9zM126.28 350.47h0.9v0.9h-0.9zM129.26 343.26h0.9v0.9h-0.9zM133.13 338.87h0.9v0.9h-0.9zM132.5 340.08h0.9v0.9h-0.9zM144.27 333.1h0.9v0.9h-0.9zM137.98 343.82h0.9v0.9h-0.9zM129.91 344.58h0.9v0.9h-0.9zM135.94 348.12h0.9v0.9h-0.9zM137.12 340.94h0.9v0.9h-0.9zM135.12 341.85h0.9v0.9h-0.9zM135.29 345.31h0.9v0.9h-0.9zM130.08 348.48h0.9v0.9h-0.9zM144.36 339.32h0.9v0.9h-0.9zM140.72 340.4h0.9v0.9h-0.9zM141.22 348.91h0.9v0.9h-0.9zM130.8 346.44h0.9v0.9h-0.9zM134.43 344.32h0.9v0.9h-0.9zM131.37 345.05h0.9v0.9h-0.9zM134.17 340.51h0.9v0.9h-0.9zM137.9 338.71h0.9v0.9h-0.9zM125.2 336.07h0.9v0.9h-0.9zM139.02 340.19h0.9v0.9h-0.9zM138.45 344.31h0.9v0.9h-0.9zM144.44 346.51h0.9v0.9h-0.9zM131.49 334.24h0.9v0.9h-0.9zM128.53 336.21h0.9v0.9h-0.9zM134.46 349.89h0.9v0.9h-0.9zM144.54 340.62h0.9v0.9h-0.9zM138.47 338.74h0.9v0.9h-0.9zM127.6 344.22h0.9v0.9h-0.9zM128.38 350.73h0.9v0.9h-0.9zM127.18 339.5h0.9v0.9h-0.9zM137.95 336.91h0.9v0.9h-0.9zM129.47 340.07h0.9v0.9h-0.9zM144.66 345.22h0.9v0.9h-0.9zM136.19 344.54h0.9v0.9h-0.9zM141.86 350.46h0.9v0.9h-0.9zM133.49 333.15h0.9v0.9h-0.9zM129.38 340.54h0.9v0.9h-0.9zM133.32 340.1h0.9v0.9h-0.9zM131.03 351.24h0.9v0.9h-0.9zM130.1 333.88h0.9v0.9h-0.9zM128.29 331.5h0.9v0.9h-0.9zM125.63 333.58h0.9v0.9h-0.9zM133.65 345.49h0.9v0.9h-0.9zM124.77 343.51h0.9v0.9h-0.9zM134.37 340.01h0.9v0.9h-0.9zM122.59 343.83h0.9v0.9h-0.9zM138.89 349.05h0.9v0.9h-0.9zM133.37 349.76h0.9v0.9h-0.9zM135.44 332.88h0.9v0.9h-0.9zM138.06 347.71h0.9v0.9h-0.9zM136.39 339.81h0.9v0.9h-0.9zM133.61 345.3h0.9v0.9h-0.9zM124.61 342.4h0.9v0.9h-0.9zM127.6 335.99h0.9v0.9h-0.9zM136.21 349.73h0.9v0.9h-0.9zM134.96 332.81h0.9v0.9h-0.9zM150.75 342.57h0.9v0.9h-0.9zM119.42 339.3h0.9v0.9h-0.9zM130.79 335.32h0.9v0.9h-0.9zM140.05 340.77h0.9v0.9h-0.9zM132.67 341.65h0.9v0.9h-0.9zM128.34 341.57h0.9v0.9h-0.9zM137.09 349.36h0.9v0.9h-0.9zM146.64 335.14h0.9v0.9h-0.9zM137.22 333.87h0.9v0.9h-0.9zM135.74 349.07h0.9v0.9h-0.9zM138.78 337.75h0.9v0.9h-0.9zM145.45 347.03h0.9v0.9h-0.9zM142.16 340.7h0.9v0.9h-0.9zM142.79 338.91h0.9v0.9h-0.9zM140.1 340.38h0.9v0.9h-0.9zM140.73 344.57h0.9v0.9h-0.9zM131.43 340.57h0.9v0.9h-0.9zM138.54 345.05h0.9v0.9h-0.9zM141.68 341.16h0.9v0.9h-0.9zM136.24 342.28h0.9v0.9h-0.9zM131.13 335.9h0.9v0.9h-0.9zM143.85 347.48h0.9v0.9h-0.9zM146.8 335.41h0.9v0.9h-0.9zM133.28 336.54h0.9v0.9h-0.9zM139.67 333.05h0.9v0.9h-0.9zM135.3 341.7h0.9v0.9h-0.9zM146.64 333.49h0.9v0.9h-0.9zM140.7 344.54h0.9v0.9h-0.9zM140.69 341.4h0.9v0.9h-0.9zM130.97 336.85h0.9v0.9h-0.9zM120.36 342.21h0.9v0.9h-0.9zM139.34 339.76h0.9v0.9h-0.9zM138.12 335.26h0.9v0.9h-0.9zM132.8 342.61h0.9v0.9h-0.9zM123.07 339.4h0.9v0.9h-0.9zM134.35 348.97h0.9v0.9h-0.9zM140.26 337.31h0.9v0.9h-0.9zM127.15 348.53h0.9v0.9h-0.9zM130.12 351.07h0.9v0.9h-0.9zM143.93 345.53h0.9v0.9h-0.9zM126.15 346.65h0.9v0.9h-0.9zM130.19 336.05h0.9v0.9h-0.9zM132.11 348.63h0.9v0.9h-0.9zM138.07 344.66h0.9v0.9h-0.9zM132.44 335.98h0.9v0.9h-0.9zM141.42 335.22h0.9v0.9h-0.9zM133.39 344.5h0.9v0.9h-0.9zM134 347.93h0.9v0.9h-0.9zM138.38 345.19h0.9v0.9h-0.9zM148.75 335.74h0.9v0.9h-0.9zM131.07 333.67h0.9v0.9h-0.9zM139.26 350.15h0.9v0.9h-0.9zM148.81 335.82h0.9v0.9h-0.9zM141.4 338.57h0.9v0.9h-0.9zM140.22 332.56h0.9v0.9h-0.9zM138.93 334.68h0.9v0.9h-0.9zM137.93 332.41h0.9v0.9h-0.9zM130.4 341.15h0.9v0.9h-0.9zM145.53 342.38h0.9v0.9h-0.9zM136.99 336.52h0.9v0.9h-0.9zM146.48 344.69h0.9v0.9h-0.9zM134.46 349.86h0.9v0.9h-0.9zM138.56 337.77h0.9v0.9h-0.9zM132.89 340.1h0.9v0.9h-0.9zM125.18 345.51h0.9v0.9h-0.9zM139.94 341.4h0.9v0.9h-0.9zM125.87 340.58h0.9v0.9h-0.9zM127.37 342.91h0.9v0.9h-0.9zM134.13 345.23h0.9v0.9h-0.9zM140.24 332.63h0.9v0.9h-0.9zM132.83 346.03h0.9v0.9h-0.9zM131.23 348.26h0.9v0.9h-0.9zM138.6 347.32h0.9v0.9h-0.9zM131.5 346.39h0.9v0.9h-0.9zM133.79 341.81h0.9v0.9h-0.9zM138.82 335.5h0.9v0.9h-0.9zM130.94 345.05h0.9v0.9h-0.9zM126.54 337.61h0.9v0.9h-0.9zM139.04 344.35h0.9v0.9h-0.9zM126.63 343.3h0.9v0.9h-0.9zM127.78 348.87h0.9v0.9h-0.9zM137.38 334.86h0.9v0.9h-0.9zM132.27 339.39h0.9v0.9h-0.9zM131.62 349.49h0.9v0.9h-0.9zM136.86 335.39h0.9v0.9h-0.9zM135.98 337.35h0.9v0.9h-0.9zM131.67 339.53h0.9v0.9h-0.9zM139.75 335.18h0.9v0.9h-0.9zM130.17 348.5h0.9v0.9h-0.9zM131.69 350.22h0.9v0.9h-0.9zM140.31 342.75h0.9v0.9h-0.9zM130.15 348.52h0.9v0.9h-0.9zM138.32 338.62h0.9v0.9h-0.9zM134.36 332h0.9v0.9h-0.9zM136.27 347.02h0.9v0.9h-0.9zM130.12 346.57h0.9v0.9h-0.9zM124.39 340.9h0.9v0.9h-0.9zM136.6 332.2h0.9v0.9h-0.9zM145.99 343.22h0.9v0.9h-0.9zM141.41 332.4h0.9v0.9h-0.9zM121.88 339.3h0.9v0.9h-0.9zM142.86 338.69h0.9v0.9h-0.9zM141.8 343.26h0.9v0.9h-0.9zM136.97 348.58h0.9v0.9h-0.9zM131.6 336.63h0.9v0.9h-0.9zM141.43 343.72h0.9v0.9h-0.9zM140.35 338.78h0.9v0.9h-0.9zM127.52 343.31h0.9v0.9h-0.9zM129.66 346.2h0.9v0.9h-0.9zM132.23 339.51h0.9v0.9h-0.9zM136.93 338.71h0.9v0.9h-0.9zM131.34 348.21h0.9v0.9h-0.9zM131.04 343.37h0.9v0.9h-0.9zM137.44 346.09h0.9v0.9h-0.9zM139.56 342.29h0.9v0.9h-0.9zM146.38 346.39h0.9v0.9h-0.9zM130.71 332.58h0.9v0.9h-0.9zM131.04 350.83h0.9v0.9h-0.9zM137.48 335.18h0.9v0.9h-0.9zM129.33 339.19h0.9v0.9h-0.9zM139.37 339.38h0.9v0.9h-0.9zM139.14 341.37h0.9v0.9h-0.9zM142.8 336.03h0.9v0.9h-0.9z" fill="#000" fill-opacity="0.16"/>
<path d="M120.54 332.08h0.9v0.9h-0.9zM134.85 335.29h0.9v0.9h-0.9zM134.5 332.23h0.9v0.9h-0.9zM126.22 333.76h0.9v0.9h-0.9zM125.47 332.05h0.9v0.9h-0.9zM135.08 331.96h0.9v0.9h-0.9zM120.01 337.06h0.9v0.9h-0.9zM127.87 332.74h0.9v0.9h-0.9zM130.86 334.46h0.9v0.9h-0.9zM139.04 340.54h0.9v0.9h-0.9zM125.36 333.86h0.9v0.9h-0.9zM124.45 333.27h0.9v0.9h-0.9zM134.13 332.83h0.9v0.9h-0.9zM133.8 335.67h0.9v0.9h-0.9zM124.08 332.8h0.9v0.9h-0.9zM139.95 336.79h0.9v0.9h-0.9zM127.04 337h0.9v0.9h-0.9zM132.06 334.19h0.9v0.9h-0.9zM129.39 336.71h0.9v0.9h-0.9zM134.82 331.57h0.9v0.9h-0.9zM130.06 335.3h0.9v0.9h-0.9zM127.37 342.46h0.9v0.9h-0.9zM127.24 333.25h0.9v0.9h-0.9zM122.76 331.68h0.9v0.9h-0.9zM133.9 333.65h0.9v0.9h-0.9zM119.29 333.14h0.9v0.9h-0.9zM124.67 337.43h0.9v0.9h-0.9zM131.27 339.43h0.9v0.9h-0.9zM131.21 333.38h0.9v0.9h-0.9zM122.28 337.75h0.9v0.9h-0.9zM121.72 334.86h0.9v0.9h-0.9zM141.15 334.63h0.9v0.9h-0.9zM140.27 335.2h0.9v0.9h-0.9zM154.53 332.52h0.9v0.9h-0.9zM135.31 336.1h0.9v0.9h-0.9zM130.4 341.69h0.9v0.9h-0.9zM144.17 336.71h0.9v0.9h-0.9zM137.7 332.57h0.9v0.9h-0.9zM131.69 333.59h0.9v0.9h-0.9zM139.84 340.08h0.9v0.9h-0.9zM132.96 342.99h0.9v0.9h-0.9zM124.8 338.47h0.9v0.9h-0.9zM140.18 332.31h0.9v0.9h-0.9zM131.7 335.87h0.9v0.9h-0.9zM140.55 333.97h0.9v0.9h-0.9zM128.11 335.78h0.9v0.9h-0.9zM129.68 335.81h0.9v0.9h-0.9zM130.84 340.29h0.9v0.9h-0.9zM120.13 333.84h0.9v0.9h-0.9zM130.26 332.77h0.9v0.9h-0.9z" fill="#000" fill-opacity="0.14"/>
<ellipse cx="130.5" cy="313.5" rx="8" ry="6.5" fill="#000" fill-opacity="0.55" transform="rotate(0 130.5 313.5)" filter="url(#b2_5)"/>
<rect x="118.1" y="299.2" width="53.8" height="53.4" fill="none" stroke="#a8a8a8" stroke-width="0.9"/>
<path d="M118.6 300.3 L146.8 300.3 L146.8 325.5 L138.5 330.9 L118.6 330.9 Z" fill="none" stroke="#3a3a3a" stroke-width="1.2"/>
<text x="147.5" y="305.3" font-family="Liberation Serif" font-size="7.2" text-anchor="start" font-weight="normal" font-style="normal" fill="#000" style="stroke-width:0.1px">90%</text>
<text x="108" y="322.5" font-family="Liberation Serif" font-size="10" text-anchor="middle" font-weight="normal" font-style="normal" fill="#000" transform="rotate(-90 108 322.5)">CD25</text>
<line x1="105.8" y1="365.6" x2="105.8" y2="346.6" stroke="#000" stroke-width="2.4"/>
<line x1="104.6" y1="364.4" x2="123.1" y2="364.4" stroke="#000" stroke-width="2.4"/>
<path d="M105.8 336.7 L100.3 347.1 L111.3 347.1 Z" fill="#000" stroke="none" stroke-width="1"/>
<path d="M133 364.4 L122.6 358.9 L122.6 369.9 Z" fill="#000" stroke="none" stroke-width="1"/>
<text x="134.5" y="368.4" font-family="Liberation Serif" font-size="10.2" text-anchor="start" font-weight="normal" font-style="normal" fill="#000">CD127</text>
<text x="186.6" y="214.7" font-family="Liberation Serif" font-size="12" text-anchor="start" font-weight="normal" font-style="normal" fill="#000">v.</text>
<line x1="223.8" y1="227.3" x2="223.8" y2="353.3" stroke="#000" stroke-width="1.6"/>
<line x1="223" y1="352.5" x2="287.2" y2="352.5" stroke="#000" stroke-width="1.6"/>
<line x1="220.3" y1="352.5" x2="223.8" y2="352.5" stroke="#000" stroke-width="1.3"/>
<text x="217.3" y="355.7" font-family="Liberation Serif" font-size="8.9" text-anchor="end" font-weight="normal" font-style="normal" fill="#000" style="stroke-width:0.1px">0</text>
<line x1="220.3" y1="331.7" x2="223.8" y2="331.7" stroke="#000" stroke-width="1.3"/>
<text x="217.3" y="334.9" font-family="Liberation Serif" font-size="8.9" text-anchor="end" font-weight="normal" font-style="normal" fill="#000" style="stroke-width:0.1px">1000</text>
<line x1="220.3" y1="310.9" x2="223.8" y2="310.9" stroke="#000" stroke-width="1.3"/>
<text x="217.3" y="314.1" font-family="Liberation Serif" font-size="8.9" text-anchor="end" font-weight="normal" font-style="normal" fill="#000" style="stroke-width:0.1px">2000</text>
<line x1="220.3" y1="290.1" x2="223.8" y2="290.1" stroke="#000" stroke-width="1.3"/>
<text x="217.3" y="293.3" font-family="Liberation Serif" font-size="8.9" text-anchor="end" font-weight="normal" font-style="normal" fill="#000" style="stroke-width:0.1px">3000</text>
<line x1="220.3" y1="269.3" x2="223.8" y2="269.3" stroke="#000" stroke-width="1.3"/>
<text x="217.3" y="272.5" font-family="Liberation Serif" font-size="8.9" text-anchor="end" font-weight="normal" font-style="normal" fill="#000" style="stroke-width:0.1px">4000</text>
<line x1="220.3" y1="248.5" x2="223.8" y2="248.5" stroke="#000" stroke-width="1.3"/>
<text x="217.3" y="251.7" font-family="Liberation Serif" font-size="8.9" text-anchor="end" font-weight="normal" font-style="normal" fill="#000" style="stroke-width:0.1px">5000</text>
<line x1="220.3" y1="227.7" x2="223.8" y2="227.7" stroke="#000" stroke-width="1.3"/>
<text x="217.3" y="230.9" font-family="Liberation Serif" font-size="8.9" text-anchor="end" font-weight="normal" font-style="normal" fill="#000" style="stroke-width:0.1px">6000</text>
<rect x="235.8" y="269.2" width="15.3" height="83.3" fill="#000"/>
<rect x="260.7" y="259.2" width="15.1" height="93.3" fill="#000"/>
<line x1="243.4" y1="269.5" x2="243.4" y2="256.5" stroke="#000" stroke-width="1.3"/>
<line x1="240.4" y1="256.5" x2="246.8" y2="256.5" stroke="#000" stroke-width="1.6"/>
<line x1="268.3" y1="259.5" x2="268.3" y2="239.3" stroke="#000" stroke-width="1.3"/>
<line x1="265.2" y1="239.3" x2="271.4" y2="239.3" stroke="#000" stroke-width="1.6"/>
<text x="243.8" y="363.3" font-family="Liberation Serif" font-size="7.9" text-anchor="middle" font-weight="normal" font-style="normal" fill="#000" style="stroke-width:0.1px">nTregs</text>
<text x="270.3" y="363.3" font-family="Liberation Serif" font-size="7.9" text-anchor="middle" font-weight="normal" font-style="normal" fill="#000" style="stroke-width:0.1px">mTregs</text>
<text x="192" y="287.3" font-family="Liberation Serif" font-size="10.5" text-anchor="middle" font-weight="normal" font-style="normal" fill="#000" transform="rotate(-90 192 287.3)">Trx-1 PE [MFI]</text>
<text x="307.6" y="214.3" font-family="Liberation Serif" font-size="12" text-anchor="start" font-weight="normal" font-style="normal" fill="#000">vi.</text>
<line x1="328.5" y1="227.6" x2="328.5" y2="352.3" stroke="#000" stroke-width="1.6"/>
<line x1="327.7" y1="351.6" x2="391.5" y2="351.6" stroke="#000" stroke-width="1.6"/>
<rect x="340.2" y="301.1" width="15.2" height="50.5" fill="#000"/>
<rect x="365.2" y="283" width="15.2" height="68.6" fill="#000"/>
<line x1="348.1" y1="301.5" x2="348.1" y2="281.8" stroke="#000" stroke-width="1.3"/>
<line x1="344.8" y1="281.8" x2="351.4" y2="281.8" stroke="#000" stroke-width="1.6"/>
<line x1="372.9" y1="283.5" x2="372.9" y2="251.6" stroke="#000" stroke-width="1.3"/>
<line x1="369.6" y1="251.6" x2="376.2" y2="251.6" stroke="#000" stroke-width="1.6"/>
<text x="346.6" y="363.3" font-family="Liberation Serif" font-size="7.7" text-anchor="middle" font-weight="normal" font-style="normal" fill="#000" style="stroke-width:0.1px">nTregs</text>
<text x="372.3" y="363.3" font-family="Liberation Serif" font-size="7.7" text-anchor="middle" font-weight="normal" font-style="normal" fill="#000" style="stroke-width:0.1px">mTregs</text>
<text x="313.6" y="277.1" font-family="Liberation Serif" font-size="10.45" text-anchor="middle" transform="rotate(-90 313.6 277.1)"><tspan font-style="italic">Trx-1</tspan> gene expression</text>
<line x1="312.1" y1="339" x2="312.1" y2="353" stroke="#000" stroke-width="2.1"/>
<path d="M312.1 331.2 L306.9 340 L317.3 340 Z" fill="#000" stroke="none" stroke-width="1"/>
<text x="397.2" y="199.7" font-family="Liberation Sans" font-size="11" text-anchor="start" font-weight="bold" font-style="normal" fill="#000">F</text>
<line x1="422.8" y1="225.7" x2="422.8" y2="351.6" stroke="#000" stroke-width="1.6"/>
<line x1="422" y1="350.8" x2="520" y2="350.8" stroke="#000" stroke-width="1.6"/>
<line x1="419.3" y1="350.8" x2="422.8" y2="350.8" stroke="#000" stroke-width="1.3"/>
<text x="416.6" y="353.9" font-family="Liberation Serif" font-size="8.8" text-anchor="end" font-weight="normal" font-style="normal" fill="#000" style="stroke-width:0.1px">0</text>
<line x1="419.3" y1="319.6" x2="422.8" y2="319.6" stroke="#000" stroke-width="1.3"/>
<text x="416.6" y="322.7" font-family="Liberation Serif" font-size="8.8" text-anchor="end" font-weight="normal" font-style="normal" fill="#000" style="stroke-width:0.1px">1</text>
<line x1="419.3" y1="288.4" x2="422.8" y2="288.4" stroke="#000" stroke-width="1.3"/>
<text x="416.6" y="291.5" font-family="Liberation Serif" font-size="8.8" text-anchor="end" font-weight="normal" font-style="normal" fill="#000" style="stroke-width:0.1px">2</text>
<line x1="419.3" y1="257.2" x2="422.8" y2="257.2" stroke="#000" stroke-width="1.3"/>
<text x="416.6" y="260.3" font-family="Liberation Serif" font-size="8.8" text-anchor="end" font-weight="normal" font-style="normal" fill="#000" style="stroke-width:0.1px">3</text>
<line x1="419.3" y1="226" x2="422.8" y2="226" stroke="#000" stroke-width="1.3"/>
<text x="416.6" y="229.1" font-family="Liberation Serif" font-size="8.8" text-anchor="end" font-weight="normal" font-style="normal" fill="#000" style="stroke-width:0.1px">4</text>
<rect x="435.2" y="267.3" width="15.1" height="83.5" fill="#000"/>
<rect x="491.2" y="313.36" width="15.1" height="37.44" fill="#000"/>
<line x1="442.6" y1="268.5" x2="442.6" y2="237.1" stroke="#000" stroke-width="1.3"/>
<line x1="439.4" y1="237.1" x2="446" y2="237.1" stroke="#000" stroke-width="1.6"/>
<line x1="498.6" y1="313.5" x2="498.6" y2="296.2" stroke="#000" stroke-width="1.3"/>
<line x1="495.2" y1="296.2" x2="502.2" y2="296.2" stroke="#000" stroke-width="1.6"/>
<path d="M442.5 232.4 L442.5 228.3 L496.1 228.3 L496.1 232.4" fill="none" stroke="#000" stroke-width="1.3"/>
<circle cx="470.2" cy="224.4" r="1.75" fill="#4a4a4a" filter="url(#b0_4)"/>
<text x="470.5" y="305.6" font-family="Liberation Serif" font-size="8.4" text-anchor="middle" font-weight="bold" font-style="normal" fill="#000">N.D.</text>
<text x="469.3" y="345.8" font-family="Liberation Serif" font-size="7.2" text-anchor="middle" font-weight="normal" font-style="normal" fill="#000" style="stroke-width:0.1px">+MA</text>
<text x="442.6" y="362.3" font-family="Liberation Serif" font-size="7.3" text-anchor="middle" font-weight="normal" font-style="normal" fill="#000" style="stroke-width:0.1px">Tregs</text>
<text x="469.5" y="362.3" font-family="Liberation Serif" font-size="7.3" text-anchor="middle" font-weight="normal" font-style="normal" fill="#000" style="stroke-width:0.1px">Tregs</text>
<text x="498.3" y="362.3" font-family="Liberation Serif" font-size="7.3" text-anchor="middle" font-weight="normal" font-style="normal" fill="#000" style="stroke-width:0.1px">T4conv</text>
<text x="404.4" y="290.4" font-family="Liberation Serif" font-size="10.4" text-anchor="middle" font-weight="normal" font-style="normal" fill="#000" transform="rotate(-90 404.4 290.4)">Trx-1 (pg/ml)</text>
<text x="6.3" y="383.2" font-family="Liberation Sans" font-size="11" text-anchor="start" font-weight="bold" font-style="normal" fill="#000">G</text>
<text x="20" y="393.6" font-family="Liberation Serif" font-size="12" text-anchor="start" font-weight="normal" font-style="normal" fill="#000">i.</text>
<line x1="52.4" y1="401.2" x2="52.4" y2="524.5" stroke="#000" stroke-width="1.8"/>
<line x1="51.6" y1="523.7" x2="320" y2="523.7" stroke="#000" stroke-width="1.8"/>
<line x1="48.4" y1="523.7" x2="52.4" y2="523.7" stroke="#000" stroke-width="1.4"/>
<text x="47.3" y="526.7" font-family="Liberation Serif" font-size="8.5" text-anchor="end" font-weight="normal" font-style="normal" fill="#000" style="stroke-width:0.1px">0</text>
<line x1="48.4" y1="499.15" x2="52.4" y2="499.15" stroke="#000" stroke-width="1.4"/>
<text x="47.3" y="502.15" font-family="Liberation Serif" font-size="8.5" text-anchor="end" font-weight="normal" font-style="normal" fill="#000" style="stroke-width:0.1px">20</text>
<line x1="48.4" y1="474.6" x2="52.4" y2="474.6" stroke="#000" stroke-width="1.4"/>
<text x="47.3" y="477.6" font-family="Liberation Serif" font-size="8.5" text-anchor="end" font-weight="normal" font-style="normal" fill="#000" style="stroke-width:0.1px">40</text>
<line x1="48.4" y1="450.05" x2="52.4" y2="450.05" stroke="#000" stroke-width="1.4"/>
<text x="47.3" y="453.05" font-family="Liberation Serif" font-size="8.5" text-anchor="end" font-weight="normal" font-style="normal" fill="#000" style="stroke-width:0.1px">60</text>
<line x1="48.4" y1="425.5" x2="52.4" y2="425.5" stroke="#000" stroke-width="1.4"/>
<text x="47.3" y="428.5" font-family="Liberation Serif" font-size="8.5" text-anchor="end" font-weight="normal" font-style="normal" fill="#000" style="stroke-width:0.1px">80</text>
<line x1="48.4" y1="400.95" x2="52.4" y2="400.95" stroke="#000" stroke-width="1.4"/>
<text x="47.3" y="403.95" font-family="Liberation Serif" font-size="8.5" text-anchor="end" font-weight="normal" font-style="normal" fill="#000" style="stroke-width:0.1px">100</text>
<rect x="59.25" y="522.47" width="15.3" height="1.23" fill="#000"/>
<rect x="77.6" y="514.86" width="15.3" height="8.84" fill="#8a8a8a"/>
<line x1="85.25" y1="514.86" x2="85.25" y2="510.81" stroke="#000" stroke-width="1.3"/>
<line x1="82.05" y1="510.81" x2="88.45" y2="510.81" stroke="#000" stroke-width="1.6"/>
<path d="M68.3 425.5 L68.3 421.7 L80.9 421.7 L80.9 425.5" fill="none" stroke="#000" stroke-width="1.3"/>
<circle cx="72.3" cy="417.3" r="1.75" fill="#4a4a4a" filter="url(#b0_4)"/>
<circle cx="77.6" cy="417.3" r="1.75" fill="#4a4a4a" filter="url(#b0_4)"/>
<rect x="107.6" y="522.1" width="6.4" height="1.6" fill="#000"/>
<line x1="110.8" y1="523.33" x2="110.8" y2="515.72" stroke="#000" stroke-width="1.3"/>
<line x1="107.6" y1="515.72" x2="114" y2="515.72" stroke="#000" stroke-width="1.6"/>
<rect x="121.35" y="513.63" width="15.3" height="10.07" fill="#8a8a8a"/>
<line x1="129" y1="513.63" x2="129" y2="513.02" stroke="#000" stroke-width="1.3"/>
<line x1="125.8" y1="513.02" x2="132.2" y2="513.02" stroke="#000" stroke-width="1.6"/>
<path d="M112 425.5 L112 421.7 L124.6 421.7 L124.6 425.5" fill="none" stroke="#000" stroke-width="1.3"/>
<circle cx="118.3" cy="417.3" r="1.75" fill="#4a4a4a" filter="url(#b0_4)"/>
<rect x="146.1" y="520.51" width="15.3" height="3.19" fill="#000"/>
<line x1="153.75" y1="520.51" x2="153.75" y2="513.63" stroke="#000" stroke-width="1.3"/>
<line x1="150.55" y1="513.63" x2="156.95" y2="513.63" stroke="#000" stroke-width="1.6"/>
<rect x="165.15" y="511.3" width="15.3" height="12.4" fill="#8a8a8a"/>
<line x1="172.8" y1="511.3" x2="172.8" y2="504.43" stroke="#000" stroke-width="1.3"/>
<line x1="169.6" y1="504.43" x2="176" y2="504.43" stroke="#000" stroke-width="1.6"/>
<path d="M155.5 425.5 L155.5 421.7 L168.1 421.7 L168.1 425.5" fill="none" stroke="#000" stroke-width="1.3"/>
<circle cx="161.8" cy="417.3" r="1.75" fill="#4a4a4a" filter="url(#b0_4)"/>
<rect x="189.85" y="500.13" width="15.3" height="23.57" fill="#000"/>
<line x1="197.5" y1="500.13" x2="197.5" y2="485.77" stroke="#000" stroke-width="1.3"/>
<line x1="194.3" y1="485.77" x2="200.7" y2="485.77" stroke="#000" stroke-width="1.6"/>
<rect x="208.75" y="470.55" width="15.3" height="53.15" fill="#8a8a8a"/>
<line x1="216.4" y1="470.55" x2="216.4" y2="457.66" stroke="#000" stroke-width="1.3"/>
<line x1="213.2" y1="457.66" x2="219.6" y2="457.66" stroke="#000" stroke-width="1.6"/>
<path d="M199.5 425.5 L199.5 421.7 L212.1 421.7 L212.1 425.5" fill="none" stroke="#000" stroke-width="1.3"/>
<circle cx="205.8" cy="417.3" r="1.75" fill="#4a4a4a" filter="url(#b0_4)"/>
<rect x="233.35" y="498.17" width="15.3" height="25.53" fill="#000"/>
<line x1="241" y1="498.17" x2="241" y2="480.61" stroke="#000" stroke-width="1.3"/>
<line x1="237.8" y1="480.61" x2="244.2" y2="480.61" stroke="#000" stroke-width="1.6"/>
<rect x="252.55" y="445.51" width="15.3" height="78.19" fill="#8a8a8a"/>
<line x1="260.2" y1="445.51" x2="260.2" y2="437.28" stroke="#000" stroke-width="1.3"/>
<line x1="257" y1="437.28" x2="263.4" y2="437.28" stroke="#000" stroke-width="1.6"/>
<path d="M247.2 425.5 L247.2 421.7 L259.8 421.7 L259.8 425.5" fill="none" stroke="#000" stroke-width="1.3"/>
<circle cx="251.2" cy="417.3" r="1.75" fill="#4a4a4a" filter="url(#b0_4)"/>
<circle cx="256.5" cy="417.3" r="1.75" fill="#4a4a4a" filter="url(#b0_4)"/>
<rect x="277.35" y="484.79" width="15.3" height="38.91" fill="#000"/>
<line x1="285" y1="484.79" x2="285" y2="461.1" stroke="#000" stroke-width="1.3"/>
<line x1="281.8" y1="461.1" x2="288.2" y2="461.1" stroke="#000" stroke-width="1.6"/>
<rect x="296.15" y="434.95" width="15.3" height="88.75" fill="#8a8a8a"/>
<line x1="303.8" y1="434.95" x2="303.8" y2="429.55" stroke="#000" stroke-width="1.3"/>
<line x1="300.6" y1="429.55" x2="307" y2="429.55" stroke="#000" stroke-width="1.6"/>
<path d="M290.6 425.5 L290.6 421.7 L303.2 421.7 L303.2 425.5" fill="none" stroke="#000" stroke-width="1.3"/>
<circle cx="296.9" cy="417.3" r="1.75" fill="#4a4a4a" filter="url(#b0_4)"/>
<rect x="60.3" y="388.2" width="5.2" height="4.9" fill="#8a8a8a"/>
<text x="68.9" y="392.7" font-family="Liberation Serif" font-size="6.5" text-anchor="start" font-weight="normal" font-style="normal" fill="#000" style="stroke-width:0.1px">T4conv</text>
<rect x="60.3" y="398.2" width="5.2" height="4.9" fill="#000"/>
<text x="68.9" y="402.5" font-family="Liberation Serif" font-size="6.5" text-anchor="start" font-weight="normal" font-style="normal" fill="#000" style="stroke-width:0.1px">Tregs</text>
<text x="28" y="464.7" font-family="Liberation Serif" font-size="10.4" text-anchor="middle" font-weight="normal" font-style="normal" fill="#000" transform="rotate(-90 28 464.7)">% specific cell death</text>
<text x="10" y="545" font-family="Liberation Serif" font-size="7.6" style="stroke-width:0.06px">H<tspan font-size="5" dy="1.5">2</tspan><tspan dy="-1.5">O</tspan><tspan font-size="5" dy="1.5">2</tspan><tspan dy="-1.5">(µM)</tspan></text>
<text x="10" y="557.5" font-family="Liberation Serif" font-size="7.6" text-anchor="start" font-weight="normal" font-style="normal" fill="#000" textLength="49" lengthAdjust="spacing" style="stroke-width:0.1px">Auranofin(nM)</text>
<text x="75.4" y="545" font-family="Liberation Serif" font-size="7.5" text-anchor="middle" font-weight="normal" font-style="normal" fill="#000" style="stroke-width:0.1px">0.5</text>
<text x="75.4" y="557.5" font-family="Liberation Serif" font-size="7.5" text-anchor="middle" font-weight="normal" font-style="normal" fill="#000" style="stroke-width:0.1px">0</text>
<text x="119" y="545" font-family="Liberation Serif" font-size="7.5" text-anchor="middle" font-weight="normal" font-style="normal" fill="#000" style="stroke-width:0.1px">0.5</text>
<text x="119" y="557.5" font-family="Liberation Serif" font-size="7.5" text-anchor="middle" font-weight="normal" font-style="normal" fill="#000" style="stroke-width:0.1px">25</text>
<text x="162.9" y="545" font-family="Liberation Serif" font-size="7.5" text-anchor="middle" font-weight="normal" font-style="normal" fill="#000" style="stroke-width:0.1px">0.5</text>
<text x="162.9" y="557.5" font-family="Liberation Serif" font-size="7.5" text-anchor="middle" font-weight="normal" font-style="normal" fill="#000" style="stroke-width:0.1px">50</text>
<text x="206.9" y="545" font-family="Liberation Serif" font-size="7.5" text-anchor="middle" font-weight="normal" font-style="normal" fill="#000" style="stroke-width:0.1px">5.0</text>
<text x="206.9" y="557.5" font-family="Liberation Serif" font-size="7.5" text-anchor="middle" font-weight="normal" font-style="normal" fill="#000" style="stroke-width:0.1px">0</text>
<text x="253.1" y="545" font-family="Liberation Serif" font-size="7.5" text-anchor="middle" font-weight="normal" font-style="normal" fill="#000" style="stroke-width:0.1px">5.0</text>
<text x="253.1" y="557.5" font-family="Liberation Serif" font-size="7.5" text-anchor="middle" font-weight="normal" font-style="normal" fill="#000" style="stroke-width:0.1px">25</text>
<text x="297" y="545" font-family="Liberation Serif" font-size="7.5" text-anchor="middle" font-weight="normal" font-style="normal" fill="#000" style="stroke-width:0.1px">5.0</text>
<text x="297" y="557.5" font-family="Liberation Serif" font-size="7.5" text-anchor="middle" font-weight="normal" font-style="normal" fill="#000" style="stroke-width:0.1px">50</text>
<text x="335.2" y="394.4" font-family="Liberation Serif" font-size="12" text-anchor="start" font-weight="normal" font-style="normal" fill="#000">ii.</text>
<line x1="370.8" y1="432.3" x2="370.8" y2="520.2" stroke="#000" stroke-width="1.8"/>
<line x1="370" y1="519.4" x2="443.5" y2="519.4" stroke="#000" stroke-width="1.8"/>
<line x1="366.8" y1="519.4" x2="370.8" y2="519.4" stroke="#000" stroke-width="1.4"/>
<text x="365.4" y="522.6" font-family="Liberation Serif" font-size="9.3" text-anchor="end" font-weight="normal" font-style="normal" fill="#000" style="stroke-width:0.1px">0</text>
<line x1="366.8" y1="504.9" x2="370.8" y2="504.9" stroke="#000" stroke-width="1.4"/>
<text x="365.4" y="508.1" font-family="Liberation Serif" font-size="9.3" text-anchor="end" font-weight="normal" font-style="normal" fill="#000" style="stroke-width:0.1px">10</text>
<line x1="366.8" y1="490.4" x2="370.8" y2="490.4" stroke="#000" stroke-width="1.4"/>
<text x="365.4" y="493.6" font-family="Liberation Serif" font-size="9.3" text-anchor="end" font-weight="normal" font-style="normal" fill="#000" style="stroke-width:0.1px">20</text>
<line x1="366.8" y1="475.9" x2="370.8" y2="475.9" stroke="#000" stroke-width="1.4"/>
<text x="365.4" y="479.1" font-family="Liberation Serif" font-size="9.3" text-anchor="end" font-weight="normal" font-style="normal" fill="#000" style="stroke-width:0.1px">30</text>
<line x1="366.8" y1="461.4" x2="370.8" y2="461.4" stroke="#000" stroke-width="1.4"/>
<text x="365.4" y="464.6" font-family="Liberation Serif" font-size="9.3" text-anchor="end" font-weight="normal" font-style="normal" fill="#000" style="stroke-width:0.1px">40</text>
<line x1="366.8" y1="446.9" x2="370.8" y2="446.9" stroke="#000" stroke-width="1.4"/>
<text x="365.4" y="450.1" font-family="Liberation Serif" font-size="9.3" text-anchor="end" font-weight="normal" font-style="normal" fill="#000" style="stroke-width:0.1px">50</text>
<line x1="366.8" y1="432.4" x2="370.8" y2="432.4" stroke="#000" stroke-width="1.4"/>
<text x="365.4" y="435.6" font-family="Liberation Serif" font-size="9.3" text-anchor="end" font-weight="normal" font-style="normal" fill="#000" style="stroke-width:0.1px">60</text>
<line x1="370.8" y1="519.4" x2="370.8" y2="522.9" stroke="#000" stroke-width="1.4"/>
<line x1="407.3" y1="519.4" x2="407.3" y2="522.9" stroke="#000" stroke-width="1.4"/>
<line x1="443.2" y1="519.4" x2="443.2" y2="522.9" stroke="#000" stroke-width="1.4"/>
<text x="372.5" y="533.8" font-family="Liberation Serif" font-size="9.2" text-anchor="middle" font-weight="normal" font-style="normal" fill="#000" style="stroke-width:0.1px">0</text>
<text x="407.3" y="533.8" font-family="Liberation Serif" font-size="9.2" text-anchor="middle" font-weight="normal" font-style="normal" fill="#000" style="stroke-width:0.1px">25</text>
<text x="443" y="533.8" font-family="Liberation Serif" font-size="9.2" text-anchor="middle" font-weight="normal" font-style="normal" fill="#000" style="stroke-width:0.1px">50</text>
<text x="407" y="542.7" font-family="Liberation Serif" font-size="7.6" text-anchor="middle" font-weight="normal" font-style="normal" fill="#000" style="stroke-width:0.1px">Auranofin (nM)</text>
<path d="M371.5 519 L439.8 436.4" fill="none" stroke="#808080" stroke-width="1.2"/>
<path d="M370.8 519.4 L444.36 497.65" fill="none" stroke="#888" stroke-width="1.1"/>
<path d="M372.6 517.3 L404.6 472 Q407.2 468 411 465 L439.3 441.6" fill="none" stroke="#000" stroke-width="2.7" stroke-dasharray="5.2 3"/>
<path d="M370.8 519.4 L407 514.62 L440.59 493.73" fill="none" stroke="#000" stroke-width="2.1"/>
<text x="375.7" y="438.6" font-family="Liberation Serif" font-size="7.5" text-anchor="start" font-weight="normal" font-style="normal" fill="#000" style="stroke-width:0.1px">5µM H<tspan font-size="5" dy="1.5">2</tspan><tspan dy="-1.5">O</tspan><tspan font-size="5" dy="1.5">2</tspan></text>
<text x="394.4" y="451.6" font-family="Liberation Serif" font-size="7.5" text-anchor="start" font-weight="normal" font-style="normal" fill="#000" style="stroke-width:0.1px">T4conv</text>
<text x="427.4" y="515.2" font-family="Liberation Serif" font-size="7.4" text-anchor="start" font-weight="normal" font-style="normal" fill="#000" style="stroke-width:0.1px">Tregs</text>
<path d="M445.3 443.7 L449.7 443.7 L449.7 492.7 L445.3 492.7" fill="none" stroke="#000" stroke-width="1.7"/>
<circle cx="454.6" cy="469.3" r="1.8" fill="#4a4a4a" filter="url(#b0_4)"/>
<circle cx="459.9" cy="469.3" r="1.8" fill="#4a4a4a" filter="url(#b0_4)"/>
<text x="347.8" y="475.2" font-family="Liberation Serif" font-size="10.7" text-anchor="middle" transform="rotate(-90 347.8 475.2)">% Δ(specific cell death)</text></svg>
</body></html>
